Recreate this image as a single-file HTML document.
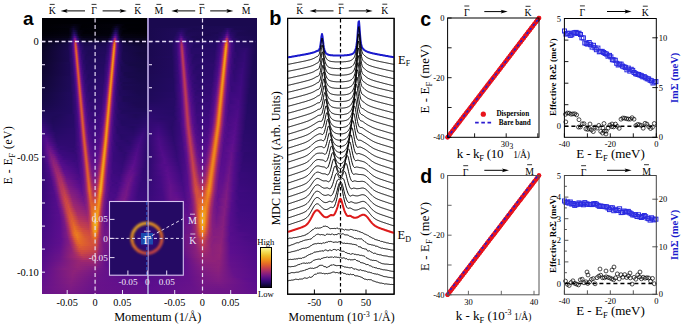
<!DOCTYPE html><html><head><meta charset="utf-8"><style>
html,body{margin:0;padding:0;background:#fff;}
body{width:685px;height:329px;overflow:hidden;position:relative;font-family:"Liberation Serif",serif;}
.hm{position:absolute;overflow:hidden}
.hm i{position:absolute;left:0;width:100%;display:block}
svg{position:absolute;left:0;top:0}
</style></head><body>
<div class="hm" style="left:42px;top:18px;width:105px;height:276px"><i style="top:0px;height:2px;background:linear-gradient(90deg,#000004 0.5px,#000004 104.5px)"></i><i style="top:2px;height:2px;background:linear-gradient(90deg,#000004 0.5px,#000004 104.5px)"></i><i style="top:4px;height:2px;background:linear-gradient(90deg,#000004 0.5px,#000006 79.5px,#000004 104.5px)"></i><i style="top:6px;height:2px;background:linear-gradient(90deg,#000004 0.5px,#020108 27.5px,#040212 32.5px,#000004 40.5px,#020109 70.5px,#060216 75.5px,#000004 83.5px,#000004 104.5px)"></i><i style="top:8px;height:2px;background:linear-gradient(90deg,#000004 0.5px,#02010b 27.5px,#080420 31.5px,#000004 39.5px,#020109 69.5px,#0c0628 74.5px,#010006 80.5px,#000004 104.5px)"></i><i style="top:10px;height:2px;background:linear-gradient(90deg,#000004 0.5px,#010108 26.5px,#0e0630 31.5px,#06041a 34.5px,#000006 38.5px,#010108 68.5px,#080420 71.5px,#12083c 73.5px,#100634 75.5px,#03020e 78.5px,#000004 86.5px,#000004 104.5px)"></i><i style="top:12px;height:2px;background:linear-gradient(90deg,#000004 0.5px,#02010a 26.5px,#0a0424 29.5px,#150844 31.5px,#110838 33.5px,#040210 36.5px,#000005 43.5px,#02010b 68.5px,#08041c 70.5px,#160846 72.5px,#1c0a52 73.5px,#160844 75.5px,#07041a 77.5px,#000006 81.5px,#000005 104.5px)"></i><i style="top:14px;height:2px;background:linear-gradient(90deg,#000006 0.5px,#02010c 26.5px,#06041a 28.5px,#1d0a54 31.5px,#1f0a5a 32.5px,#12083b 34.5px,#060216 36.5px,#010006 41.5px,#02010b 67.5px,#06041a 69.5px,#210a5e 72.5px,#290a6a 73.5px,#250a64 74.5px,#08041e 77.5px,#020109 80.5px,#010006 104.5px)"></i><i style="top:16px;height:2px;background:linear-gradient(90deg,#010008 0.5px,#040210 26.5px,#080420 28.5px,#280a68 31.5px,#320a73 32.5px,#1c0a53 34.5px,#0a0422 36.5px,#02020c 39.5px,#02020d 66.5px,#060418 68.5px,#160846 70.5px,#380a78 72.5px,#420b80 73.5px,#360a77 74.5px,#0b0527 77.5px,#040210 79.5px,#020109 104.5px)"></i><i style="top:18px;height:2px;background:linear-gradient(90deg,#02010b 0.5px,#060316 26.5px,#0e062d 28.5px,#230a61 30.5px,#3a0a7c 31.5px,#500c88 32.5px,#480c84 33.5px,#1c0a54 35.5px,#0a0524 37.5px,#040212 41.5px,#060216 66.5px,#0c062b 68.5px,#240a60 70.5px,#3e0a7e 71.5px,#5e1089 72.5px,#68128a 73.5px,#4c0c86 74.5px,#1b0951 76.5px,#0a0421 78.5px,#040212 82.5px,#04020f 104.5px)"></i><i style="top:20px;height:2px;background:linear-gradient(90deg,#040211 0.5px,#080420 25.5px,#0e062f 27.5px,#1d0a56 29.5px,#300a70 30.5px,#4f0c88 31.5px,#781984 32.5px,#781a83 33.5px,#4f0c88 34.5px,#300a70 35.5px,#140840 37.5px,#0a0525 39.5px,#060419 49.5px,#0a0422 65.5px,#170848 68.5px,#240a61 69.5px,#3c0a7d 70.5px,#64128a 71.5px,#9a2771 72.5px,#992672 73.5px,#64128c 74.5px,#3c0a7e 75.5px,#230a61 76.5px,#100735 78.5px,#08041e 81.5px,#060318 104.5px)"></i><i style="top:22px;height:2px;background:linear-gradient(90deg,#060318 0.5px,#0e062e 24.5px,#150843 27.5px,#240a64 29.5px,#3a0a7b 30.5px,#5e0e8d 31.5px,#9a2672 32.5px,#ae3162 33.5px,#781984 34.5px,#480c84 35.5px,#2c0a6e 36.5px,#13083e 39.5px,#0c0629 44.5px,#0e062e 63.5px,#1a094f 67.5px,#370a78 69.5px,#590e8b 70.5px,#972573 71.5px,#ce4c40 72.5px,#bb3a55 73.5px,#761885 74.5px,#470b84 75.5px,#2c0a6d 76.5px,#13083e 79.5px,#0c0628 85.5px,#0a0424 104.5px)"></i><i style="top:24px;height:2px;background:linear-gradient(90deg,#08041d 0.5px,#12083c 24.5px,#200a5b 28.5px,#400a80 30.5px,#65128b 31.5px,#a82d68 32.5px,#ce4942 33.5px,#a0286e 34.5px,#60108c 35.5px,#3f0a80 36.5px,#220a60 38.5px,#170948 42.5px,#1a094d 64.5px,#260a66 67.5px,#4b0c86 69.5px,#771885 70.5px,#c03e50 71.5px,#e67024 72.5px,#ca4546 73.5px,#7e1c82 74.5px,#4d0c87 75.5px,#240a63 77.5px,#13083f 81.5px,#0e0630 93.5px,#0e0630 104.5px)"></i><i style="top:26px;height:2px;background:linear-gradient(90deg,#090421 0.5px,#170948 25.5px,#220a61 28.5px,#420a82 30.5px,#65128b 31.5px,#aa2d66 32.5px,#d85834 33.5px,#ba3956 34.5px,#741886 35.5px,#4a0c86 36.5px,#280a69 38.5px,#1b0950 42.5px,#1c0952 63.5px,#2f0a70 67.5px,#590e8c 69.5px,#8f2278 70.5px,#d85735 71.5px,#ec841e 72.5px,#ca4546 73.5px,#7d1b83 74.5px,#4f0c88 75.5px,#280a68 77.5px,#160947 81.5px,#110738 94.5px,#100736 104.5px)"></i><i style="top:28px;height:2px;background:linear-gradient(90deg,#0a0524 0.5px,#18094b 25.5px,#2e0a6f 29.5px,#400a82 30.5px,#60108c 31.5px,#a22a6c 32.5px,#da5a32 33.5px,#cc4844 34.5px,#861e7e 35.5px,#540d8a 36.5px,#2e0a6f 38.5px,#1d0a55 42.5px,#1e0a58 63.5px,#2a0a6b 66.5px,#460b84 68.5px,#65128b 69.5px,#a42a6b 70.5px,#e66d24 71.5px,#ed881d 72.5px,#c23f4e 73.5px,#781884 74.5px,#4e0c87 75.5px,#290a69 77.5px,#18094a 81.5px,#12083a 99.5px,#12083a 104.5px)"></i><i style="top:30px;height:2px;background:linear-gradient(90deg,#0b0526 0.5px,#19094c 25.5px,#2e0a6e 29.5px,#5b0e8e 31.5px,#972573 32.5px,#d85636 33.5px,#d65438 34.5px,#952474 35.5px,#5c0e8d 36.5px,#320a73 38.5px,#1e0a58 42.5px,#200a5a 63.5px,#2e0a6e 66.5px,#4c0c87 68.5px,#711687 69.5px,#b4355c 70.5px,#eb7f1f 71.5px,#ec821e 72.5px,#b6365a 73.5px,#701688 74.5px,#4a0c86 75.5px,#280a69 77.5px,#18094b 81.5px,#13083c 100.5px,#12083c 104.5px)"></i><i style="top:32px;height:2px;background:linear-gradient(90deg,#0b0527 0.5px,#1b0951 26.5px,#2c0a6e 29.5px,#560d8b 31.5px,#8b207b 32.5px,#d24d3e 33.5px,#dc5d30 34.5px,#a52a6a 35.5px,#66128b 36.5px,#460b84 37.5px,#240a64 40.5px,#1d0a56 46.5px,#200a5c 63.5px,#310a72 66.5px,#520d8a 68.5px,#7d1b83 69.5px,#c5414b 70.5px,#ee8c1c 71.5px,#e87622 72.5px,#aa2e66 73.5px,#68138a 74.5px,#470b84 75.5px,#280a68 77.5px,#18094b 81.5px,#13083e 104.5px)"></i><i style="top:34px;height:2px;background:linear-gradient(90deg,#0c0528 0.5px,#1b0951 26.5px,#2b0a6c 29.5px,#510c88 31.5px,#801c82 32.5px,#c84448 33.5px,#e0622c 34.5px,#b2345e 35.5px,#701687 36.5px,#4c0c86 37.5px,#260a66 40.5px,#1e0a56 46.5px,#220a5e 63.5px,#340a75 66.5px,#5a0e8c 68.5px,#8a207c 69.5px,#d24f3c 70.5px,#f0941a 71.5px,#e46827 72.5px,#9e286f 73.5px,#62108c 74.5px,#320a74 76.5px,#1a094f 80.5px,#14083f 97.5px,#13083e 104.5px)"></i><i style="top:36px;height:2px;background:linear-gradient(90deg,#0c0529 0.5px,#1b0951 26.5px,#2a0a6a 29.5px,#4c0c86 31.5px,#761886 32.5px,#bb3a55 33.5px,#e0642b 34.5px,#c03e50 35.5px,#7b1a84 36.5px,#510c88 37.5px,#300a70 39.5px,#1e0a58 44.5px,#200a5c 62.5px,#360a78 66.5px,#61108c 68.5px,#972673 69.5px,#dc5e30 70.5px,#f0961b 71.5px,#da5a33 72.5px,#912377 73.5px,#5b0e8e 74.5px,#300a72 76.5px,#1a094f 80.5px,#140840 98.5px,#14083f 104.5px)"></i><i style="top:38px;height:2px;background:linear-gradient(90deg,#0c052a 0.5px,#1b0951 26.5px,#280a68 29.5px,#480b84 31.5px,#6c1488 32.5px,#af3161 33.5px,#de612d 34.5px,#cc4644 35.5px,#871f7d 36.5px,#560e8c 37.5px,#320a74 39.5px,#200a5b 43.5px,#210a5e 62.5px,#3a0a7c 66.5px,#4b0c86 67.5px,#6a138a 68.5px,#a62c6a 69.5px,#e66e24 70.5px,#f0921a 71.5px,#d04c3f 72.5px,#861e7e 73.5px,#560d8c 74.5px,#2f0a70 76.5px,#1a094f 80.5px,#140840 101.5px,#140840 104.5px)"></i><i style="top:40px;height:2px;background:linear-gradient(90deg,#0c062a 0.5px,#1b0950 26.5px,#320a74 30.5px,#440b83 31.5px,#64118c 32.5px,#a22a6c 33.5px,#da5b32 34.5px,#d4503b 35.5px,#942475 36.5px,#5e0e8e 37.5px,#350a76 39.5px,#200a5c 43.5px,#220a60 62.5px,#3d0a7f 66.5px,#500c88 67.5px,#741786 68.5px,#b4345c 69.5px,#ea7c20 70.5px,#ee8a1c 71.5px,#c4404c 72.5px,#7c1a83 73.5px,#520c8a 74.5px,#2e0a6e 76.5px,#1a094f 80.5px,#140841 102.5px,#140840 104.5px)"></i><i style="top:42px;height:2px;background:linear-gradient(90deg,#0d062c 0.5px,#1b0950 26.5px,#300a72 30.5px,#5c0e8e 32.5px,#962474 33.5px,#d55239 34.5px,#da5934 35.5px,#a22a6c 36.5px,#66128a 37.5px,#480c84 38.5px,#260a67 41.5px,#200a5a 47.5px,#220a61 62.5px,#340a75 65.5px,#560d8a 67.5px,#7e1b82 68.5px,#c2404e 69.5px,#ee881c 70.5px,#eb801f 71.5px,#b6365a 72.5px,#731786 73.5px,#4e0c88 74.5px,#2c0a6c 76.5px,#19094c 81.5px,#140842 104.5px)"></i><i style="top:44px;height:2px;background:linear-gradient(90deg,#0d062c 0.5px,#1d0a55 27.5px,#300a70 30.5px,#570e8c 32.5px,#8a207c 33.5px,#ce4842 34.5px,#de5f2f 35.5px,#ae3162 36.5px,#701688 37.5px,#4d0c87 38.5px,#280a68 41.5px,#200a5b 47.5px,#240a62 62.5px,#360a78 65.5px,#5c0e8e 67.5px,#8a207c 68.5px,#d04c3f 69.5px,#f0921a 70.5px,#e87222 71.5px,#aa2e66 72.5px,#6b1489 73.5px,#4a0c86 74.5px,#230a62 77.5px,#180949 83.5px,#150942 104.5px)"></i><i style="top:46px;height:2px;background:linear-gradient(90deg,#0e062e 0.5px,#1d0955 27.5px,#2e0a6e 30.5px,#520d8a 32.5px,#801c82 33.5px,#c3404d 34.5px,#df622c 35.5px,#bb3a55 36.5px,#7a1a84 37.5px,#520d8a 38.5px,#320a74 40.5px,#210a5e 44.5px,#220a60 61.5px,#3a0a7b 65.5px,#63108c 67.5px,#962574 68.5px,#da5a33 69.5px,#f0961a 70.5px,#e0642b 71.5px,#9e286f 72.5px,#64118c 73.5px,#360a76 75.5px,#1f0a59 78.5px,#160947 87.5px,#150943 104.5px)"></i><i style="top:48px;height:2px;background:linear-gradient(90deg,#0e062f 0.5px,#1d0955 27.5px,#2c0a6d 30.5px,#4e0c88 32.5px,#761886 33.5px,#b73759 34.5px,#de612e 35.5px,#c74349 36.5px,#851e7e 37.5px,#580e8c 38.5px,#340a76 40.5px,#220a60 44.5px,#230a62 61.5px,#3c0a7e 65.5px,#4d0c88 66.5px,#6c1489 67.5px,#a42a6a 68.5px,#e46827 69.5px,#f0941a 70.5px,#d85636 71.5px,#922376 72.5px,#5e0e8e 73.5px,#340a74 75.5px,#1c0953 79.5px,#160945 96.5px,#150944 104.5px)"></i><i style="top:50px;height:2px;background:linear-gradient(90deg,#0e0630 0.5px,#1d0955 27.5px,#2b0a6c 30.5px,#4a0c86 32.5px,#6d1488 33.5px,#ac2e64 34.5px,#dc5d30 35.5px,#d04c3f 36.5px,#912377 37.5px,#5f0f8d 38.5px,#380a79 40.5px,#220a60 44.5px,#240a64 61.5px,#400a80 65.5px,#520d8a 66.5px,#741886 67.5px,#b2345e 68.5px,#e97821 69.5px,#ee901c 70.5px,#ce4942 71.5px,#881f7e 72.5px,#580e8c 73.5px,#320a74 75.5px,#1c0953 79.5px,#160946 99.5px,#160945 104.5px)"></i><i style="top:52px;height:2px;background:linear-gradient(90deg,#0f0631 0.5px,#1d0955 27.5px,#2a0a6a 30.5px,#470b84 32.5px,#65128b 33.5px,#9f286e 34.5px,#d85636 35.5px,#d65538 36.5px,#9e286e 37.5px,#67128a 38.5px,#4a0c86 39.5px,#2a0a6a 42.5px,#220a60 49.5px,#250a65 61.5px,#430b82 65.5px,#580e8c 66.5px,#7f1c82 67.5px,#c03e50 68.5px,#ec841e 69.5px,#ec861e 70.5px,#c23e4e 71.5px,#7e1b82 72.5px,#540d8a 73.5px,#300a72 75.5px,#1c0954 79.5px,#160946 97.5px,#160946 104.5px)"></i><i style="top:54px;height:2px;background:linear-gradient(90deg,#0f0632 0.5px,#1d0955 27.5px,#340a74 31.5px,#5e0e8e 33.5px,#932476 34.5px,#d24e3e 35.5px,#db5c32 36.5px,#ab2e65 37.5px,#701688 38.5px,#4f0c88 39.5px,#2c0a6c 42.5px,#220a60 49.5px,#260a66 61.5px,#3a0a7b 64.5px,#5e0e8e 66.5px,#8a207b 67.5px,#ce4942 68.5px,#ee8e1c 69.5px,#ea7b20 70.5px,#b5365b 71.5px,#751886 72.5px,#500c88 73.5px,#260a66 76.5px,#19094d 82.5px,#160946 104.5px)"></i><i style="top:56px;height:2px;background:linear-gradient(90deg,#100733 0.5px,#1d0955 27.5px,#320a73 31.5px,#580e8c 33.5px,#881f7c 34.5px,#c94447 35.5px,#de602e 36.5px,#b73759 37.5px,#7a1a84 38.5px,#540d8a 39.5px,#340a76 41.5px,#230a61 46.5px,#280a68 61.5px,#3c0a7e 64.5px,#65128b 66.5px,#962573 67.5px,#d85636 68.5px,#f0941a 69.5px,#e66e24 70.5px,#aa2e66 71.5px,#6e1588 72.5px,#4d0c87 73.5px,#260a66 76.5px,#1a094e 82.5px,#160947 104.5px)"></i><i style="top:58px;height:2px;background:linear-gradient(90deg,#100734 0.5px,#1f0a59 28.5px,#300a72 31.5px,#540d8a 33.5px,#7e1c82 34.5px,#be3c52 35.5px,#de602e 36.5px,#c23f4e 37.5px,#841e7f 38.5px,#5a0e8c 39.5px,#380a79 41.5px,#230a62 46.5px,#290a6a 61.5px,#400a80 64.5px,#500c88 65.5px,#6e1588 66.5px,#a42a6a 67.5px,#e1642a 68.5px,#f0961b 69.5px,#de602e 70.5px,#9e286f 71.5px,#67128a 72.5px,#380a7a 74.5px,#210a5e 77.5px,#18094b 86.5px,#170948 104.5px)"></i><i style="top:60px;height:2px;background:linear-gradient(90deg,#100736 0.5px,#1f0a59 28.5px,#300a70 31.5px,#500c88 33.5px,#761886 34.5px,#b3345d 35.5px,#dc5e30 36.5px,#cd4843 37.5px,#902278 38.5px,#60108c 39.5px,#3a0a7c 41.5px,#250a65 45.5px,#2a0a6b 61.5px,#430b82 64.5px,#540d8a 65.5px,#761885 66.5px,#b1325f 67.5px,#e87222 68.5px,#f0931a 69.5px,#d65338 70.5px,#922476 71.5px,#60108c 72.5px,#370a78 74.5px,#1e0a58 78.5px,#18094a 95.5px,#170949 104.5px)"></i><i style="top:62px;height:2px;background:linear-gradient(90deg,#110736 0.5px,#1f0a59 28.5px,#2e0a6f 31.5px,#4c0c86 33.5px,#6e1588 34.5px,#a82c68 35.5px,#d95834 36.5px,#d4503b 37.5px,#9c2770 38.5px,#68128a 39.5px,#4c0c86 40.5px,#2c0a6e 43.5px,#250a65 50.5px,#2c0a6c 61.5px,#460b84 64.5px,#5a0e8d 65.5px,#801c82 66.5px,#be3c52 67.5px,#eb801f 68.5px,#ee8c1c 69.5px,#cc4844 70.5px,#89207c 71.5px,#5c0e8e 72.5px,#360a76 74.5px,#1e0a58 78.5px,#18094a 97.5px,#18094a 104.5px)"></i><i style="top:64px;height:2px;background:linear-gradient(90deg,#110738 0.5px,#1f0a59 28.5px,#2d0a6e 31.5px,#490c86 33.5px,#66128a 34.5px,#9d2870 35.5px,#d4523a 36.5px,#d85835 37.5px,#a82c68 38.5px,#701687 39.5px,#510c88 40.5px,#2e0a70 43.5px,#260a66 50.5px,#2e0a6e 61.5px,#4a0c86 64.5px,#60108c 65.5px,#8c207a 66.5px,#cc4644 67.5px,#ee8b1c 68.5px,#ec831e 69.5px,#c03e50 70.5px,#801c82 71.5px,#570e8c 72.5px,#2a0a6b 75.5px,#1b0951 81.5px,#18094a 104.5px)"></i><i style="top:66px;height:2px;background:linear-gradient(90deg,#120739 0.5px,#1f0a59 28.5px,#360a78 32.5px,#60108c 34.5px,#922376 35.5px,#ce4942 36.5px,#dc5d31 37.5px,#b4345c 38.5px,#7a1a84 39.5px,#560d8b 40.5px,#380a7a 42.5px,#260a66 47.5px,#2c0a6c 60.5px,#400a80 63.5px,#68128a 65.5px,#972573 66.5px,#d65438 67.5px,#f0921a 68.5px,#e87622 69.5px,#b4355c 70.5px,#781984 71.5px,#540d8a 72.5px,#320a74 74.5px,#1d0a56 79.5px,#18094b 104.5px)"></i><i style="top:68px;height:2px;background:linear-gradient(90deg,#12083a 0.5px,#1f0a59 28.5px,#350a76 32.5px,#5a0e8e 34.5px,#881f7d 35.5px,#c4414c 36.5px,#dd5f2f 37.5px,#be3c52 38.5px,#841e80 39.5px,#5b0e8e 40.5px,#3a0a7c 42.5px,#280a68 46.5px,#2c0a6e 60.5px,#420b82 63.5px,#530d8a 64.5px,#701688 65.5px,#a42a6b 66.5px,#df622d 67.5px,#f0961b 68.5px,#e46a26 69.5px,#aa2e66 70.5px,#701688 71.5px,#500c88 72.5px,#290a6a 75.5px,#1c0952 81.5px,#19094c 104.5px)"></i><i style="top:70px;height:2px;background:linear-gradient(90deg,#12083c 0.5px,#1f0a5a 28.5px,#340a75 32.5px,#560d8c 34.5px,#7e1c82 35.5px,#ba3a56 36.5px,#dc5e30 37.5px,#c94447 38.5px,#8e2278 39.5px,#62108c 40.5px,#3d0a7f 42.5px,#280a69 46.5px,#2e0a6f 60.5px,#460b84 63.5px,#580e8c 64.5px,#781984 65.5px,#b03260 66.5px,#e76e24 67.5px,#f0961a 68.5px,#dc5d30 69.5px,#9e286e 70.5px,#6a148a 71.5px,#4d0c87 72.5px,#280a69 75.5px,#1c0953 81.5px,#19094c 104.5px)"></i><i style="top:72px;height:2px;background:linear-gradient(90deg,#13083c 0.5px,#1f0a5a 28.5px,#320a74 32.5px,#520d8a 34.5px,#761886 35.5px,#b03260 36.5px,#da5b32 37.5px,#d04c3e 38.5px,#9a2672 39.5px,#69138a 40.5px,#400a81 42.5px,#2a0a6a 46.5px,#300a70 60.5px,#4a0c86 63.5px,#5c0e8e 64.5px,#821d80 65.5px,#bc3b54 66.5px,#ea7c20 67.5px,#f0921a 68.5px,#d4513a 69.5px,#942474 70.5px,#64128c 71.5px,#3a0a7c 73.5px,#210a5d 77.5px,#1a094e 94.5px,#19094d 104.5px)"></i><i style="top:74px;height:2px;background:linear-gradient(90deg,#13083e 0.5px,#210a5e 29.5px,#320a72 32.5px,#4f0c88 34.5px,#6f1688 35.5px,#a62c69 36.5px,#d75637 37.5px,#d65438 38.5px,#a52b6a 39.5px,#711687 40.5px,#530d8a 41.5px,#320a74 44.5px,#2a0a6a 51.5px,#320a72 60.5px,#4d0c88 63.5px,#64108c 64.5px,#8c217a 65.5px,#ca4446 66.5px,#ec881e 67.5px,#ee8a1c 68.5px,#cb4645 69.5px,#8b207a 70.5px,#5f108d 71.5px,#390a7a 73.5px,#210a5d 77.5px,#1a094f 95.5px,#1a094e 104.5px)"></i><i style="top:76px;height:2px;background:linear-gradient(90deg,#140840 0.5px,#210a5e 29.5px,#3c0a7e 33.5px,#68128a 35.5px,#9c2770 36.5px,#d24e3d 37.5px,#da5a33 38.5px,#b03260 39.5px,#7a1a84 40.5px,#580e8c 41.5px,#340a76 44.5px,#2a0a6b 50.5px,#340a74 60.5px,#510c88 63.5px,#6a148a 64.5px,#982673 65.5px,#d4503b 66.5px,#ef901b 67.5px,#eb801f 68.5px,#c03e50 69.5px,#831d80 70.5px,#5b0e8e 71.5px,#380a7a 73.5px,#210a5e 77.5px,#1a0950 97.5px,#1a094f 104.5px)"></i><i style="top:78px;height:2px;background:linear-gradient(90deg,#140840 0.5px,#210a5e 29.5px,#3a0a7c 33.5px,#62108c 35.5px,#922376 36.5px,#cc4644 37.5px,#dc5c30 38.5px,#ba3a56 39.5px,#831d80 40.5px,#5c0e8e 41.5px,#360a78 44.5px,#2b0a6c 50.5px,#300a72 59.5px,#460b84 62.5px,#560d8a 63.5px,#721686 64.5px,#a32a6b 65.5px,#dc5e30 66.5px,#f0951a 67.5px,#e87422 68.5px,#b6365a 69.5px,#7c1a84 70.5px,#570d8c 71.5px,#2e0a6e 74.5px,#1d0a56 81.5px,#1a0950 104.5px)"></i><i style="top:80px;height:2px;background:linear-gradient(90deg,#140842 0.5px,#210a5e 29.5px,#380a7a 33.5px,#5d0e8e 35.5px,#88207c 36.5px,#c23f4e 37.5px,#dc5e30 38.5px,#c4414c 39.5px,#8c217a 40.5px,#63108c 41.5px,#400a81 43.5px,#2c0a6c 48.5px,#320a74 59.5px,#490c86 62.5px,#5a0e8e 63.5px,#7a1a84 64.5px,#af3161 65.5px,#e46a26 66.5px,#f0971b 67.5px,#e36828 68.5px,#ac2e64 69.5px,#741886 70.5px,#540d8a 71.5px,#2d0a6e 74.5px,#1e0a56 81.5px,#1b0950 104.5px)"></i><i style="top:82px;height:2px;background:linear-gradient(90deg,#150944 0.5px,#220a5f 29.5px,#380a79 33.5px,#590e8c 35.5px,#801c82 36.5px,#b83858 37.5px,#dc5c32 38.5px,#cd4842 39.5px,#982573 40.5px,#6a148a 41.5px,#430b82 43.5px,#2e0a6e 47.5px,#340a75 59.5px,#4d0c86 62.5px,#60108c 63.5px,#841e80 64.5px,#ba3a56 65.5px,#e97721 66.5px,#f0951a 67.5px,#dc5c31 68.5px,#a2296c 69.5px,#6e1688 70.5px,#510c89 71.5px,#2c0a6d 74.5px,#1e0a57 81.5px,#1b0952 104.5px)"></i><i style="top:84px;height:2px;background:linear-gradient(90deg,#160946 0.5px,#220a5f 29.5px,#360a78 33.5px,#560d8b 35.5px,#781984 36.5px,#af3161 37.5px,#d95834 38.5px,#d3503c 39.5px,#a22a6c 40.5px,#721686 41.5px,#550d8a 42.5px,#360a78 45.5px,#300a70 52.5px,#360a76 59.5px,#500c88 62.5px,#66128a 63.5px,#8e217a 64.5px,#c74249 65.5px,#ec831e 66.5px,#ef901b 67.5px,#d4513a 68.5px,#982672 69.5px,#69148a 70.5px,#3e0a80 72.5px,#230a63 76.5px,#1c0954 91.5px,#1c0952 104.5px)"></i><i style="top:86px;height:2px;background:linear-gradient(90deg,#170948 0.5px,#220a5f 29.5px,#350a76 33.5px,#520d8a 35.5px,#721686 36.5px,#a62b6a 37.5px,#d5523a 38.5px,#d75636 39.5px,#ac3064 40.5px,#7a1a84 41.5px,#5a0e8c 42.5px,#380a7a 45.5px,#300a71 52.5px,#380a78 59.5px,#540d8a 62.5px,#6d1488 63.5px,#982672 64.5px,#d24d3e 65.5px,#ee8d1c 66.5px,#ed881d 67.5px,#cc4644 68.5px,#8f2278 69.5px,#64128c 70.5px,#3e0a80 72.5px,#230a63 76.5px,#1d0954 93.5px,#1c0953 104.5px)"></i><i style="top:88px;height:2px;background:linear-gradient(90deg,#18094a 0.5px,#220a60 29.5px,#340a76 33.5px,#500c88 35.5px,#6c1488 36.5px,#9c2770 37.5px,#d04b40 38.5px,#da5a32 39.5px,#b6365a 40.5px,#821d80 41.5px,#5e0f8e 42.5px,#400a82 44.5px,#300a70 49.5px,#390a7a 59.5px,#580e8c 62.5px,#741886 63.5px,#a32a6b 64.5px,#da5a34 65.5px,#f0941a 66.5px,#ea7e20 67.5px,#c13e4f 68.5px,#871f7e 69.5px,#5f108d 70.5px,#3c0a7e 72.5px,#240a63 76.5px,#1d0954 96.5px,#1c0954 104.5px)"></i><i style="top:90px;height:2px;background:linear-gradient(90deg,#1a094d 0.5px,#220a60 29.5px,#340a74 33.5px,#4c0c87 35.5px,#66128a 36.5px,#922376 37.5px,#c94447 38.5px,#dc5c31 39.5px,#c03e50 40.5px,#8c217a 41.5px,#65128b 42.5px,#440b82 44.5px,#300a72 49.5px,#3a0a7c 59.5px,#5e0e8e 62.5px,#7c1a83 63.5px,#ae3062 64.5px,#e26628 65.5px,#f0981b 66.5px,#e87222 67.5px,#b6375a 68.5px,#801c82 69.5px,#5c0e8e 70.5px,#3b0a7c 72.5px,#220a60 77.5px,#1d0a55 104.5px)"></i><i style="top:92px;height:2px;background:linear-gradient(90deg,#1b0951 0.5px,#220a61 29.5px,#3c0a7e 34.5px,#60108c 36.5px,#8a207c 37.5px,#c03e50 38.5px,#dc5c31 39.5px,#ca4446 40.5px,#962574 41.5px,#6c1488 42.5px,#460b84 44.5px,#320a72 49.5px,#380a7a 58.5px,#500c88 61.5px,#64108c 62.5px,#851e7e 63.5px,#b93857 64.5px,#e87222 65.5px,#f0981b 66.5px,#e26728 67.5px,#ae3062 68.5px,#7a1a84 69.5px,#580e8c 70.5px,#310a72 73.5px,#200a5c 80.5px,#1e0a57 104.5px)"></i><i style="top:94px;height:2px;background:linear-gradient(90deg,#1c0a55 0.5px,#230a61 29.5px,#3b0a7d 34.5px,#5c0e8e 36.5px,#821d80 37.5px,#b73759 38.5px,#da5a33 39.5px,#d04c3f 40.5px,#a0296e 41.5px,#731786 42.5px,#580e8c 43.5px,#3a0a7c 46.5px,#340a76 56.5px,#480b84 60.5px,#6a148a 62.5px,#8e2278 63.5px,#c5414b 64.5px,#ea7f20 65.5px,#f0951a 66.5px,#db5c32 67.5px,#a42a6a 68.5px,#741786 69.5px,#560d8b 70.5px,#310a72 73.5px,#210a5e 79.5px,#200a5b 104.5px)"></i><i style="top:96px;height:2px;background:linear-gradient(90deg,#1f0a5a 0.5px,#1f0a5a 17.5px,#270a68 31.5px,#460b84 35.5px,#580e8c 36.5px,#7b1a84 37.5px,#ae3062 38.5px,#d75636 39.5px,#d5523a 40.5px,#aa2e66 41.5px,#7a1a84 42.5px,#5c0e8e 43.5px,#3c0a7e 46.5px,#350a76 54.5px,#420a82 59.5px,#580e8c 61.5px,#701688 62.5px,#982672 63.5px,#d04b40 64.5px,#ee8a1c 65.5px,#ee8f1c 66.5px,#d4513a 67.5px,#9b2770 68.5px,#6e1488 69.5px,#430b82 71.5px,#270a67 75.5px,#1f0a59 93.5px,#220a5e 104.5px)"></i><i style="top:98px;height:2px;background:linear-gradient(90deg,#220a5e 0.5px,#1e0a58 13.5px,#280a68 31.5px,#440b83 35.5px,#560d8b 36.5px,#741886 37.5px,#a62b6a 38.5px,#d3503c 39.5px,#d85835 40.5px,#831d80 42.5px,#62108c 43.5px,#440b83 45.5px,#340a76 50.5px,#3e0a80 58.5px,#5c0e8e 61.5px,#771885 62.5px,#a32a6b 63.5px,#d85736 64.5px,#f0921a 65.5px,#ec861e 66.5px,#cc4744 67.5px,#932476 68.5px,#69138a 69.5px,#420a82 71.5px,#270a68 75.5px,#200a5a 93.5px,#240a62 104.5px)"></i><i style="top:100px;height:2px;background:linear-gradient(90deg,#250a64 0.5px,#1e0a58 10.5px,#280a68 31.5px,#430b82 35.5px,#520d8a 36.5px,#6e1688 37.5px,#9c2770 38.5px,#ce4942 39.5px,#da5b32 40.5px,#bc3b54 41.5px,#8b207a 42.5px,#68128a 43.5px,#470b84 45.5px,#360a77 50.5px,#400a80 58.5px,#61108c 61.5px,#7f1c82 62.5px,#ae3062 63.5px,#e0632c 64.5px,#f0971b 65.5px,#ea7c20 66.5px,#c23f4e 67.5px,#8b207b 68.5px,#64128c 69.5px,#400a81 71.5px,#250a65 76.5px,#210a5e 95.5px,#260a66 104.5px)"></i><i style="top:102px;height:2px;background:linear-gradient(90deg,#2a0a6a 0.5px,#1f0a5a 10.5px,#280a68 31.5px,#420a82 35.5px,#69148a 37.5px,#942476 38.5px,#c74249 39.5px,#db5c31 40.5px,#c6424a 41.5px,#942474 42.5px,#6e1488 43.5px,#4a0c86 45.5px,#370a78 50.5px,#420a82 58.5px,#540d8a 60.5px,#66128a 61.5px,#871f7e 62.5px,#b83858 63.5px,#e66e24 64.5px,#f0991c 65.5px,#e87122 66.5px,#b83858 67.5px,#841e7f 68.5px,#60108c 69.5px,#360a78 72.5px,#230a61 79.5px,#240a63 97.5px,#280a68 104.5px)"></i><i style="top:104px;height:2px;background:linear-gradient(90deg,#2e0a6f 0.5px,#200a5c 10.5px,#280a68 31.5px,#400a81 35.5px,#64128c 37.5px,#8c207a 38.5px,#be3c52 39.5px,#db5c32 40.5px,#ce4842 41.5px,#9e286e 42.5px,#741886 43.5px,#5a0e8e 44.5px,#3e0a80 47.5px,#3c0a7e 56.5px,#570e8c 60.5px,#6c1488 61.5px,#902278 62.5px,#c3404d 63.5px,#ea7b20 64.5px,#f0981c 65.5px,#e26628 66.5px,#b03260 67.5px,#7e1c82 68.5px,#5c0e8e 69.5px,#360a77 72.5px,#230a62 79.5px,#240a62 95.5px,#2a0a6a 104.5px)"></i><i style="top:106px;height:2px;background:linear-gradient(90deg,#330a74 0.5px,#210a5e 11.5px,#280a69 31.5px,#3f0a80 35.5px,#60108c 37.5px,#841e7f 38.5px,#b6365a 39.5px,#d95834 40.5px,#d34f3c 41.5px,#a82c68 42.5px,#7c1a84 43.5px,#5f108d 44.5px,#400a81 47.5px,#3c0a7e 56.5px,#4e0c88 59.5px,#5b0e8e 60.5px,#741786 61.5px,#9a2672 62.5px,#ce4942 63.5px,#ec861e 64.5px,#f0941a 65.5px,#dc5c32 66.5px,#a72c68 67.5px,#781884 68.5px,#5a0e8d 69.5px,#350a76 72.5px,#230a62 80.5px,#260a66 95.5px,#2c0a6c 104.5px)"></i><i style="top:108px;height:2px;background:linear-gradient(90deg,#380a79 0.5px,#220a60 11.5px,#290a69 31.5px,#3e0a80 35.5px,#5c0e8e 37.5px,#7e1b82 38.5px,#ae3062 39.5px,#d65438 40.5px,#d65537 41.5px,#b1325f 42.5px,#831e80 43.5px,#64128c 44.5px,#420a82 47.5px,#3e0a80 56.5px,#510c89 59.5px,#7a1a84 61.5px,#a42a6a 62.5px,#d65438 63.5px,#ee8f1c 64.5px,#ee8e1c 65.5px,#d4523a 66.5px,#9e286e 67.5px,#721686 68.5px,#480b84 70.5px,#2c0a6c 74.5px,#220a60 90.5px,#2e0a70 103.5px,#2e0a6e 104.5px)"></i><i style="top:110px;height:2px;background:linear-gradient(90deg,#3c0a7e 0.5px,#230a62 11.5px,#2c0a6c 32.5px,#480b85 36.5px,#590e8c 37.5px,#781884 38.5px,#a62b6a 39.5px,#d24e3d 40.5px,#da5934 41.5px,#ba3956 42.5px,#8b207a 43.5px,#6a148a 44.5px,#4b0c86 46.5px,#3c0a7e 51.5px,#440b83 57.5px,#65128b 60.5px,#821c81 61.5px,#ae3062 62.5px,#de602e 63.5px,#f0961a 64.5px,#ec861e 65.5px,#cd4842 66.5px,#962574 67.5px,#6e1588 68.5px,#460b84 70.5px,#290a6a 75.5px,#240a64 91.5px,#320a74 102.5px,#2e0a70 104.5px)"></i><i style="top:112px;height:2px;background:linear-gradient(90deg,#400a80 0.5px,#240a64 12.5px,#2c0a6d 32.5px,#470b84 36.5px,#560d8c 37.5px,#721686 38.5px,#9d2870 39.5px,#cd4843 40.5px,#db5c32 41.5px,#c2404e 42.5px,#942475 43.5px,#701688 44.5px,#4e0c88 46.5px,#3d0a7f 51.5px,#460b84 57.5px,#580e8c 59.5px,#6a148a 60.5px,#8a207c 61.5px,#b83858 62.5px,#e66b25 63.5px,#f09a1c 64.5px,#ea7c20 65.5px,#c4404c 66.5px,#8f2278 67.5px,#6a148a 68.5px,#450b83 70.5px,#2a0a6a 75.5px,#260a66 91.5px,#340a76 102.5px,#300a70 104.5px)"></i><i style="top:114px;height:2px;background:linear-gradient(90deg,#430b82 0.5px,#360a76 6.5px,#260a66 14.5px,#2c0a6d 32.5px,#460b84 36.5px,#6d1488 38.5px,#952474 39.5px,#c5424b 40.5px,#db5c32 41.5px,#cb4645 42.5px,#9d2870 43.5px,#761886 44.5px,#5e0e8e 45.5px,#430b82 48.5px,#440b82 56.5px,#5b0e8e 59.5px,#922376 61.5px,#c23f4e 62.5px,#e97721 63.5px,#f09a1c 64.5px,#e77023 65.5px,#ba3a56 66.5px,#88207c 67.5px,#66128b 68.5px,#440b83 70.5px,#2a0a6a 75.5px,#280a68 91.5px,#380a78 101.5px,#300a71 104.5px)"></i><i style="top:116px;height:2px;background:linear-gradient(90deg,#450b83 0.5px,#410a82 5.5px,#280a68 13.5px,#2d0a6e 32.5px,#440b83 36.5px,#68128a 38.5px,#8e2279 39.5px,#bd3c53 40.5px,#da5a32 41.5px,#d14c3e 42.5px,#a62c69 43.5px,#7d1b83 44.5px,#540d8a 46.5px,#400a81 50.5px,#4a0c86 57.5px,#60108c 59.5px,#771885 60.5px,#9c2770 61.5px,#cc4843 62.5px,#ec821e 63.5px,#f0981c 64.5px,#e26629 65.5px,#b2345e 66.5px,#821d80 67.5px,#62108c 68.5px,#3a0a7c 71.5px,#270a67 78.5px,#2a0a6a 91.5px,#3a0a7c 100.5px,#310a72 104.5px)"></i><i style="top:118px;height:2px;background:linear-gradient(90deg,#460b84 0.5px,#4c0c86 4.5px,#2a0a6a 13.5px,#2d0a6e 32.5px,#440b82 36.5px,#64128c 38.5px,#861e7e 39.5px,#b6365a 40.5px,#d85736 41.5px,#d5523a 42.5px,#af3261 43.5px,#841e7f 44.5px,#560d8c 46.5px,#420a82 50.5px,#4c0c87 57.5px,#64128c 59.5px,#7e1b82 60.5px,#a62b6a 61.5px,#d5523a 62.5px,#ee8c1c 63.5px,#f0941a 64.5px,#dc5c31 65.5px,#aa2e66 66.5px,#7d1a83 67.5px,#5e0f8d 68.5px,#3a0a7c 71.5px,#270a67 79.5px,#2c0a6e 91.5px,#3e0a80 99.5px,#310a72 104.5px)"></i><i style="top:120px;height:2px;background:linear-gradient(90deg,#460b84 0.5px,#520d8a 4.5px,#2b0a6c 14.5px,#2e0a6e 32.5px,#420b82 36.5px,#60108c 38.5px,#801c82 39.5px,#ae3062 40.5px,#d5523a 41.5px,#d85736 42.5px,#8c217a 44.5px,#5a0e8d 46.5px,#430b82 50.5px,#4a0c85 56.5px,#6a148a 59.5px,#851e7f 60.5px,#ae3062 61.5px,#dc5e30 62.5px,#f0941a 63.5px,#ee8d1c 64.5px,#d55239 65.5px,#a22a6c 66.5px,#781884 67.5px,#5c0e8e 68.5px,#3a0a7b 71.5px,#280a68 79.5px,#2d0a6e 90.5px,#400a82 98.5px,#310a72 104.5px)"></i><i style="top:122px;height:2px;background:linear-gradient(90deg,#450b83 0.5px,#570e8c 4.5px,#2e0a6e 14.5px,#2e0a6f 32.5px,#420a82 36.5px,#5d0e8e 38.5px,#7a1a84 39.5px,#a62b6a 40.5px,#d04c3e 41.5px,#da5a32 42.5px,#c03e50 43.5px,#952474 44.5px,#731786 45.5px,#520d8a 47.5px,#440b83 51.5px,#520d8a 57.5px,#701688 59.5px,#8d217a 60.5px,#b83858 61.5px,#e46a26 62.5px,#f0991c 63.5px,#ec841e 64.5px,#ce4842 65.5px,#9a2672 66.5px,#721686 67.5px,#590e8c 68.5px,#340a75 72.5px,#280a68 85.5px,#420b82 98.5px,#300a71 104.5px)"></i><i style="top:124px;height:2px;background:linear-gradient(90deg,#440b82 0.5px,#5c0e8e 5.5px,#2f0a70 15.5px,#2e0a6f 32.5px,#4a0c86 37.5px,#5a0e8d 38.5px,#741886 39.5px,#9c2770 40.5px,#ca4446 41.5px,#db5c32 42.5px,#ca4546 43.5px,#9f286e 44.5px,#7a1a84 45.5px,#560d8b 47.5px,#460b84 51.5px,#4e0c88 56.5px,#61108c 58.5px,#962574 60.5px,#c4414c 61.5px,#e97721 62.5px,#f09c1c 63.5px,#e97821 64.5px,#c3404d 65.5px,#912376 66.5px,#6e1488 67.5px,#490c85 69.5px,#2e0a6f 74.5px,#2a0a6c 87.5px,#450b83 97.5px,#300a70 104.5px)"></i><i style="top:126px;height:2px;background:linear-gradient(90deg,#410a82 0.5px,#61108c 5.5px,#4a0c86 10.5px,#300a71 16.5px,#2f0a70 32.5px,#4a0c85 37.5px,#6e1688 39.5px,#932476 40.5px,#c13e4f 41.5px,#da5a32 42.5px,#d14c3e 43.5px,#aa2e66 44.5px,#821d80 45.5px,#590e8c 47.5px,#480b84 51.5px,#500c88 56.5px,#66128a 58.5px,#7e1b82 59.5px,#a1296c 60.5px,#d04b40 61.5px,#ec841e 62.5px,#f09a1c 63.5px,#e66c25 64.5px,#b83858 65.5px,#8a207c 66.5px,#69138a 67.5px,#480b84 69.5px,#2e0a6f 74.5px,#2d0a6e 87.5px,#480b84 96.5px,#2f0a70 104.5px)"></i><i style="top:128px;height:2px;background:linear-gradient(90deg,#3e0a80 0.5px,#64128b 5.5px,#61108c 8.5px,#350a77 15.5px,#2e0a6f 31.5px,#3f0a80 36.5px,#540d8a 38.5px,#6a148a 39.5px,#8b207a 40.5px,#b83858 41.5px,#d85735 42.5px,#d55438 43.5px,#8a207c 45.5px,#5c0e8e 47.5px,#4a0c85 51.5px,#540d8a 56.5px,#6c1488 58.5px,#851e7e 59.5px,#ac2f64 60.5px,#d85736 61.5px,#ee8e1c 62.5px,#f0961a 63.5px,#de602e 64.5px,#b03260 65.5px,#841e80 66.5px,#65128b 67.5px,#3e0a80 70.5px,#2b0a6c 77.5px,#320a74 88.5px,#490c85 96.5px,#2e0a6f 104.5px)"></i><i style="top:130px;height:2px;background:linear-gradient(90deg,#3c0a7e 0.5px,#66128a 5.5px,#6a148a 8.5px,#4c0c86 12.5px,#320a74 18.5px,#320a73 33.5px,#470b84 37.5px,#65128b 39.5px,#841e7f 40.5px,#d5523a 42.5px,#d95834 43.5px,#932476 45.5px,#61108c 47.5px,#4c0c86 50.5px,#560d8c 56.5px,#721686 58.5px,#8e227a 59.5px,#b6365a 60.5px,#e0642b 61.5px,#f0971b 62.5px,#ee8e1c 63.5px,#d65538 64.5px,#a72c68 65.5px,#7c1a84 66.5px,#61108c 67.5px,#3e0a80 70.5px,#2c0a6c 77.5px,#320a73 87.5px,#4c0c86 95.5px,#310a72 103.5px,#2e0a6f 104.5px)"></i><i style="top:132px;height:2px;background:linear-gradient(90deg,#3a0a7c 0.5px,#5c0e8e 4.5px,#721686 7.5px,#67128a 10.5px,#3b0a7c 16.5px,#300a71 31.5px,#460b84 37.5px,#61108c 39.5px,#7e1b82 40.5px,#a72c68 41.5px,#d04b40 42.5px,#db5c32 43.5px,#c6424a 44.5px,#9c2770 45.5px,#7c1a84 46.5px,#590e8c 48.5px,#4e0c87 52.5px,#590e8c 56.5px,#781984 58.5px,#962574 59.5px,#c13e4f 60.5px,#e77023 61.5px,#f09c1c 62.5px,#ec841e 63.5px,#cf4a40 64.5px,#9e286e 65.5px,#781884 66.5px,#5e0e8e 67.5px,#3d0a7f 70.5px,#2c0a6c 79.5px,#390a7a 88.5px,#4d0c87 95.5px,#2e0a6e 104.5px)"></i><i style="top:134px;height:2px;background:linear-gradient(90deg,#380a7a 0.5px,#64118c 5.5px,#781884 8.5px,#5f0f8d 12.5px,#3c0a7e 17.5px,#340a74 33.5px,#4f0c88 38.5px,#5e0e8e 39.5px,#781884 40.5px,#9e286e 41.5px,#c94447 42.5px,#db5c31 43.5px,#ce4842 44.5px,#a62c69 45.5px,#821d80 46.5px,#5c0e8e 48.5px,#500c88 52.5px,#5d0e8e 56.5px,#801c82 58.5px,#a0296d 59.5px,#cc4844 60.5px,#ea7e20 61.5px,#f09d1d 62.5px,#e97821 63.5px,#c6424a 64.5px,#962474 65.5px,#721686 66.5px,#5a0e8e 67.5px,#380a7a 71.5px,#2e0a6e 83.5px,#500c88 94.5px,#2d0a6e 104.5px)"></i><i style="top:136px;height:2px;background:linear-gradient(90deg,#360a78 0.5px,#60108c 5.5px,#7c1a84 8.5px,#741886 11.5px,#560e8b 14.5px,#3a0a7c 20.5px,#360a78 34.5px,#4e0c87 38.5px,#5b0e8e 39.5px,#962574 41.5px,#c13e4f 42.5px,#da5a32 43.5px,#d3503c 44.5px,#b03260 45.5px,#8a207c 46.5px,#61108c 48.5px,#520c89 51.5px,#580e8c 55.5px,#701688 57.5px,#871e7e 58.5px,#aa2e66 59.5px,#d5533a 60.5px,#ee8a1c 61.5px,#f09b1c 62.5px,#e66c24 63.5px,#bc3a54 64.5px,#8e2279 65.5px,#580e8c 67.5px,#380a7a 71.5px,#2e0a70 82.5px,#510c89 94.5px,#2d0a6e 104.5px)"></i><i style="top:138px;height:2px;background:linear-gradient(90deg,#340a76 0.5px,#5c0e8e 5.5px,#821d80 9.5px,#771885 12.5px,#4f0c88 16.5px,#3c0a7e 22.5px,#370a78 34.5px,#4c0c87 38.5px,#6e1588 40.5px,#8e2278 41.5px,#d85736 43.5px,#d75636 44.5px,#922476 46.5px,#65128b 48.5px,#540d8a 51.5px,#5c0e8e 55.5px,#761886 57.5px,#8f2278 58.5px,#b4355c 59.5px,#dd5f2f 60.5px,#f0941b 61.5px,#f0961a 62.5px,#df612d 63.5px,#b2345e 64.5px,#881f7d 65.5px,#560d8c 67.5px,#380a7a 71.5px,#300a70 82.5px,#540d8a 93.5px,#2d0a6e 104.5px)"></i><i style="top:140px;height:2px;background:linear-gradient(90deg,#340a75 0.5px,#580e8c 5.5px,#841e7f 9.5px,#821d80 12.5px,#570e8c 16.5px,#410a82 21.5px,#380a7a 34.5px,#4c0c86 38.5px,#6a148a 40.5px,#881f7d 41.5px,#d4523a 43.5px,#da5a33 44.5px,#c23f4e 45.5px,#9c2770 46.5px,#6a148a 48.5px,#560d8b 51.5px,#5f108d 55.5px,#7c1a84 57.5px,#982572 58.5px,#be3d52 59.5px,#e56b25 60.5px,#f09a1c 61.5px,#ee8e1c 62.5px,#d85636 63.5px,#aa2e66 64.5px,#821c81 65.5px,#540d8a 67.5px,#380a7a 71.5px,#320a72 82.5px,#550d8b 93.5px,#2d0a6e 104.5px)"></i><i style="top:142px;height:2px;background:linear-gradient(90deg,#330a74 0.5px,#520d8a 5.5px,#781a84 8.5px,#8d227a 11.5px,#7a1a84 14.5px,#500c88 18.5px,#380a7a 32.5px,#430b82 37.5px,#66128a 40.5px,#821c81 41.5px,#a92d67 42.5px,#d04b40 43.5px,#dc5c31 44.5px,#ca4646 45.5px,#a42b6a 46.5px,#841e7f 47.5px,#62108c 49.5px,#5a0e8d 53.5px,#6f1688 56.5px,#821d80 57.5px,#a0296c 58.5px,#ca4546 59.5px,#e97821 60.5px,#f09e1e 61.5px,#ec841e 62.5px,#d04c3f 63.5px,#a22a6c 64.5px,#7c1a84 65.5px,#530d8a 67.5px,#380a7a 71.5px,#320a74 81.5px,#580d8c 92.5px,#2d0a6e 104.5px)"></i><i style="top:144px;height:2px;background:linear-gradient(90deg,#330a74 0.5px,#4e0c88 5.5px,#731786 8.5px,#902278 11.5px,#841e7f 14.5px,#570e8c 18.5px,#460b84 24.5px,#3c0a7e 35.5px,#540d8a 39.5px,#7c1a84 41.5px,#a1296c 42.5px,#ca4446 43.5px,#dc5d30 44.5px,#d14c3e 45.5px,#8c207a 47.5px,#67128a 49.5px,#5c0e8e 52.5px,#67128a 55.5px,#8a207c 57.5px,#aa2e66 58.5px,#d34f3c 59.5px,#ec851e 60.5px,#ef9f1e 61.5px,#ea7920 62.5px,#c84448 63.5px,#9a2671 64.5px,#60108d 66.5px,#3c0a7e 70.5px,#320a74 80.5px,#590e8c 92.5px,#2f0a70 103.5px,#2e0a6e 104.5px)"></i><i style="top:146px;height:2px;background:linear-gradient(90deg,#330a74 0.5px,#490c86 5.5px,#6c1488 8.5px,#902278 11.5px,#8e2278 14.5px,#580e8c 19.5px,#490c86 25.5px,#3d0a7e 35.5px,#520d8a 39.5px,#781884 41.5px,#9a2672 42.5px,#c2404e 43.5px,#da5b32 44.5px,#d65438 45.5px,#942476 47.5px,#6c1488 49.5px,#5f0f8d 52.5px,#6c1488 55.5px,#912376 57.5px,#b4345c 58.5px,#db5b32 59.5px,#ef901b 60.5px,#f09d1d 61.5px,#e66e24 62.5px,#be3c52 63.5px,#932476 64.5px,#5d0e8e 66.5px,#3c0a7e 70.5px,#340a76 80.5px,#5c0e8e 91.5px,#2f0a70 103.5px,#2e0a6f 104.5px)"></i><i style="top:148px;height:2px;background:linear-gradient(90deg,#330a74 0.5px,#4e0c88 6.5px,#741786 9.5px,#952574 12.5px,#902278 15.5px,#580e8c 20.5px,#3e0a80 35.5px,#520d89 39.5px,#731786 41.5px,#922476 42.5px,#d85835 44.5px,#da5934 45.5px,#9c2770 47.5px,#701688 49.5px,#62108c 52.5px,#711687 55.5px,#9a2672 57.5px,#be3c52 58.5px,#e36728 59.5px,#f0981c 60.5px,#f0981c 61.5px,#e0622c 62.5px,#b6365a 63.5px,#8c217a 64.5px,#5a0e8e 66.5px,#3c0a7e 70.5px,#360a78 80.5px,#5e0f8e 90.5px,#2f0a70 103.5px,#2e0a6f 104.5px)"></i><i style="top:150px;height:2px;background:linear-gradient(90deg,#330a74 0.5px,#4a0c86 6.5px,#6c1488 9.5px,#9a2771 13.5px,#902378 16.5px,#580e8c 21.5px,#410a82 36.5px,#5c0e8e 40.5px,#8c207a 42.5px,#d5523a 44.5px,#dc5d30 45.5px,#c84448 46.5px,#a52b6a 47.5px,#761886 49.5px,#66128a 52.5px,#761886 55.5px,#a22a6c 57.5px,#c84448 58.5px,#e87422 59.5px,#f09e1e 60.5px,#ee901c 61.5px,#d95834 62.5px,#ae3062 63.5px,#861e7e 64.5px,#590e8c 66.5px,#3d0a7e 70.5px,#360a78 79.5px,#60108c 90.5px,#320a73 101.5px,#2f0a70 104.5px)"></i><i style="top:152px;height:2px;background:linear-gradient(90deg,#330a74 0.5px,#4e0c88 7.5px,#741786 10.5px,#9a2671 13.5px,#9a2670 16.5px,#61108c 21.5px,#530d8a 27.5px,#420b82 36.5px,#5a0e8e 40.5px,#871e7e 42.5px,#ac2f64 43.5px,#d14c3e 44.5px,#dd5f2f 45.5px,#d04b40 46.5px,#ae3062 47.5px,#7c1a84 49.5px,#6a148a 52.5px,#7c1a84 55.5px,#ac2e64 57.5px,#d24d3e 58.5px,#eb801f 59.5px,#efa21e 60.5px,#ec861e 61.5px,#d24e3c 62.5px,#a72c68 63.5px,#821c81 64.5px,#580d8c 66.5px,#3a0a7c 71.5px,#380a7a 79.5px,#62108c 88.5px,#540d8a 93.5px,#320a73 101.5px,#300a70 104.5px)"></i><i style="top:154px;height:2px;background:linear-gradient(90deg,#330a74 0.5px,#4a0c86 7.5px,#6c1488 10.5px,#a0296d 14.5px,#9c2770 17.5px,#62108c 22.5px,#440b83 36.5px,#5a0e8d 40.5px,#821c80 42.5px,#a52b6a 43.5px,#cc4644 44.5px,#dd5f2f 45.5px,#d5523a 46.5px,#972573 48.5px,#751886 50.5px,#711687 53.5px,#821c81 55.5px,#b4365c 57.5px,#d95834 58.5px,#ee8c1c 59.5px,#efa21e 60.5px,#ea7b20 61.5px,#cc4644 62.5px,#9f286e 63.5px,#7d1a83 64.5px,#560d8b 66.5px,#3a0a7c 71.5px,#3c0a7d 79.5px,#63108c 87.5px,#5f0f8d 91.5px,#340a75 100.5px,#300a71 104.5px)"></i><i style="top:156px;height:2px;background:linear-gradient(90deg,#340a75 0.5px,#480b84 7.5px,#731786 11.5px,#a52b6a 15.5px,#9c2770 18.5px,#64118c 23.5px,#480b84 37.5px,#590e8c 40.5px,#7e1c82 42.5px,#9e286e 43.5px,#c4414c 44.5px,#dc5d30 45.5px,#d95834 46.5px,#a0286e 48.5px,#7a1a84 50.5px,#761886 53.5px,#88207c 55.5px,#9e286e 56.5px,#be3c52 57.5px,#e1642a 58.5px,#f0961b 59.5px,#f09f1e 60.5px,#e77023 61.5px,#c2404e 62.5px,#982672 63.5px,#62108c 65.5px,#410a81 69.5px,#3a0a7a 77.5px,#64108c 86.5px,#63118c 90.5px,#360a77 99.5px,#310a72 104.5px)"></i><i style="top:158px;height:2px;background:linear-gradient(90deg,#340a75 0.5px,#4b0c86 8.5px,#6b1489 11.5px,#a42a6a 15.5px,#a62b6a 18.5px,#66128a 24.5px,#4a0c85 37.5px,#580e8c 40.5px,#7a1a84 42.5px,#982672 43.5px,#da5a34 45.5px,#dc5e30 46.5px,#a82c68 48.5px,#801c82 50.5px,#7c1a84 53.5px,#902278 55.5px,#a82c68 56.5px,#c84448 57.5px,#e77023 58.5px,#f09e1e 59.5px,#f09a1c 60.5px,#e2662a 61.5px,#ba3a56 62.5px,#922476 63.5px,#60108c 65.5px,#410a81 69.5px,#3c0a7e 77.5px,#64108c 85.5px,#68138a 89.5px,#4a0c85 94.5px,#330a74 101.5px,#320a72 104.5px)"></i><i style="top:160px;height:2px;background:linear-gradient(90deg,#340a76 0.5px,#480b84 8.5px,#721786 12.5px,#aa2e66 16.5px,#a72c68 19.5px,#6e1588 24.5px,#4d0c88 35.5px,#520d89 39.5px,#64118b 41.5px,#932476 43.5px,#d65537 45.5px,#de622d 46.5px,#d04b40 47.5px,#972573 49.5px,#801c82 51.5px,#88207c 54.5px,#b03260 56.5px,#d24e3e 57.5px,#ea7e20 58.5px,#efa420 59.5px,#f0921a 60.5px,#db5c32 61.5px,#b2345e 62.5px,#8c227a 63.5px,#5e0f8d 65.5px,#410a82 69.5px,#3e0a80 77.5px,#64108c 84.5px,#6c1489 88.5px,#4e0c87 93.5px,#340a75 100.5px,#320a73 104.5px)"></i><i style="top:162px;height:2px;background:linear-gradient(90deg,#350a76 0.5px,#4c0c86 9.5px,#6c1488 12.5px,#a82c68 16.5px,#ae3062 19.5px,#761885 24.5px,#68128a 29.5px,#500c88 38.5px,#64118c 41.5px,#8e2279 43.5px,#d3503c 45.5px,#e0632c 46.5px,#d55339 47.5px,#9f286e 49.5px,#861e7e 51.5px,#902278 54.5px,#a0296e 55.5px,#ba3856 56.5px,#d95934 57.5px,#ee8a1c 58.5px,#efa620 59.5px,#ed881d 60.5px,#d4523a 61.5px,#ac2f64 62.5px,#88207d 63.5px,#5c0e8e 65.5px,#3f0a80 70.5px,#440b82 78.5px,#68128a 84.5px,#6c1489 88.5px,#4b0c86 93.5px,#340a76 100.5px,#330a74 104.5px)"></i><i style="top:164px;height:2px;background:linear-gradient(90deg,#350a76 0.5px,#4a0c86 9.5px,#66128a 12.5px,#af3161 17.5px,#ae3162 20.5px,#771885 25.5px,#520c89 38.5px,#63118c 41.5px,#8a207c 43.5px,#ac2e64 44.5px,#cf4a40 45.5px,#e0632b 46.5px,#da5a32 47.5px,#a82c68 49.5px,#8d217a 51.5px,#972672 54.5px,#a92c67 55.5px,#c4404c 56.5px,#e1652a 57.5px,#f0961b 58.5px,#efa620 59.5px,#ea7e20 60.5px,#cf4a40 61.5px,#a62b6a 62.5px,#6c1489 64.5px,#4b0c86 67.5px,#3d0a7e 74.5px,#590e8c 81.5px,#701687 86.5px,#560d8b 91.5px,#370a78 98.5px,#340a75 104.5px)"></i><i style="top:166px;height:2px;background:linear-gradient(90deg,#360a77 0.5px,#480b85 9.5px,#6e1588 13.5px,#ad3063 17.5px,#b6365a 20.5px,#781884 26.5px,#61108c 34.5px,#560d8b 39.5px,#721687 42.5px,#a62c69 44.5px,#ca4546 45.5px,#e0622c 46.5px,#de602e 47.5px,#b03260 49.5px,#942474 51.5px,#a0296e 54.5px,#b2335e 55.5px,#ce4842 56.5px,#e77223 57.5px,#f0a01e 58.5px,#efa31f 59.5px,#e87422 60.5px,#c74449 61.5px,#a0286e 62.5px,#801c82 63.5px,#5a0e8d 65.5px,#400a81 70.5px,#460b84 77.5px,#64128c 82.5px,#711687 86.5px,#520d8a 91.5px,#370a78 98.5px,#340a76 104.5px)"></i><i style="top:168px;height:2px;background:linear-gradient(90deg,#360a78 0.5px,#4c0c86 10.5px,#68128a 13.5px,#b4345c 18.5px,#b6365a 21.5px,#7f1c82 26.5px,#62108c 35.5px,#580e8c 39.5px,#711687 42.5px,#a12a6c 44.5px,#de5f2f 46.5px,#e26629 47.5px,#b93857 49.5px,#9d2870 51.5px,#a92e67 54.5px,#ba3a56 55.5px,#d55339 56.5px,#eb801f 57.5px,#efa720 58.5px,#f09e1e 59.5px,#e46a26 60.5px,#c03e50 61.5px,#9a2672 62.5px,#68128a 64.5px,#460b84 68.5px,#420b82 75.5px,#62108c 81.5px,#721787 85.5px,#500c88 91.5px,#370a79 98.5px,#350a76 104.5px)"></i><i style="top:170px;height:2px;background:linear-gradient(90deg,#370a78 0.5px,#4a0c86 10.5px,#701688 14.5px,#b1325f 18.5px,#bc3b54 21.5px,#801c82 27.5px,#69138a 35.5px,#5b0e8e 39.5px,#701687 42.5px,#9d2870 44.5px,#da5b32 46.5px,#e46a26 47.5px,#b03260 50.5px,#a62b6a 52.5px,#b2345e 54.5px,#c6424a 55.5px,#dd5f2f 56.5px,#ee8c1c 57.5px,#efac22 58.5px,#f0971b 59.5px,#de612d 60.5px,#b93857 61.5px,#942475 62.5px,#66128b 64.5px,#470b84 68.5px,#450b84 75.5px,#68128a 81.5px,#721787 85.5px,#540d8a 90.5px,#380a7a 97.5px,#360a78 104.5px)"></i><i style="top:172px;height:2px;background:linear-gradient(90deg,#370a79 0.5px,#4e0c88 11.5px,#6a148a 14.5px,#b83858 19.5px,#bd3c53 22.5px,#821c81 28.5px,#701688 35.5px,#5e0f8d 39.5px,#701687 42.5px,#982672 44.5px,#d65438 46.5px,#e46926 47.5px,#dc5e30 48.5px,#b6375a 50.5px,#ac3064 52.5px,#ba3a56 54.5px,#ce4842 55.5px,#e46826 56.5px,#f0961a 57.5px,#efaa22 58.5px,#ee8a1c 59.5px,#d75636 60.5px,#b03260 61.5px,#8e2279 62.5px,#64118c 64.5px,#470b84 68.5px,#480b84 75.5px,#65128b 80.5px,#741786 84.5px,#510c89 90.5px,#390a7a 97.5px,#370a78 104.5px)"></i><i style="top:174px;height:2px;background:linear-gradient(90deg,#380a79 0.5px,#520d8a 12.5px,#731786 15.5px,#b5365b 19.5px,#c3404d 22.5px,#881f7d 28.5px,#701688 36.5px,#62108c 40.5px,#7d1b83 43.5px,#b03260 45.5px,#d04a40 46.5px,#e1642b 47.5px,#de602e 48.5px,#bc3c54 50.5px,#b4345c 52.5px,#c13e4f 54.5px,#d34f3c 55.5px,#e67024 56.5px,#f0981c 57.5px,#efa21e 58.5px,#e97a21 59.5px,#ce4942 60.5px,#a82c68 61.5px,#701688 63.5px,#4f0c88 66.5px,#440b83 73.5px,#6a148a 80.5px,#741786 84.5px,#550d8a 89.5px,#3a0a7c 96.5px,#380a79 104.5px)"></i><i style="top:176px;height:2px;background:linear-gradient(90deg,#380a7a 0.5px,#500c88 12.5px,#6c1488 15.5px,#bc3b54 20.5px,#c4414c 23.5px,#88207c 29.5px,#761886 36.5px,#66128a 40.5px,#7a1a84 43.5px,#a82c68 45.5px,#dc5e30 47.5px,#df622d 48.5px,#c4404c 50.5px,#ba3a56 52.5px,#c94447 54.5px,#d85636 55.5px,#e87722 56.5px,#f09a1c 57.5px,#f0961b 58.5px,#e46a26 59.5px,#c2404e 60.5px,#9e286e 61.5px,#6c1488 63.5px,#4a0c86 67.5px,#4a0c86 74.5px,#6e1588 80.5px,#741786 84.5px,#520d8a 89.5px,#3a0a7c 96.5px,#380a7a 104.5px)"></i><i style="top:178px;height:2px;background:linear-gradient(90deg,#390a7a 0.5px,#4f0c88 12.5px,#66128a 15.5px,#aa2e66 19.5px,#ca4446 22.5px,#bc3a54 25.5px,#8f2278 29.5px,#701688 38.5px,#701687 42.5px,#8a207c 44.5px,#bf3e51 46.5px,#d85736 47.5px,#df622d 48.5px,#c23f4e 51.5px,#d04b40 54.5px,#dc5e30 55.5px,#f0981c 57.5px,#ee8a1c 58.5px,#dc5c31 59.5px,#b83858 60.5px,#952474 61.5px,#69138a 63.5px,#4a0c86 67.5px,#4a0c86 73.5px,#6c1488 79.5px,#761885 83.5px,#560d8b 88.5px,#3c0a7d 95.5px,#390a7a 104.5px)"></i><i style="top:180px;height:2px;background:linear-gradient(90deg,#390a7b 0.5px,#520d8a 13.5px,#6e1688 16.5px,#b4345c 20.5px,#ce4842 23.5px,#ba3a56 26.5px,#902278 30.5px,#6e1588 41.5px,#881f7e 44.5px,#b83858 46.5px,#d3503c 47.5px,#de602e 48.5px,#ca4446 51.5px,#d65339 54.5px,#ec841e 56.5px,#f0951a 57.5px,#ea7c20 58.5px,#d3503c 59.5px,#ae3062 60.5px,#761886 62.5px,#530d8a 65.5px,#480b84 71.5px,#6a148a 78.5px,#781985 82.5px,#530d8a 88.5px,#3b0a7d 96.5px,#3a0a7c 104.5px)"></i><i style="top:182px;height:2px;background:linear-gradient(90deg,#3a0a7c 0.5px,#510c89 13.5px,#68128a 16.5px,#9a2671 19.5px,#c74349 22.5px,#cc4644 25.5px,#972573 30.5px,#721686 41.5px,#861e7e 44.5px,#b2335e 46.5px,#ce4842 47.5px,#dd5e30 48.5px,#d24d3e 52.5px,#dc5c32 54.5px,#ee891c 56.5px,#ef901b 57.5px,#e76f23 58.5px,#ca4646 59.5px,#a62b6a 60.5px,#721686 62.5px,#530d8a 65.5px,#4a0c86 71.5px,#6f1688 78.5px,#781985 82.5px,#570d8c 87.5px,#3d0a7f 94.5px,#3a0a7c 104.5px)"></i><i style="top:184px;height:2px;background:linear-gradient(90deg,#3a0a7c 0.5px,#540d8a 14.5px,#701688 17.5px,#b4355c 21.5px,#d04b40 24.5px,#c03e50 27.5px,#972673 31.5px,#771885 42.5px,#851e7f 44.5px,#ad3063 46.5px,#db5c32 48.5px,#de612e 49.5px,#d85636 52.5px,#e2642a 54.5px,#ee8d1c 56.5px,#ee891c 57.5px,#e0642b 58.5px,#c03e50 59.5px,#9e286f 60.5px,#6f1688 62.5px,#4e0c88 66.5px,#4f0c88 72.5px,#6d1488 77.5px,#7a1a84 81.5px,#540d8a 87.5px,#3d0a7f 94.5px,#3c0a7d 104.5px)"></i><i style="top:186px;height:2px;background:linear-gradient(90deg,#3b0a7d 0.5px,#520d8a 14.5px,#771885 18.5px,#c84448 23.5px,#d04a40 26.5px,#9e286e 31.5px,#7c1a84 42.5px,#942475 45.5px,#c3404d 47.5px,#d85834 48.5px,#e0642a 49.5px,#de602e 52.5px,#e66e24 54.5px,#ef8f1b 56.5px,#ec811e 57.5px,#da5834 58.5px,#b73859 59.5px,#7e1c82 61.5px,#580d8c 64.5px,#4c0c86 70.5px,#6b1489 76.5px,#7b1a84 80.5px,#5f108d 85.5px,#400a81 92.5px,#3c0a7e 104.5px)"></i><i style="top:188px;height:2px;background:linear-gradient(90deg,#3c0a7e 0.5px,#560d8b 15.5px,#7f1c82 19.5px,#c4404c 23.5px,#d24e3d 26.5px,#9f286e 32.5px,#821c80 43.5px,#932476 45.5px,#bf3c51 47.5px,#e2662a 49.5px,#e77023 53.5px,#ef901b 56.5px,#e97821 57.5px,#b03260 59.5px,#7a1a84 61.5px,#580d8c 64.5px,#4e0c88 70.5px,#701688 76.5px,#7b1a84 80.5px,#560d8b 86.5px,#3f0a80 93.5px,#3d0a7f 104.5px)"></i><i style="top:190px;height:2px;background:linear-gradient(90deg,#3c0a7e 0.5px,#540d8a 15.5px,#6a148a 18.5px,#9a2770 21.5px,#ca4546 24.5px,#d24f3c 27.5px,#a0296d 33.5px,#861e7e 43.5px,#942475 45.5px,#bb3a55 47.5px,#e26728 49.5px,#ec841e 54.5px,#ee901c 55.5px,#ee8e1c 56.5px,#e66e24 57.5px,#cd4843 58.5px,#aa2d66 59.5px,#771885 61.5px,#580d8c 64.5px,#500c88 69.5px,#6e1488 75.5px,#7d1b83 79.5px,#520d8a 86.5px,#3f0a80 94.5px,#3e0a80 104.5px)"></i><i style="top:192px;height:2px;background:linear-gradient(90deg,#3d0a7f 0.5px,#580d8c 16.5px,#801c82 20.5px,#c4414c 24.5px,#d65239 27.5px,#c2404e 30.5px,#a22a6b 34.5px,#8e227a 44.5px,#a42a6b 46.5px,#e36728 49.5px,#f0951a 55.5px,#ee8c1c 56.5px,#e26628 57.5px,#c5424b 58.5px,#a42a6b 59.5px,#741886 61.5px,#580d8c 64.5px,#540d8a 70.5px,#7e1b82 78.5px,#65128b 83.5px,#450b83 89.5px,#3e0a80 104.5px)"></i><i style="top:194px;height:2px;background:linear-gradient(90deg,#3e0a80 0.5px,#560d8b 16.5px,#791a84 20.5px,#cc4744 25.5px,#d65438 28.5px,#a62c69 35.5px,#922476 44.5px,#a42a6a 46.5px,#d04c40 48.5px,#e26728 49.5px,#ec821e 51.5px,#f09a1c 55.5px,#ed881d 56.5px,#de5f2e 57.5px,#be3c52 58.5px,#841e80 60.5px,#5e0f8d 63.5px,#530d8a 68.5px,#771885 75.5px,#7d1b83 79.5px,#540d8a 85.5px,#400a81 93.5px,#400a81 104.5px)"></i><i style="top:196px;height:2px;background:linear-gradient(90deg,#3e0a80 0.5px,#5a0e8d 17.5px,#821c81 21.5px,#d24d3e 26.5px,#d75637 29.5px,#ac2f64 35.5px,#982673 44.5px,#a62b6a 46.5px,#cf4a41 48.5px,#e26629 49.5px,#ee8a1c 51.5px,#f09e1e 54.5px,#f09c1c 55.5px,#ec821e 56.5px,#d95834 57.5px,#b93857 58.5px,#821d80 60.5px,#5e0f8d 63.5px,#560d8b 68.5px,#801c82 77.5px,#67128a 82.5px,#460b84 88.5px,#400a81 104.5px)"></i><i style="top:198px;height:2px;background:linear-gradient(90deg,#3f0a80 0.5px,#580e8c 17.5px,#7a1a84 21.5px,#c03e50 25.5px,#d65438 27.5px,#d75636 30.5px,#b03160 36.5px,#a0286e 45.5px,#b73759 47.5px,#e1652a 49.5px,#f0921a 51.5px,#efa420 54.5px,#f09c1d 55.5px,#ea7c20 56.5px,#b4355c 58.5px,#801c82 60.5px,#5f0f8d 63.5px,#580e8c 68.5px,#821c81 76.5px,#741786 80.5px,#500c88 85.5px,#410a82 95.5px,#410a81 104.5px)"></i><i style="top:200px;height:2px;background:linear-gradient(90deg,#400a81 0.5px,#580d8c 17.5px,#761886 21.5px,#a82c68 24.5px,#d4513b 27.5px,#db5c32 30.5px,#b6365a 36.5px,#a52a6a 45.5px,#b83858 47.5px,#e0642c 49.5px,#f0961a 51.5px,#efaa22 53.5px,#efa921 54.5px,#f09a1c 55.5px,#e87622 56.5px,#d24d3e 57.5px,#b03260 58.5px,#7e1c82 60.5px,#60108d 63.5px,#5c0e8e 68.5px,#821d80 76.5px,#68128a 81.5px,#480b84 87.5px,#420a82 104.5px)"></i><i style="top:202px;height:2px;background:linear-gradient(90deg,#400a81 0.5px,#5b0e8e 18.5px,#7e1a82 22.5px,#c2404e 26.5px,#dd5f2f 29.5px,#d85636 32.5px,#ba3956 37.5px,#aa2e66 45.5px,#ba3a56 47.5px,#e0622c 49.5px,#f09a1c 51.5px,#efaf23 53.5px,#efab22 54.5px,#f0981c 55.5px,#e66e24 56.5px,#ce4842 57.5px,#ac3064 58.5px,#7e1b83 60.5px,#61108c 63.5px,#60108c 68.5px,#821d80 75.5px,#6c1488 80.5px,#4c0c87 85.5px,#420b82 102.5px,#420b82 104.5px)"></i><i style="top:204px;height:2px;background:linear-gradient(90deg,#410a82 0.5px,#5b0e8d 18.5px,#781984 22.5px,#aa2e66 25.5px,#d65538 28.5px,#e0642b 31.5px,#c03e50 37.5px,#b3345d 46.5px,#ce4842 48.5px,#eb821f 50.5px,#efac22 52.5px,#efb224 53.5px,#efaa22 54.5px,#f0921a 55.5px,#e46827 56.5px,#c94447 57.5px,#aa2e66 58.5px,#7d1b83 60.5px,#62108c 63.5px,#63108c 68.5px,#801c82 75.5px,#5e0f8e 81.5px,#460b84 88.5px,#440b82 104.5px)"></i><i style="top:206px;height:2px;background:linear-gradient(90deg,#420b82 0.5px,#5b0e8d 18.5px,#741886 22.5px,#a22a6c 25.5px,#d3503b 28.5px,#e46828 31.5px,#c4404c 38.5px,#b83858 46.5px,#cf4a41 48.5px,#ea7f20 50.5px,#efac22 52.5px,#efb224 53.5px,#efa820 54.5px,#ee8b1c 55.5px,#e0622c 56.5px,#a72c68 58.5px,#7c1b83 60.5px,#62108c 64.5px,#701687 70.5px,#7e1b82 75.5px,#560d8b 82.5px,#440b83 91.5px,#440b83 104.5px)"></i><i style="top:208px;height:2px;background:linear-gradient(90deg,#430b82 0.5px,#5b0e8e 18.5px,#7c1a84 23.5px,#ad3063 26.5px,#da5934 29.5px,#e66c24 32.5px,#c84448 39.5px,#bc3b54 46.5px,#d04a40 48.5px,#ea7b20 50.5px,#efab22 52.5px,#efaf23 53.5px,#efa21e 54.5px,#ec821e 55.5px,#c03e50 57.5px,#8c217a 59.5px,#6a1489 62.5px,#66128a 67.5px,#7c1a83 74.5px,#520d8a 82.5px,#450b83 94.5px,#450b83 104.5px)"></i><i style="top:210px;height:2px;background:linear-gradient(90deg,#440b83 0.5px,#5b0e8e 18.5px,#781984 23.5px,#a62b6a 26.5px,#d65438 29.5px,#e77023 32.5px,#da5a33 36.5px,#ca4546 42.5px,#c23f4e 46.5px,#d04c3f 48.5px,#f0941a 51.5px,#efa720 52.5px,#efaa22 53.5px,#f09a1c 54.5px,#e97821 55.5px,#bc3a54 57.5px,#8b207b 59.5px,#6c1489 62.5px,#69138a 67.5px,#7a1a84 74.5px,#500c89 82.5px,#460b84 97.5px,#460b84 104.5px)"></i><i style="top:212px;height:2px;background:linear-gradient(90deg,#440b83 0.5px,#5c0e8e 18.5px,#761886 23.5px,#9e286e 26.5px,#dd5e2f 30.5px,#e87622 33.5px,#d24e3e 40.5px,#ca4546 47.5px,#dc5c32 49.5px,#ee8d1c 51.5px,#efa01e 52.5px,#efa21f 53.5px,#ef901b 54.5px,#e66e24 55.5px,#b73759 57.5px,#8a207c 59.5px,#6e1588 62.5px,#701688 68.5px,#771885 74.5px,#520d8a 81.5px,#460b84 94.5px,#460b84 104.5px)"></i><i style="top:214px;height:2px;background:linear-gradient(90deg,#460b84 0.5px,#5c0e8e 18.5px,#7e1b83 24.5px,#aa2e66 27.5px,#da5a34 30.5px,#e87422 32.5px,#e87622 35.5px,#d4523a 41.5px,#ce4842 47.5px,#e66c25 50.5px,#f0981b 52.5px,#f0981b 53.5px,#e0642b 55.5px,#b3345d 57.5px,#89207c 59.5px,#6f1688 62.5px,#721687 68.5px,#731786 74.5px,#510c89 81.5px,#480b84 100.5px,#480b84 104.5px)"></i><i style="top:216px;height:2px;background:linear-gradient(90deg,#460b84 0.5px,#5d0e8e 18.5px,#7b1a84 24.5px,#a32a6c 27.5px,#e0632c 31.5px,#eb7e1f 34.5px,#d65538 42.5px,#d04c40 47.5px,#e26629 50.5px,#ee8c1c 52.5px,#ee8b1c 53.5px,#da5a34 55.5px,#ae3062 57.5px,#7d1b83 60.5px,#6d1488 64.5px,#741786 73.5px,#520d8a 80.5px,#480b85 98.5px,#480b85 104.5px)"></i><i style="top:218px;height:2px;background:linear-gradient(90deg,#470b84 0.5px,#5d0e8e 18.5px,#801c82 25.5px,#ba3a56 29.5px,#e2652a 32.5px,#ea7a20 35.5px,#d75636 43.5px,#d3503b 48.5px,#e66c24 51.5px,#ea7d20 52.5px,#ea7a20 53.5px,#d24e3c 55.5px,#962474 58.5px,#761885 61.5px,#741786 68.5px,#6c1488 74.5px,#4f0c88 81.5px,#490b85 104.5px)"></i><i style="top:220px;height:2px;background:linear-gradient(90deg,#480b85 0.5px,#5f0f8d 19.5px,#7c1a84 25.5px,#b03160 29.5px,#d95934 32.5px,#e87422 35.5px,#d3503c 47.5px,#de602e 51.5px,#e66d25 52.5px,#e46927 53.5px,#a42a6b 57.5px,#7d1b83 60.5px,#721687 66.5px,#6c1488 73.5px,#4c0c86 83.5px,#4a0c86 104.5px)"></i><i style="top:222px;height:2px;background:linear-gradient(90deg,#490b85 0.5px,#60108d 19.5px,#821c81 26.5px,#b4365c 30.5px,#da5a32 33.5px,#e66e24 36.5px,#d3503c 48.5px,#d85736 51.5px,#df622c 52.5px,#dc5e30 53.5px,#b03260 56.5px,#851e7f 59.5px,#721687 64.5px,#6d1488 72.5px,#4d0c87 82.5px,#4a0c86 104.5px)"></i><i style="top:224px;height:2px;background:linear-gradient(90deg,#4a0c86 0.5px,#5e0f8d 18.5px,#801c82 26.5px,#ac2f64 30.5px,#da5c32 34.5px,#e46a26 37.5px,#d4503c 49.5px,#db5c32 52.5px,#d85836 53.5px,#ad3063 56.5px,#7d1b83 60.5px,#65128b 73.5px,#4d0c87 83.5px,#4c0c86 104.5px)"></i><i style="top:226px;height:2px;background:linear-gradient(90deg,#4b0c86 0.5px,#60108d 18.5px,#861e7e 27.5px,#b1335f 31.5px,#da5a33 35.5px,#e0622c 39.5px,#d24f3c 50.5px,#d4503b 53.5px,#9a2670 57.5px,#781985 61.5px,#62108c 73.5px,#4d0c87 84.5px,#4c0c87 104.5px)"></i><i style="top:228px;height:2px;background:linear-gradient(90deg,#4c0c86 0.5px,#62108c 18.5px,#8c217a 28.5px,#c23f4e 33.5px,#dc5c31 37.5px,#d04a40 51.5px,#cf4a40 53.5px,#972673 57.5px,#781985 61.5px,#510c89 79.5px,#4d0c87 104.5px)"></i><i style="top:230px;height:2px;background:linear-gradient(90deg,#4d0c87 0.5px,#64118c 18.5px,#922376 29.5px,#d24e3d 36.5px,#d75636 40.5px,#ca4546 53.5px,#942476 57.5px,#741886 62.5px,#520d89 78.5px,#4e0c88 104.5px)"></i><i style="top:232px;height:2px;background:linear-gradient(90deg,#4e0c88 0.5px,#64118c 17.5px,#902277 29.5px,#d04a40 37.5px,#cf4a41 43.5px,#c4404c 53.5px,#9c2770 56.5px,#761885 61.5px,#530d8a 77.5px,#4f0c88 104.5px)"></i><i style="top:234px;height:2px;background:linear-gradient(90deg,#500c88 0.5px,#66128b 17.5px,#952474 30.5px,#cc4744 39.5px,#bc3c54 53.5px,#962674 56.5px,#741886 61.5px,#530d8a 77.5px,#500c88 104.5px)"></i><i style="top:236px;height:2px;background:linear-gradient(90deg,#500c89 0.5px,#6a1489 18.5px,#9e286e 32.5px,#c23f4e 39.5px,#b6365a 53.5px,#922476 56.5px,#6f1688 62.5px,#520d89 79.5px,#510c89 104.5px)"></i><i style="top:238px;height:2px;background:linear-gradient(90deg,#520d89 0.5px,#6a1489 17.5px,#a42a6b 34.5px,#b93857 41.5px,#b03260 53.5px,#841e80 57.5px,#64128b 65.5px,#520d89 82.5px,#520d89 104.5px)"></i><i style="top:240px;height:2px;background:linear-gradient(90deg,#530d8a 0.5px,#6c1488 17.5px,#ad3063 41.5px,#a82d68 53.5px,#881e7d 56.5px,#66128b 63.5px,#530d8a 81.5px,#520d8a 104.5px)"></i><i style="top:242px;height:2px;background:linear-gradient(90deg,#540d8a 0.5px,#6e1688 17.5px,#9e286e 39.5px,#9e286e 51.5px,#a0296c 53.5px,#821c80 56.5px,#5e0f8d 65.5px,#540d8a 93.5px,#540d8a 104.5px)"></i><i style="top:244px;height:2px;background:linear-gradient(90deg,#560d8b 0.5px,#741786 18.5px,#962574 36.5px,#962474 51.5px,#992672 53.5px,#841e80 55.5px,#60108d 64.5px,#540d8a 92.5px,#540d8a 104.5px)"></i><i style="top:246px;height:2px;background:linear-gradient(90deg,#570d8c 0.5px,#761886 18.5px,#942474 35.5px,#8e2279 51.5px,#922476 53.5px,#7f1c82 55.5px,#5e0f8d 65.5px,#550d8b 104.5px)"></i><i style="top:248px;height:2px;background:linear-gradient(90deg,#580e8c 0.5px,#7c1b83 20.5px,#922476 35.5px,#861e7e 51.5px,#8c207a 53.5px,#7a1a84 55.5px,#5c0e8e 67.5px,#560d8b 104.5px)"></i><i style="top:250px;height:2px;background:linear-gradient(90deg,#5a0e8d 0.5px,#831d80 22.5px,#902278 37.5px,#7f1c82 51.5px,#841e7f 53.5px,#741886 55.5px,#5a0e8d 70.5px,#570d8c 104.5px)"></i><i style="top:252px;height:2px;background:linear-gradient(90deg,#5b0e8e 0.5px,#8e2278 32.5px,#7a1a84 51.5px,#801c82 53.5px,#701687 55.5px,#590e8d 73.5px,#580d8c 104.5px)"></i><i style="top:254px;height:2px;background:linear-gradient(90deg,#5c0e8e 0.5px,#8c217a 31.5px,#761886 51.5px,#7d1b83 53.5px,#6e1588 55.5px,#5a0e8d 74.5px,#590e8c 104.5px)"></i><i style="top:256px;height:2px;background:linear-gradient(90deg,#5e0e8e 0.5px,#8a207b 30.5px,#741786 51.5px,#7a1a84 53.5px,#6c1488 55.5px,#5a0e8d 76.5px,#5a0e8d 104.5px)"></i><i style="top:258px;height:2px;background:linear-gradient(90deg,#5f0f8d 0.5px,#88207c 30.5px,#701687 51.5px,#781984 53.5px,#6a1489 55.5px,#5a0e8d 82.5px,#5a0e8d 104.5px)"></i><i style="top:260px;height:2px;background:linear-gradient(90deg,#60108c 0.5px,#861e7e 30.5px,#6e1588 51.5px,#761885 53.5px,#6a138a 55.5px,#5c0e8e 85.5px,#5c0e8e 104.5px)"></i><i style="top:262px;height:2px;background:linear-gradient(90deg,#62108c 0.5px,#841e80 29.5px,#6d1488 51.5px,#751886 53.5px,#68138a 55.5px,#5c0e8e 92.5px,#5c0e8e 104.5px)"></i><i style="top:264px;height:2px;background:linear-gradient(90deg,#63118c 0.5px,#821d80 28.5px,#6c1489 51.5px,#741786 53.5px,#68128a 55.5px,#5e0f8e 104.5px)"></i><i style="top:266px;height:2px;background:linear-gradient(90deg,#64118b 0.5px,#801c82 29.5px,#6a1489 51.5px,#731786 53.5px,#67128a 55.5px,#5e0f8d 104.5px)"></i><i style="top:268px;height:2px;background:linear-gradient(90deg,#66128b 0.5px,#7e1b83 28.5px,#6a138a 51.5px,#721787 53.5px,#67128a 55.5px,#60108d 104.5px)"></i><i style="top:270px;height:2px;background:linear-gradient(90deg,#66128a 0.5px,#7c1a84 28.5px,#69138a 51.5px,#721787 53.5px,#67128a 55.5px,#61108c 104.5px)"></i><i style="top:272px;height:2px;background:linear-gradient(90deg,#68128a 0.5px,#7a1a84 28.5px,#69138a 51.5px,#721687 53.5px,#67128a 55.5px,#62108c 104.5px)"></i><i style="top:274px;height:2px;background:linear-gradient(90deg,#68138a 0.5px,#761885 29.5px,#68138a 51.5px,#721787 53.5px,#67128a 55.5px,#63118c 104.5px)"></i></div><div class="hm" style="left:149px;top:18px;width:107.5px;height:276px"><i style="top:0px;height:2px;background:linear-gradient(90deg,#1a094f 0.5px,#1a094f 107.5px)"></i><i style="top:2px;height:2px;background:linear-gradient(90deg,#1a094f 0.5px,#1a094f 107.5px)"></i><i style="top:4px;height:2px;background:linear-gradient(90deg,#1a094f 0.5px,#1a094f 107.5px)"></i><i style="top:6px;height:2px;background:linear-gradient(90deg,#1a094f 0.5px,#1a094f 107.5px)"></i><i style="top:8px;height:2px;background:linear-gradient(90deg,#1a094f 0.5px,#1c0a54 76.5px,#1a094f 107.5px)"></i><i style="top:10px;height:2px;background:linear-gradient(90deg,#1a094f 0.5px,#1e0a56 28.5px,#210a5d 32.5px,#1a0950 44.5px,#1e0a56 74.5px,#2a0a6a 78.5px,#1c0952 85.5px,#1a094f 107.5px)"></i><i style="top:12px;height:2px;background:linear-gradient(90deg,#1a094f 0.5px,#1e0a57 27.5px,#270a67 32.5px,#1c0952 39.5px,#1e0a56 72.5px,#280a69 76.5px,#390a7a 78.5px,#200a5c 82.5px,#1a094f 99.5px,#1a094f 107.5px)"></i><i style="top:14px;height:2px;background:linear-gradient(90deg,#1a094f 0.5px,#1e0a58 26.5px,#2b0a6c 30.5px,#300a71 32.5px,#1e0a56 37.5px,#1c0953 68.5px,#2a0a6a 75.5px,#490c85 78.5px,#270a67 81.5px,#1c0952 89.5px,#1a094f 107.5px)"></i><i style="top:16px;height:2px;background:linear-gradient(90deg,#1a094f 0.5px,#1e0a58 25.5px,#290a6a 29.5px,#3d0a7e 31.5px,#310a72 33.5px,#200a5a 37.5px,#1b0950 57.5px,#200a5c 71.5px,#340a75 75.5px,#580e8b 77.5px,#5d0f8c 78.5px,#2c0a6e 81.5px,#1c0954 88.5px,#1a094f 107.5px)"></i><i style="top:18px;height:2px;background:linear-gradient(90deg,#1a094f 0.5px,#1e0a58 24.5px,#300a71 29.5px,#4c0c86 31.5px,#4e0c88 32.5px,#290a6a 35.5px,#1c0952 43.5px,#1e0a58 68.5px,#2c0a6e 73.5px,#430a82 75.5px,#5a0f8b 76.5px,#7c1a82 77.5px,#7a1a84 78.5px,#590e8c 79.5px,#340a76 81.5px,#200a5a 86.5px,#1a0950 107.5px)"></i><i style="top:20px;height:2px;background:linear-gradient(90deg,#1a094f 0.5px,#1e0a58 23.5px,#2f0a70 28.5px,#4a0c86 30.5px,#60108c 31.5px,#68138a 32.5px,#3f0a80 34.5px,#230a62 38.5px,#1b0951 48.5px,#200a5b 68.5px,#380a7a 73.5px,#5a0e8b 75.5px,#841e7e 76.5px,#ae3261 77.5px,#a22a6c 78.5px,#721686 79.5px,#500c89 80.5px,#2c0a6d 83.5px,#1e0a58 90.5px,#1b0950 107.5px)"></i><i style="top:22px;height:2px;background:linear-gradient(90deg,#1a0950 0.5px,#1e0a58 22.5px,#2e0a6f 27.5px,#420a82 29.5px,#560e8c 30.5px,#781984 31.5px,#8a207c 32.5px,#500c88 34.5px,#2c0a6e 37.5px,#1c0954 45.5px,#1f0a59 66.5px,#300a71 71.5px,#580e8c 74.5px,#7c1a82 75.5px,#b4345c 76.5px,#d85835 77.5px,#c4404c 78.5px,#8a207c 79.5px,#60108d 80.5px,#3c0a7e 82.5px,#220a5f 87.5px,#1c0954 103.5px,#1b0950 107.5px)"></i><i style="top:24px;height:2px;background:linear-gradient(90deg,#1b0950 0.5px,#1f0a5a 22.5px,#320a74 27.5px,#490c86 29.5px,#60108c 30.5px,#a42a6a 32.5px,#8a207b 33.5px,#62108c 34.5px,#3f0a80 36.5px,#260a66 41.5px,#260a66 67.5px,#440b83 72.5px,#6e1588 74.5px,#9e286e 75.5px,#d85636 76.5px,#ea7c20 77.5px,#d4513a 78.5px,#992672 79.5px,#6b1489 80.5px,#420a82 82.5px,#260a66 86.5px,#200a5b 100.5px,#1b0951 107.5px)"></i><i style="top:26px;height:2px;background:linear-gradient(90deg,#1b0950 0.5px,#1f0a5a 22.5px,#340a76 27.5px,#4c0c86 29.5px,#64118b 30.5px,#b03260 32.5px,#9e286e 33.5px,#721686 34.5px,#550d8b 35.5px,#340a75 38.5px,#220a61 45.5px,#250a66 66.5px,#400a82 71.5px,#60108d 73.5px,#821d80 74.5px,#b93857 75.5px,#e87622 76.5px,#f0901a 77.5px,#d65538 78.5px,#9c2770 79.5px,#6e1588 80.5px,#440b83 82.5px,#280a68 86.5px,#220a61 99.5px,#1b0951 107.5px)"></i><i style="top:28px;height:2px;background:linear-gradient(90deg,#1b0950 0.5px,#200a5a 22.5px,#350a76 27.5px,#4c0c87 29.5px,#64118c 30.5px,#b4355c 32.5px,#ab2e65 33.5px,#7e1c82 34.5px,#5c0e8d 35.5px,#360a78 38.5px,#230a62 44.5px,#260a66 66.5px,#450b84 71.5px,#6a1489 73.5px,#932476 74.5px,#cd4842 75.5px,#ee8d1c 76.5px,#f0931a 77.5px,#d24f3c 78.5px,#982672 79.5px,#6d1488 80.5px,#440b83 82.5px,#280a68 86.5px,#260a66 98.5px,#1b0951 107.5px)"></i><i style="top:30px;height:2px;background:linear-gradient(90deg,#1b0950 0.5px,#200a5a 22.5px,#340a76 27.5px,#4c0c86 29.5px,#61108c 30.5px,#88207d 31.5px,#b2345e 32.5px,#b2345e 33.5px,#881f7c 34.5px,#62108c 35.5px,#420a82 37.5px,#260a66 42.5px,#280a68 66.5px,#3e0a80 70.5px,#580e8c 72.5px,#741886 73.5px,#a22a6c 74.5px,#da5934 75.5px,#f09a1c 76.5px,#ee8c1c 77.5px,#cc4644 78.5px,#912377 79.5px,#6a148a 80.5px,#440b82 82.5px,#290a69 86.5px,#2c0a6c 97.5px,#1b0952 107.5px)"></i><i style="top:32px;height:2px;background:linear-gradient(90deg,#1b0951 0.5px,#200a5a 22.5px,#340a75 27.5px,#4a0c86 29.5px,#5e0e8e 30.5px,#821d80 31.5px,#af3161 32.5px,#b73759 33.5px,#69138a 35.5px,#440b82 37.5px,#270a68 42.5px,#260a66 65.5px,#400a82 70.5px,#5e0f8e 72.5px,#7e1b83 73.5px,#af3161 74.5px,#e46927 75.5px,#efa11e 76.5px,#eb801f 77.5px,#c03e50 78.5px,#8a207c 79.5px,#65128b 80.5px,#420b82 82.5px,#290a6a 86.5px,#300a71 96.5px,#1c0952 106.5px,#1c0952 107.5px)"></i><i style="top:34px;height:2px;background:linear-gradient(90deg,#1b0951 0.5px,#200a5a 22.5px,#330a74 27.5px,#5a0e8e 30.5px,#7c1a84 31.5px,#aa2d66 32.5px,#ba3956 33.5px,#701688 35.5px,#460b84 37.5px,#280a68 42.5px,#270a67 65.5px,#440b82 70.5px,#65128b 72.5px,#881f7d 73.5px,#bc3a54 74.5px,#e97821 75.5px,#efa21e 76.5px,#e77223 77.5px,#b6365a 78.5px,#821d80 79.5px,#61108c 80.5px,#380a78 83.5px,#2a0a6a 88.5px,#320a73 95.5px,#1c0953 106.5px,#1c0952 107.5px)"></i><i style="top:36px;height:2px;background:linear-gradient(90deg,#1b0951 0.5px,#200a5a 22.5px,#320a74 27.5px,#580e8c 30.5px,#781884 31.5px,#a42a6b 32.5px,#bb3a55 33.5px,#a22a6c 34.5px,#761886 35.5px,#590e8c 36.5px,#360a78 39.5px,#240a64 46.5px,#280a68 65.5px,#460b84 70.5px,#6c1488 72.5px,#922376 73.5px,#c94447 74.5px,#ec861e 75.5px,#f09e1e 76.5px,#e0642b 77.5px,#ac2f64 78.5px,#7c1a84 79.5px,#5d0e8e 80.5px,#360a78 83.5px,#2a0a6b 88.5px,#330a74 95.5px,#1c0954 105.5px,#1c0952 107.5px)"></i><i style="top:38px;height:2px;background:linear-gradient(90deg,#1b0952 0.5px,#210a5d 23.5px,#3a0a7c 28.5px,#560d8b 30.5px,#721686 31.5px,#9d286f 32.5px,#ba3a56 33.5px,#a82d68 34.5px,#7e1b82 35.5px,#5d0e8e 36.5px,#380a7a 39.5px,#240a64 45.5px,#290a69 65.5px,#3f0a80 69.5px,#590e8c 71.5px,#741786 72.5px,#9e286f 73.5px,#d4503b 74.5px,#f0921a 75.5px,#f0971b 76.5px,#d85736 77.5px,#a22a6c 78.5px,#761886 79.5px,#5a0e8c 80.5px,#360a77 83.5px,#2c0a6c 88.5px,#330a74 95.5px,#1c0954 105.5px,#1c0952 107.5px)"></i><i style="top:40px;height:2px;background:linear-gradient(90deg,#1c0952 0.5px,#200a5a 22.5px,#310a72 27.5px,#540d8a 30.5px,#6e1488 31.5px,#b83858 33.5px,#ae3062 34.5px,#851e7f 35.5px,#62108c 36.5px,#420b82 38.5px,#260a66 44.5px,#2a0a6a 65.5px,#420a82 69.5px,#5e0e8e 71.5px,#7c1a84 72.5px,#aa2e66 73.5px,#dd5e2f 74.5px,#f09a1c 75.5px,#ee8c1c 76.5px,#d04b40 77.5px,#992672 78.5px,#701688 79.5px,#480b84 81.5px,#2c0a6d 85.5px,#330a74 95.5px,#1c0954 105.5px,#1c0953 107.5px)"></i><i style="top:42px;height:2px;background:linear-gradient(90deg,#1c0952 0.5px,#210a5d 23.5px,#380a7a 28.5px,#500c89 30.5px,#69138a 31.5px,#b5365b 33.5px,#b3345d 34.5px,#8c217a 35.5px,#68128a 36.5px,#440b83 38.5px,#290a69 43.5px,#280a68 64.5px,#440b83 69.5px,#64128c 71.5px,#851e7e 72.5px,#b5365b 73.5px,#e66c25 74.5px,#f09e1e 75.5px,#eb801f 76.5px,#c6424a 77.5px,#912278 78.5px,#6b1489 79.5px,#460b84 81.5px,#2c0a6d 85.5px,#330a74 95.5px,#1d0a55 104.5px,#1c0953 107.5px)"></i><i style="top:44px;height:2px;background:linear-gradient(90deg,#1c0952 0.5px,#210a5d 23.5px,#380a79 28.5px,#4f0c88 30.5px,#65128b 31.5px,#8a207c 32.5px,#b2335e 33.5px,#b6365a 34.5px,#6e1488 36.5px,#480b84 38.5px,#2a0a6a 43.5px,#2a0a6a 64.5px,#480b84 69.5px,#6b1489 71.5px,#8e2278 72.5px,#c23e4e 73.5px,#ea7a20 74.5px,#f09e1e 75.5px,#e87222 76.5px,#ba3a56 77.5px,#89207c 78.5px,#66128a 79.5px,#440b83 81.5px,#2d0a6d 85.5px,#360a77 94.5px,#1d0a55 104.5px,#1c0953 107.5px)"></i><i style="top:46px;height:2px;background:linear-gradient(90deg,#1c0953 0.5px,#210a5d 23.5px,#360a78 28.5px,#62108c 31.5px,#841e7f 32.5px,#ad3063 33.5px,#b83858 34.5px,#741886 36.5px,#590e8c 37.5px,#320a73 41.5px,#260a66 49.5px,#2e0a6e 65.5px,#4a0c86 69.5px,#590e8c 70.5px,#721686 71.5px,#9a2672 72.5px,#ce4842 73.5px,#ec861e 74.5px,#f09b1c 75.5px,#e2662a 76.5px,#b1325f 77.5px,#821c81 78.5px,#62108c 79.5px,#3a0a7b 82.5px,#2e0a6e 87.5px,#360a77 94.5px,#1d0a55 104.5px,#1c0954 107.5px)"></i><i style="top:48px;height:2px;background:linear-gradient(90deg,#1c0953 0.5px,#210a5d 23.5px,#360a77 28.5px,#5e0e8e 31.5px,#7f1c82 32.5px,#a82c68 33.5px,#ba3956 34.5px,#a22a6c 35.5px,#7a1a84 36.5px,#5d0e8e 37.5px,#3a0a7b 40.5px,#260a66 47.5px,#2c0a6c 64.5px,#420a82 68.5px,#5e0e8e 70.5px,#7a1a84 71.5px,#a52a6a 72.5px,#d65538 73.5px,#f0911a 74.5px,#f0941a 75.5px,#da5a34 76.5px,#a82c68 77.5px,#7c1a84 78.5px,#5e0e8e 79.5px,#380a7a 82.5px,#2f0a70 87.5px,#360a78 94.5px,#1e0a57 103.5px,#1d0954 107.5px)"></i><i style="top:50px;height:2px;background:linear-gradient(90deg,#1c0954 0.5px,#210a5e 23.5px,#350a76 28.5px,#5b0e8e 31.5px,#7a1a84 32.5px,#a22a6c 33.5px,#ba3956 34.5px,#a92d67 35.5px,#821c81 36.5px,#62108c 37.5px,#3c0a7c 40.5px,#270a68 46.5px,#2c0a6d 64.5px,#450b84 68.5px,#64128c 70.5px,#831d80 71.5px,#b03260 72.5px,#df622c 73.5px,#f0981c 74.5px,#ee8a1c 75.5px,#d24e3c 76.5px,#9f286e 77.5px,#761886 78.5px,#5a0e8e 79.5px,#380a7a 82.5px,#2e0a70 86.5px,#390a7a 93.5px,#1e0a57 103.5px,#1d0954 107.5px)"></i><i style="top:52px;height:2px;background:linear-gradient(90deg,#1d0954 0.5px,#210a5e 23.5px,#3d0a7f 29.5px,#580e8c 31.5px,#751886 32.5px,#b83858 34.5px,#ae3062 35.5px,#88207d 36.5px,#67128a 37.5px,#460b84 39.5px,#2b0a6c 44.5px,#2b0a6c 63.5px,#480b84 68.5px,#6a148a 70.5px,#8c217a 71.5px,#bb3a55 72.5px,#e66e24 73.5px,#f09b1c 74.5px,#eb801f 75.5px,#ca4546 76.5px,#972574 77.5px,#701688 78.5px,#4a0c85 80.5px,#300a70 84.5px,#390a7b 93.5px,#1e0a57 103.5px,#1d0955 107.5px)"></i><i style="top:54px;height:2px;background:linear-gradient(90deg,#1d0954 0.5px,#210a5e 23.5px,#340a75 28.5px,#560d8c 31.5px,#711687 32.5px,#b6365a 34.5px,#b2345e 35.5px,#6c1488 37.5px,#480b85 39.5px,#2c0a6c 44.5px,#2c0a6c 63.5px,#4b0c86 68.5px,#721686 70.5px,#962574 71.5px,#c74249 72.5px,#ea7b20 73.5px,#f09b1c 74.5px,#e87322 75.5px,#c03d50 76.5px,#8f2278 77.5px,#6c1488 78.5px,#480b84 80.5px,#300a71 84.5px,#390a7b 93.5px,#1e0a57 103.5px,#1d0a55 107.5px)"></i><i style="top:56px;height:2px;background:linear-gradient(90deg,#1d0a55 0.5px,#210a5e 23.5px,#3b0a7d 29.5px,#540d8a 31.5px,#6c1488 32.5px,#b4345c 34.5px,#b6365a 35.5px,#721686 37.5px,#590e8c 38.5px,#340a75 42.5px,#280a69 50.5px,#2d0a6e 63.5px,#4e0c88 68.5px,#5e0e8e 69.5px,#791984 70.5px,#a0296d 71.5px,#d14d3e 72.5px,#ec861e 73.5px,#f0981c 74.5px,#e36828 75.5px,#b6365a 76.5px,#88207d 77.5px,#68128a 78.5px,#3d0a7e 81.5px,#300a72 85.5px,#3c0a7e 92.5px,#1f0a59 102.5px,#1d0a56 107.5px)"></i><i style="top:58px;height:2px;background:linear-gradient(90deg,#1d0a56 0.5px,#210a5e 23.5px,#3a0a7c 29.5px,#520d8a 31.5px,#69138a 32.5px,#8c207b 33.5px,#b03260 34.5px,#b83858 35.5px,#781984 37.5px,#5d0e8e 38.5px,#3b0a7c 41.5px,#290a69 48.5px,#2e0a6f 63.5px,#460b84 67.5px,#64128c 69.5px,#811c81 70.5px,#aa2e66 71.5px,#d95834 72.5px,#ee8f1c 73.5px,#f0921a 74.5px,#dc5c31 75.5px,#ad3063 76.5px,#821c81 77.5px,#63118c 78.5px,#3c0a7e 81.5px,#320a72 85.5px,#3c0a7e 92.5px,#1f0a59 102.5px,#1e0a56 107.5px)"></i><i style="top:60px;height:2px;background:linear-gradient(90deg,#1d0a56 0.5px,#230a61 24.5px,#3a0a7c 29.5px,#500c89 31.5px,#65128b 32.5px,#861e7e 33.5px,#ac2f64 34.5px,#ba3956 35.5px,#a42a6b 36.5px,#7e1c82 37.5px,#62108c 38.5px,#3c0a7e 41.5px,#290a6a 48.5px,#300a70 63.5px,#490c86 67.5px,#6a148a 69.5px,#8a207c 70.5px,#b6365a 71.5px,#e1642a 72.5px,#f0951a 73.5px,#ee891c 74.5px,#d4523a 75.5px,#a52b6a 76.5px,#7c1a84 77.5px,#60108c 78.5px,#3b0a7d 81.5px,#320a74 85.5px,#3c0a7e 92.5px,#200a5b 101.5px,#1e0a56 107.5px)"></i><i style="top:62px;height:2px;background:linear-gradient(90deg,#1e0a56 0.5px,#230a61 24.5px,#390a7a 29.5px,#62108c 32.5px,#811c81 33.5px,#a72c68 34.5px,#ba3956 35.5px,#aa2d66 36.5px,#851e7f 37.5px,#540d8a 39.5px,#340a74 43.5px,#2b0a6c 52.5px,#300a72 63.5px,#4c0c86 67.5px,#5a0e8e 68.5px,#922376 70.5px,#c03e50 71.5px,#e77023 72.5px,#f0981b 73.5px,#ea7f20 74.5px,#cd4842 75.5px,#9c2870 76.5px,#761886 77.5px,#5c0e8e 78.5px,#3b0a7c 81.5px,#340a75 85.5px,#3d0a7f 92.5px,#200a5b 101.5px,#1e0a57 107.5px)"></i><i style="top:64px;height:2px;background:linear-gradient(90deg,#1e0a57 0.5px,#230a61 24.5px,#380a7a 29.5px,#5f0f8d 32.5px,#7c1a84 33.5px,#a22a6c 34.5px,#ba3956 35.5px,#ae3162 36.5px,#6c1488 38.5px,#4a0c86 40.5px,#2e0a6f 45.5px,#2f0a70 62.5px,#500c88 67.5px,#5e108e 68.5px,#9c2770 70.5px,#cb4645 71.5px,#ea7c20 72.5px,#f0981b 73.5px,#e87422 74.5px,#c4404c 75.5px,#952474 76.5px,#5a0e8d 78.5px,#3a0a7c 81.5px,#380a7a 86.5px,#3d0a7f 92.5px,#200a5b 101.5px,#1e0a58 107.5px)"></i><i style="top:66px;height:2px;background:linear-gradient(90deg,#1e0a58 0.5px,#230a62 24.5px,#400a81 30.5px,#5c0e8e 32.5px,#9c2870 34.5px,#b83858 35.5px,#b3345d 36.5px,#711687 38.5px,#5a0e8d 39.5px,#360a78 43.5px,#2c0a6c 51.5px,#340a74 63.5px,#530d8a 67.5px,#7f1c82 69.5px,#a62c69 70.5px,#d4503b 71.5px,#ec861e 72.5px,#f0951a 73.5px,#e46827 74.5px,#ba3a56 75.5px,#8e2279 76.5px,#580d8c 78.5px,#3a0a7c 81.5px,#3a0a7a 86.5px,#3d0a7f 92.5px,#200a5b 101.5px,#1e0a58 107.5px)"></i><i style="top:68px;height:2px;background:linear-gradient(90deg,#1e0a58 0.5px,#230a62 24.5px,#400a81 30.5px,#5a0e8d 32.5px,#972673 34.5px,#b6365a 35.5px,#b6365a 36.5px,#761886 38.5px,#5e0e8e 39.5px,#380a78 43.5px,#2c0a6c 51.5px,#320a72 62.5px,#4a0c86 66.5px,#6a148a 68.5px,#871f7e 69.5px,#b03260 70.5px,#db5c32 71.5px,#ee8e1c 72.5px,#ee8f1c 73.5px,#dd5e30 74.5px,#b2345e 75.5px,#881f7d 76.5px,#550d8a 78.5px,#360a78 82.5px,#400a81 91.5px,#200a5c 101.5px,#1f0a58 107.5px)"></i><i style="top:70px;height:2px;background:linear-gradient(90deg,#1f0a58 0.5px,#230a62 24.5px,#3f0a80 30.5px,#580e8c 32.5px,#701688 33.5px,#b2345e 35.5px,#b83858 36.5px,#7c1a84 38.5px,#520d89 40.5px,#310a72 45.5px,#300a71 61.5px,#4d0c87 66.5px,#5a0e8e 67.5px,#902278 69.5px,#ba3a56 70.5px,#e26628 71.5px,#f0931a 72.5px,#ec881e 73.5px,#d65438 74.5px,#aa2e66 75.5px,#821c81 76.5px,#520d8a 78.5px,#370a78 82.5px,#400a81 91.5px,#210a5d 100.5px,#1f0a59 107.5px)"></i><i style="top:72px;height:2px;background:linear-gradient(90deg,#1f0a59 0.5px,#230a62 24.5px,#3e0a80 30.5px,#560d8c 32.5px,#8d227a 34.5px,#af3161 35.5px,#ba3956 36.5px,#a62b6a 37.5px,#66128a 39.5px,#400a81 42.5px,#2d0a6e 48.5px,#340a76 62.5px,#500c88 66.5px,#5f108d 67.5px,#992672 69.5px,#c5414b 70.5px,#e87222 71.5px,#f0951a 72.5px,#ea7e20 73.5px,#d04a40 74.5px,#a22a6c 75.5px,#7c1a84 76.5px,#520c89 78.5px,#370a79 82.5px,#410a81 91.5px,#210a5e 100.5px,#1f0a5a 107.5px)"></i><i style="top:74px;height:2px;background:linear-gradient(90deg,#1f0a5a 0.5px,#250a65 25.5px,#470b84 31.5px,#6a138a 33.5px,#ab2e65 35.5px,#ba3a56 36.5px,#ab2e65 37.5px,#6c1488 39.5px,#4c0c86 41.5px,#300a72 46.5px,#320a74 61.5px,#480c85 65.5px,#64128c 67.5px,#7e1c82 68.5px,#a22a6c 69.5px,#cf4a40 70.5px,#ea7c20 71.5px,#f0941a 72.5px,#e87422 73.5px,#c84348 74.5px,#9a2671 75.5px,#5e0f8d 77.5px,#3e0a80 80.5px,#3c0a7e 85.5px,#410a81 91.5px,#210a5e 100.5px,#1f0a5a 107.5px)"></i><i style="top:76px;height:2px;background:linear-gradient(90deg,#1f0a5a 0.5px,#250a65 25.5px,#460b84 31.5px,#66128a 33.5px,#a72c69 35.5px,#ba3a56 36.5px,#af3261 37.5px,#701688 39.5px,#4e0c88 41.5px,#320a72 46.5px,#340a75 61.5px,#4c0c86 65.5px,#6a148a 67.5px,#861e7e 68.5px,#ac3064 69.5px,#d65438 70.5px,#ec851e 71.5px,#f0921a 72.5px,#e46a26 73.5px,#be3c52 74.5px,#942475 75.5px,#5c0e8e 77.5px,#3e0a80 80.5px,#3e0a80 85.5px,#410a81 91.5px,#220a60 99.5px,#200a5b 107.5px)"></i><i style="top:78px;height:2px;background:linear-gradient(90deg,#200a5b 0.5px,#250a65 25.5px,#450b83 31.5px,#64118c 33.5px,#801c82 34.5px,#b93857 36.5px,#b3345d 37.5px,#761886 39.5px,#5e0f8e 40.5px,#3a0a7c 44.5px,#300a70 52.5px,#380a7a 62.5px,#5b0e8e 66.5px,#8e2279 68.5px,#b6365a 69.5px,#dd5e2f 70.5px,#ee8c1c 71.5px,#ee8c1c 72.5px,#de602e 73.5px,#b6365a 74.5px,#8d227a 75.5px,#5a0e8c 77.5px,#3e0a80 80.5px,#400a81 85.5px,#410a81 91.5px,#220a60 99.5px,#200a5b 107.5px)"></i><i style="top:80px;height:2px;background:linear-gradient(90deg,#200a5b 0.5px,#280a68 26.5px,#440b83 31.5px,#60108c 33.5px,#9d286f 35.5px,#b83858 36.5px,#b6365a 37.5px,#7c1a84 39.5px,#530d8a 41.5px,#340a75 46.5px,#360a78 61.5px,#520c89 65.5px,#761886 67.5px,#962574 68.5px,#c03d50 69.5px,#e46827 70.5px,#ef901b 71.5px,#ec861e 72.5px,#d85636 73.5px,#ae3062 74.5px,#881e7d 75.5px,#580d8c 77.5px,#3e0a80 80.5px,#440b83 86.5px,#410a81 91.5px,#220a60 99.5px,#200a5c 107.5px)"></i><i style="top:82px;height:2px;background:linear-gradient(90deg,#200a5d 0.5px,#260a66 25.5px,#440b82 31.5px,#5e0f8d 33.5px,#982672 35.5px,#b4365c 36.5px,#b83858 37.5px,#821c81 39.5px,#560d8c 41.5px,#380a7a 45.5px,#320a72 58.5px,#420a82 63.5px,#65128b 66.5px,#7e1b82 67.5px,#a0286e 68.5px,#ca4446 69.5px,#e87222 70.5px,#f0921a 71.5px,#ea7e20 72.5px,#d24e3e 73.5px,#a72c68 74.5px,#821c81 75.5px,#560d8b 77.5px,#3c0a7e 81.5px,#480b84 89.5px,#220a60 99.5px,#200a5c 107.5px)"></i><i style="top:84px;height:2px;background:linear-gradient(90deg,#220a60 0.5px,#260a66 25.5px,#420b82 31.5px,#5c0e8e 33.5px,#942476 35.5px,#b2345e 36.5px,#ba3a56 37.5px,#a82c68 38.5px,#6c1488 40.5px,#440b83 43.5px,#320a72 49.5px,#3a0a7b 61.5px,#580e8c 65.5px,#841e7f 67.5px,#a92c67 68.5px,#d24e3e 69.5px,#ea7c20 70.5px,#f0921a 71.5px,#e87422 72.5px,#ca4646 73.5px,#a0286d 74.5px,#7d1a83 75.5px,#540d8a 77.5px,#3c0a7e 81.5px,#480b85 89.5px,#220a61 99.5px,#210a5d 107.5px)"></i><i style="top:86px;height:2px;background:linear-gradient(90deg,#240a63 0.5px,#260a66 25.5px,#420a82 31.5px,#5a0e8d 33.5px,#8f2278 35.5px,#ae3062 36.5px,#bb3a55 37.5px,#ac2f64 38.5px,#701688 40.5px,#500c88 42.5px,#350a76 47.5px,#380a79 60.5px,#500c88 64.5px,#701688 66.5px,#8c217a 67.5px,#b2335e 68.5px,#d85835 69.5px,#ec841e 70.5px,#ef8f1b 71.5px,#e46a26 72.5px,#c2404e 73.5px,#992672 74.5px,#60108c 76.5px,#420b82 79.5px,#440b82 84.5px,#480b85 89.5px,#230a63 98.5px,#210a5e 107.5px)"></i><i style="top:88px;height:2px;background:linear-gradient(90deg,#260a66 0.5px,#250a65 24.5px,#410a82 31.5px,#580e8c 33.5px,#8b207b 35.5px,#ab2e65 36.5px,#bb3a55 37.5px,#b03260 38.5px,#761886 40.5px,#520d8a 42.5px,#360a78 47.5px,#380a7a 60.5px,#530d8a 64.5px,#761886 66.5px,#942475 67.5px,#ba3a56 68.5px,#de612d 69.5px,#ee8a1c 70.5px,#ee8a1c 71.5px,#de622d 72.5px,#ba3a56 73.5px,#922476 74.5px,#5e0e8e 76.5px,#420b82 79.5px,#480b85 85.5px,#440b83 90.5px,#240a63 98.5px,#210a5e 107.5px)"></i><i style="top:90px;height:2px;background:linear-gradient(90deg,#280a68 0.5px,#250a66 24.5px,#390a7b 30.5px,#570d8c 33.5px,#871e7e 35.5px,#a72c68 36.5px,#ba3a56 37.5px,#b4345c 38.5px,#7a1a84 40.5px,#550d8a 42.5px,#370a78 47.5px,#3a0a7c 60.5px,#560d8c 64.5px,#7c1a84 66.5px,#9c2870 67.5px,#c4404c 68.5px,#e46a26 69.5px,#ee8e1c 70.5px,#ec841e 71.5px,#da5834 72.5px,#b2345e 73.5px,#8c217a 74.5px,#5c0e8e 76.5px,#420b82 79.5px,#490b85 89.5px,#240a63 98.5px,#220a5f 107.5px)"></i><i style="top:92px;height:2px;background:linear-gradient(90deg,#2a0a6a 0.5px,#270a67 25.5px,#400a81 31.5px,#68128a 34.5px,#a32a6c 36.5px,#ba3856 37.5px,#b73659 38.5px,#801c82 40.5px,#580e8c 42.5px,#380a7a 47.5px,#380a7a 59.5px,#5a0e8c 64.5px,#841e80 66.5px,#a62b6a 67.5px,#cd4842 68.5px,#e87422 69.5px,#ef901b 70.5px,#ea7c20 71.5px,#d4503c 72.5px,#ac2f64 73.5px,#881e7d 74.5px,#5a0e8d 76.5px,#400a81 80.5px,#4c0c87 88.5px,#240a64 98.5px,#220a60 107.5px)"></i><i style="top:94px;height:2px;background:linear-gradient(90deg,#2c0a6c 0.5px,#260a66 24.5px,#3f0a81 31.5px,#66128b 34.5px,#9e286e 36.5px,#b83858 37.5px,#ba3856 38.5px,#861e7e 40.5px,#5a0e8e 42.5px,#3a0a7b 47.5px,#3a0a7c 59.5px,#520c89 63.5px,#701688 65.5px,#8b207b 66.5px,#ae3062 67.5px,#d4503b 68.5px,#ea7c20 69.5px,#ef901b 70.5px,#e87422 71.5px,#ce4842 72.5px,#a52b6a 73.5px,#821c80 74.5px,#580e8c 76.5px,#420b82 79.5px,#4c0c87 88.5px,#240a64 98.5px,#220a60 107.5px)"></i><i style="top:96px;height:2px;background:linear-gradient(90deg,#2d0a6e 0.5px,#260a67 24.5px,#3f0a80 31.5px,#63108c 34.5px,#9a2671 36.5px,#b4365c 37.5px,#bb3a55 38.5px,#8b207b 40.5px,#5e0e8e 42.5px,#3e0a80 46.5px,#380a79 57.5px,#4b0c86 62.5px,#62108c 64.5px,#922476 66.5px,#b6365a 67.5px,#da5a33 68.5px,#ec841e 69.5px,#ee8d1c 70.5px,#e56b26 71.5px,#c6424a 72.5px,#9e286e 73.5px,#7e1c82 74.5px,#560d8c 76.5px,#430b82 79.5px,#4d0c87 88.5px,#260a66 97.5px,#220a61 107.5px)"></i><i style="top:98px;height:2px;background:linear-gradient(90deg,#2e0a70 0.5px,#280a68 25.5px,#3e0a80 31.5px,#60108c 34.5px,#962474 36.5px,#b2345e 37.5px,#bc3b54 38.5px,#ae3062 39.5px,#761886 41.5px,#540d8a 43.5px,#3a0a7b 48.5px,#3c0a7e 59.5px,#580d8c 63.5px,#7c1a84 65.5px,#9a2671 66.5px,#bf3d51 67.5px,#e0632c 68.5px,#ed881d 69.5px,#ed881d 70.5px,#e0632c 71.5px,#be3c52 72.5px,#982672 73.5px,#64118c 75.5px,#460b84 78.5px,#4d0c87 88.5px,#260a66 97.5px,#230a62 107.5px)"></i><i style="top:100px;height:2px;background:linear-gradient(90deg,#300a70 0.5px,#2a0a6a 12.5px,#2a0a6a 26.5px,#460b84 32.5px,#5e0f8d 34.5px,#912376 36.5px,#ae3062 37.5px,#bc3b54 38.5px,#b2335e 39.5px,#7b1a84 41.5px,#570d8c 43.5px,#3a0a7c 48.5px,#3e0a80 59.5px,#5b0e8e 63.5px,#831e80 65.5px,#a22a6c 66.5px,#c84448 67.5px,#e56c25 68.5px,#ee8c1c 69.5px,#ec821e 70.5px,#da5a32 71.5px,#b6375a 72.5px,#922476 73.5px,#60108c 75.5px,#460b84 78.5px,#500c88 87.5px,#260a66 97.5px,#230a62 107.5px)"></i><i style="top:102px;height:2px;background:linear-gradient(90deg,#310a72 0.5px,#2f0a70 10.5px,#280a68 24.5px,#3e0a80 31.5px,#5c0e8e 34.5px,#8e227a 36.5px,#ac2e64 37.5px,#bc3b54 38.5px,#b5365b 39.5px,#801c82 41.5px,#5a0e8d 43.5px,#3c0a7e 48.5px,#400a81 59.5px,#5f0f8d 63.5px,#8a207c 65.5px,#ab2e65 66.5px,#d04b40 67.5px,#e87422 68.5px,#ee8d1c 69.5px,#ea7c20 70.5px,#d5523a 71.5px,#b03260 72.5px,#8c227a 73.5px,#5e0f8d 75.5px,#470b84 78.5px,#510c89 87.5px,#280a68 96.5px,#240a63 107.5px)"></i><i style="top:104px;height:2px;background:linear-gradient(90deg,#320a73 0.5px,#340a74 9.5px,#280a68 23.5px,#370a79 30.5px,#5b0e8e 34.5px,#8a207c 36.5px,#bb3a55 38.5px,#b83858 39.5px,#851e7f 41.5px,#5c0e8e 43.5px,#3d0a7f 48.5px,#420a82 59.5px,#63108c 63.5px,#912277 65.5px,#b3345d 66.5px,#d65438 67.5px,#ea7c20 68.5px,#ee8d1c 69.5px,#e87422 70.5px,#d04a40 71.5px,#aa2d66 72.5px,#6e1688 74.5px,#520d89 76.5px,#480b84 80.5px,#540d8a 86.5px,#280a68 96.5px,#240a64 107.5px)"></i><i style="top:106px;height:2px;background:linear-gradient(90deg,#320a74 0.5px,#360a78 9.5px,#280a68 23.5px,#370a78 30.5px,#5a0e8d 34.5px,#861e7e 36.5px,#ba3856 38.5px,#ba3a56 39.5px,#721686 42.5px,#4c0c86 45.5px,#3a0a7c 51.5px,#440b82 59.5px,#590e8c 62.5px,#7d1a83 64.5px,#bc3a54 66.5px,#dc5d30 67.5px,#ec821e 68.5px,#ee8a1c 69.5px,#e56c26 70.5px,#c84448 71.5px,#a32a6c 72.5px,#6b1489 74.5px,#4b0c86 77.5px,#4f0c88 82.5px,#510d89 87.5px,#280a68 96.5px,#240a64 107.5px)"></i><i style="top:108px;height:2px;background:linear-gradient(90deg,#330a74 0.5px,#390a7b 9.5px,#280a68 22.5px,#360a78 30.5px,#580d8c 34.5px,#801c82 36.5px,#b6365a 38.5px,#bc3c54 39.5px,#ae3062 40.5px,#781a84 42.5px,#4f0c88 45.5px,#3c0a7e 51.5px,#460b84 59.5px,#5e0e8e 62.5px,#851e7f 64.5px,#a32a6b 65.5px,#c6424a 66.5px,#e46828 67.5px,#ed881d 68.5px,#ec851e 69.5px,#de602e 70.5px,#be3c52 71.5px,#7c1a84 73.5px,#580e8c 75.5px,#480b85 79.5px,#540d8a 86.5px,#280a68 96.5px,#250a65 107.5px)"></i><i style="top:110px;height:2px;background:linear-gradient(90deg,#340a75 0.5px,#3c0a7e 9.5px,#290a69 22.5px,#360a78 30.5px,#540d8a 34.5px,#7a1a84 36.5px,#b2335e 38.5px,#bd3c53 39.5px,#b3345d 40.5px,#801c82 42.5px,#5b0e8e 44.5px,#400a80 49.5px,#440b82 58.5px,#62108c 62.5px,#8e217a 64.5px,#ae3062 65.5px,#d14c3e 66.5px,#e87322 67.5px,#ee8c1c 68.5px,#ea7c20 69.5px,#d75636 70.5px,#b4365c 71.5px,#781884 73.5px,#560d8c 75.5px,#490c85 79.5px,#550d8b 86.5px,#280a69 96.5px,#250a65 107.5px)"></i><i style="top:112px;height:2px;background:linear-gradient(90deg,#340a75 0.5px,#3f0a80 9.5px,#2a0a6a 23.5px,#3a0a7c 31.5px,#61108c 35.5px,#902277 37.5px,#bc3c54 39.5px,#b83858 40.5px,#701688 43.5px,#4e0c87 46.5px,#3e0a80 52.5px,#4a0c86 59.5px,#68138a 62.5px,#972573 64.5px,#b83858 65.5px,#d85835 66.5px,#ea7d20 67.5px,#ee8a1c 68.5px,#e87222 69.5px,#d04c40 70.5px,#ac2e64 71.5px,#721686 73.5px,#540d8a 75.5px,#4a0c86 79.5px,#580d8c 85.5px,#2a0a6b 95.5px,#260a66 107.5px)"></i><i style="top:114px;height:2px;background:linear-gradient(90deg,#340a75 0.5px,#420a82 9.5px,#2a0a6b 23.5px,#3a0a7c 31.5px,#5e0e8e 35.5px,#a62c69 38.5px,#ba3a56 39.5px,#bc3a54 40.5px,#761886 43.5px,#500c88 46.5px,#400a81 52.5px,#4d0c87 59.5px,#6f1688 62.5px,#a2296c 64.5px,#e0632c 66.5px,#ec841e 67.5px,#ec871e 68.5px,#e36828 69.5px,#c6424a 70.5px,#a32a6c 71.5px,#6d1488 73.5px,#4d0c87 76.5px,#520d8a 81.5px,#550d8b 86.5px,#2a0a6b 95.5px,#260a66 107.5px)"></i><i style="top:116px;height:2px;background:linear-gradient(90deg,#340a75 0.5px,#440b83 9.5px,#2b0a6c 23.5px,#3a0a7b 31.5px,#5a0e8e 35.5px,#841e7f 37.5px,#b73859 39.5px,#be3c52 40.5px,#962574 42.5px,#6a148a 44.5px,#480b84 48.5px,#460b84 57.5px,#64128c 61.5px,#8d217a 63.5px,#ac2e64 64.5px,#e66e24 66.5px,#ed891d 67.5px,#ec811e 68.5px,#dc5e30 69.5px,#bc3c54 70.5px,#7e1c82 72.5px,#5a0e8d 74.5px,#4b0c86 78.5px,#590e8c 85.5px,#2c0a6d 94.5px,#270a67 107.5px)"></i><i style="top:118px;height:2px;background:linear-gradient(90deg,#340a75 0.5px,#480b84 9.5px,#2c0a6d 24.5px,#3e0a80 32.5px,#69138a 36.5px,#9a2671 38.5px,#b3345d 39.5px,#bf3d51 40.5px,#b5365b 41.5px,#841e7f 43.5px,#560d8c 46.5px,#420b82 52.5px,#4c0c87 58.5px,#6a148a 61.5px,#962574 63.5px,#d65338 65.5px,#e97821 66.5px,#ee8a1c 67.5px,#e97821 68.5px,#d65239 69.5px,#b4345c 70.5px,#781a84 72.5px,#580e8c 74.5px,#4c0c86 78.5px,#5b0e8e 84.5px,#2c0a6d 94.5px,#270a68 107.5px)"></i><i style="top:120px;height:2px;background:linear-gradient(90deg,#330a74 0.5px,#4a0c86 9.5px,#2d0a6e 24.5px,#3e0a80 32.5px,#65128b 36.5px,#942475 38.5px,#be3c52 40.5px,#ba3956 41.5px,#761886 44.5px,#520d89 47.5px,#440b83 53.5px,#560d8c 59.5px,#841e7f 62.5px,#c03d50 64.5px,#dd5e30 65.5px,#eb801f 66.5px,#ed881d 67.5px,#e66e24 68.5px,#ab2e65 70.5px,#741886 72.5px,#500c88 75.5px,#540d8a 80.5px,#590e8d 85.5px,#2d0a6d 94.5px,#280a68 107.5px)"></i><i style="top:122px;height:2px;background:linear-gradient(90deg,#330a74 0.5px,#4b0c86 10.5px,#2e0a6e 24.5px,#3d0a7f 32.5px,#62108c 36.5px,#aa2d66 39.5px,#bc3a54 40.5px,#bd3c53 41.5px,#7c1a84 44.5px,#540d8a 47.5px,#460b84 53.5px,#520d8a 58.5px,#761886 61.5px,#aa2e66 63.5px,#e46827 65.5px,#ec861e 66.5px,#ec841e 67.5px,#e0642b 68.5px,#c4414c 69.5px,#a32a6c 70.5px,#6f1688 72.5px,#500c88 75.5px,#560d8b 80.5px,#5d0e8e 84.5px,#2d0a6d 94.5px,#280a69 107.5px)"></i><i style="top:124px;height:2px;background:linear-gradient(90deg,#320a73 0.5px,#4c0c87 10.5px,#2e0a70 25.5px,#420b82 33.5px,#5e0f8d 36.5px,#a42a6b 39.5px,#b93857 40.5px,#c03d50 41.5px,#9a2671 43.5px,#701688 45.5px,#510c89 48.5px,#480b84 54.5px,#5e0e8e 59.5px,#952474 62.5px,#d3503c 64.5px,#e87222 65.5px,#ed881d 66.5px,#ea7d20 67.5px,#da5a33 68.5px,#bc3a54 69.5px,#801c82 71.5px,#5c0e8e 73.5px,#4e0c87 77.5px,#5d0e8e 84.5px,#2f0a70 93.5px,#290a69 107.5px)"></i><i style="top:126px;height:2px;background:linear-gradient(90deg,#320a72 0.5px,#4d0c87 10.5px,#300a70 25.5px,#420a82 33.5px,#5c0e8e 36.5px,#841e80 38.5px,#b5365b 40.5px,#c03e50 41.5px,#a22a6c 43.5px,#66128a 46.5px,#4c0c86 50.5px,#520d8a 57.5px,#721686 60.5px,#9e286e 62.5px,#da5a33 64.5px,#ea7c20 65.5px,#ed881d 66.5px,#e87422 67.5px,#b3345d 69.5px,#7a1a84 71.5px,#530d8a 74.5px,#520d89 78.5px,#60108d 83.5px,#2d0a6e 94.5px,#2a0a6a 107.5px)"></i><i style="top:128px;height:2px;background:linear-gradient(90deg,#310a72 0.5px,#4e0c88 11.5px,#300a71 26.5px,#410a81 33.5px,#6a148a 37.5px,#982672 39.5px,#c03e50 41.5px,#bc3a54 42.5px,#7a1a84 45.5px,#560d8c 48.5px,#4c0c86 54.5px,#5c0e8e 58.5px,#8d217a 61.5px,#c84348 63.5px,#e0642b 64.5px,#ec821e 65.5px,#ec861e 66.5px,#e46a26 67.5px,#ab2e65 69.5px,#761886 71.5px,#520d8a 74.5px,#580d8c 79.5px,#60108c 83.5px,#2f0a70 93.5px,#2a0a6a 107.5px)"></i><i style="top:130px;height:2px;background:linear-gradient(90deg,#310a72 0.5px,#4f0c88 11.5px,#310a72 26.5px,#400a81 33.5px,#66128a 37.5px,#922476 39.5px,#be3c52 41.5px,#be3c52 42.5px,#821c81 45.5px,#5a0e8c 48.5px,#4e0c88 53.5px,#580e8c 57.5px,#7e1c82 60.5px,#b2335e 62.5px,#e66e24 64.5px,#ec861e 65.5px,#eb801f 66.5px,#de612d 67.5px,#a32a6c 69.5px,#711687 71.5px,#520d89 74.5px,#5a0e8c 79.5px,#61108c 83.5px,#2f0a70 93.5px,#2b0a6b 107.5px)"></i><i style="top:132px;height:2px;background:linear-gradient(90deg,#300a71 0.5px,#500c88 12.5px,#320a73 27.5px,#460b84 34.5px,#64118c 37.5px,#a82c68 40.5px,#bb3a55 41.5px,#c13e4f 42.5px,#9e286e 44.5px,#67128a 47.5px,#500c88 51.5px,#5c0e8e 57.5px,#861e7e 60.5px,#ba3a56 62.5px,#e87722 64.5px,#ed881d 65.5px,#ea7920 66.5px,#d85835 67.5px,#9b2770 69.5px,#6d1488 71.5px,#520d89 74.5px,#60108d 80.5px,#5d0e8e 84.5px,#320a73 92.5px,#2b0a6c 107.5px)"></i><i style="top:134px;height:2px;background:linear-gradient(90deg,#300a71 0.5px,#500c89 13.5px,#330a74 27.5px,#440b83 34.5px,#60108c 37.5px,#88207d 39.5px,#b83858 41.5px,#c23f4e 42.5px,#a62b6a 44.5px,#6c1488 47.5px,#520d8a 51.5px,#590e8c 56.5px,#7a1a84 59.5px,#a82c68 61.5px,#de602e 63.5px,#ea7e20 64.5px,#ec861e 65.5px,#e77023 66.5px,#b2345e 68.5px,#7c1a84 70.5px,#560d8b 73.5px,#540d8a 77.5px,#64118b 82.5px,#420b82 88.5px,#2e0a6e 95.5px,#2c0a6c 107.5px)"></i><i style="top:136px;height:2px;background:linear-gradient(90deg,#300a71 0.5px,#520d89 13.5px,#340a75 27.5px,#440b83 34.5px,#5e0e8e 37.5px,#831e80 39.5px,#b4345c 41.5px,#c23f4e 42.5px,#be3c52 43.5px,#801c82 46.5px,#5c0e8e 49.5px,#560d8b 54.5px,#64128c 57.5px,#952474 60.5px,#ce4942 62.5px,#e46a26 63.5px,#ec841e 64.5px,#ec831e 65.5px,#e26728 66.5px,#ab2e65 68.5px,#771885 70.5px,#540d8a 73.5px,#5a0e8d 78.5px,#65128b 82.5px,#420a82 88.5px,#2e0a6f 95.5px,#2c0a6d 107.5px)"></i><i style="top:138px;height:2px;background:linear-gradient(90deg,#300a71 0.5px,#520d8a 14.5px,#340a76 27.5px,#440b82 34.5px,#5c0e8e 37.5px,#7f1c82 39.5px,#c03e50 42.5px,#c13e4f 43.5px,#761886 47.5px,#5a0e8e 50.5px,#5a0e8e 55.5px,#761886 58.5px,#9e286e 60.5px,#d55239 62.5px,#e87222 63.5px,#ed861d 64.5px,#ea7d20 65.5px,#dc5e30 66.5px,#a32a6b 68.5px,#731786 70.5px,#540d8a 73.5px,#5c0e8e 78.5px,#66128b 82.5px,#480b84 87.5px,#2f0a70 94.5px,#2d0a6e 107.5px)"></i><i style="top:140px;height:2px;background:linear-gradient(90deg,#300a71 0.5px,#530d8a 15.5px,#360a77 28.5px,#490b85 35.5px,#68128a 38.5px,#ab2e65 41.5px,#be3c52 42.5px,#c3404d 43.5px,#a42a6b 45.5px,#6e1688 48.5px,#590e8c 52.5px,#64128c 56.5px,#8e2278 59.5px,#c2404e 61.5px,#ea7b20 63.5px,#ed871d 64.5px,#e87622 65.5px,#ba3a56 67.5px,#821e80 69.5px,#580e8c 72.5px,#560d8b 76.5px,#66128b 82.5px,#460b84 87.5px,#300a71 94.5px,#2e0a6e 107.5px)"></i><i style="top:142px;height:2px;background:linear-gradient(90deg,#300a71 0.5px,#540d8a 15.5px,#360a78 28.5px,#480b85 35.5px,#66128b 38.5px,#a62c69 41.5px,#c4404c 43.5px,#aa2e66 45.5px,#731686 48.5px,#5c0e8e 52.5px,#69148a 56.5px,#962574 59.5px,#cc4744 61.5px,#e26629 62.5px,#ec811e 63.5px,#ec841e 64.5px,#e66d24 65.5px,#b2345e 67.5px,#7e1c82 69.5px,#580d8c 72.5px,#580d8c 76.5px,#68138a 81.5px,#460b84 87.5px,#300a71 94.5px,#2e0a6f 107.5px)"></i><i style="top:144px;height:2px;background:linear-gradient(90deg,#300a71 0.5px,#560d8b 15.5px,#380a7a 29.5px,#480b84 35.5px,#62108c 38.5px,#a0296d 41.5px,#c4404c 43.5px,#c03e50 44.5px,#881f7d 47.5px,#66128a 50.5px,#62108c 54.5px,#7a1a84 57.5px,#9f286e 59.5px,#d4503b 61.5px,#e66f24 62.5px,#ec851e 63.5px,#eb801f 64.5px,#e1642a 65.5px,#ab2e65 67.5px,#791a84 69.5px,#570d8c 72.5px,#5a0e8c 76.5px,#6a138a 81.5px,#4c0c86 86.5px,#320a72 93.5px,#2f0a70 107.5px)"></i><i style="top:146px;height:2px;background:linear-gradient(90deg,#310a72 0.5px,#510c89 12.5px,#500c88 19.5px,#380a7a 29.5px,#4d0c87 36.5px,#701688 39.5px,#9c2670 41.5px,#c2404e 43.5px,#c4404c 44.5px,#7e1c82 48.5px,#66128a 51.5px,#6b1489 55.5px,#912277 58.5px,#c23e4e 60.5px,#e87722 62.5px,#ed871d 63.5px,#ea7a20 64.5px,#dc5c32 65.5px,#a42a6a 67.5px,#751886 69.5px,#570d8c 72.5px,#5c0e8e 76.5px,#6a1489 81.5px,#4b0c86 86.5px,#330a74 92.5px,#300a70 107.5px)"></i><i style="top:148px;height:2px;background:linear-gradient(90deg,#310a72 0.5px,#500c88 12.5px,#560d8b 18.5px,#3a0a7c 30.5px,#4c0c87 36.5px,#6d1488 39.5px,#ae3062 42.5px,#c03e50 43.5px,#c6424a 44.5px,#aa2d66 46.5px,#781884 49.5px,#68128a 52.5px,#7a1a84 56.5px,#b03260 59.5px,#e0632c 61.5px,#ea7e20 62.5px,#ec861e 63.5px,#e87322 64.5px,#ba3956 66.5px,#841e7f 68.5px,#5b0e8e 71.5px,#580e8c 75.5px,#6c1488 80.5px,#4a0c86 86.5px,#320a74 93.5px,#300a71 107.5px)"></i><i style="top:150px;height:2px;background:linear-gradient(90deg,#320a72 0.5px,#4c0c86 11.5px,#580d8c 18.5px,#3b0a7c 30.5px,#4c0c86 36.5px,#6a1489 39.5px,#922476 41.5px,#bd3c53 43.5px,#c74349 44.5px,#b03260 46.5px,#7c1a84 49.5px,#6d1488 52.5px,#761886 55.5px,#a1296c 58.5px,#d24e3d 60.5px,#e66c24 61.5px,#ec841e 62.5px,#ec831e 63.5px,#e56a26 64.5px,#b2345e 66.5px,#801c82 68.5px,#5a0e8d 71.5px,#5a0e8e 75.5px,#6e1588 80.5px,#500c88 85.5px,#340a75 92.5px,#300a72 107.5px)"></i><i style="top:152px;height:2px;background:linear-gradient(90deg,#320a73 0.5px,#460b84 10.5px,#5a0e8d 17.5px,#3c0a7e 31.5px,#520d89 37.5px,#791984 40.5px,#ba3a56 43.5px,#c74349 44.5px,#b6365a 46.5px,#821d80 49.5px,#721686 52.5px,#861e7e 56.5px,#aa2e66 58.5px,#d85835 60.5px,#e87522 61.5px,#ed861d 62.5px,#ea7e20 63.5px,#e0632c 64.5px,#ac2f64 66.5px,#7c1a84 68.5px,#5a0e8d 71.5px,#5c0e8e 75.5px,#6e1588 80.5px,#4f0c88 85.5px,#340a76 92.5px,#310a72 107.5px)"></i><i style="top:154px;height:2px;background:linear-gradient(90deg,#320a74 0.5px,#4a0c85 11.5px,#5a0e8c 19.5px,#3e0a80 31.5px,#520d89 37.5px,#761886 40.5px,#c6424a 44.5px,#c84448 45.5px,#88207c 49.5px,#781884 52.5px,#821c81 55.5px,#b2345e 58.5px,#de612d 60.5px,#ea7c20 61.5px,#ed871d 62.5px,#e97821 63.5px,#c13e4f 65.5px,#8c207a 67.5px,#600f8d 70.5px,#5a0e8d 74.5px,#6f1588 80.5px,#560d8b 84.5px,#370a79 90.5px,#320a73 107.5px)"></i><i style="top:156px;height:2px;background:linear-gradient(90deg,#330a74 0.5px,#480b85 11.5px,#5c0e8e 18.5px,#3f0a80 32.5px,#580e8c 38.5px,#861e7e 41.5px,#c4404c 44.5px,#ca4446 45.5px,#851e7f 50.5px,#7f1c82 53.5px,#942475 56.5px,#ba3a56 58.5px,#e46a26 60.5px,#ec821e 61.5px,#ec861e 62.5px,#e87122 63.5px,#ba3a56 65.5px,#871e7e 67.5px,#5e0f8d 70.5px,#5c0e8e 74.5px,#711687 79.5px,#540d8a 84.5px,#380a79 90.5px,#320a74 107.5px)"></i><i style="top:158px;height:2px;background:linear-gradient(90deg,#340a74 0.5px,#430b82 10.5px,#5c0e8e 19.5px,#400a81 32.5px,#580d8c 38.5px,#821d80 41.5px,#c23e4e 44.5px,#cb4645 45.5px,#b6375a 47.5px,#8c207a 50.5px,#861e7e 53.5px,#9c2870 56.5px,#c4404c 58.5px,#e87422 60.5px,#ec871e 61.5px,#ec821e 62.5px,#e46926 63.5px,#b4345c 65.5px,#831e80 67.5px,#5e0f8d 70.5px,#5e0f8d 74.5px,#721787 79.5px,#540d8a 84.5px,#380a7a 90.5px,#330a74 107.5px)"></i><i style="top:160px;height:2px;background:linear-gradient(90deg,#340a75 0.5px,#460b84 11.5px,#5e0f8d 19.5px,#410a82 32.5px,#570d8c 38.5px,#7f1c82 41.5px,#bf3c51 44.5px,#cb4645 45.5px,#ca4546 46.5px,#922476 50.5px,#8c217a 53.5px,#a52b6a 56.5px,#cc4744 58.5px,#ea7c20 60.5px,#ed891d 61.5px,#ea7e20 62.5px,#df622c 63.5px,#ae3062 65.5px,#7f1c82 67.5px,#5d0e8e 70.5px,#60108c 74.5px,#731786 79.5px,#530d8a 84.5px,#370a78 91.5px,#340a75 107.5px)"></i><i style="top:162px;height:2px;background:linear-gradient(90deg,#340a76 0.5px,#450b83 11.5px,#5f0f8d 20.5px,#420b82 32.5px,#560d8b 38.5px,#7c1a83 41.5px,#cb4645 45.5px,#ce4842 46.5px,#9a2671 50.5px,#942475 53.5px,#ae3062 56.5px,#d4503b 58.5px,#e46a26 59.5px,#ec831e 60.5px,#ed891d 61.5px,#e97821 62.5px,#c2404e 64.5px,#8f2278 66.5px,#64118c 69.5px,#5e0f8d 73.5px,#741786 79.5px,#520d89 84.5px,#390a7a 90.5px,#340a76 107.5px)"></i><i style="top:164px;height:2px;background:linear-gradient(90deg,#350a76 0.5px,#440b83 11.5px,#60108c 20.5px,#440b83 33.5px,#560d8b 38.5px,#7a1a84 41.5px,#ca4546 45.5px,#ca4446 47.5px,#a22a6c 50.5px,#9c2870 53.5px,#b6365a 56.5px,#da5a33 58.5px,#ed881d 60.5px,#ed881d 61.5px,#e87122 62.5px,#bc3b54 64.5px,#8b207b 66.5px,#62118c 69.5px,#60108c 73.5px,#761885 78.5px,#510d89 84.5px,#390a7b 90.5px,#350a76 107.5px)"></i><i style="top:166px;height:2px;background:linear-gradient(90deg,#360a77 0.5px,#460b84 12.5px,#62108c 21.5px,#450b83 33.5px,#550d8b 38.5px,#781985 41.5px,#b6365a 44.5px,#d14c3e 46.5px,#c2404e 48.5px,#a42b6a 51.5px,#b2345e 55.5px,#d24e3e 57.5px,#ea7e20 59.5px,#ee8c1c 60.5px,#ec841e 61.5px,#e56a26 62.5px,#b6365a 64.5px,#871f7e 66.5px,#62108c 69.5px,#63118c 73.5px,#781985 78.5px,#500c88 84.5px,#3a0a7b 90.5px,#360a77 107.5px)"></i><i style="top:168px;height:2px;background:linear-gradient(90deg,#360a78 0.5px,#460b84 12.5px,#63118c 21.5px,#470b84 34.5px,#5d0e8e 39.5px,#881f7d 42.5px,#c6424a 45.5px,#d24e3d 47.5px,#ad3063 51.5px,#bc3a54 55.5px,#d85835 57.5px,#ec861e 59.5px,#ef8e1b 60.5px,#eb801f 61.5px,#e0642b 62.5px,#b03260 64.5px,#841e80 66.5px,#62108c 69.5px,#66128b 73.5px,#781984 78.5px,#570d8c 83.5px,#3b0a7d 89.5px,#360a78 107.5px)"></i><i style="top:170px;height:2px;background:linear-gradient(90deg,#370a78 0.5px,#440b83 12.5px,#64118b 21.5px,#480b85 34.5px,#5c0e8e 39.5px,#861e7e 42.5px,#d24e3d 46.5px,#d04b40 48.5px,#b6365a 51.5px,#c6424a 55.5px,#e0622c 57.5px,#ee8e1c 59.5px,#ef8f1b 60.5px,#dc5d30 62.5px,#ac2f64 64.5px,#821c82 66.5px,#62108c 69.5px,#68138a 73.5px,#7a1a84 78.5px,#560d8b 83.5px,#3c0a7e 89.5px,#370a78 107.5px)"></i><i style="top:172px;height:2px;background:linear-gradient(90deg,#380a79 0.5px,#440b83 12.5px,#65128b 21.5px,#4a0c86 34.5px,#5c0e8e 39.5px,#821c80 42.5px,#d04c3f 46.5px,#d4503c 48.5px,#be3c52 52.5px,#ce4a42 55.5px,#eb821f 58.5px,#ef8f1b 59.5px,#ee8a1c 60.5px,#e77123 61.5px,#be3c52 63.5px,#8f2278 65.5px,#68128a 68.5px,#66128b 72.5px,#7c1a84 77.5px,#66128b 81.5px,#400a81 87.5px,#380a79 107.5px)"></i><i style="top:174px;height:2px;background:linear-gradient(90deg,#380a7a 0.5px,#460b84 13.5px,#65128b 21.5px,#5c0e8e 27.5px,#4c0c86 35.5px,#64118c 40.5px,#902278 43.5px,#cc4744 46.5px,#d4523a 48.5px,#c4414c 52.5px,#d4503c 55.5px,#ec841e 58.5px,#ee8b1c 59.5px,#ea7e20 60.5px,#e2652a 61.5px,#b5365b 63.5px,#88207c 65.5px,#66128b 68.5px,#68128a 72.5px,#7c1b83 77.5px,#540d8a 83.5px,#3c0a7e 89.5px,#380a7a 107.5px)"></i><i style="top:176px;height:2px;background:linear-gradient(90deg,#390a7a 0.5px,#450b83 13.5px,#65128b 21.5px,#5f0f8d 27.5px,#4c0c87 35.5px,#62108c 40.5px,#8a207b 43.5px,#d24e3c 47.5px,#d04a40 53.5px,#e1642a 56.5px,#ec841e 58.5px,#ec861e 59.5px,#e87422 60.5px,#ad3063 63.5px,#761886 66.5px,#62108c 69.5px,#7e1b83 77.5px,#530d8a 83.5px,#3d0a7f 89.5px,#390a7b 107.5px)"></i><i style="top:178px;height:2px;background:linear-gradient(90deg,#3a0a7b 0.5px,#480b84 14.5px,#65128b 21.5px,#62108c 27.5px,#4e0c88 35.5px,#60108d 40.5px,#992672 44.5px,#d04c3f 47.5px,#d3503c 50.5px,#d85736 54.5px,#ec841e 58.5px,#ea7e20 59.5px,#e46a26 60.5px,#a52b6a 63.5px,#721786 66.5px,#62108c 69.5px,#7e1b82 77.5px,#520d8a 83.5px,#3c0a7e 90.5px,#3a0a7c 107.5px)"></i><i style="top:180px;height:2px;background:linear-gradient(90deg,#3a0a7c 0.5px,#470b84 14.5px,#64118b 21.5px,#66128b 27.5px,#500c88 36.5px,#68138a 41.5px,#942474 44.5px,#ce4842 47.5px,#d85636 49.5px,#de5f2f 54.5px,#ec821e 58.5px,#de602e 60.5px,#b4355c 62.5px,#7c1a84 65.5px,#64118b 68.5px,#761886 73.5px,#7f1c82 77.5px,#520d89 83.5px,#3d0a7f 90.5px,#3a0a7c 107.5px)"></i><i style="top:182px;height:2px;background:linear-gradient(90deg,#3b0a7c 0.5px,#460b84 14.5px,#6a138a 23.5px,#60108c 29.5px,#510c89 36.5px,#67128a 41.5px,#902278 44.5px,#cb4645 47.5px,#da5a34 49.5px,#e46828 54.5px,#eb821f 57.5px,#eb7f1f 58.5px,#e66e24 59.5px,#ae3062 62.5px,#781984 65.5px,#65118b 68.5px,#811c81 76.5px,#60108d 81.5px,#410a81 87.5px,#3b0a7d 107.5px)"></i><i style="top:184px;height:2px;background:linear-gradient(90deg,#3c0a7e 0.5px,#480b84 15.5px,#68128a 23.5px,#62108c 29.5px,#540d8a 37.5px,#66128a 41.5px,#8d227a 44.5px,#d55339 48.5px,#ec831e 57.5px,#e36728 59.5px,#a72c68 62.5px,#761885 65.5px,#66128b 69.5px,#811c81 76.5px,#560d8b 82.5px,#400a81 88.5px,#3c0a7e 107.5px)"></i><i style="top:186px;height:2px;background:linear-gradient(90deg,#3c0a7e 0.5px,#460b84 15.5px,#68128a 24.5px,#580d8c 33.5px,#5a0e8d 39.5px,#7c1a84 43.5px,#b1325f 46.5px,#de5f2e 49.5px,#ec841e 57.5px,#de602e 59.5px,#a22a6c 62.5px,#741886 65.5px,#68128a 69.5px,#801c82 76.5px,#550d8b 82.5px,#3f0a80 89.5px,#3c0a7e 107.5px)"></i><i style="top:188px;height:2px;background:linear-gradient(90deg,#3d0a7f 0.5px,#480b85 16.5px,#69138a 26.5px,#560d8b 37.5px,#6f1588 42.5px,#9a2671 45.5px,#d4503a 48.5px,#e87322 51.5px,#ee8a1c 56.5px,#e87222 58.5px,#b03260 61.5px,#7e1b83 64.5px,#68138a 67.5px,#7c1b83 73.5px,#7c1a83 77.5px,#540d8a 82.5px,#400a81 89.5px,#3d0a7f 107.5px)"></i><i style="top:190px;height:2px;background:linear-gradient(90deg,#3e0a80 0.5px,#4a0c86 17.5px,#68138a 27.5px,#580e8c 38.5px,#791984 43.5px,#ac2f64 46.5px,#e0622c 49.5px,#ee8c1c 53.5px,#ee8e1c 56.5px,#e66c24 58.5px,#ac2f64 61.5px,#7c1a83 64.5px,#6a138a 68.5px,#821d81 75.5px,#530d8a 82.5px,#400a81 90.5px,#3e0a80 107.5px)"></i><i style="top:192px;height:2px;background:linear-gradient(90deg,#3e0a80 0.5px,#490c85 17.5px,#68138a 27.5px,#5a0e8d 38.5px,#6e1588 42.5px,#962574 45.5px,#d24e3c 48.5px,#e87522 50.5px,#f0951a 53.5px,#ef901b 56.5px,#e26728 58.5px,#a82c68 61.5px,#7b1a84 64.5px,#6a1489 68.5px,#821d81 75.5px,#520d8a 82.5px,#400a81 91.5px,#3e0a80 107.5px)"></i><i style="top:194px;height:2px;background:linear-gradient(90deg,#3f0a80 0.5px,#4b0c86 18.5px,#68128a 28.5px,#5c0e8e 38.5px,#791984 43.5px,#a82c68 46.5px,#e1642b 49.5px,#f0941a 52.5px,#f09e1e 54.5px,#ef911b 56.5px,#e0622c 58.5px,#a42a6a 61.5px,#7a1a84 64.5px,#6d1488 68.5px,#821d81 75.5px,#580d8c 81.5px,#420b82 88.5px,#3f0a80 107.5px)"></i><i style="top:196px;height:2px;background:linear-gradient(90deg,#400a81 0.5px,#4a0c86 18.5px,#67128a 29.5px,#60108d 39.5px,#791984 43.5px,#a72c68 46.5px,#e0642b 49.5px,#ee8d1c 51.5px,#efa420 53.5px,#f09e1e 55.5px,#e97821 57.5px,#b5365b 60.5px,#841e80 63.5px,#6e1588 67.5px,#821d81 75.5px,#560d8c 81.5px,#420b82 89.5px,#400a81 107.5px)"></i><i style="top:198px;height:2px;background:linear-gradient(90deg,#400a81 0.5px,#4c0c86 19.5px,#67128a 29.5px,#62108c 39.5px,#791984 43.5px,#a62b6a 46.5px,#e0622c 49.5px,#ef901b 51.5px,#efa921 53.5px,#efa01e 55.5px,#e87422 57.5px,#b2345e 60.5px,#831d80 63.5px,#701687 67.5px,#841e80 74.5px,#560d8b 81.5px,#430b82 89.5px,#400a81 107.5px)"></i><i style="top:200px;height:2px;background:linear-gradient(90deg,#410a81 0.5px,#4b0c86 19.5px,#67128a 30.5px,#64118c 39.5px,#841e7f 44.5px,#b83858 47.5px,#ea7c20 50.5px,#efa21f 52.5px,#efac22 53.5px,#efa01e 55.5px,#e76f23 57.5px,#af3261 60.5px,#831d80 63.5px,#721686 67.5px,#841e7f 74.5px,#550d8b 81.5px,#440b82 90.5px,#410a81 107.5px)"></i><i style="top:202px;height:2px;background:linear-gradient(90deg,#420a82 0.5px,#4c0c87 20.5px,#67128a 31.5px,#68128a 40.5px,#841e7f 44.5px,#b6365a 47.5px,#ea7920 50.5px,#efa31f 52.5px,#efad22 53.5px,#f09e1d 55.5px,#e56b25 57.5px,#ac3064 60.5px,#831d80 63.5px,#741886 67.5px,#841e7f 74.5px,#550d8b 81.5px,#440b83 90.5px,#420a82 107.5px)"></i><i style="top:204px;height:2px;background:linear-gradient(90deg,#420b82 0.5px,#4e0c88 21.5px,#67128a 32.5px,#6a138a 40.5px,#841e7f 44.5px,#b4365c 47.5px,#e87522 50.5px,#efa21e 52.5px,#efac22 53.5px,#f0991c 55.5px,#e26629 57.5px,#aa2e66 60.5px,#841d80 63.5px,#771885 67.5px,#841e7f 74.5px,#550d8b 81.5px,#450b83 90.5px,#420b82 107.5px)"></i><i style="top:206px;height:2px;background:linear-gradient(90deg,#430b82 0.5px,#4d0c87 21.5px,#67128a 33.5px,#6e1588 41.5px,#902278 45.5px,#c74349 48.5px,#e77023 50.5px,#f09e1e 52.5px,#efa921 53.5px,#f0931a 55.5px,#de602e 57.5px,#a82c68 60.5px,#841e80 63.5px,#7a1a84 67.5px,#841e7f 74.5px,#540d8a 81.5px,#450b83 93.5px,#430b82 107.5px)"></i><i style="top:208px;height:2px;background:linear-gradient(90deg,#440b83 0.5px,#4f0c88 22.5px,#68128a 34.5px,#751886 42.5px,#9e286e 46.5px,#d65438 49.5px,#ec831e 51.5px,#efa31f 53.5px,#ee8a1c 55.5px,#db5a32 57.5px,#a62c69 60.5px,#841e7f 63.5px,#7c1a84 67.5px,#871f7d 73.5px,#590e8d 80.5px,#470b84 89.5px,#440b83 107.5px)"></i><i style="top:210px;height:2px;background:linear-gradient(90deg,#440b83 0.5px,#4e0c88 22.5px,#68138a 35.5px,#761885 42.5px,#9c2870 46.5px,#d24e3d 49.5px,#ea7a20 51.5px,#f09a1c 53.5px,#eb801f 55.5px,#d65438 57.5px,#a42a6a 60.5px,#801c82 64.5px,#841e7f 74.5px,#590e8c 80.5px,#480b84 90.5px,#440b83 107.5px)"></i><i style="top:212px;height:2px;background:linear-gradient(90deg,#450b83 0.5px,#500c88 23.5px,#6f1688 40.5px,#8e217a 45.5px,#bb3a55 48.5px,#e76f23 51.5px,#ef901b 53.5px,#e87422 55.5px,#b03260 59.5px,#851e7f 63.5px,#821d80 68.5px,#881f7d 73.5px,#590e8c 80.5px,#480b85 91.5px,#450b83 107.5px)"></i><i style="top:214px;height:2px;background:linear-gradient(90deg,#460b84 0.5px,#4f0c88 23.5px,#6e1588 39.5px,#8c217a 45.5px,#b6365a 48.5px,#e0642c 51.5px,#ec821e 53.5px,#d85736 56.5px,#9e286e 60.5px,#821d81 64.5px,#881f7d 73.5px,#540d8a 81.5px,#460b84 102.5px,#460b84 107.5px)"></i><i style="top:216px;height:2px;background:linear-gradient(90deg,#460b84 0.5px,#530d8a 25.5px,#7c1a83 43.5px,#a22a6c 47.5px,#d85834 51.5px,#e87322 53.5px,#c4404c 57.5px,#9b2670 60.5px,#831d80 64.5px,#881f7d 73.5px,#550d8b 81.5px,#470b84 104.5px,#470b84 107.5px)"></i><i style="top:218px;height:2px;background:linear-gradient(90deg,#470b84 0.5px,#520d8a 25.5px,#811c82 44.5px,#aa2e66 48.5px,#e0642b 53.5px,#ae3062 58.5px,#8a207c 62.5px,#88207c 68.5px,#881f7d 73.5px,#590e8c 80.5px,#490b85 96.5px,#480b84 107.5px)"></i><i style="top:220px;height:2px;background:linear-gradient(90deg,#480b85 0.5px,#540d8a 26.5px,#801c82 44.5px,#ae3062 49.5px,#d65438 53.5px,#942476 60.5px,#841e80 65.5px,#8b207b 72.5px,#590e8c 80.5px,#4a0c85 97.5px,#480b85 107.5px)"></i><i style="top:222px;height:2px;background:linear-gradient(90deg,#480b85 0.5px,#540d8a 26.5px,#7f1c82 44.5px,#b2335e 50.5px,#ce4842 53.5px,#992672 59.5px,#861e7e 64.5px,#8c217a 72.5px,#590e8d 80.5px,#4a0c85 102.5px,#490b85 107.5px)"></i><i style="top:224px;height:2px;background:linear-gradient(90deg,#4a0c85 0.5px,#550d8b 27.5px,#841e7f 45.5px,#ba3956 52.5px,#c94447 53.5px,#a0296e 58.5px,#881f7d 63.5px,#8c217a 72.5px,#570d8c 81.5px,#4a0c86 107.5px)"></i><i style="top:226px;height:2px;background:linear-gradient(90deg,#4a0c86 0.5px,#560d8c 28.5px,#841d80 45.5px,#b4355c 52.5px,#c4404c 53.5px,#b2335e 55.5px,#8a207c 62.5px,#902278 71.5px,#580e8c 81.5px,#4a0c86 107.5px)"></i><i style="top:228px;height:2px;background:linear-gradient(90deg,#4b0c86 0.5px,#560d8b 28.5px,#881f7d 46.5px,#af3161 52.5px,#be3c52 53.5px,#ad3063 55.5px,#8b207b 62.5px,#902377 71.5px,#5a0e8d 81.5px,#4c0c86 107.5px)"></i><i style="top:230px;height:2px;background:linear-gradient(90deg,#4c0c86 0.5px,#580d8c 29.5px,#861e7e 46.5px,#aa2d66 52.5px,#b83858 53.5px,#a82c68 55.5px,#8b207b 63.5px,#912377 71.5px,#5a0e8d 81.5px,#4c0c87 107.5px)"></i><i style="top:232px;height:2px;background:linear-gradient(90deg,#4c0c87 0.5px,#590e8c 30.5px,#8a207c 47.5px,#a42a6b 52.5px,#b2345e 53.5px,#a32a6b 55.5px,#8c217a 63.5px,#912377 71.5px,#5c0e8e 81.5px,#4d0c87 107.5px)"></i><i style="top:234px;height:2px;background:linear-gradient(90deg,#4d0c87 0.5px,#5a0e8d 31.5px,#8c217a 48.5px,#9e286e 52.5px,#ae3062 53.5px,#a0286e 54.5px,#8c217a 63.5px,#902278 71.5px,#5c0e8e 81.5px,#4e0c88 107.5px)"></i><i style="top:236px;height:2px;background:linear-gradient(90deg,#4e0c88 0.5px,#5b0e8e 32.5px,#89207c 48.5px,#982672 52.5px,#a92d67 53.5px,#9a2671 54.5px,#8c217a 63.5px,#922376 70.5px,#5e0f8d 81.5px,#4f0c88 107.5px)"></i><i style="top:238px;height:2px;background:linear-gradient(90deg,#4f0c88 0.5px,#5c0e8e 33.5px,#942475 52.5px,#a42a6a 53.5px,#962474 54.5px,#8e2179 64.5px,#912377 70.5px,#600f8d 81.5px,#500c88 107.5px)"></i><i style="top:240px;height:2px;background:linear-gradient(90deg,#500c88 0.5px,#5c0e8e 34.5px,#8f2278 52.5px,#a0286e 53.5px,#912277 54.5px,#8e2179 64.5px,#902278 70.5px,#60108c 81.5px,#500c89 107.5px)"></i><i style="top:242px;height:2px;background:linear-gradient(90deg,#500c89 0.5px,#5e0f8d 35.5px,#8b207a 52.5px,#9c2770 53.5px,#8d227a 54.5px,#8f2278 65.5px,#8a207b 71.5px,#62108c 81.5px,#520d89 107.5px)"></i><i style="top:244px;height:2px;background:linear-gradient(90deg,#510d89 0.5px,#5e0f8d 35.5px,#881f7d 52.5px,#982672 53.5px,#8a207c 54.5px,#8d217a 70.5px,#64118c 81.5px,#520d8a 107.5px)"></i><i style="top:246px;height:2px;background:linear-gradient(90deg,#520d89 0.5px,#60108d 36.5px,#841e80 52.5px,#942474 53.5px,#861e7e 54.5px,#8c207a 70.5px,#64118b 81.5px,#530d8a 107.5px)"></i><i style="top:248px;height:2px;background:linear-gradient(90deg,#530d8a 0.5px,#60108d 36.5px,#821c81 52.5px,#922376 53.5px,#841e80 54.5px,#8c217a 69.5px,#64118b 82.5px,#540d8a 107.5px)"></i><i style="top:250px;height:2px;background:linear-gradient(90deg,#540d8a 0.5px,#60108d 36.5px,#7f1c82 52.5px,#902278 53.5px,#811c82 54.5px,#8a207b 69.5px,#66128b 82.5px,#550d8b 107.5px)"></i><i style="top:252px;height:2px;background:linear-gradient(90deg,#540d8a 0.5px,#60108d 36.5px,#7c1a83 52.5px,#8c217a 53.5px,#7e1c82 54.5px,#88207c 69.5px,#65128b 83.5px,#560d8b 107.5px)"></i><i style="top:254px;height:2px;background:linear-gradient(90deg,#560d8b 0.5px,#62108c 37.5px,#7a1a84 52.5px,#8a207b 53.5px,#7c1a83 54.5px,#861e7e 69.5px,#65128b 84.5px,#560d8c 107.5px)"></i><i style="top:256px;height:2px;background:linear-gradient(90deg,#560d8b 0.5px,#63118c 38.5px,#781984 52.5px,#88207c 53.5px,#7a1a84 54.5px,#841e80 69.5px,#65128b 85.5px,#580d8c 107.5px)"></i><i style="top:258px;height:2px;background:linear-gradient(90deg,#570d8c 0.5px,#64118b 39.5px,#761885 52.5px,#871f7e 53.5px,#781984 54.5px,#821d80 69.5px,#63118c 88.5px,#580e8c 107.5px)"></i><i style="top:260px;height:2px;background:linear-gradient(90deg,#580d8c 0.5px,#64118b 39.5px,#761886 52.5px,#861e7e 53.5px,#781885 54.5px,#801c82 69.5px,#5e0e8e 96.5px,#590e8d 107.5px)"></i><i style="top:262px;height:2px;background:linear-gradient(90deg,#580e8c 0.5px,#65118b 40.5px,#741786 52.5px,#841e80 53.5px,#761886 54.5px,#7e1b83 69.5px,#5b0e8e 103.5px,#5a0e8d 107.5px)"></i><i style="top:264px;height:2px;background:linear-gradient(90deg,#5a0e8d 0.5px,#66128b 41.5px,#721786 52.5px,#821d80 53.5px,#741886 54.5px,#7a1a84 70.5px,#5b0e8e 107.5px)"></i><i style="top:266px;height:2px;background:linear-gradient(90deg,#5a0e8d 0.5px,#67128a 42.5px,#721687 52.5px,#821d81 53.5px,#731786 54.5px,#761885 71.5px,#5c0e8e 107.5px)"></i><i style="top:268px;height:2px;background:linear-gradient(90deg,#5b0e8e 0.5px,#68138a 44.5px,#701687 52.5px,#801c82 53.5px,#721687 54.5px,#731786 74.5px,#5d0e8e 107.5px)"></i><i style="top:270px;height:2px;background:linear-gradient(90deg,#5c0e8e 0.5px,#69138a 45.5px,#701688 52.5px,#801c82 53.5px,#711687 54.5px,#6f1588 79.5px,#5e0f8d 107.5px)"></i><i style="top:272px;height:2px;background:linear-gradient(90deg,#5d0e8e 0.5px,#6a1389 46.5px,#6f1588 52.5px,#7f1c82 53.5px,#701687 54.5px,#6d1488 82.5px,#5f0f8d 107.5px)"></i><i style="top:274px;height:2px;background:linear-gradient(90deg,#5e0f8d 0.5px,#6b1489 48.5px,#6e1588 52.5px,#7e1b83 53.5px,#701688 54.5px,#6c1489 84.5px,#60108d 107.5px)"></i></div><div class="hm" style="left:147px;top:18px;width:2px;height:276px;background:linear-gradient(90deg,#8a78b8,#b8a6dc 50%,#8a78b8)"></div><div class="hm" style="left:260px;top:247px;width:10px;height:39px;border:0.8px solid #000;background:linear-gradient(180deg,#faf79a 0%,#f3dd54 10%,#eebb27 20%,#f0941a 30%,#e56b25 40%,#cc4644 50%,#a42a6b 60%,#751886 70%,#490b85 80%,#220a60 90%,#08041e 100%)"></div>
<svg width="685" height="329" viewBox="0 0 685 329">
<defs><clipPath id="cb"><rect x="288" y="0" width="106" height="294"/></clipPath></defs>
<text x="23" y="25" font-size="19" text-anchor="start" fill="#000" font-weight="bold" font-family='"Liberation Sans", sans-serif' >a</text>
<line x1="41.5" y1="41.5" x2="256" y2="41.5" stroke="#e6dcf5" stroke-width="1.3" stroke-dasharray="4,2.7"/>
<line x1="95.1" y1="18.4" x2="95.1" y2="294" stroke="#e6dcf5" stroke-width="1.2" stroke-dasharray="4,2.7"/>
<line x1="202.5" y1="18.4" x2="202.5" y2="294" stroke="#e6dcf5" stroke-width="1.2" stroke-dasharray="4,2.7"/>
<line x1="42" y1="41.6" x2="45" y2="41.6" stroke="#e6dcf5" stroke-width="1.1"/>
<line x1="149" y1="41.6" x2="152" y2="41.6" stroke="#e6dcf5" stroke-width="1.1"/>
<line x1="42" y1="64.7" x2="45" y2="64.7" stroke="#e6dcf5" stroke-width="1.1"/>
<line x1="149" y1="64.7" x2="152" y2="64.7" stroke="#e6dcf5" stroke-width="1.1"/>
<line x1="42" y1="87.7" x2="45" y2="87.7" stroke="#e6dcf5" stroke-width="1.1"/>
<line x1="149" y1="87.7" x2="152" y2="87.7" stroke="#e6dcf5" stroke-width="1.1"/>
<line x1="42" y1="110.8" x2="45" y2="110.8" stroke="#e6dcf5" stroke-width="1.1"/>
<line x1="149" y1="110.8" x2="152" y2="110.8" stroke="#e6dcf5" stroke-width="1.1"/>
<line x1="42" y1="133.8" x2="45" y2="133.8" stroke="#e6dcf5" stroke-width="1.1"/>
<line x1="149" y1="133.8" x2="152" y2="133.8" stroke="#e6dcf5" stroke-width="1.1"/>
<line x1="42" y1="156.9" x2="45" y2="156.9" stroke="#e6dcf5" stroke-width="1.1"/>
<line x1="149" y1="156.9" x2="152" y2="156.9" stroke="#e6dcf5" stroke-width="1.1"/>
<line x1="42" y1="180.0" x2="45" y2="180.0" stroke="#e6dcf5" stroke-width="1.1"/>
<line x1="149" y1="180.0" x2="152" y2="180.0" stroke="#e6dcf5" stroke-width="1.1"/>
<line x1="42" y1="203.0" x2="45" y2="203.0" stroke="#e6dcf5" stroke-width="1.1"/>
<line x1="149" y1="203.0" x2="152" y2="203.0" stroke="#e6dcf5" stroke-width="1.1"/>
<line x1="42" y1="226.1" x2="45" y2="226.1" stroke="#e6dcf5" stroke-width="1.1"/>
<line x1="149" y1="226.1" x2="152" y2="226.1" stroke="#e6dcf5" stroke-width="1.1"/>
<line x1="42" y1="249.1" x2="45" y2="249.1" stroke="#e6dcf5" stroke-width="1.1"/>
<line x1="149" y1="249.1" x2="152" y2="249.1" stroke="#e6dcf5" stroke-width="1.1"/>
<line x1="42" y1="272.2" x2="45" y2="272.2" stroke="#e6dcf5" stroke-width="1.1"/>
<line x1="149" y1="272.2" x2="152" y2="272.2" stroke="#e6dcf5" stroke-width="1.1"/>
<line x1="67.2" y1="294" x2="67.2" y2="290" stroke="#e6dcf5" stroke-width="1"/>
<line x1="122.5" y1="294" x2="122.5" y2="290" stroke="#e6dcf5" stroke-width="1"/>
<line x1="174.7" y1="294" x2="174.7" y2="290" stroke="#e6dcf5" stroke-width="1"/>
<line x1="230.7" y1="294" x2="230.7" y2="290" stroke="#e6dcf5" stroke-width="1"/>
<text x="38.8" y="45.2" font-size="10.5" text-anchor="end" fill="#000" font-weight="normal" font-family='"Liberation Serif", serif' >0</text>
<text x="38.8" y="160.6" font-size="10.5" text-anchor="end" fill="#000" font-weight="normal" font-family='"Liberation Serif", serif' >-0.05</text>
<text x="38.8" y="275.9" font-size="10.5" text-anchor="end" fill="#000" font-weight="normal" font-family='"Liberation Serif", serif' >-0.10</text>
<text x="67.2" y="305.8" font-size="10.3" text-anchor="middle" fill="#000" font-weight="normal" font-family='"Liberation Serif", serif' >-0.05</text>
<text x="95" y="305.8" font-size="10.3" text-anchor="middle" fill="#000" font-weight="normal" font-family='"Liberation Serif", serif' >0</text>
<text x="122.3" y="305.8" font-size="10.3" text-anchor="middle" fill="#000" font-weight="normal" font-family='"Liberation Serif", serif' >0.05</text>
<text x="174.7" y="305.8" font-size="10.3" text-anchor="middle" fill="#000" font-weight="normal" font-family='"Liberation Serif", serif' >-0.05</text>
<text x="202.3" y="305.8" font-size="10.3" text-anchor="middle" fill="#000" font-weight="normal" font-family='"Liberation Serif", serif' >0</text>
<text x="230.5" y="305.8" font-size="10.3" text-anchor="middle" fill="#000" font-weight="normal" font-family='"Liberation Serif", serif' >0.05</text>
<text x="157.7" y="321" font-size="12.3" text-anchor="middle" fill="#000" font-weight="normal" font-family='"Liberation Serif", serif' >Momentum (1/Å)</text>
<g transform="translate(11.6,155.2) rotate(-90)"><text x="0" y="0" font-size="11.5" text-anchor="middle" fill="#000" font-weight="normal" font-family='"Liberation Serif", serif' textLength="58" lengthAdjust="spacing">E - E<tspan font-size="8.5" dy="3">F</tspan><tspan dy="-3"> (eV)</tspan></text></g>
<text x="52.2" y="14.2" font-size="9.8" text-anchor="middle" fill="#000" font-weight="normal" font-family='"Liberation Serif", serif' >K</text><line x1="49.75" y1="4.399999999999999" x2="54.650000000000006" y2="4.399999999999999" stroke="#000" stroke-width="0.8"/>
<line x1="85" y1="10.9" x2="64.8" y2="10.9" stroke="#000" stroke-width="1.0"/><path d="M60.6,10.9 L67.6,9.0 L66.2,10.9 L67.6,12.8 Z" fill="#000"/>
<text x="94" y="14.2" font-size="9.8" text-anchor="middle" fill="#000" font-weight="normal" font-family='"Liberation Serif", serif' >Γ</text><line x1="91.55" y1="4.399999999999999" x2="96.45" y2="4.399999999999999" stroke="#000" stroke-width="0.8"/>
<line x1="102.6" y1="10.9" x2="122.5" y2="10.9" stroke="#000" stroke-width="1.0"/><path d="M126.7,10.9 L119.7,9.0 L121.10000000000001,10.9 L119.7,12.8 Z" fill="#000"/>
<text x="137.8" y="14.2" font-size="9.8" text-anchor="middle" fill="#000" font-weight="normal" font-family='"Liberation Serif", serif' >K</text><line x1="135.35000000000002" y1="4.399999999999999" x2="140.25" y2="4.399999999999999" stroke="#000" stroke-width="0.8"/>
<text x="158.9" y="14.2" font-size="9.8" text-anchor="middle" fill="#000" font-weight="normal" font-family='"Liberation Serif", serif' >M</text><line x1="156.45000000000002" y1="4.399999999999999" x2="161.35" y2="4.399999999999999" stroke="#000" stroke-width="0.8"/>
<line x1="195.2" y1="10.9" x2="175.5" y2="10.9" stroke="#000" stroke-width="1.0"/><path d="M171.3,10.9 L178.3,9.0 L176.9,10.9 L178.3,12.8 Z" fill="#000"/>
<text x="201.8" y="14.2" font-size="9.8" text-anchor="middle" fill="#000" font-weight="normal" font-family='"Liberation Serif", serif' >Γ</text><line x1="199.35000000000002" y1="4.399999999999999" x2="204.25" y2="4.399999999999999" stroke="#000" stroke-width="0.8"/>
<line x1="210.2" y1="10.9" x2="229.20000000000002" y2="10.9" stroke="#000" stroke-width="1.0"/><path d="M233.4,10.9 L226.4,9.0 L227.8,10.9 L226.4,12.8 Z" fill="#000"/>
<text x="246.2" y="14.2" font-size="9.8" text-anchor="middle" fill="#000" font-weight="normal" font-family='"Liberation Serif", serif' >M</text><line x1="243.75" y1="4.399999999999999" x2="248.64999999999998" y2="4.399999999999999" stroke="#000" stroke-width="0.8"/>
<text x="265.8" y="244.8" font-size="8.6" text-anchor="middle" fill="#000" font-weight="normal" font-family='"Liberation Serif", serif' >High</text>
<text x="265.8" y="297" font-size="8.6" text-anchor="middle" fill="#000" font-weight="normal" font-family='"Liberation Serif", serif' >Low</text>
<defs><radialGradient id="ringin" cx="0.5" cy="0.5" r="0.5"><stop offset="0" stop-color="#3a0c86"/><stop offset="0.8" stop-color="#2c0a70"/><stop offset="1" stop-color="#260a66" stop-opacity="0"/></radialGradient><filter id="rb" x="-20%" y="-20%" width="140%" height="140%"><feGaussianBlur stdDeviation="0.85"/></filter></defs>
<rect x="109.5" y="201.5" width="73.8" height="73.7" fill="#250a64" stroke="#d8c4f0" stroke-width="1.1"/>
<circle cx="147" cy="238.4" r="14" fill="url(#ringin)"/>
<g filter="url(#rb)"><path d="M161.90,238.30 A15.0,15.0 0 0 0 161.65,235.57" stroke="#e0642b" stroke-width="3.0" fill="none"/><path d="M161.67,235.70 A15.0,15.0 0 0 0 160.95,233.05" stroke="#e66c24" stroke-width="3.0" fill="none"/><path d="M161.00,233.17 A15.0,15.0 0 0 0 159.82,230.69" stroke="#e87522" stroke-width="3.0" fill="none"/><path d="M159.89,230.80 A15.0,15.0 0 0 0 158.31,228.56" stroke="#ea7e20" stroke-width="3.0" fill="none"/><path d="M158.39,228.66 A15.0,15.0 0 0 0 156.44,226.73" stroke="#ed871d" stroke-width="3.0" fill="none"/><path d="M156.54,226.81 A15.0,15.0 0 0 0 154.29,225.24" stroke="#ef901b" stroke-width="3.0" fill="none"/><path d="M154.40,225.31 A15.0,15.0 0 0 0 151.91,224.16" stroke="#f0981b" stroke-width="3.0" fill="none"/><path d="M152.03,224.20 A15.0,15.0 0 0 0 149.38,223.51" stroke="#f09e1d" stroke-width="3.0" fill="none"/><path d="M149.50,223.53 A15.0,15.0 0 0 0 146.77,223.30" stroke="#efa41f" stroke-width="3.0" fill="none"/><path d="M146.90,223.30 A15.0,15.0 0 0 0 144.17,223.55" stroke="#efa821" stroke-width="3.0" fill="none"/><path d="M144.30,223.53 A15.0,15.0 0 0 0 141.65,224.25" stroke="#efab22" stroke-width="3.0" fill="none"/><path d="M141.77,224.20 A15.0,15.0 0 0 0 139.29,225.38" stroke="#efad22" stroke-width="3.0" fill="none"/><path d="M139.40,225.31 A15.0,15.0 0 0 0 137.16,226.89" stroke="#efad22" stroke-width="3.0" fill="none"/><path d="M137.26,226.81 A15.0,15.0 0 0 0 135.33,228.76" stroke="#efab22" stroke-width="3.0" fill="none"/><path d="M135.41,228.66 A15.0,15.0 0 0 0 133.84,230.91" stroke="#efa821" stroke-width="3.0" fill="none"/><path d="M133.91,230.80 A15.0,15.0 0 0 0 132.76,233.29" stroke="#efa41f" stroke-width="3.0" fill="none"/><path d="M132.80,233.17 A15.0,15.0 0 0 0 132.11,235.82" stroke="#f09e1d" stroke-width="3.0" fill="none"/><path d="M132.13,235.70 A15.0,15.0 0 0 0 131.90,238.43" stroke="#f0981b" stroke-width="3.0" fill="none"/><path d="M131.90,238.30 A15.0,15.0 0 0 0 132.15,241.03" stroke="#ef901b" stroke-width="3.0" fill="none"/><path d="M132.13,240.90 A15.0,15.0 0 0 0 132.85,243.55" stroke="#ed871d" stroke-width="3.0" fill="none"/><path d="M132.80,243.43 A15.0,15.0 0 0 0 133.98,245.91" stroke="#ea7e20" stroke-width="3.0" fill="none"/><path d="M133.91,245.80 A15.0,15.0 0 0 0 135.49,248.04" stroke="#e87522" stroke-width="3.0" fill="none"/><path d="M135.41,247.94 A15.0,15.0 0 0 0 137.36,249.87" stroke="#e66c24" stroke-width="3.0" fill="none"/><path d="M137.26,249.79 A15.0,15.0 0 0 0 139.51,251.36" stroke="#e0642b" stroke-width="3.0" fill="none"/><path d="M139.40,251.29 A15.0,15.0 0 0 0 141.89,252.44" stroke="#dc5c31" stroke-width="3.0" fill="none"/><path d="M141.77,252.40 A15.0,15.0 0 0 0 144.42,253.09" stroke="#d75636" stroke-width="3.0" fill="none"/><path d="M144.30,253.07 A15.0,15.0 0 0 0 147.03,253.30" stroke="#d4513b" stroke-width="3.0" fill="none"/><path d="M146.90,253.30 A15.0,15.0 0 0 0 149.63,253.05" stroke="#d14c3e" stroke-width="3.0" fill="none"/><path d="M149.50,253.07 A15.0,15.0 0 0 0 152.15,252.35" stroke="#cf4a41" stroke-width="3.0" fill="none"/><path d="M152.03,252.40 A15.0,15.0 0 0 0 154.51,251.22" stroke="#ce4842" stroke-width="3.0" fill="none"/><path d="M154.40,251.29 A15.0,15.0 0 0 0 156.64,249.71" stroke="#ce4842" stroke-width="3.0" fill="none"/><path d="M156.54,249.79 A15.0,15.0 0 0 0 158.47,247.84" stroke="#cf4a41" stroke-width="3.0" fill="none"/><path d="M158.39,247.94 A15.0,15.0 0 0 0 159.96,245.69" stroke="#d14c3e" stroke-width="3.0" fill="none"/><path d="M159.89,245.80 A15.0,15.0 0 0 0 161.04,243.31" stroke="#d4513b" stroke-width="3.0" fill="none"/><path d="M161.00,243.43 A15.0,15.0 0 0 0 161.69,240.78" stroke="#d75636" stroke-width="3.0" fill="none"/><path d="M161.67,240.90 A15.0,15.0 0 0 0 161.90,238.17" stroke="#dc5c31" stroke-width="3.0" fill="none"/></g>
<rect x="141" y="233" width="12" height="11.5" fill="#1c4cae"/>
<line x1="146.8" y1="202" x2="146.8" y2="275" stroke="#2a5ad0" stroke-width="1" stroke-dasharray="3,2"/>
<line x1="148.2" y1="202" x2="148.2" y2="275" stroke="#c0aee0" stroke-width="1.1" opacity="0.85"/>
<line x1="110" y1="238.4" x2="183" y2="238.4" stroke="#e6dcf5" stroke-width="1" stroke-dasharray="3,2.5"/>
<line x1="152" y1="235.6" x2="183" y2="218.8" stroke="#e6dcf5" stroke-width="1" stroke-dasharray="3,2.5"/>
<line x1="110" y1="219.4" x2="114.5" y2="219.4" stroke="#e6dcf5" stroke-width="1"/>
<line x1="110" y1="238.4" x2="114.5" y2="238.4" stroke="#e6dcf5" stroke-width="1"/>
<line x1="110" y1="257.6" x2="114.5" y2="257.6" stroke="#e6dcf5" stroke-width="1"/>
<line x1="127.9" y1="275" x2="127.9" y2="270.5" stroke="#e6dcf5" stroke-width="1"/>
<line x1="147.3" y1="275" x2="147.3" y2="270.5" stroke="#e6dcf5" stroke-width="1"/>
<line x1="166.7" y1="275" x2="166.7" y2="270.5" stroke="#e6dcf5" stroke-width="1"/>
<text x="107.8" y="222.2" font-size="9.2" text-anchor="end" fill="#f0e8f8" font-weight="normal" font-family='"Liberation Serif", serif' >0.05</text>
<text x="107.8" y="241.5" font-size="9.2" text-anchor="end" fill="#f0e8f8" font-weight="normal" font-family='"Liberation Serif", serif' >0</text>
<text x="107.8" y="260.6" font-size="9.2" text-anchor="end" fill="#f0e8f8" font-weight="normal" font-family='"Liberation Serif", serif' >-0.05</text>
<text x="128" y="284.5" font-size="9.2" text-anchor="middle" fill="#f0e8f8" font-weight="normal" font-family='"Liberation Serif", serif' >-0.05</text>
<text x="147.3" y="284.5" font-size="9.2" text-anchor="middle" fill="#f0e8f8" font-weight="normal" font-family='"Liberation Serif", serif' >0</text>
<text x="166.7" y="284.5" font-size="9.2" text-anchor="middle" fill="#f0e8f8" font-weight="normal" font-family='"Liberation Serif", serif' >0.05</text>
<text x="147.3" y="244.2" font-size="13" text-anchor="middle" fill="#fff" font-weight="normal" font-family='"Liberation Serif", serif' >Γ</text><line x1="144.05" y1="231.2" x2="150.55" y2="231.2" stroke="#fff" stroke-width="0.8"/>
<text x="192.5" y="224.2" font-size="10" text-anchor="middle" fill="#f0e8f8" font-weight="normal" font-family='"Liberation Serif", serif' >M</text><line x1="190.0" y1="214.2" x2="195.0" y2="214.2" stroke="#f0e8f8" stroke-width="0.8"/>
<text x="192.8" y="244" font-size="10" text-anchor="middle" fill="#f0e8f8" font-weight="normal" font-family='"Liberation Serif", serif' >K</text><line x1="190.3" y1="234.0" x2="195.3" y2="234.0" stroke="#f0e8f8" stroke-width="0.8"/>
<text x="269.2" y="25.4" font-size="20" text-anchor="start" fill="#000" font-weight="bold" font-family='"Liberation Sans", sans-serif' >b</text>
<rect x="287.6" y="18.4" width="106.5" height="275.8" fill="none" stroke="#000" stroke-width="1.1"/>
<line x1="340.5" y1="19" x2="340.5" y2="294" stroke="#000" stroke-width="1.2" stroke-dasharray="3.5,2.5"/>
<text x="299.7" y="14" font-size="9.8" text-anchor="middle" fill="#000" font-weight="normal" font-family='"Liberation Serif", serif' >K</text><line x1="297.25" y1="4.199999999999999" x2="302.15" y2="4.199999999999999" stroke="#000" stroke-width="0.8"/>
<line x1="333.5" y1="10.9" x2="313.7" y2="10.9" stroke="#000" stroke-width="1.0"/><path d="M309.5,10.9 L316.5,9.0 L315.1,10.9 L316.5,12.8 Z" fill="#000"/>
<text x="341" y="14" font-size="9.8" text-anchor="middle" fill="#000" font-weight="normal" font-family='"Liberation Serif", serif' >Γ</text><line x1="338.55" y1="4.199999999999999" x2="343.45" y2="4.199999999999999" stroke="#000" stroke-width="0.8"/>
<line x1="348.8" y1="10.9" x2="368.5" y2="10.9" stroke="#000" stroke-width="1.0"/><path d="M372.7,10.9 L365.7,9.0 L367.09999999999997,10.9 L365.7,12.8 Z" fill="#000"/>
<text x="384.8" y="14" font-size="9.8" text-anchor="middle" fill="#000" font-weight="normal" font-family='"Liberation Serif", serif' >K</text><line x1="382.35" y1="4.199999999999999" x2="387.25" y2="4.199999999999999" stroke="#000" stroke-width="0.8"/>
<line x1="314.4" y1="294" x2="314.4" y2="289.5" stroke="#000" stroke-width="1"/>
<line x1="366" y1="294" x2="366" y2="289.5" stroke="#000" stroke-width="1"/>
<text x="314.4" y="306" font-size="10.3" text-anchor="middle" fill="#000" font-weight="normal" font-family='"Liberation Serif", serif' >-50</text>
<text x="340.2" y="306" font-size="10.3" text-anchor="middle" fill="#000" font-weight="normal" font-family='"Liberation Serif", serif' >0</text>
<text x="366" y="306" font-size="10.3" text-anchor="middle" fill="#000" font-weight="normal" font-family='"Liberation Serif", serif' >50</text>
<text x="341.6" y="321.2" font-size="11.8" text-anchor="middle" fill="#000" font-weight="normal" font-family='"Liberation Serif", serif' textLength="106" lengthAdjust="spacing">Momentum (10<tspan font-size="7.5" dy="-4.5">-3</tspan><tspan dy="4.5"> 1/Å)</tspan></text>
<g transform="translate(279.6,158.3) rotate(-90)"><text x="0" y="0" font-size="12" text-anchor="middle" fill="#000" font-weight="normal" font-family='"Liberation Serif", serif' >MDC Intensity (Arb. Units)</text></g>
<text x="398" y="63.5" font-size="12.5" text-anchor="start" fill="#000" font-weight="normal" font-family='"Liberation Serif", serif' >E<tspan font-size="8" dy="2.5">F</tspan></text>
<text x="397.5" y="239" font-size="12.5" text-anchor="start" fill="#000" font-weight="normal" font-family='"Liberation Serif", serif' >E<tspan font-size="8" dy="2.5">D</tspan></text>
<path clip-path="url(#cb)" d="M288.0,57.3 L288.5,57.2 L289.0,57.2 L289.5,57.1 L290.0,57.0 L290.5,56.9 L291.0,56.9 L291.5,56.8 L292.0,56.7 L292.5,56.6 L293.0,56.5 L293.5,56.4 L294.0,56.3 L294.5,56.3 L295.0,56.2 L295.5,56.1 L296.0,56.0 L296.5,55.9 L297.0,55.8 L297.5,55.7 L298.0,55.6 L298.5,55.6 L299.0,55.5 L299.5,55.4 L300.0,55.3 L300.5,55.2 L301.0,55.1 L301.5,55.0 L302.0,54.9 L302.5,54.8 L303.0,54.7 L303.5,54.7 L304.0,54.6 L304.5,54.5 L305.0,54.4 L305.5,54.3 L306.0,54.2 L306.5,54.1 L307.0,54.0 L307.5,53.9 L308.0,53.8 L308.5,53.7 L309.0,53.6 L309.5,53.5 L310.0,53.4 L310.5,53.2 L311.0,53.1 L311.5,53.0 L312.0,52.9 L312.5,52.7 L313.0,52.6 L313.5,52.4 L314.0,52.3 L314.5,52.1 L315.0,51.9 L315.5,51.7 L316.0,51.4 L316.5,51.2 L317.0,51.0 L317.5,50.8 L318.0,50.7 L318.5,50.5 L319.0,50.0 L319.5,49.1 L320.0,47.5 L320.5,44.6 L321.0,40.6 L321.5,36.1 L322.0,33.9 L322.5,36.1 L323.0,40.7 L323.5,44.9 L324.0,48.0 L324.5,50.1 L325.0,51.5 L325.5,52.5 L326.0,53.2 L326.5,53.7 L327.0,54.0 L327.5,54.3 L328.0,54.6 L328.5,54.7 L329.0,54.9 L329.5,55.0 L330.0,55.1 L330.5,55.2 L331.0,55.2 L331.5,55.3 L332.0,55.3 L332.5,55.3 L333.0,55.4 L333.5,55.4 L334.0,55.4 L334.5,55.4 L335.0,55.5 L335.5,55.5 L336.0,55.5 L336.5,55.5 L337.0,55.5 L337.5,55.5 L338.0,55.5 L338.5,55.5 L339.0,55.5 L339.5,55.5 L340.0,55.5 L340.5,55.5 L341.0,55.5 L341.5,55.4 L342.0,55.4 L342.5,55.4 L343.0,55.4 L343.5,55.4 L344.0,55.4 L344.5,55.3 L345.0,55.3 L345.5,55.3 L346.0,55.2 L346.5,55.2 L347.0,55.2 L347.5,55.1 L348.0,55.0 L348.5,55.0 L349.0,54.9 L349.5,54.8 L350.0,54.7 L350.5,54.6 L351.0,54.5 L351.5,54.3 L352.0,54.1 L352.5,53.8 L353.0,53.5 L353.5,53.1 L354.0,52.6 L354.5,51.9 L355.0,51.0 L355.5,49.7 L356.0,47.9 L356.5,45.2 L357.0,41.3 L357.5,35.7 L358.0,28.4 L358.5,22.0 L359.0,21.2 L359.5,26.8 L360.0,34.0 L360.5,39.8 L361.0,43.5 L361.5,45.9 L362.0,47.2 L362.5,48.1 L363.0,48.7 L363.5,49.2 L364.0,49.7 L364.5,50.1 L365.0,50.5 L365.5,50.8 L366.0,51.1 L366.5,51.4 L367.0,51.6 L367.5,51.8 L368.0,52.0 L368.5,52.2 L369.0,52.3 L369.5,52.5 L370.0,52.6 L370.5,52.8 L371.0,52.9 L371.5,53.0 L372.0,53.1 L372.5,53.3 L373.0,53.4 L373.5,53.5 L374.0,53.6 L374.5,53.7 L375.0,53.8 L375.5,53.9 L376.0,54.0 L376.5,54.1 L377.0,54.2 L377.5,54.3 L378.0,54.4 L378.5,54.5 L379.0,54.6 L379.5,54.7 L380.0,54.8 L380.5,54.9 L381.0,55.0 L381.5,55.0 L382.0,55.1 L382.5,55.2 L383.0,55.3 L383.5,55.4 L384.0,55.5 L384.5,55.6 L385.0,55.7 L385.5,55.8 L386.0,55.9 L386.5,55.9 L387.0,56.0 L387.5,56.1 L388.0,56.2 L388.5,56.3 L389.0,56.4 L389.5,56.5 L390.0,56.6 L390.5,56.7 L391.0,56.7 L391.5,56.8 L392.0,56.9 L392.5,57.0 L393.0,57.1 L393.5,57.1 L394.0,57.2 L394.5,57.3" fill="none" stroke="#1a1acc" stroke-width="2.0" stroke-linejoin="round"/>
<path clip-path="url(#cb)" d="M288.0,64.3 L288.5,64.2 L289.0,64.2 L289.5,64.1 L290.0,64.0 L290.5,63.9 L291.0,63.8 L291.5,63.7 L292.0,63.6 L292.5,63.5 L293.0,63.4 L293.5,63.3 L294.0,63.2 L294.5,63.1 L295.0,63.0 L295.5,62.9 L296.0,62.8 L296.5,62.7 L297.0,62.6 L297.5,62.5 L298.0,62.4 L298.5,62.3 L299.0,62.2 L299.5,62.1 L300.0,62.0 L300.5,61.9 L301.0,61.8 L301.5,61.7 L302.0,61.6 L302.5,61.5 L303.0,61.4 L303.5,61.3 L304.0,61.2 L304.5,61.1 L305.0,61.0 L305.5,60.9 L306.0,60.7 L306.5,60.6 L307.0,60.5 L307.5,60.4 L308.0,60.3 L308.5,60.1 L309.0,60.0 L309.5,59.9 L310.0,59.7 L310.5,59.6 L311.0,59.4 L311.5,59.3 L312.0,59.1 L312.5,58.9 L313.0,58.7 L313.5,58.5 L314.0,58.3 L314.5,58.0 L315.0,57.7 L315.5,57.4 L316.0,57.1 L316.5,56.8 L317.0,56.6 L317.5,56.4 L318.0,56.1 L318.5,55.6 L319.0,54.7 L319.5,53.3 L320.0,51.0 L320.5,47.7 L321.0,43.7 L321.5,39.9 L322.0,38.1 L322.5,39.4 L323.0,43.0 L323.5,47.1 L324.0,50.7 L324.5,53.4 L325.0,55.4 L325.5,56.9 L326.0,57.9 L326.5,58.8 L327.0,59.4 L327.5,59.9 L328.0,60.2 L328.5,60.5 L329.0,60.8 L329.5,61.0 L330.0,61.1 L330.5,61.3 L331.0,61.4 L331.5,61.5 L332.0,61.6 L332.5,61.6 L333.0,61.7 L333.5,61.7 L334.0,61.8 L334.5,61.8 L335.0,61.9 L335.5,61.9 L336.0,61.9 L336.5,61.9 L337.0,61.9 L337.5,61.9 L338.0,61.9 L338.5,61.9 L339.0,61.9 L339.5,61.9 L340.0,61.9 L340.5,61.9 L341.0,61.9 L341.5,61.9 L342.0,61.9 L342.5,61.9 L343.0,61.8 L343.5,61.8 L344.0,61.8 L344.5,61.7 L345.0,61.7 L345.5,61.7 L346.0,61.6 L346.5,61.5 L347.0,61.5 L347.5,61.4 L348.0,61.3 L348.5,61.2 L349.0,61.1 L349.5,61.0 L350.0,60.8 L350.5,60.6 L351.0,60.4 L351.5,60.1 L352.0,59.8 L352.5,59.4 L353.0,58.9 L353.5,58.3 L354.0,57.6 L354.5,56.6 L355.0,55.3 L355.5,53.5 L356.0,51.2 L356.5,48.0 L357.0,43.7 L357.5,38.2 L358.0,32.1 L358.5,27.3 L359.0,26.5 L359.5,30.2 L360.0,36.1 L360.5,41.8 L361.0,46.4 L361.5,49.6 L362.0,51.8 L362.5,53.2 L363.0,54.1 L363.5,54.6 L364.0,55.1 L364.5,55.5 L365.0,56.0 L365.5,56.4 L366.0,56.8 L366.5,57.2 L367.0,57.5 L367.5,57.8 L368.0,58.1 L368.5,58.3 L369.0,58.5 L369.5,58.7 L370.0,58.9 L370.5,59.1 L371.0,59.3 L371.5,59.4 L372.0,59.6 L372.5,59.7 L373.0,59.9 L373.5,60.0 L374.0,60.1 L374.5,60.3 L375.0,60.4 L375.5,60.5 L376.0,60.7 L376.5,60.8 L377.0,60.9 L377.5,61.0 L378.0,61.1 L378.5,61.2 L379.0,61.3 L379.5,61.5 L380.0,61.6 L380.5,61.7 L381.0,61.8 L381.5,61.9 L382.0,62.0 L382.5,62.1 L383.0,62.2 L383.5,62.3 L384.0,62.4 L384.5,62.5 L385.0,62.6 L385.5,62.7 L386.0,62.8 L386.5,62.9 L387.0,63.0 L387.5,63.1 L388.0,63.2 L388.5,63.3 L389.0,63.4 L389.5,63.5 L390.0,63.6 L390.5,63.7 L391.0,63.8 L391.5,63.9 L392.0,64.0 L392.5,64.1 L393.0,64.2 L393.5,64.3 L394.0,64.4 L394.5,64.4" fill="none" stroke="#000" stroke-width="0.95" stroke-linejoin="round"/>
<path clip-path="url(#cb)" d="M288.0,71.3 L288.5,71.2 L289.0,71.1 L289.5,71.0 L290.0,70.9 L290.5,70.8 L291.0,70.7 L291.5,70.6 L292.0,70.5 L292.5,70.4 L293.0,70.3 L293.5,70.2 L294.0,70.1 L294.5,70.0 L295.0,69.9 L295.5,69.8 L296.0,69.7 L296.5,69.6 L297.0,69.5 L297.5,69.4 L298.0,69.3 L298.5,69.2 L299.0,69.1 L299.5,69.0 L300.0,68.8 L300.5,68.7 L301.0,68.6 L301.5,68.5 L302.0,68.4 L302.5,68.3 L303.0,68.2 L303.5,68.1 L304.0,67.9 L304.5,67.8 L305.0,67.7 L305.5,67.6 L306.0,67.5 L306.5,67.4 L307.0,67.2 L307.5,67.1 L308.0,67.0 L308.5,66.8 L309.0,66.7 L309.5,66.6 L310.0,66.4 L310.5,66.3 L311.0,66.1 L311.5,65.9 L312.0,65.7 L312.5,65.6 L313.0,65.3 L313.5,65.1 L314.0,64.9 L314.5,64.6 L315.0,64.3 L315.5,64.0 L316.0,63.7 L316.5,63.4 L317.0,63.2 L317.5,62.9 L318.0,62.7 L318.5,62.3 L319.0,61.5 L319.5,60.1 L320.0,58.0 L320.5,54.9 L321.0,51.2 L321.5,47.4 L322.0,45.0 L322.5,45.6 L323.0,48.6 L323.5,52.6 L324.0,56.2 L324.5,59.1 L325.0,61.3 L325.5,62.9 L326.0,64.1 L326.5,65.0 L327.0,65.7 L327.5,66.3 L328.0,66.7 L328.5,67.0 L329.0,67.3 L329.5,67.5 L330.0,67.7 L330.5,67.8 L331.0,68.0 L331.5,68.1 L332.0,68.2 L332.5,68.2 L333.0,68.3 L333.5,68.4 L334.0,68.4 L334.5,68.4 L335.0,68.5 L335.5,68.5 L336.0,68.5 L336.5,68.5 L337.0,68.6 L337.5,68.6 L338.0,68.6 L338.5,68.6 L339.0,68.6 L339.5,68.6 L340.0,68.6 L340.5,68.6 L341.0,68.6 L341.5,68.5 L342.0,68.5 L342.5,68.5 L343.0,68.5 L343.5,68.5 L344.0,68.4 L344.5,68.4 L345.0,68.3 L345.5,68.3 L346.0,68.2 L346.5,68.2 L347.0,68.1 L347.5,68.0 L348.0,67.9 L348.5,67.8 L349.0,67.7 L349.5,67.6 L350.0,67.4 L350.5,67.2 L351.0,67.0 L351.5,66.7 L352.0,66.4 L352.5,65.9 L353.0,65.4 L353.5,64.8 L354.0,64.0 L354.5,62.9 L355.0,61.6 L355.5,59.8 L356.0,57.3 L356.5,54.0 L357.0,49.7 L357.5,44.3 L358.0,38.5 L358.5,34.3 L359.0,33.9 L359.5,37.6 L360.0,43.2 L360.5,48.7 L361.0,53.1 L361.5,56.3 L362.0,58.4 L362.5,59.8 L363.0,60.6 L363.5,61.2 L364.0,61.7 L364.5,62.1 L365.0,62.6 L365.5,63.0 L366.0,63.4 L366.5,63.8 L367.0,64.2 L367.5,64.5 L368.0,64.8 L368.5,65.0 L369.0,65.2 L369.5,65.5 L370.0,65.7 L370.5,65.8 L371.0,66.0 L371.5,66.2 L372.0,66.4 L372.5,66.5 L373.0,66.7 L373.5,66.8 L374.0,67.0 L374.5,67.1 L375.0,67.2 L375.5,67.4 L376.0,67.5 L376.5,67.6 L377.0,67.8 L377.5,67.9 L378.0,68.0 L378.5,68.1 L379.0,68.2 L379.5,68.4 L380.0,68.5 L380.5,68.6 L381.0,68.7 L381.5,68.8 L382.0,68.9 L382.5,69.1 L383.0,69.2 L383.5,69.3 L384.0,69.4 L384.5,69.5 L385.0,69.6 L385.5,69.7 L386.0,69.8 L386.5,70.0 L387.0,70.1 L387.5,70.2 L388.0,70.3 L388.5,70.4 L389.0,70.5 L389.5,70.6 L390.0,70.7 L390.5,70.8 L391.0,70.9 L391.5,71.0 L392.0,71.1 L392.5,71.2 L393.0,71.3 L393.5,71.4 L394.0,71.5 L394.5,71.6" fill="none" stroke="#000" stroke-width="0.95" stroke-linejoin="round"/>
<path clip-path="url(#cb)" d="M288.0,78.2 L288.5,78.2 L289.0,78.1 L289.5,78.0 L290.0,77.9 L290.5,77.8 L291.0,77.7 L291.5,77.6 L292.0,77.5 L292.5,77.4 L293.0,77.2 L293.5,77.1 L294.0,77.0 L294.5,76.9 L295.0,76.8 L295.5,76.7 L296.0,76.6 L296.5,76.5 L297.0,76.4 L297.5,76.2 L298.0,76.1 L298.5,76.0 L299.0,75.9 L299.5,75.8 L300.0,75.7 L300.5,75.6 L301.0,75.4 L301.5,75.3 L302.0,75.2 L302.5,75.1 L303.0,75.0 L303.5,74.8 L304.0,74.7 L304.5,74.6 L305.0,74.5 L305.5,74.3 L306.0,74.2 L306.5,74.1 L307.0,74.0 L307.5,73.8 L308.0,73.7 L308.5,73.5 L309.0,73.4 L309.5,73.2 L310.0,73.1 L310.5,72.9 L311.0,72.8 L311.5,72.6 L312.0,72.4 L312.5,72.2 L313.0,72.0 L313.5,71.8 L314.0,71.5 L314.5,71.2 L315.0,71.0 L315.5,70.6 L316.0,70.3 L316.5,70.0 L317.0,69.8 L317.5,69.6 L318.0,69.4 L318.5,69.1 L319.0,68.4 L319.5,67.1 L320.0,65.2 L320.5,62.5 L321.0,59.1 L321.5,55.3 L322.0,52.4 L322.5,51.8 L323.0,53.9 L323.5,57.5 L324.0,61.2 L324.5,64.4 L325.0,66.9 L325.5,68.7 L326.0,70.1 L326.5,71.1 L327.0,71.9 L327.5,72.5 L328.0,73.0 L328.5,73.4 L329.0,73.7 L329.5,74.0 L330.0,74.2 L330.5,74.4 L331.0,74.5 L331.5,74.6 L332.0,74.7 L332.5,74.8 L333.0,74.9 L333.5,74.9 L334.0,75.0 L334.5,75.0 L335.0,75.1 L335.5,75.1 L336.0,75.1 L336.5,75.2 L337.0,75.2 L337.5,75.2 L338.0,75.2 L338.5,75.2 L339.0,75.2 L339.5,75.2 L340.0,75.2 L340.5,75.2 L341.0,75.2 L341.5,75.2 L342.0,75.2 L342.5,75.1 L343.0,75.1 L343.5,75.1 L344.0,75.0 L344.5,75.0 L345.0,75.0 L345.5,74.9 L346.0,74.9 L346.5,74.8 L347.0,74.7 L347.5,74.6 L348.0,74.5 L348.5,74.4 L349.0,74.3 L349.5,74.1 L350.0,74.0 L350.5,73.7 L351.0,73.5 L351.5,73.2 L352.0,72.8 L352.5,72.4 L353.0,71.8 L353.5,71.1 L354.0,70.2 L354.5,69.1 L355.0,67.6 L355.5,65.6 L356.0,63.0 L356.5,59.5 L357.0,54.9 L357.5,49.6 L358.0,44.3 L358.5,41.0 L359.0,41.6 L359.5,45.7 L360.0,51.2 L360.5,56.3 L361.0,60.3 L361.5,63.3 L362.0,65.3 L362.5,66.5 L363.0,67.3 L363.5,67.9 L364.0,68.3 L364.5,68.8 L365.0,69.2 L365.5,69.7 L366.0,70.1 L366.5,70.5 L367.0,70.8 L367.5,71.2 L368.0,71.5 L368.5,71.7 L369.0,72.0 L369.5,72.2 L370.0,72.4 L370.5,72.6 L371.0,72.8 L371.5,73.0 L372.0,73.1 L372.5,73.3 L373.0,73.5 L373.5,73.6 L374.0,73.8 L374.5,73.9 L375.0,74.1 L375.5,74.2 L376.0,74.4 L376.5,74.5 L377.0,74.6 L377.5,74.8 L378.0,74.9 L378.5,75.0 L379.0,75.2 L379.5,75.3 L380.0,75.4 L380.5,75.5 L381.0,75.7 L381.5,75.8 L382.0,75.9 L382.5,76.0 L383.0,76.2 L383.5,76.3 L384.0,76.4 L384.5,76.5 L385.0,76.6 L385.5,76.8 L386.0,76.9 L386.5,77.0 L387.0,77.1 L387.5,77.2 L388.0,77.3 L388.5,77.5 L389.0,77.6 L389.5,77.7 L390.0,77.8 L390.5,77.9 L391.0,78.0 L391.5,78.2 L392.0,78.3 L392.5,78.4 L393.0,78.5 L393.5,78.6 L394.0,78.7 L394.5,78.7" fill="none" stroke="#000" stroke-width="0.95" stroke-linejoin="round"/>
<path clip-path="url(#cb)" d="M288.0,85.2 L288.5,85.2 L289.0,85.1 L289.5,85.0 L290.0,84.9 L290.5,84.8 L291.0,84.6 L291.5,84.5 L292.0,84.4 L292.5,84.3 L293.0,84.2 L293.5,84.1 L294.0,83.9 L294.5,83.8 L295.0,83.7 L295.5,83.6 L296.0,83.5 L296.5,83.3 L297.0,83.2 L297.5,83.1 L298.0,83.0 L298.5,82.9 L299.0,82.7 L299.5,82.6 L300.0,82.5 L300.5,82.4 L301.0,82.3 L301.5,82.1 L302.0,82.0 L302.5,81.9 L303.0,81.8 L303.5,81.6 L304.0,81.5 L304.5,81.4 L305.0,81.2 L305.5,81.1 L306.0,81.0 L306.5,80.8 L307.0,80.7 L307.5,80.6 L308.0,80.4 L308.5,80.3 L309.0,80.1 L309.5,80.0 L310.0,79.8 L310.5,79.6 L311.0,79.5 L311.5,79.3 L312.0,79.1 L312.5,78.9 L313.0,78.7 L313.5,78.4 L314.0,78.2 L314.5,77.9 L315.0,77.6 L315.5,77.3 L316.0,77.0 L316.5,76.7 L317.0,76.5 L317.5,76.4 L318.0,76.2 L318.5,75.9 L319.0,75.4 L319.5,74.4 L320.0,72.7 L320.5,70.4 L321.0,67.3 L321.5,63.7 L322.0,60.3 L322.5,58.5 L323.0,59.2 L323.5,62.1 L324.0,65.7 L324.5,69.1 L325.0,72.0 L325.5,74.1 L326.0,75.8 L326.5,77.0 L327.0,78.0 L327.5,78.7 L328.0,79.3 L328.5,79.7 L329.0,80.1 L329.5,80.4 L330.0,80.6 L330.5,80.8 L331.0,81.0 L331.5,81.1 L332.0,81.2 L332.5,81.3 L333.0,81.4 L333.5,81.5 L334.0,81.6 L334.5,81.6 L335.0,81.7 L335.5,81.7 L336.0,81.7 L336.5,81.8 L337.0,81.8 L337.5,81.8 L338.0,81.8 L338.5,81.8 L339.0,81.8 L339.5,81.8 L340.0,81.8 L340.5,81.8 L341.0,81.8 L341.5,81.8 L342.0,81.8 L342.5,81.8 L343.0,81.7 L343.5,81.7 L344.0,81.7 L344.5,81.6 L345.0,81.6 L345.5,81.5 L346.0,81.5 L346.5,81.4 L347.0,81.3 L347.5,81.2 L348.0,81.1 L348.5,81.0 L349.0,80.8 L349.5,80.7 L350.0,80.5 L350.5,80.2 L351.0,79.9 L351.5,79.6 L352.0,79.2 L352.5,78.7 L353.0,78.1 L353.5,77.3 L354.0,76.3 L354.5,75.0 L355.0,73.3 L355.5,71.1 L356.0,68.1 L356.5,64.3 L357.0,59.5 L357.5,54.3 L358.0,49.8 L358.5,48.0 L359.0,50.0 L359.5,54.5 L360.0,59.7 L360.5,64.4 L361.0,68.0 L361.5,70.6 L362.0,72.4 L362.5,73.5 L363.0,74.2 L363.5,74.7 L364.0,75.1 L364.5,75.5 L365.0,76.0 L365.5,76.4 L366.0,76.8 L366.5,77.2 L367.0,77.6 L367.5,77.9 L368.0,78.2 L368.5,78.5 L369.0,78.7 L369.5,78.9 L370.0,79.2 L370.5,79.4 L371.0,79.6 L371.5,79.8 L372.0,79.9 L372.5,80.1 L373.0,80.3 L373.5,80.5 L374.0,80.6 L374.5,80.8 L375.0,80.9 L375.5,81.1 L376.0,81.2 L376.5,81.4 L377.0,81.5 L377.5,81.7 L378.0,81.8 L378.5,81.9 L379.0,82.1 L379.5,82.2 L380.0,82.3 L380.5,82.5 L381.0,82.6 L381.5,82.7 L382.0,82.9 L382.5,83.0 L383.0,83.1 L383.5,83.3 L384.0,83.4 L384.5,83.5 L385.0,83.6 L385.5,83.8 L386.0,83.9 L386.5,84.0 L387.0,84.2 L387.5,84.3 L388.0,84.4 L388.5,84.5 L389.0,84.7 L389.5,84.8 L390.0,84.9 L390.5,85.0 L391.0,85.1 L391.5,85.3 L392.0,85.4 L392.5,85.5 L393.0,85.6 L393.5,85.7 L394.0,85.8 L394.5,85.9" fill="none" stroke="#000" stroke-width="0.95" stroke-linejoin="round"/>
<path clip-path="url(#cb)" d="M288.0,92.2 L288.5,92.1 L289.0,92.0 L289.5,91.9 L290.0,91.8 L290.5,91.7 L291.0,91.6 L291.5,91.5 L292.0,91.3 L292.5,91.2 L293.0,91.1 L293.5,91.0 L294.0,90.9 L294.5,90.7 L295.0,90.6 L295.5,90.5 L296.0,90.4 L296.5,90.2 L297.0,90.1 L297.5,90.0 L298.0,89.9 L298.5,89.7 L299.0,89.6 L299.5,89.5 L300.0,89.3 L300.5,89.2 L301.0,89.1 L301.5,89.0 L302.0,88.8 L302.5,88.7 L303.0,88.6 L303.5,88.4 L304.0,88.3 L304.5,88.2 L305.0,88.0 L305.5,87.9 L306.0,87.7 L306.5,87.6 L307.0,87.5 L307.5,87.3 L308.0,87.2 L308.5,87.0 L309.0,86.8 L309.5,86.7 L310.0,86.5 L310.5,86.3 L311.0,86.2 L311.5,86.0 L312.0,85.8 L312.5,85.6 L313.0,85.4 L313.5,85.1 L314.0,84.9 L314.5,84.6 L315.0,84.3 L315.5,84.0 L316.0,83.6 L316.5,83.3 L317.0,83.0 L317.5,82.7 L318.0,82.5 L318.5,82.3 L319.0,81.9 L319.5,81.2 L320.0,80.0 L320.5,78.2 L321.0,75.6 L321.5,72.4 L322.0,68.9 L322.5,66.1 L323.0,65.2 L323.5,66.7 L324.0,69.8 L324.5,73.3 L325.0,76.5 L325.5,79.1 L326.0,81.1 L326.5,82.6 L327.0,83.7 L327.5,84.6 L328.0,85.3 L328.5,85.9 L329.0,86.3 L329.5,86.7 L330.0,87.0 L330.5,87.2 L331.0,87.4 L331.5,87.6 L332.0,87.7 L332.5,87.9 L333.0,88.0 L333.5,88.0 L334.0,88.1 L334.5,88.2 L335.0,88.2 L335.5,88.3 L336.0,88.3 L336.5,88.3 L337.0,88.4 L337.5,88.4 L338.0,88.4 L338.5,88.4 L339.0,88.4 L339.5,88.4 L340.0,88.4 L340.5,88.4 L341.0,88.4 L341.5,88.4 L342.0,88.4 L342.5,88.4 L343.0,88.3 L343.5,88.3 L344.0,88.3 L344.5,88.2 L345.0,88.2 L345.5,88.1 L346.0,88.0 L346.5,88.0 L347.0,87.9 L347.5,87.8 L348.0,87.6 L348.5,87.5 L349.0,87.3 L349.5,87.1 L350.0,86.9 L350.5,86.6 L351.0,86.3 L351.5,85.9 L352.0,85.5 L352.5,84.9 L353.0,84.1 L353.5,83.2 L354.0,82.0 L354.5,80.5 L355.0,78.6 L355.5,76.0 L356.0,72.6 L356.5,68.4 L357.0,63.5 L357.5,58.7 L358.0,55.7 L358.5,55.8 L359.0,59.0 L359.5,63.9 L360.0,68.7 L360.5,72.8 L361.0,75.9 L361.5,78.2 L362.0,79.7 L362.5,80.6 L363.0,81.2 L363.5,81.6 L364.0,81.9 L364.5,82.3 L365.0,82.7 L365.5,83.1 L366.0,83.5 L366.5,83.8 L367.0,84.2 L367.5,84.5 L368.0,84.7 L368.5,85.0 L369.0,85.2 L369.5,85.4 L370.0,85.6 L370.5,85.8 L371.0,86.0 L371.5,86.2 L372.0,86.4 L372.5,86.5 L373.0,86.7 L373.5,86.8 L374.0,87.0 L374.5,87.1 L375.0,87.3 L375.5,87.4 L376.0,87.6 L376.5,87.7 L377.0,87.8 L377.5,88.0 L378.0,88.1 L378.5,88.2 L379.0,88.3 L379.5,88.5 L380.0,88.6 L380.5,88.7 L381.0,88.8 L381.5,88.9 L382.0,89.1 L382.5,89.2 L383.0,89.3 L383.5,89.4 L384.0,89.5 L384.5,89.6 L385.0,89.8 L385.5,89.9 L386.0,90.0 L386.5,90.1 L387.0,90.2 L387.5,90.3 L388.0,90.4 L388.5,90.5 L389.0,90.7 L389.5,90.8 L390.0,90.9 L390.5,91.0 L391.0,91.1 L391.5,91.2 L392.0,91.3 L392.5,91.4 L393.0,91.5 L393.5,91.6 L394.0,91.7 L394.5,91.8" fill="none" stroke="#000" stroke-width="0.95" stroke-linejoin="round"/>
<path clip-path="url(#cb)" d="M288.0,99.2 L288.5,99.1 L289.0,99.0 L289.5,98.9 L290.0,98.8 L290.5,98.7 L291.0,98.5 L291.5,98.4 L292.0,98.3 L292.5,98.2 L293.0,98.0 L293.5,97.9 L294.0,97.8 L294.5,97.6 L295.0,97.5 L295.5,97.4 L296.0,97.2 L296.5,97.1 L297.0,97.0 L297.5,96.9 L298.0,96.7 L298.5,96.6 L299.0,96.5 L299.5,96.3 L300.0,96.2 L300.5,96.1 L301.0,95.9 L301.5,95.8 L302.0,95.7 L302.5,95.5 L303.0,95.4 L303.5,95.2 L304.0,95.1 L304.5,95.0 L305.0,94.8 L305.5,94.7 L306.0,94.5 L306.5,94.4 L307.0,94.2 L307.5,94.1 L308.0,93.9 L308.5,93.7 L309.0,93.6 L309.5,93.4 L310.0,93.2 L310.5,93.1 L311.0,92.9 L311.5,92.7 L312.0,92.5 L312.5,92.3 L313.0,92.1 L313.5,91.8 L314.0,91.6 L314.5,91.3 L315.0,91.0 L315.5,90.7 L316.0,90.4 L316.5,90.1 L317.0,89.8 L317.5,89.6 L318.0,89.4 L318.5,89.3 L319.0,89.0 L319.5,88.5 L320.0,87.6 L320.5,86.1 L321.0,84.0 L321.5,81.3 L322.0,78.0 L322.5,74.7 L323.0,72.5 L323.5,72.1 L324.0,73.9 L324.5,77.0 L325.0,80.4 L325.5,83.4 L326.0,85.8 L326.5,87.7 L327.0,89.2 L327.5,90.3 L328.0,91.2 L328.5,91.9 L329.0,92.5 L329.5,92.9 L330.0,93.3 L330.5,93.6 L331.0,93.8 L331.5,94.0 L332.0,94.2 L332.5,94.3 L333.0,94.4 L333.5,94.5 L334.0,94.6 L334.5,94.7 L335.0,94.8 L335.5,94.8 L336.0,94.9 L336.5,94.9 L337.0,94.9 L337.5,95.0 L338.0,95.0 L338.5,95.0 L339.0,95.0 L339.5,95.0 L340.0,95.0 L340.5,95.0 L341.0,95.0 L341.5,95.0 L342.0,95.0 L342.5,94.9 L343.0,94.9 L343.5,94.9 L344.0,94.8 L344.5,94.8 L345.0,94.7 L345.5,94.7 L346.0,94.6 L346.5,94.5 L347.0,94.4 L347.5,94.3 L348.0,94.1 L348.5,94.0 L349.0,93.8 L349.5,93.6 L350.0,93.3 L350.5,93.0 L351.0,92.6 L351.5,92.1 L352.0,91.6 L352.5,90.9 L353.0,90.0 L353.5,88.9 L354.0,87.5 L354.5,85.6 L355.0,83.3 L355.5,80.2 L356.0,76.3 L356.5,71.8 L357.0,67.1 L357.5,63.6 L358.0,62.6 L358.5,64.7 L359.0,68.9 L359.5,73.6 L360.0,77.8 L360.5,81.2 L361.0,83.7 L361.5,85.4 L362.0,86.5 L362.5,87.2 L363.0,87.7 L363.5,88.1 L364.0,88.5 L364.5,88.9 L365.0,89.4 L365.5,89.8 L366.0,90.2 L366.5,90.6 L367.0,90.9 L367.5,91.2 L368.0,91.5 L368.5,91.8 L369.0,92.0 L369.5,92.2 L370.0,92.4 L370.5,92.6 L371.0,92.8 L371.5,93.0 L372.0,93.2 L372.5,93.3 L373.0,93.5 L373.5,93.7 L374.0,93.8 L374.5,94.0 L375.0,94.1 L375.5,94.3 L376.0,94.4 L376.5,94.5 L377.0,94.7 L377.5,94.8 L378.0,94.9 L378.5,95.1 L379.0,95.2 L379.5,95.3 L380.0,95.5 L380.5,95.6 L381.0,95.7 L381.5,95.8 L382.0,96.0 L382.5,96.1 L383.0,96.2 L383.5,96.3 L384.0,96.5 L384.5,96.6 L385.0,96.7 L385.5,96.8 L386.0,96.9 L386.5,97.1 L387.0,97.2 L387.5,97.3 L388.0,97.4 L388.5,97.5 L389.0,97.7 L389.5,97.8 L390.0,97.9 L390.5,98.0 L391.0,98.1 L391.5,98.2 L392.0,98.4 L392.5,98.5 L393.0,98.6 L393.5,98.7 L394.0,98.8 L394.5,98.8" fill="none" stroke="#000" stroke-width="0.95" stroke-linejoin="round"/>
<path clip-path="url(#cb)" d="M288.0,106.2 L288.5,106.1 L289.0,106.0 L289.5,105.9 L290.0,105.8 L290.5,105.6 L291.0,105.5 L291.5,105.4 L292.0,105.2 L292.5,105.1 L293.0,105.0 L293.5,104.8 L294.0,104.7 L294.5,104.6 L295.0,104.4 L295.5,104.3 L296.0,104.1 L296.5,104.0 L297.0,103.9 L297.5,103.7 L298.0,103.6 L298.5,103.5 L299.0,103.3 L299.5,103.2 L300.0,103.0 L300.5,102.9 L301.0,102.8 L301.5,102.6 L302.0,102.5 L302.5,102.3 L303.0,102.2 L303.5,102.1 L304.0,101.9 L304.5,101.8 L305.0,101.6 L305.5,101.5 L306.0,101.3 L306.5,101.2 L307.0,101.0 L307.5,100.8 L308.0,100.7 L308.5,100.5 L309.0,100.3 L309.5,100.2 L310.0,100.0 L310.5,99.8 L311.0,99.6 L311.5,99.4 L312.0,99.2 L312.5,99.0 L313.0,98.8 L313.5,98.6 L314.0,98.3 L314.5,98.1 L315.0,97.8 L315.5,97.5 L316.0,97.1 L316.5,96.8 L317.0,96.4 L317.5,96.1 L318.0,95.9 L318.5,95.7 L319.0,95.5 L319.5,95.3 L320.0,94.7 L320.5,93.7 L321.0,92.2 L321.5,90.0 L322.0,87.3 L322.5,84.1 L323.0,81.1 L323.5,79.1 L324.0,79.0 L324.5,80.8 L325.0,83.8 L325.5,87.1 L326.0,90.0 L326.5,92.3 L327.0,94.2 L327.5,95.7 L328.0,96.8 L328.5,97.7 L329.0,98.4 L329.5,99.0 L330.0,99.4 L330.5,99.8 L331.0,100.1 L331.5,100.3 L332.0,100.6 L332.5,100.7 L333.0,100.9 L333.5,101.0 L334.0,101.1 L334.5,101.2 L335.0,101.3 L335.5,101.4 L336.0,101.4 L336.5,101.5 L337.0,101.5 L337.5,101.5 L338.0,101.5 L338.5,101.6 L339.0,101.6 L339.5,101.6 L340.0,101.6 L340.5,101.6 L341.0,101.6 L341.5,101.6 L342.0,101.5 L342.5,101.5 L343.0,101.5 L343.5,101.4 L344.0,101.4 L344.5,101.3 L345.0,101.3 L345.5,101.2 L346.0,101.1 L346.5,101.0 L347.0,100.9 L347.5,100.7 L348.0,100.6 L348.5,100.4 L349.0,100.2 L349.5,99.9 L350.0,99.6 L350.5,99.2 L351.0,98.7 L351.5,98.2 L352.0,97.5 L352.5,96.6 L353.0,95.5 L353.5,94.2 L354.0,92.4 L354.5,90.1 L355.0,87.2 L355.5,83.6 L356.0,79.4 L356.5,74.9 L357.0,71.3 L357.5,69.8 L358.0,71.2 L358.5,74.8 L359.0,79.3 L359.5,83.5 L360.0,87.1 L360.5,89.8 L361.0,91.8 L361.5,93.1 L362.0,94.0 L362.5,94.5 L363.0,94.8 L363.5,95.1 L364.0,95.5 L364.5,95.9 L365.0,96.3 L365.5,96.7 L366.0,97.1 L366.5,97.4 L367.0,97.8 L367.5,98.1 L368.0,98.3 L368.5,98.6 L369.0,98.8 L369.5,99.0 L370.0,99.2 L370.5,99.4 L371.0,99.6 L371.5,99.8 L372.0,100.0 L372.5,100.2 L373.0,100.3 L373.5,100.5 L374.0,100.7 L374.5,100.8 L375.0,101.0 L375.5,101.1 L376.0,101.3 L376.5,101.4 L377.0,101.6 L377.5,101.7 L378.0,101.8 L378.5,102.0 L379.0,102.1 L379.5,102.2 L380.0,102.4 L380.5,102.5 L381.0,102.6 L381.5,102.8 L382.0,102.9 L382.5,103.0 L383.0,103.2 L383.5,103.3 L384.0,103.4 L384.5,103.5 L385.0,103.7 L385.5,103.8 L386.0,103.9 L386.5,104.0 L387.0,104.2 L387.5,104.3 L388.0,104.4 L388.5,104.5 L389.0,104.7 L389.5,104.8 L390.0,104.9 L390.5,105.0 L391.0,105.2 L391.5,105.3 L392.0,105.4 L392.5,105.5 L393.0,105.6 L393.5,105.7 L394.0,105.8 L394.5,105.9" fill="none" stroke="#000" stroke-width="0.95" stroke-linejoin="round"/>
<path clip-path="url(#cb)" d="M288.0,113.1 L288.5,113.1 L289.0,113.0 L289.5,112.8 L290.0,112.7 L290.5,112.6 L291.0,112.4 L291.5,112.3 L292.0,112.2 L292.5,112.0 L293.0,111.9 L293.5,111.8 L294.0,111.6 L294.5,111.5 L295.0,111.3 L295.5,111.2 L296.0,111.1 L296.5,110.9 L297.0,110.8 L297.5,110.6 L298.0,110.5 L298.5,110.3 L299.0,110.2 L299.5,110.1 L300.0,109.9 L300.5,109.8 L301.0,109.6 L301.5,109.5 L302.0,109.3 L302.5,109.2 L303.0,109.0 L303.5,108.9 L304.0,108.7 L304.5,108.6 L305.0,108.4 L305.5,108.3 L306.0,108.1 L306.5,108.0 L307.0,107.8 L307.5,107.6 L308.0,107.5 L308.5,107.3 L309.0,107.1 L309.5,107.0 L310.0,106.8 L310.5,106.6 L311.0,106.4 L311.5,106.2 L312.0,106.0 L312.5,105.8 L313.0,105.6 L313.5,105.3 L314.0,105.1 L314.5,104.8 L315.0,104.6 L315.5,104.3 L316.0,103.9 L316.5,103.6 L317.0,103.3 L317.5,103.0 L318.0,102.9 L318.5,102.8 L319.0,102.7 L319.5,102.6 L320.0,102.2 L320.5,101.5 L321.0,100.4 L321.5,98.7 L322.0,96.5 L322.5,93.7 L323.0,90.6 L323.5,87.7 L324.0,85.9 L324.5,85.7 L325.0,87.4 L325.5,90.2 L326.0,93.3 L326.5,96.2 L327.0,98.6 L327.5,100.5 L328.0,102.0 L328.5,103.1 L329.0,104.1 L329.5,104.8 L330.0,105.4 L330.5,105.9 L331.0,106.3 L331.5,106.6 L332.0,106.8 L332.5,107.1 L333.0,107.3 L333.5,107.4 L334.0,107.5 L334.5,107.7 L335.0,107.8 L335.5,107.8 L336.0,107.9 L336.5,108.0 L337.0,108.0 L337.5,108.1 L338.0,108.1 L338.5,108.1 L339.0,108.1 L339.5,108.1 L340.0,108.1 L340.5,108.1 L341.0,108.1 L341.5,108.1 L342.0,108.1 L342.5,108.1 L343.0,108.0 L343.5,108.0 L344.0,107.9 L344.5,107.9 L345.0,107.8 L345.5,107.7 L346.0,107.6 L346.5,107.5 L347.0,107.3 L347.5,107.1 L348.0,107.0 L348.5,106.7 L349.0,106.4 L349.5,106.1 L350.0,105.7 L350.5,105.3 L351.0,104.7 L351.5,104.0 L352.0,103.1 L352.5,102.0 L353.0,100.6 L353.5,98.9 L354.0,96.6 L354.5,93.8 L355.0,90.3 L355.5,86.2 L356.0,82.0 L356.5,78.6 L357.0,77.1 L357.5,78.2 L358.0,81.5 L358.5,85.6 L359.0,89.7 L359.5,93.3 L360.0,96.0 L360.5,98.0 L361.0,99.4 L361.5,100.3 L362.0,100.8 L362.5,101.2 L363.0,101.5 L363.5,101.9 L364.0,102.3 L364.5,102.8 L365.0,103.2 L365.5,103.6 L366.0,104.0 L366.5,104.3 L367.0,104.6 L367.5,104.9 L368.0,105.2 L368.5,105.4 L369.0,105.6 L369.5,105.9 L370.0,106.1 L370.5,106.3 L371.0,106.5 L371.5,106.7 L372.0,106.8 L372.5,107.0 L373.0,107.2 L373.5,107.4 L374.0,107.5 L374.5,107.7 L375.0,107.8 L375.5,108.0 L376.0,108.1 L376.5,108.3 L377.0,108.4 L377.5,108.6 L378.0,108.7 L378.5,108.9 L379.0,109.0 L379.5,109.1 L380.0,109.3 L380.5,109.4 L381.0,109.6 L381.5,109.7 L382.0,109.8 L382.5,110.0 L383.0,110.1 L383.5,110.2 L384.0,110.4 L384.5,110.5 L385.0,110.6 L385.5,110.8 L386.0,110.9 L386.5,111.0 L387.0,111.2 L387.5,111.3 L388.0,111.4 L388.5,111.5 L389.0,111.7 L389.5,111.8 L390.0,111.9 L390.5,112.1 L391.0,112.2 L391.5,112.3 L392.0,112.4 L392.5,112.6 L393.0,112.7 L393.5,112.8 L394.0,112.9 L394.5,113.0" fill="none" stroke="#000" stroke-width="0.95" stroke-linejoin="round"/>
<path clip-path="url(#cb)" d="M288.0,120.1 L288.5,120.0 L289.0,119.9 L289.5,119.8 L290.0,119.7 L290.5,119.5 L291.0,119.4 L291.5,119.3 L292.0,119.1 L292.5,119.0 L293.0,118.8 L293.5,118.7 L294.0,118.5 L294.5,118.4 L295.0,118.3 L295.5,118.1 L296.0,118.0 L296.5,117.8 L297.0,117.7 L297.5,117.5 L298.0,117.4 L298.5,117.2 L299.0,117.1 L299.5,116.9 L300.0,116.8 L300.5,116.6 L301.0,116.5 L301.5,116.3 L302.0,116.2 L302.5,116.0 L303.0,115.9 L303.5,115.7 L304.0,115.6 L304.5,115.4 L305.0,115.3 L305.5,115.1 L306.0,114.9 L306.5,114.8 L307.0,114.6 L307.5,114.4 L308.0,114.3 L308.5,114.1 L309.0,113.9 L309.5,113.8 L310.0,113.6 L310.5,113.4 L311.0,113.2 L311.5,113.0 L312.0,112.8 L312.5,112.6 L313.0,112.4 L313.5,112.1 L314.0,111.9 L314.5,111.6 L315.0,111.4 L315.5,111.1 L316.0,110.8 L316.5,110.5 L317.0,110.1 L317.5,109.8 L318.0,109.5 L318.5,109.3 L319.0,109.2 L319.5,109.2 L320.0,109.1 L320.5,108.7 L321.0,108.0 L321.5,106.9 L322.0,105.3 L322.5,103.1 L323.0,100.5 L323.5,97.5 L324.0,94.7 L324.5,92.8 L325.0,92.4 L325.5,93.7 L326.0,96.3 L326.5,99.3 L327.0,102.1 L327.5,104.5 L328.0,106.5 L328.5,108.1 L329.0,109.3 L329.5,110.3 L330.0,111.1 L330.5,111.7 L331.0,112.3 L331.5,112.7 L332.0,113.0 L332.5,113.3 L333.0,113.5 L333.5,113.7 L334.0,113.9 L334.5,114.1 L335.0,114.2 L335.5,114.3 L336.0,114.4 L336.5,114.4 L337.0,114.5 L337.5,114.5 L338.0,114.6 L338.5,114.6 L339.0,114.6 L339.5,114.7 L340.0,114.7 L340.5,114.7 L341.0,114.6 L341.5,114.6 L342.0,114.6 L342.5,114.6 L343.0,114.5 L343.5,114.5 L344.0,114.4 L344.5,114.3 L345.0,114.2 L345.5,114.1 L346.0,114.0 L346.5,113.9 L347.0,113.7 L347.5,113.5 L348.0,113.2 L348.5,112.9 L349.0,112.6 L349.5,112.2 L350.0,111.7 L350.5,111.1 L351.0,110.4 L351.5,109.5 L352.0,108.3 L352.5,106.9 L353.0,105.1 L353.5,102.8 L354.0,100.0 L354.5,96.5 L355.0,92.6 L355.5,88.6 L356.0,85.5 L356.5,84.4 L357.0,85.6 L357.5,88.7 L358.0,92.6 L358.5,96.6 L359.0,100.0 L359.5,102.8 L360.0,104.9 L360.5,106.4 L361.0,107.4 L361.5,108.0 L362.0,108.3 L362.5,108.5 L363.0,108.7 L363.5,109.0 L364.0,109.4 L364.5,109.8 L365.0,110.2 L365.5,110.5 L366.0,110.9 L366.5,111.2 L367.0,111.5 L367.5,111.8 L368.0,112.0 L368.5,112.3 L369.0,112.5 L369.5,112.7 L370.0,112.9 L370.5,113.1 L371.0,113.3 L371.5,113.5 L372.0,113.7 L372.5,113.9 L373.0,114.1 L373.5,114.2 L374.0,114.4 L374.5,114.6 L375.0,114.7 L375.5,114.9 L376.0,115.0 L376.5,115.2 L377.0,115.3 L377.5,115.5 L378.0,115.6 L378.5,115.8 L379.0,115.9 L379.5,116.1 L380.0,116.2 L380.5,116.4 L381.0,116.5 L381.5,116.6 L382.0,116.8 L382.5,116.9 L383.0,117.1 L383.5,117.2 L384.0,117.3 L384.5,117.5 L385.0,117.6 L385.5,117.7 L386.0,117.9 L386.5,118.0 L387.0,118.1 L387.5,118.3 L388.0,118.4 L388.5,118.6 L389.0,118.7 L389.5,118.8 L390.0,119.0 L390.5,119.1 L391.0,119.2 L391.5,119.3 L392.0,119.5 L392.5,119.6 L393.0,119.7 L393.5,119.8 L394.0,119.9 L394.5,120.0" fill="none" stroke="#000" stroke-width="0.95" stroke-linejoin="round"/>
<path clip-path="url(#cb)" d="M288.0,127.1 L288.5,127.0 L289.0,126.9 L289.5,126.8 L290.0,126.7 L290.5,126.5 L291.0,126.4 L291.5,126.2 L292.0,126.1 L292.5,125.9 L293.0,125.8 L293.5,125.6 L294.0,125.5 L294.5,125.3 L295.0,125.2 L295.5,125.0 L296.0,124.9 L296.5,124.7 L297.0,124.6 L297.5,124.4 L298.0,124.3 L298.5,124.1 L299.0,124.0 L299.5,123.8 L300.0,123.7 L300.5,123.5 L301.0,123.4 L301.5,123.2 L302.0,123.0 L302.5,122.9 L303.0,122.7 L303.5,122.6 L304.0,122.4 L304.5,122.2 L305.0,122.1 L305.5,121.9 L306.0,121.7 L306.5,121.5 L307.0,121.4 L307.5,121.2 L308.0,121.0 L308.5,120.8 L309.0,120.6 L309.5,120.3 L310.0,120.1 L310.5,119.9 L311.0,119.6 L311.5,119.4 L312.0,119.1 L312.5,118.9 L313.0,118.6 L313.5,118.3 L314.0,118.1 L314.5,117.8 L315.0,117.5 L315.5,117.2 L316.0,116.9 L316.5,116.6 L317.0,116.2 L317.5,115.9 L318.0,115.6 L318.5,115.4 L319.0,115.2 L319.5,115.2 L320.0,115.2 L320.5,115.1 L321.0,114.9 L321.5,114.3 L322.0,113.3 L322.5,111.8 L323.0,109.8 L323.5,107.4 L324.0,104.6 L324.5,101.8 L325.0,99.7 L325.5,99.0 L326.0,99.9 L326.5,102.0 L327.0,104.8 L327.5,107.7 L328.0,110.2 L328.5,112.3 L329.0,114.0 L329.5,115.3 L330.0,116.4 L330.5,117.3 L331.0,118.0 L331.5,118.6 L332.0,119.0 L332.5,119.4 L333.0,119.7 L333.5,120.0 L334.0,120.2 L334.5,120.4 L335.0,120.5 L335.5,120.7 L336.0,120.8 L336.5,120.9 L337.0,120.9 L337.5,121.0 L338.0,121.0 L338.5,121.1 L339.0,121.1 L339.5,121.1 L340.0,121.1 L340.5,121.1 L341.0,121.1 L341.5,121.1 L342.0,121.1 L342.5,121.0 L343.0,121.0 L343.5,120.9 L344.0,120.8 L344.5,120.7 L345.0,120.6 L345.5,120.5 L346.0,120.3 L346.5,120.2 L347.0,119.9 L347.5,119.7 L348.0,119.4 L348.5,119.0 L349.0,118.6 L349.5,118.0 L350.0,117.4 L350.5,116.6 L351.0,115.6 L351.5,114.4 L352.0,112.9 L352.5,111.0 L353.0,108.6 L353.5,105.6 L354.0,102.2 L354.5,98.4 L355.0,94.7 L355.5,92.2 L356.0,91.5 L356.5,93.1 L357.0,96.2 L357.5,99.9 L358.0,103.6 L358.5,106.8 L359.0,109.4 L359.5,111.4 L360.0,112.8 L360.5,113.7 L361.0,114.2 L361.5,114.5 L362.0,114.7 L362.5,114.9 L363.0,115.1 L363.5,115.5 L364.0,115.9 L364.5,116.3 L365.0,116.6 L365.5,117.0 L366.0,117.3 L366.5,117.7 L367.0,118.0 L367.5,118.3 L368.0,118.5 L368.5,118.8 L369.0,119.1 L369.5,119.3 L370.0,119.5 L370.5,119.8 L371.0,120.0 L371.5,120.2 L372.0,120.4 L372.5,120.6 L373.0,120.8 L373.5,121.0 L374.0,121.2 L374.5,121.4 L375.0,121.6 L375.5,121.7 L376.0,121.9 L376.5,122.1 L377.0,122.2 L377.5,122.4 L378.0,122.5 L378.5,122.7 L379.0,122.8 L379.5,123.0 L380.0,123.1 L380.5,123.3 L381.0,123.4 L381.5,123.6 L382.0,123.7 L382.5,123.9 L383.0,124.0 L383.5,124.2 L384.0,124.3 L384.5,124.4 L385.0,124.6 L385.5,124.7 L386.0,124.9 L386.5,125.0 L387.0,125.1 L387.5,125.3 L388.0,125.4 L388.5,125.6 L389.0,125.7 L389.5,125.8 L390.0,126.0 L390.5,126.1 L391.0,126.3 L391.5,126.4 L392.0,126.5 L392.5,126.7 L393.0,126.8 L393.5,126.9 L394.0,127.0 L394.5,127.1" fill="none" stroke="#000" stroke-width="0.95" stroke-linejoin="round"/>
<path clip-path="url(#cb)" d="M288.0,134.1 L288.5,134.0 L289.0,133.9 L289.5,133.8 L290.0,133.6 L290.5,133.5 L291.0,133.3 L291.5,133.2 L292.0,133.0 L292.5,132.9 L293.0,132.7 L293.5,132.6 L294.0,132.4 L294.5,132.3 L295.0,132.1 L295.5,132.0 L296.0,131.8 L296.5,131.7 L297.0,131.5 L297.5,131.3 L298.0,131.2 L298.5,131.0 L299.0,130.9 L299.5,130.7 L300.0,130.6 L300.5,130.4 L301.0,130.2 L301.5,130.1 L302.0,129.9 L302.5,129.8 L303.0,129.6 L303.5,129.4 L304.0,129.3 L304.5,129.1 L305.0,128.9 L305.5,128.7 L306.0,128.5 L306.5,128.3 L307.0,128.1 L307.5,127.9 L308.0,127.7 L308.5,127.4 L309.0,127.2 L309.5,126.9 L310.0,126.7 L310.5,126.4 L311.0,126.1 L311.5,125.8 L312.0,125.5 L312.5,125.2 L313.0,124.9 L313.5,124.6 L314.0,124.3 L314.5,124.0 L315.0,123.6 L315.5,123.3 L316.0,123.0 L316.5,122.7 L317.0,122.4 L317.5,122.1 L318.0,121.8 L318.5,121.6 L319.0,121.4 L319.5,121.3 L320.0,121.3 L320.5,121.4 L321.0,121.4 L321.5,121.2 L322.0,120.8 L322.5,119.9 L323.0,118.6 L323.5,116.8 L324.0,114.5 L324.5,112.0 L325.0,109.3 L325.5,107.0 L326.0,105.8 L326.5,106.1 L327.0,107.7 L327.5,110.2 L328.0,113.0 L328.5,115.6 L329.0,117.8 L329.5,119.7 L330.0,121.2 L330.5,122.4 L331.0,123.3 L331.5,124.1 L332.0,124.7 L332.5,125.3 L333.0,125.7 L333.5,126.0 L334.0,126.3 L334.5,126.6 L335.0,126.8 L335.5,127.0 L336.0,127.1 L336.5,127.2 L337.0,127.3 L337.5,127.4 L338.0,127.5 L338.5,127.5 L339.0,127.5 L339.5,127.6 L340.0,127.6 L340.5,127.6 L341.0,127.6 L341.5,127.5 L342.0,127.5 L342.5,127.5 L343.0,127.4 L343.5,127.3 L344.0,127.2 L344.5,127.1 L345.0,127.0 L345.5,126.8 L346.0,126.6 L346.5,126.3 L347.0,126.1 L347.5,125.7 L348.0,125.3 L348.5,124.8 L349.0,124.3 L349.5,123.6 L350.0,122.7 L350.5,121.6 L351.0,120.3 L351.5,118.6 L352.0,116.5 L352.5,114.0 L353.0,110.9 L353.5,107.4 L354.0,103.8 L354.5,100.7 L355.0,98.9 L355.5,99.0 L356.0,101.0 L356.5,104.2 L357.0,107.8 L357.5,111.1 L358.0,114.1 L358.5,116.4 L359.0,118.2 L359.5,119.4 L360.0,120.2 L360.5,120.6 L361.0,120.8 L361.5,121.0 L362.0,121.1 L362.5,121.3 L363.0,121.7 L363.5,122.0 L364.0,122.4 L364.5,122.8 L365.0,123.2 L365.5,123.5 L366.0,123.8 L366.5,124.2 L367.0,124.5 L367.5,124.8 L368.0,125.1 L368.5,125.4 L369.0,125.6 L369.5,125.9 L370.0,126.2 L370.5,126.4 L371.0,126.7 L371.5,126.9 L372.0,127.2 L372.5,127.4 L373.0,127.6 L373.5,127.8 L374.0,128.0 L374.5,128.2 L375.0,128.4 L375.5,128.6 L376.0,128.8 L376.5,129.0 L377.0,129.1 L377.5,129.3 L378.0,129.5 L378.5,129.6 L379.0,129.8 L379.5,129.9 L380.0,130.1 L380.5,130.2 L381.0,130.4 L381.5,130.5 L382.0,130.7 L382.5,130.8 L383.0,131.0 L383.5,131.1 L384.0,131.3 L384.5,131.4 L385.0,131.6 L385.5,131.7 L386.0,131.9 L386.5,132.0 L387.0,132.1 L387.5,132.3 L388.0,132.4 L388.5,132.6 L389.0,132.7 L389.5,132.9 L390.0,133.0 L390.5,133.1 L391.0,133.3 L391.5,133.4 L392.0,133.6 L392.5,133.7 L393.0,133.8 L393.5,134.0 L394.0,134.1 L394.5,134.1" fill="none" stroke="#000" stroke-width="0.95" stroke-linejoin="round"/>
<path clip-path="url(#cb)" d="M288.0,141.1 L288.5,141.0 L289.0,140.9 L289.5,140.7 L290.0,140.6 L290.5,140.4 L291.0,140.3 L291.5,140.1 L292.0,140.0 L292.5,139.8 L293.0,139.7 L293.5,139.5 L294.0,139.4 L294.5,139.2 L295.0,139.0 L295.5,138.9 L296.0,138.7 L296.5,138.6 L297.0,138.4 L297.5,138.3 L298.0,138.1 L298.5,137.9 L299.0,137.8 L299.5,137.6 L300.0,137.5 L300.5,137.3 L301.0,137.1 L301.5,137.0 L302.0,136.8 L302.5,136.6 L303.0,136.5 L303.5,136.3 L304.0,136.1 L304.5,135.9 L305.0,135.7 L305.5,135.5 L306.0,135.3 L306.5,135.1 L307.0,134.9 L307.5,134.7 L308.0,134.4 L308.5,134.1 L309.0,133.9 L309.5,133.6 L310.0,133.2 L310.5,132.9 L311.0,132.6 L311.5,132.2 L312.0,131.9 L312.5,131.5 L313.0,131.2 L313.5,130.8 L314.0,130.5 L314.5,130.1 L315.0,129.8 L315.5,129.5 L316.0,129.2 L316.5,128.9 L317.0,128.6 L317.5,128.3 L318.0,128.1 L318.5,127.8 L319.0,127.6 L319.5,127.5 L320.0,127.5 L320.5,127.6 L321.0,127.7 L321.5,127.9 L322.0,127.8 L322.5,127.5 L323.0,126.7 L323.5,125.6 L324.0,124.0 L324.5,122.0 L325.0,119.6 L325.5,117.1 L326.0,114.7 L326.5,113.0 L327.0,112.5 L327.5,113.4 L328.0,115.4 L328.5,118.0 L329.0,120.6 L329.5,123.0 L330.0,125.1 L330.5,126.7 L331.0,128.1 L331.5,129.2 L332.0,130.1 L332.5,130.8 L333.0,131.4 L333.5,131.9 L334.0,132.3 L334.5,132.6 L335.0,132.9 L335.5,133.1 L336.0,133.3 L336.5,133.5 L337.0,133.6 L337.5,133.7 L338.0,133.8 L338.5,133.9 L339.0,133.9 L339.5,133.9 L340.0,134.0 L340.5,134.0 L341.0,133.9 L341.5,133.9 L342.0,133.9 L342.5,133.8 L343.0,133.7 L343.5,133.6 L344.0,133.5 L344.5,133.3 L345.0,133.2 L345.5,132.9 L346.0,132.7 L346.5,132.4 L347.0,132.0 L347.5,131.5 L348.0,131.0 L348.5,130.3 L349.0,129.5 L349.5,128.6 L350.0,127.4 L350.5,125.9 L351.0,124.0 L351.5,121.7 L352.0,119.0 L352.5,115.8 L353.0,112.4 L353.5,109.1 L354.0,106.7 L354.5,105.9 L355.0,106.9 L355.5,109.4 L356.0,112.6 L356.5,116.0 L357.0,119.0 L357.5,121.6 L358.0,123.7 L358.5,125.3 L359.0,126.3 L359.5,127.0 L360.0,127.3 L360.5,127.4 L361.0,127.4 L361.5,127.5 L362.0,127.7 L362.5,127.9 L363.0,128.3 L363.5,128.6 L364.0,129.0 L364.5,129.3 L365.0,129.7 L365.5,130.0 L366.0,130.3 L366.5,130.7 L367.0,131.0 L367.5,131.3 L368.0,131.6 L368.5,131.9 L369.0,132.2 L369.5,132.5 L370.0,132.8 L370.5,133.1 L371.0,133.4 L371.5,133.7 L372.0,133.9 L372.5,134.2 L373.0,134.4 L373.5,134.7 L374.0,134.9 L374.5,135.1 L375.0,135.3 L375.5,135.5 L376.0,135.7 L376.5,135.9 L377.0,136.0 L377.5,136.2 L378.0,136.4 L378.5,136.6 L379.0,136.7 L379.5,136.9 L380.0,137.0 L380.5,137.2 L381.0,137.4 L381.5,137.5 L382.0,137.7 L382.5,137.8 L383.0,138.0 L383.5,138.1 L384.0,138.3 L384.5,138.4 L385.0,138.6 L385.5,138.7 L386.0,138.9 L386.5,139.0 L387.0,139.2 L387.5,139.3 L388.0,139.5 L388.5,139.6 L389.0,139.7 L389.5,139.9 L390.0,140.0 L390.5,140.2 L391.0,140.3 L391.5,140.5 L392.0,140.6 L392.5,140.8 L393.0,140.9 L393.5,141.0 L394.0,141.1 L394.5,141.2" fill="none" stroke="#000" stroke-width="0.95" stroke-linejoin="round"/>
<path clip-path="url(#cb)" d="M288.0,148.0 L288.5,148.0 L289.0,147.8 L289.5,147.7 L290.0,147.6 L290.5,147.4 L291.0,147.3 L291.5,147.1 L292.0,146.9 L292.5,146.8 L293.0,146.6 L293.5,146.5 L294.0,146.3 L294.5,146.1 L295.0,146.0 L295.5,145.8 L296.0,145.7 L296.5,145.5 L297.0,145.3 L297.5,145.2 L298.0,145.0 L298.5,144.9 L299.0,144.7 L299.5,144.5 L300.0,144.4 L300.5,144.2 L301.0,144.0 L301.5,143.9 L302.0,143.7 L302.5,143.5 L303.0,143.4 L303.5,143.2 L304.0,143.0 L304.5,142.8 L305.0,142.6 L305.5,142.4 L306.0,142.2 L306.5,141.9 L307.0,141.7 L307.5,141.4 L308.0,141.1 L308.5,140.8 L309.0,140.5 L309.5,140.2 L310.0,139.8 L310.5,139.5 L311.0,139.1 L311.5,138.7 L312.0,138.3 L312.5,137.9 L313.0,137.5 L313.5,137.1 L314.0,136.7 L314.5,136.3 L315.0,136.0 L315.5,135.7 L316.0,135.4 L316.5,135.1 L317.0,134.8 L317.5,134.6 L318.0,134.4 L318.5,134.1 L319.0,134.0 L319.5,133.8 L320.0,133.8 L320.5,133.8 L321.0,134.0 L321.5,134.2 L322.0,134.5 L322.5,134.5 L323.0,134.3 L323.5,133.7 L324.0,132.8 L324.5,131.4 L325.0,129.6 L325.5,127.5 L326.0,125.1 L326.5,122.7 L327.0,120.6 L327.5,119.4 L328.0,119.4 L328.5,120.7 L329.0,122.9 L329.5,125.4 L330.0,127.9 L330.5,130.1 L331.0,132.0 L331.5,133.6 L332.0,134.8 L332.5,135.9 L333.0,136.7 L333.5,137.4 L334.0,138.0 L334.5,138.4 L335.0,138.8 L335.5,139.1 L336.0,139.4 L336.5,139.6 L337.0,139.8 L337.5,139.9 L338.0,140.0 L338.5,140.1 L339.0,140.2 L339.5,140.2 L340.0,140.2 L340.5,140.3 L341.0,140.2 L341.5,140.2 L342.0,140.1 L342.5,140.1 L343.0,139.9 L343.5,139.8 L344.0,139.6 L344.5,139.4 L345.0,139.2 L345.5,138.9 L346.0,138.6 L346.5,138.1 L347.0,137.6 L347.5,137.0 L348.0,136.3 L348.5,135.3 L349.0,134.2 L349.5,132.8 L350.0,131.1 L350.5,129.0 L351.0,126.5 L351.5,123.6 L352.0,120.3 L352.5,117.1 L353.0,114.5 L353.5,113.2 L354.0,113.5 L354.5,115.3 L355.0,118.2 L355.5,121.4 L356.0,124.4 L356.5,127.1 L357.0,129.3 L357.5,131.0 L358.0,132.2 L358.5,132.9 L359.0,133.2 L359.5,133.3 L360.0,133.4 L360.5,133.5 L361.0,133.6 L361.5,133.9 L362.0,134.2 L362.5,134.6 L363.0,134.9 L363.5,135.3 L364.0,135.6 L364.5,135.9 L365.0,136.2 L365.5,136.5 L366.0,136.9 L366.5,137.2 L367.0,137.5 L367.5,137.9 L368.0,138.2 L368.5,138.5 L369.0,138.9 L369.5,139.2 L370.0,139.5 L370.5,139.8 L371.0,140.1 L371.5,140.4 L372.0,140.7 L372.5,141.0 L373.0,141.2 L373.5,141.5 L374.0,141.7 L374.5,142.0 L375.0,142.2 L375.5,142.4 L376.0,142.6 L376.5,142.8 L377.0,143.0 L377.5,143.2 L378.0,143.3 L378.5,143.5 L379.0,143.7 L379.5,143.8 L380.0,144.0 L380.5,144.2 L381.0,144.3 L381.5,144.5 L382.0,144.6 L382.5,144.8 L383.0,145.0 L383.5,145.1 L384.0,145.3 L384.5,145.4 L385.0,145.6 L385.5,145.7 L386.0,145.9 L386.5,146.0 L387.0,146.2 L387.5,146.3 L388.0,146.5 L388.5,146.6 L389.0,146.8 L389.5,146.9 L390.0,147.1 L390.5,147.2 L391.0,147.4 L391.5,147.5 L392.0,147.7 L392.5,147.8 L393.0,147.9 L393.5,148.1 L394.0,148.2 L394.5,148.3" fill="none" stroke="#000" stroke-width="0.95" stroke-linejoin="round"/>
<path clip-path="url(#cb)" d="M288.0,155.0 L288.5,154.9 L289.0,154.8 L289.5,154.7 L290.0,154.5 L290.5,154.4 L291.0,154.2 L291.5,154.1 L292.0,153.9 L292.5,153.7 L293.0,153.6 L293.5,153.4 L294.0,153.3 L294.5,153.1 L295.0,152.9 L295.5,152.8 L296.0,152.6 L296.5,152.4 L297.0,152.3 L297.5,152.1 L298.0,152.0 L298.5,151.8 L299.0,151.6 L299.5,151.5 L300.0,151.3 L300.5,151.1 L301.0,151.0 L301.5,150.8 L302.0,150.6 L302.5,150.4 L303.0,150.3 L303.5,150.1 L304.0,149.9 L304.5,149.7 L305.0,149.5 L305.5,149.2 L306.0,149.0 L306.5,148.8 L307.0,148.5 L307.5,148.2 L308.0,147.9 L308.5,147.6 L309.0,147.2 L309.5,146.9 L310.0,146.5 L310.5,146.0 L311.0,145.6 L311.5,145.2 L312.0,144.7 L312.5,144.3 L313.0,143.8 L313.5,143.4 L314.0,143.0 L314.5,142.6 L315.0,142.2 L315.5,141.8 L316.0,141.5 L316.5,141.3 L317.0,141.0 L317.5,140.8 L318.0,140.6 L318.5,140.5 L319.0,140.3 L319.5,140.2 L320.0,140.1 L320.5,140.0 L321.0,140.0 L321.5,140.0 L322.0,140.2 L322.5,140.5 L323.0,140.7 L323.5,140.8 L324.0,140.5 L324.5,139.9 L325.0,138.8 L325.5,137.3 L326.0,135.5 L326.5,133.3 L327.0,131.0 L327.5,128.7 L328.0,126.9 L328.5,126.0 L329.0,126.4 L329.5,127.9 L330.0,130.1 L330.5,132.5 L331.0,134.8 L331.5,136.9 L332.0,138.7 L332.5,140.2 L333.0,141.4 L333.5,142.4 L334.0,143.2 L334.5,143.9 L335.0,144.4 L335.5,144.9 L336.0,145.2 L336.5,145.5 L337.0,145.8 L337.5,146.0 L338.0,146.1 L338.5,146.3 L339.0,146.3 L339.5,146.4 L340.0,146.4 L340.5,146.4 L341.0,146.4 L341.5,146.4 L342.0,146.3 L342.5,146.2 L343.0,146.0 L343.5,145.8 L344.0,145.6 L344.5,145.3 L345.0,145.0 L345.5,144.6 L346.0,144.1 L346.5,143.5 L347.0,142.8 L347.5,141.9 L348.0,140.8 L348.5,139.5 L349.0,137.9 L349.5,135.9 L350.0,133.6 L350.5,130.8 L351.0,127.8 L351.5,124.7 L352.0,122.1 L352.5,120.6 L353.0,120.5 L353.5,121.9 L354.0,124.4 L354.5,127.4 L355.0,130.4 L355.5,133.1 L356.0,135.4 L356.5,137.2 L357.0,138.6 L357.5,139.5 L358.0,140.1 L358.5,140.2 L359.0,140.2 L359.5,140.2 L360.0,140.2 L360.5,140.3 L361.0,140.5 L361.5,140.7 L362.0,141.0 L362.5,141.3 L363.0,141.6 L363.5,141.9 L364.0,142.2 L364.5,142.5 L365.0,142.8 L365.5,143.1 L366.0,143.4 L366.5,143.7 L367.0,144.1 L367.5,144.4 L368.0,144.8 L368.5,145.1 L369.0,145.5 L369.5,145.8 L370.0,146.2 L370.5,146.5 L371.0,146.9 L371.5,147.2 L372.0,147.5 L372.5,147.8 L373.0,148.1 L373.5,148.4 L374.0,148.6 L374.5,148.9 L375.0,149.1 L375.5,149.3 L376.0,149.5 L376.5,149.7 L377.0,149.9 L377.5,150.1 L378.0,150.3 L378.5,150.5 L379.0,150.6 L379.5,150.8 L380.0,151.0 L380.5,151.1 L381.0,151.3 L381.5,151.5 L382.0,151.6 L382.5,151.8 L383.0,151.9 L383.5,152.1 L384.0,152.3 L384.5,152.4 L385.0,152.6 L385.5,152.7 L386.0,152.9 L386.5,153.0 L387.0,153.2 L387.5,153.3 L388.0,153.5 L388.5,153.7 L389.0,153.8 L389.5,154.0 L390.0,154.1 L390.5,154.3 L391.0,154.4 L391.5,154.6 L392.0,154.7 L392.5,154.9 L393.0,155.0 L393.5,155.1 L394.0,155.2 L394.5,155.3" fill="none" stroke="#000" stroke-width="0.95" stroke-linejoin="round"/>
<path clip-path="url(#cb)" d="M288.0,162.0 L288.5,161.9 L289.0,161.8 L289.5,161.7 L290.0,161.5 L290.5,161.4 L291.0,161.2 L291.5,161.0 L292.0,160.9 L292.5,160.7 L293.0,160.5 L293.5,160.4 L294.0,160.2 L294.5,160.1 L295.0,159.9 L295.5,159.7 L296.0,159.6 L296.5,159.4 L297.0,159.2 L297.5,159.1 L298.0,158.9 L298.5,158.7 L299.0,158.6 L299.5,158.4 L300.0,158.2 L300.5,158.1 L301.0,157.9 L301.5,157.7 L302.0,157.5 L302.5,157.4 L303.0,157.2 L303.5,157.0 L304.0,156.8 L304.5,156.6 L305.0,156.3 L305.5,156.1 L306.0,155.9 L306.5,155.6 L307.0,155.3 L307.5,155.0 L308.0,154.7 L308.5,154.3 L309.0,153.9 L309.5,153.5 L310.0,153.1 L310.5,152.6 L311.0,152.2 L311.5,151.7 L312.0,151.2 L312.5,150.7 L313.0,150.2 L313.5,149.7 L314.0,149.2 L314.5,148.8 L315.0,148.4 L315.5,148.0 L316.0,147.7 L316.5,147.5 L317.0,147.2 L317.5,147.1 L318.0,146.9 L318.5,146.8 L319.0,146.7 L319.5,146.7 L320.0,146.6 L320.5,146.6 L321.0,146.6 L321.5,146.6 L322.0,146.8 L322.5,147.0 L323.0,147.4 L323.5,147.7 L324.0,147.8 L324.5,147.7 L325.0,147.2 L325.5,146.3 L326.0,145.1 L326.5,143.5 L327.0,141.6 L327.5,139.4 L328.0,137.1 L328.5,135.0 L329.0,133.4 L329.5,132.8 L330.0,133.3 L330.5,134.8 L331.0,136.9 L331.5,139.2 L332.0,141.5 L332.5,143.5 L333.0,145.2 L333.5,146.6 L334.0,147.8 L334.5,148.8 L335.0,149.6 L335.5,150.2 L336.0,150.8 L336.5,151.2 L337.0,151.5 L337.5,151.8 L338.0,152.0 L338.5,152.2 L339.0,152.3 L339.5,152.4 L340.0,152.4 L340.5,152.5 L341.0,152.4 L341.5,152.4 L342.0,152.2 L342.5,152.1 L343.0,151.9 L343.5,151.6 L344.0,151.3 L344.5,150.9 L345.0,150.5 L345.5,149.9 L346.0,149.2 L346.5,148.3 L347.0,147.3 L347.5,146.0 L348.0,144.4 L348.5,142.5 L349.0,140.2 L349.5,137.6 L350.0,134.7 L350.5,131.8 L351.0,129.4 L351.5,127.8 L352.0,127.6 L352.5,128.8 L353.0,131.1 L353.5,133.9 L354.0,136.7 L354.5,139.4 L355.0,141.7 L355.5,143.7 L356.0,145.2 L356.5,146.3 L357.0,147.0 L357.5,147.3 L358.0,147.4 L358.5,147.2 L359.0,147.1 L359.5,147.0 L360.0,147.0 L360.5,147.1 L361.0,147.3 L361.5,147.5 L362.0,147.8 L362.5,148.0 L363.0,148.3 L363.5,148.5 L364.0,148.8 L364.5,149.0 L365.0,149.3 L365.5,149.6 L366.0,149.9 L366.5,150.3 L367.0,150.6 L367.5,151.0 L368.0,151.4 L368.5,151.8 L369.0,152.1 L369.5,152.5 L370.0,152.9 L370.5,153.3 L371.0,153.6 L371.5,154.0 L372.0,154.3 L372.5,154.6 L373.0,154.9 L373.5,155.2 L374.0,155.5 L374.5,155.8 L375.0,156.0 L375.5,156.2 L376.0,156.5 L376.5,156.7 L377.0,156.9 L377.5,157.1 L378.0,157.3 L378.5,157.4 L379.0,157.6 L379.5,157.8 L380.0,158.0 L380.5,158.1 L381.0,158.3 L381.5,158.5 L382.0,158.6 L382.5,158.8 L383.0,159.0 L383.5,159.1 L384.0,159.3 L384.5,159.4 L385.0,159.6 L385.5,159.7 L386.0,159.9 L386.5,160.1 L387.0,160.2 L387.5,160.4 L388.0,160.5 L388.5,160.7 L389.0,160.8 L389.5,161.0 L390.0,161.1 L390.5,161.3 L391.0,161.5 L391.5,161.6 L392.0,161.8 L392.5,161.9 L393.0,162.1 L393.5,162.2 L394.0,162.3 L394.5,162.4" fill="none" stroke="#000" stroke-width="0.95" stroke-linejoin="round"/>
<path clip-path="url(#cb)" d="M288.0,169.0 L288.5,168.9 L289.0,168.8 L289.5,168.6 L290.0,168.5 L290.5,168.3 L291.0,168.2 L291.5,168.0 L292.0,167.8 L292.5,167.7 L293.0,167.5 L293.5,167.3 L294.0,167.2 L294.5,167.0 L295.0,166.8 L295.5,166.7 L296.0,166.5 L296.5,166.3 L297.0,166.2 L297.5,166.0 L298.0,165.8 L298.5,165.7 L299.0,165.5 L299.5,165.3 L300.0,165.2 L300.5,165.0 L301.0,164.8 L301.5,164.6 L302.0,164.5 L302.5,164.3 L303.0,164.1 L303.5,163.9 L304.0,163.7 L304.5,163.5 L305.0,163.2 L305.5,163.0 L306.0,162.7 L306.5,162.5 L307.0,162.2 L307.5,161.8 L308.0,161.5 L308.5,161.1 L309.0,160.7 L309.5,160.2 L310.0,159.7 L310.5,159.2 L311.0,158.7 L311.5,158.2 L312.0,157.6 L312.5,157.1 L313.0,156.5 L313.5,156.0 L314.0,155.5 L314.5,155.0 L315.0,154.6 L315.5,154.2 L316.0,153.9 L316.5,153.7 L317.0,153.5 L317.5,153.3 L318.0,153.2 L318.5,153.2 L319.0,153.2 L319.5,153.1 L320.0,153.2 L320.5,153.2 L321.0,153.2 L321.5,153.1 L322.0,153.2 L322.5,153.2 L323.0,153.4 L323.5,153.6 L324.0,154.0 L324.5,154.2 L325.0,154.4 L325.5,154.2 L326.0,153.7 L326.5,152.7 L327.0,151.5 L327.5,149.9 L328.0,148.0 L328.5,145.8 L329.0,143.6 L329.5,141.5 L330.0,140.0 L330.5,139.5 L331.0,140.0 L331.5,141.4 L332.0,143.4 L332.5,145.6 L333.0,147.8 L333.5,149.7 L334.0,151.4 L334.5,152.8 L335.0,154.0 L335.5,155.0 L336.0,155.8 L336.5,156.4 L337.0,156.9 L337.5,157.3 L338.0,157.6 L338.5,157.9 L339.0,158.1 L339.5,158.2 L340.0,158.2 L340.5,158.2 L341.0,158.2 L341.5,158.1 L342.0,158.0 L342.5,157.7 L343.0,157.5 L343.5,157.1 L344.0,156.6 L344.5,156.1 L345.0,155.4 L345.5,154.5 L346.0,153.5 L346.5,152.2 L347.0,150.6 L347.5,148.7 L348.0,146.5 L348.5,144.0 L349.0,141.3 L349.5,138.6 L350.0,136.3 L350.5,134.9 L351.0,134.8 L351.5,136.0 L352.0,138.1 L352.5,140.7 L353.0,143.5 L353.5,146.1 L354.0,148.4 L354.5,150.3 L355.0,151.8 L355.5,152.9 L356.0,153.6 L356.5,153.9 L357.0,154.0 L357.5,153.8 L358.0,153.6 L358.5,153.5 L359.0,153.5 L359.5,153.6 L360.0,153.8 L360.5,154.0 L361.0,154.2 L361.5,154.3 L362.0,154.5 L362.5,154.7 L363.0,154.9 L363.5,155.1 L364.0,155.3 L364.5,155.6 L365.0,155.9 L365.5,156.2 L366.0,156.5 L366.5,156.8 L367.0,157.2 L367.5,157.6 L368.0,158.0 L368.5,158.4 L369.0,158.8 L369.5,159.2 L370.0,159.6 L370.5,160.0 L371.0,160.4 L371.5,160.8 L372.0,161.1 L372.5,161.5 L373.0,161.8 L373.5,162.1 L374.0,162.4 L374.5,162.7 L375.0,162.9 L375.5,163.2 L376.0,163.4 L376.5,163.6 L377.0,163.8 L377.5,164.0 L378.0,164.2 L378.5,164.4 L379.0,164.6 L379.5,164.8 L380.0,165.0 L380.5,165.1 L381.0,165.3 L381.5,165.5 L382.0,165.6 L382.5,165.8 L383.0,166.0 L383.5,166.1 L384.0,166.3 L384.5,166.4 L385.0,166.6 L385.5,166.8 L386.0,166.9 L386.5,167.1 L387.0,167.2 L387.5,167.4 L388.0,167.6 L388.5,167.7 L389.0,167.9 L389.5,168.0 L390.0,168.2 L390.5,168.4 L391.0,168.5 L391.5,168.7 L392.0,168.8 L392.5,169.0 L393.0,169.1 L393.5,169.2 L394.0,169.4 L394.5,169.5" fill="none" stroke="#000" stroke-width="0.95" stroke-linejoin="round"/>
<path clip-path="url(#cb)" d="M288.0,176.0 L288.5,175.9 L289.0,175.7 L289.5,175.6 L290.0,175.5 L290.5,175.3 L291.0,175.1 L291.5,175.0 L292.0,174.8 L292.5,174.6 L293.0,174.5 L293.5,174.3 L294.0,174.1 L294.5,174.0 L295.0,173.8 L295.5,173.6 L296.0,173.5 L296.5,173.3 L297.0,173.1 L297.5,173.0 L298.0,172.8 L298.5,172.6 L299.0,172.5 L299.5,172.3 L300.0,172.1 L300.5,171.9 L301.0,171.8 L301.5,171.6 L302.0,171.4 L302.5,171.2 L303.0,171.0 L303.5,170.8 L304.0,170.6 L304.5,170.4 L305.0,170.1 L305.5,169.9 L306.0,169.6 L306.5,169.3 L307.0,169.0 L307.5,168.6 L308.0,168.3 L308.5,167.8 L309.0,167.4 L309.5,166.9 L310.0,166.4 L310.5,165.8 L311.0,165.3 L311.5,164.7 L312.0,164.1 L312.5,163.5 L313.0,162.9 L313.5,162.3 L314.0,161.8 L314.5,161.3 L315.0,160.9 L315.5,160.5 L316.0,160.1 L316.5,159.9 L317.0,159.7 L317.5,159.6 L318.0,159.5 L318.5,159.5 L319.0,159.6 L319.5,159.6 L320.0,159.7 L320.5,159.8 L321.0,159.8 L321.5,159.9 L322.0,160.0 L322.5,160.0 L323.0,160.1 L323.5,160.3 L324.0,160.6 L324.5,161.0 L325.0,161.4 L325.5,161.6 L326.0,161.5 L326.5,161.1 L327.0,160.4 L327.5,159.4 L328.0,158.0 L328.5,156.4 L329.0,154.5 L329.5,152.4 L330.0,150.2 L330.5,148.2 L331.0,146.8 L331.5,146.1 L332.0,146.5 L332.5,147.7 L333.0,149.6 L333.5,151.7 L334.0,153.8 L334.5,155.7 L335.0,157.4 L335.5,158.8 L336.0,159.9 L336.5,160.9 L337.0,161.7 L337.5,162.3 L338.0,162.8 L338.5,163.1 L339.0,163.4 L339.5,163.6 L340.0,163.7 L340.5,163.7 L341.0,163.6 L341.5,163.5 L342.0,163.3 L342.5,162.9 L343.0,162.5 L343.5,162.0 L344.0,161.3 L344.5,160.4 L345.0,159.4 L345.5,158.1 L346.0,156.5 L346.5,154.6 L347.0,152.5 L347.5,150.0 L348.0,147.4 L348.5,145.0 L349.0,143.0 L349.5,141.9 L350.0,142.0 L350.5,143.3 L351.0,145.4 L351.5,148.0 L352.0,150.6 L352.5,153.1 L353.0,155.2 L353.5,157.1 L354.0,158.5 L354.5,159.6 L355.0,160.3 L355.5,160.7 L356.0,160.7 L356.5,160.5 L357.0,160.3 L357.5,160.2 L358.0,160.2 L358.5,160.3 L359.0,160.4 L359.5,160.6 L360.0,160.7 L360.5,160.9 L361.0,161.0 L361.5,161.1 L362.0,161.2 L362.5,161.4 L363.0,161.5 L363.5,161.7 L364.0,161.9 L364.5,162.1 L365.0,162.4 L365.5,162.7 L366.0,163.0 L366.5,163.4 L367.0,163.8 L367.5,164.2 L368.0,164.6 L368.5,165.0 L369.0,165.5 L369.5,165.9 L370.0,166.3 L370.5,166.8 L371.0,167.2 L371.5,167.6 L372.0,168.0 L372.5,168.3 L373.0,168.7 L373.5,169.0 L374.0,169.3 L374.5,169.6 L375.0,169.9 L375.5,170.1 L376.0,170.4 L376.5,170.6 L377.0,170.8 L377.5,171.0 L378.0,171.2 L378.5,171.4 L379.0,171.6 L379.5,171.8 L380.0,172.0 L380.5,172.1 L381.0,172.3 L381.5,172.5 L382.0,172.6 L382.5,172.8 L383.0,173.0 L383.5,173.1 L384.0,173.3 L384.5,173.5 L385.0,173.6 L385.5,173.8 L386.0,174.0 L386.5,174.1 L387.0,174.3 L387.5,174.4 L388.0,174.6 L388.5,174.8 L389.0,174.9 L389.5,175.1 L390.0,175.2 L390.5,175.4 L391.0,175.6 L391.5,175.7 L392.0,175.9 L392.5,176.0 L393.0,176.2 L393.5,176.3 L394.0,176.4 L394.5,176.5" fill="none" stroke="#000" stroke-width="0.95" stroke-linejoin="round"/>
<path clip-path="url(#cb)" d="M288.0,182.9 L288.5,182.8 L289.0,182.7 L289.5,182.6 L290.0,182.4 L290.5,182.3 L291.0,182.1 L291.5,181.9 L292.0,181.8 L292.5,181.6 L293.0,181.4 L293.5,181.3 L294.0,181.1 L294.5,180.9 L295.0,180.8 L295.5,180.6 L296.0,180.4 L296.5,180.3 L297.0,180.1 L297.5,179.9 L298.0,179.8 L298.5,179.6 L299.0,179.4 L299.5,179.2 L300.0,179.1 L300.5,178.9 L301.0,178.7 L301.5,178.5 L302.0,178.3 L302.5,178.2 L303.0,178.0 L303.5,177.8 L304.0,177.5 L304.5,177.3 L305.0,177.1 L305.5,176.8 L306.0,176.5 L306.5,176.2 L307.0,175.9 L307.5,175.5 L308.0,175.1 L308.5,174.6 L309.0,174.1 L309.5,173.6 L310.0,173.1 L310.5,172.5 L311.0,171.9 L311.5,171.2 L312.0,170.6 L312.5,169.9 L313.0,169.3 L313.5,168.7 L314.0,168.1 L314.5,167.6 L315.0,167.1 L315.5,166.7 L316.0,166.4 L316.5,166.1 L317.0,166.0 L317.5,165.9 L318.0,165.8 L318.5,165.9 L319.0,165.9 L319.5,166.1 L320.0,166.2 L320.5,166.4 L321.0,166.5 L321.5,166.6 L322.0,166.7 L322.5,166.8 L323.0,166.9 L323.5,166.9 L324.0,167.0 L324.5,167.1 L325.0,167.4 L325.5,167.8 L326.0,168.1 L326.5,168.3 L327.0,168.2 L327.5,167.7 L328.0,167.0 L328.5,166.0 L329.0,164.6 L329.5,163.0 L330.0,161.2 L330.5,159.1 L331.0,157.0 L331.5,155.0 L332.0,153.5 L332.5,152.7 L333.0,152.8 L333.5,153.8 L334.0,155.5 L334.5,157.4 L335.0,159.4 L335.5,161.3 L336.0,163.0 L336.5,164.4 L337.0,165.5 L337.5,166.5 L338.0,167.2 L338.5,167.8 L339.0,168.2 L339.5,168.4 L340.0,168.6 L340.5,168.6 L341.0,168.5 L341.5,168.3 L342.0,168.0 L342.5,167.5 L343.0,166.8 L343.5,166.0 L344.0,164.9 L344.5,163.6 L345.0,162.0 L345.5,160.2 L346.0,158.0 L346.5,155.6 L347.0,153.2 L347.5,151.0 L348.0,149.5 L348.5,148.8 L349.0,149.3 L349.5,150.7 L350.0,152.9 L350.5,155.4 L351.0,157.9 L351.5,160.3 L352.0,162.3 L352.5,164.1 L353.0,165.5 L353.5,166.5 L354.0,167.2 L354.5,167.5 L355.0,167.5 L355.5,167.3 L356.0,167.1 L356.5,167.0 L357.0,167.0 L357.5,167.1 L358.0,167.2 L358.5,167.3 L359.0,167.5 L359.5,167.6 L360.0,167.6 L360.5,167.7 L361.0,167.8 L361.5,167.8 L362.0,167.9 L362.5,168.0 L363.0,168.1 L363.5,168.3 L364.0,168.5 L364.5,168.7 L365.0,169.0 L365.5,169.3 L366.0,169.6 L366.5,170.0 L367.0,170.4 L367.5,170.8 L368.0,171.2 L368.5,171.7 L369.0,172.2 L369.5,172.6 L370.0,173.1 L370.5,173.5 L371.0,174.0 L371.5,174.4 L372.0,174.8 L372.5,175.2 L373.0,175.6 L373.5,175.9 L374.0,176.2 L374.5,176.5 L375.0,176.8 L375.5,177.1 L376.0,177.3 L376.5,177.6 L377.0,177.8 L377.5,178.0 L378.0,178.2 L378.5,178.4 L379.0,178.6 L379.5,178.8 L380.0,179.0 L380.5,179.2 L381.0,179.3 L381.5,179.5 L382.0,179.7 L382.5,179.8 L383.0,180.0 L383.5,180.2 L384.0,180.3 L384.5,180.5 L385.0,180.7 L385.5,180.8 L386.0,181.0 L386.5,181.2 L387.0,181.3 L387.5,181.5 L388.0,181.6 L388.5,181.8 L389.0,182.0 L389.5,182.1 L390.0,182.3 L390.5,182.4 L391.0,182.6 L391.5,182.8 L392.0,182.9 L392.5,183.1 L393.0,183.2 L393.5,183.4 L394.0,183.5 L394.5,183.6" fill="none" stroke="#000" stroke-width="0.95" stroke-linejoin="round"/>
<path clip-path="url(#cb)" d="M288.0,189.9 L288.5,189.8 L289.0,189.7 L289.5,189.6 L290.0,189.4 L290.5,189.3 L291.0,189.1 L291.5,188.9 L292.0,188.8 L292.5,188.6 L293.0,188.4 L293.5,188.2 L294.0,188.1 L294.5,187.9 L295.0,187.7 L295.5,187.6 L296.0,187.4 L296.5,187.2 L297.0,187.1 L297.5,186.9 L298.0,186.7 L298.5,186.5 L299.0,186.4 L299.5,186.2 L300.0,186.0 L300.5,185.9 L301.0,185.7 L301.5,185.5 L302.0,185.3 L302.5,185.1 L303.0,184.9 L303.5,184.7 L304.0,184.5 L304.5,184.2 L305.0,184.0 L305.5,183.7 L306.0,183.4 L306.5,183.1 L307.0,182.7 L307.5,182.3 L308.0,181.9 L308.5,181.4 L309.0,180.9 L309.5,180.3 L310.0,179.7 L310.5,179.1 L311.0,178.4 L311.5,177.8 L312.0,177.1 L312.5,176.4 L313.0,175.7 L313.5,175.0 L314.0,174.4 L314.5,173.8 L315.0,173.4 L315.5,172.9 L316.0,172.6 L316.5,172.4 L317.0,172.2 L317.5,172.1 L318.0,172.1 L318.5,172.2 L319.0,172.3 L319.5,172.5 L320.0,172.7 L320.5,172.9 L321.0,173.2 L321.5,173.4 L322.0,173.5 L322.5,173.7 L323.0,173.8 L323.5,173.8 L324.0,173.8 L324.5,173.8 L325.0,173.8 L325.5,174.0 L326.0,174.2 L326.5,174.5 L327.0,174.8 L327.5,174.9 L328.0,174.8 L328.5,174.4 L329.0,173.6 L329.5,172.6 L330.0,171.3 L330.5,169.8 L331.0,168.0 L331.5,166.0 L332.0,163.9 L332.5,161.9 L333.0,160.3 L333.5,159.2 L334.0,159.1 L334.5,159.7 L335.0,161.0 L335.5,162.8 L336.0,164.6 L336.5,166.4 L337.0,168.0 L337.5,169.4 L338.0,170.5 L338.5,171.4 L339.0,172.0 L339.5,172.4 L340.0,172.6 L340.5,172.7 L341.0,172.5 L341.5,172.2 L342.0,171.6 L342.5,170.9 L343.0,169.9 L343.5,168.6 L344.0,167.0 L344.5,165.2 L345.0,163.1 L345.5,160.9 L346.0,158.7 L346.5,156.9 L347.0,155.8 L347.5,155.7 L348.0,156.6 L348.5,158.3 L349.0,160.6 L349.5,163.0 L350.0,165.4 L350.5,167.6 L351.0,169.5 L351.5,171.1 L352.0,172.5 L352.5,173.4 L353.0,174.1 L353.5,174.3 L354.0,174.3 L354.5,174.2 L355.0,174.0 L355.5,173.9 L356.0,173.9 L356.5,174.0 L357.0,174.1 L357.5,174.2 L358.0,174.3 L358.5,174.4 L359.0,174.5 L359.5,174.5 L360.0,174.5 L360.5,174.5 L361.0,174.5 L361.5,174.6 L362.0,174.6 L362.5,174.7 L363.0,174.7 L363.5,174.9 L364.0,175.0 L364.5,175.3 L365.0,175.5 L365.5,175.8 L366.0,176.2 L366.5,176.5 L367.0,177.0 L367.5,177.4 L368.0,177.9 L368.5,178.3 L369.0,178.8 L369.5,179.3 L370.0,179.8 L370.5,180.3 L371.0,180.8 L371.5,181.2 L372.0,181.7 L372.5,182.1 L373.0,182.5 L373.5,182.8 L374.0,183.2 L374.5,183.5 L375.0,183.8 L375.5,184.1 L376.0,184.3 L376.5,184.6 L377.0,184.8 L377.5,185.0 L378.0,185.2 L378.5,185.4 L379.0,185.6 L379.5,185.8 L380.0,186.0 L380.5,186.2 L381.0,186.3 L381.5,186.5 L382.0,186.7 L382.5,186.9 L383.0,187.0 L383.5,187.2 L384.0,187.4 L384.5,187.5 L385.0,187.7 L385.5,187.9 L386.0,188.0 L386.5,188.2 L387.0,188.4 L387.5,188.5 L388.0,188.7 L388.5,188.8 L389.0,189.0 L389.5,189.2 L390.0,189.3 L390.5,189.5 L391.0,189.7 L391.5,189.8 L392.0,190.0 L392.5,190.1 L393.0,190.3 L393.5,190.4 L394.0,190.6 L394.5,190.7" fill="none" stroke="#000" stroke-width="0.95" stroke-linejoin="round"/>
<path clip-path="url(#cb)" d="M288.0,196.9 L288.5,196.8 L289.0,196.7 L289.5,196.5 L290.0,196.4 L290.5,196.2 L291.0,196.1 L291.5,195.9 L292.0,195.7 L292.5,195.6 L293.0,195.4 L293.5,195.2 L294.0,195.1 L294.5,194.9 L295.0,194.7 L295.5,194.6 L296.0,194.4 L296.5,194.2 L297.0,194.0 L297.5,193.9 L298.0,193.7 L298.5,193.5 L299.0,193.4 L299.5,193.2 L300.0,193.0 L300.5,192.8 L301.0,192.6 L301.5,192.5 L302.0,192.3 L302.5,192.1 L303.0,191.9 L303.5,191.7 L304.0,191.4 L304.5,191.2 L305.0,190.9 L305.5,190.7 L306.0,190.3 L306.5,190.0 L307.0,189.6 L307.5,189.2 L308.0,188.7 L308.5,188.2 L309.0,187.7 L309.5,187.1 L310.0,186.5 L310.5,185.8 L311.0,185.1 L311.5,184.3 L312.0,183.6 L312.5,182.8 L313.0,182.1 L313.5,181.4 L314.0,180.8 L314.5,180.2 L315.0,179.7 L315.5,179.2 L316.0,178.9 L316.5,178.6 L317.0,178.5 L317.5,178.4 L318.0,178.5 L318.5,178.6 L319.0,178.8 L319.5,179.0 L320.0,179.3 L320.5,179.6 L321.0,179.9 L321.5,180.1 L322.0,180.4 L322.5,180.6 L323.0,180.8 L323.5,180.9 L324.0,180.9 L324.5,180.9 L325.0,180.9 L325.5,180.8 L326.0,180.8 L326.5,180.9 L327.0,181.1 L327.5,181.4 L328.0,181.6 L328.5,181.8 L329.0,181.7 L329.5,181.3 L330.0,180.6 L330.5,179.7 L331.0,178.4 L331.5,177.0 L332.0,175.4 L332.5,173.5 L333.0,171.5 L333.5,169.6 L334.0,167.9 L334.5,166.6 L335.0,166.0 L335.5,166.2 L336.0,167.1 L336.5,168.4 L337.0,170.0 L337.5,171.5 L338.0,172.9 L338.5,174.1 L339.0,174.9 L339.5,175.6 L340.0,175.9 L340.5,175.9 L341.0,175.7 L341.5,175.2 L342.0,174.4 L342.5,173.3 L343.0,171.9 L343.5,170.2 L344.0,168.4 L344.5,166.5 L345.0,164.8 L345.5,163.7 L346.0,163.2 L346.5,163.7 L347.0,165.0 L347.5,166.9 L348.0,169.1 L348.5,171.4 L349.0,173.6 L349.5,175.5 L350.0,177.3 L350.5,178.7 L351.0,179.9 L351.5,180.7 L352.0,181.3 L352.5,181.5 L353.0,181.4 L353.5,181.2 L354.0,181.0 L354.5,180.9 L355.0,180.9 L355.5,181.0 L356.0,181.1 L356.5,181.3 L357.0,181.4 L357.5,181.5 L358.0,181.5 L358.5,181.5 L359.0,181.5 L359.5,181.5 L360.0,181.4 L360.5,181.4 L361.0,181.3 L361.5,181.3 L362.0,181.3 L362.5,181.3 L363.0,181.4 L363.5,181.5 L364.0,181.6 L364.5,181.8 L365.0,182.1 L365.5,182.4 L366.0,182.8 L366.5,183.1 L367.0,183.6 L367.5,184.0 L368.0,184.5 L368.5,185.0 L369.0,185.6 L369.5,186.1 L370.0,186.6 L370.5,187.1 L371.0,187.6 L371.5,188.1 L372.0,188.5 L372.5,189.0 L373.0,189.4 L373.5,189.8 L374.0,190.1 L374.5,190.5 L375.0,190.8 L375.5,191.1 L376.0,191.3 L376.5,191.6 L377.0,191.8 L377.5,192.0 L378.0,192.2 L378.5,192.5 L379.0,192.7 L379.5,192.8 L380.0,193.0 L380.5,193.2 L381.0,193.4 L381.5,193.6 L382.0,193.7 L382.5,193.9 L383.0,194.1 L383.5,194.2 L384.0,194.4 L384.5,194.6 L385.0,194.7 L385.5,194.9 L386.0,195.1 L386.5,195.2 L387.0,195.4 L387.5,195.6 L388.0,195.7 L388.5,195.9 L389.0,196.1 L389.5,196.2 L390.0,196.4 L390.5,196.6 L391.0,196.7 L391.5,196.9 L392.0,197.0 L392.5,197.2 L393.0,197.4 L393.5,197.5 L394.0,197.6 L394.5,197.7" fill="none" stroke="#000" stroke-width="0.95" stroke-linejoin="round"/>
<path clip-path="url(#cb)" d="M288.0,203.9 L288.5,203.8 L289.0,203.7 L289.5,203.5 L290.0,203.4 L290.5,203.2 L291.0,203.0 L291.5,202.9 L292.0,202.7 L292.5,202.5 L293.0,202.4 L293.5,202.2 L294.0,202.0 L294.5,201.9 L295.0,201.7 L295.5,201.5 L296.0,201.4 L296.5,201.2 L297.0,201.0 L297.5,200.9 L298.0,200.7 L298.5,200.5 L299.0,200.3 L299.5,200.2 L300.0,200.0 L300.5,199.8 L301.0,199.6 L301.5,199.4 L302.0,199.3 L302.5,199.1 L303.0,198.9 L303.5,198.6 L304.0,198.4 L304.5,198.2 L305.0,197.9 L305.5,197.6 L306.0,197.3 L306.5,196.9 L307.0,196.5 L307.5,196.1 L308.0,195.6 L308.5,195.1 L309.0,194.5 L309.5,193.9 L310.0,193.2 L310.5,192.5 L311.0,191.7 L311.5,190.9 L312.0,190.1 L312.5,189.4 L313.0,188.6 L313.5,187.8 L314.0,187.2 L314.5,186.5 L315.0,186.0 L315.5,185.5 L316.0,185.2 L316.5,185.0 L317.0,184.8 L317.5,184.8 L318.0,184.9 L318.5,185.0 L319.0,185.3 L319.5,185.5 L320.0,185.9 L320.5,186.2 L321.0,186.6 L321.5,186.9 L322.0,187.3 L322.5,187.5 L323.0,187.8 L323.5,188.0 L324.0,188.1 L324.5,188.2 L325.0,188.1 L325.5,188.1 L326.0,188.0 L326.5,187.9 L327.0,187.8 L327.5,187.9 L328.0,188.1 L328.5,188.4 L329.0,188.7 L329.5,188.8 L330.0,188.8 L330.5,188.5 L331.0,187.9 L331.5,187.0 L332.0,186.0 L332.5,184.7 L333.0,183.2 L333.5,181.6 L334.0,179.8 L334.5,178.0 L335.0,176.2 L335.5,174.8 L336.0,173.8 L336.5,173.4 L337.0,173.7 L337.5,174.4 L338.0,175.4 L338.5,176.4 L339.0,177.3 L339.5,178.0 L340.0,178.4 L340.5,178.4 L341.0,178.1 L341.5,177.5 L342.0,176.5 L342.5,175.3 L343.0,174.0 L343.5,172.7 L344.0,171.8 L344.5,171.4 L345.0,171.7 L345.5,172.7 L346.0,174.3 L346.5,176.3 L347.0,178.4 L347.5,180.4 L348.0,182.2 L348.5,183.9 L349.0,185.4 L349.5,186.6 L350.0,187.6 L350.5,188.3 L351.0,188.7 L351.5,188.8 L352.0,188.7 L352.5,188.5 L353.0,188.2 L353.5,188.1 L354.0,188.1 L354.5,188.2 L355.0,188.3 L355.5,188.4 L356.0,188.6 L356.5,188.7 L357.0,188.7 L357.5,188.7 L358.0,188.7 L358.5,188.6 L359.0,188.6 L359.5,188.5 L360.0,188.4 L360.5,188.3 L361.0,188.2 L361.5,188.1 L362.0,188.0 L362.5,188.0 L363.0,188.1 L363.5,188.1 L364.0,188.3 L364.5,188.5 L365.0,188.7 L365.5,189.0 L366.0,189.4 L366.5,189.8 L367.0,190.2 L367.5,190.7 L368.0,191.2 L368.5,191.8 L369.0,192.3 L369.5,192.9 L370.0,193.4 L370.5,193.9 L371.0,194.5 L371.5,195.0 L372.0,195.4 L372.5,195.9 L373.0,196.3 L373.5,196.7 L374.0,197.1 L374.5,197.4 L375.0,197.8 L375.5,198.1 L376.0,198.3 L376.5,198.6 L377.0,198.8 L377.5,199.1 L378.0,199.3 L378.5,199.5 L379.0,199.7 L379.5,199.9 L380.0,200.1 L380.5,200.3 L381.0,200.4 L381.5,200.6 L382.0,200.8 L382.5,201.0 L383.0,201.1 L383.5,201.3 L384.0,201.5 L384.5,201.6 L385.0,201.8 L385.5,202.0 L386.0,202.1 L386.5,202.3 L387.0,202.5 L387.5,202.6 L388.0,202.8 L388.5,203.0 L389.0,203.1 L389.5,203.3 L390.0,203.4 L390.5,203.6 L391.0,203.8 L391.5,203.9 L392.0,204.1 L392.5,204.3 L393.0,204.4 L393.5,204.6 L394.0,204.7 L394.5,204.8" fill="none" stroke="#000" stroke-width="0.95" stroke-linejoin="round"/>
<path clip-path="url(#cb)" d="M288.0,210.9 L288.5,210.8 L289.0,210.7 L289.5,210.5 L290.0,210.4 L290.5,210.2 L291.0,210.0 L291.5,209.9 L292.0,209.7 L292.5,209.5 L293.0,209.4 L293.5,209.2 L294.0,209.0 L294.5,208.9 L295.0,208.7 L295.5,208.5 L296.0,208.4 L296.5,208.2 L297.0,208.0 L297.5,207.8 L298.0,207.7 L298.5,207.5 L299.0,207.3 L299.5,207.2 L300.0,207.0 L300.5,206.8 L301.0,206.6 L301.5,206.4 L302.0,206.3 L302.5,206.1 L303.0,205.9 L303.5,205.6 L304.0,205.4 L304.5,205.2 L305.0,204.9 L305.5,204.6 L306.0,204.2 L306.5,203.9 L307.0,203.5 L307.5,203.0 L308.0,202.5 L308.5,201.9 L309.0,201.3 L309.5,200.7 L310.0,199.9 L310.5,199.2 L311.0,198.4 L311.5,197.6 L312.0,196.7 L312.5,195.9 L313.0,195.1 L313.5,194.3 L314.0,193.5 L314.5,192.9 L315.0,192.3 L315.5,191.9 L316.0,191.5 L316.5,191.3 L317.0,191.2 L317.5,191.2 L318.0,191.3 L318.5,191.5 L319.0,191.7 L319.5,192.1 L320.0,192.5 L320.5,192.9 L321.0,193.3 L321.5,193.7 L322.0,194.1 L322.5,194.5 L323.0,194.8 L323.5,195.0 L324.0,195.2 L324.5,195.3 L325.0,195.4 L325.5,195.4 L326.0,195.3 L326.5,195.2 L327.0,195.0 L327.5,194.9 L328.0,194.8 L328.5,194.8 L329.0,195.0 L329.5,195.3 L330.0,195.6 L330.5,195.8 L331.0,195.8 L331.5,195.5 L332.0,195.0 L332.5,194.2 L333.0,193.3 L333.5,192.2 L334.0,190.8 L334.5,189.3 L335.0,187.7 L335.5,185.9 L336.0,184.1 L336.5,182.5 L337.0,181.0 L337.5,180.0 L338.0,179.5 L338.5,179.3 L339.0,179.5 L339.5,179.7 L340.0,179.8 L340.5,179.8 L341.0,179.5 L341.5,179.1 L342.0,178.6 L342.5,178.3 L343.0,178.3 L343.5,178.8 L344.0,179.9 L344.5,181.4 L345.0,183.2 L345.5,185.2 L346.0,187.1 L346.5,188.9 L347.0,190.5 L347.5,192.0 L348.0,193.2 L348.5,194.3 L349.0,195.1 L349.5,195.7 L350.0,196.0 L350.5,196.1 L351.0,195.9 L351.5,195.6 L352.0,195.3 L352.5,195.2 L353.0,195.2 L353.5,195.3 L354.0,195.4 L354.5,195.6 L355.0,195.7 L355.5,195.8 L356.0,195.9 L356.5,195.9 L357.0,195.9 L357.5,195.9 L358.0,195.8 L358.5,195.7 L359.0,195.5 L359.5,195.4 L360.0,195.2 L360.5,195.1 L361.0,194.9 L361.5,194.8 L362.0,194.8 L362.5,194.7 L363.0,194.7 L363.5,194.8 L364.0,194.9 L364.5,195.1 L365.0,195.3 L365.5,195.6 L366.0,196.0 L366.5,196.4 L367.0,196.9 L367.5,197.4 L368.0,197.9 L368.5,198.5 L369.0,199.1 L369.5,199.6 L370.0,200.2 L370.5,200.8 L371.0,201.3 L371.5,201.9 L372.0,202.4 L372.5,202.8 L373.0,203.3 L373.5,203.7 L374.0,204.1 L374.5,204.4 L375.0,204.8 L375.5,205.1 L376.0,205.4 L376.5,205.6 L377.0,205.9 L377.5,206.1 L378.0,206.3 L378.5,206.5 L379.0,206.7 L379.5,206.9 L380.0,207.1 L380.5,207.3 L381.0,207.5 L381.5,207.7 L382.0,207.8 L382.5,208.0 L383.0,208.2 L383.5,208.3 L384.0,208.5 L384.5,208.7 L385.0,208.8 L385.5,209.0 L386.0,209.2 L386.5,209.3 L387.0,209.5 L387.5,209.7 L388.0,209.8 L388.5,210.0 L389.0,210.2 L389.5,210.3 L390.0,210.5 L390.5,210.7 L391.0,210.8 L391.5,211.0 L392.0,211.2 L392.5,211.3 L393.0,211.5 L393.5,211.6 L394.0,211.7 L394.5,211.8" fill="none" stroke="#000" stroke-width="0.95" stroke-linejoin="round"/>
<path clip-path="url(#cb)" d="M288.0,217.8 L288.5,217.7 L289.0,217.6 L289.5,217.5 L290.0,217.3 L290.5,217.2 L291.0,217.0 L291.5,216.9 L292.0,216.7 L292.5,216.5 L293.0,216.4 L293.5,216.2 L294.0,216.0 L294.5,215.9 L295.0,215.7 L295.5,215.5 L296.0,215.3 L296.5,215.2 L297.0,215.0 L297.5,214.8 L298.0,214.7 L298.5,214.5 L299.0,214.3 L299.5,214.2 L300.0,214.0 L300.5,213.8 L301.0,213.6 L301.5,213.4 L302.0,213.3 L302.5,213.1 L303.0,212.9 L303.5,212.6 L304.0,212.4 L304.5,212.1 L305.0,211.9 L305.5,211.6 L306.0,211.2 L306.5,210.8 L307.0,210.4 L307.5,209.9 L308.0,209.4 L308.5,208.8 L309.0,208.2 L309.5,207.5 L310.0,206.7 L310.5,205.9 L311.0,205.1 L311.5,204.2 L312.0,203.3 L312.5,202.4 L313.0,201.5 L313.5,200.7 L314.0,200.0 L314.5,199.3 L315.0,198.7 L315.5,198.2 L316.0,197.8 L316.5,197.6 L317.0,197.5 L317.5,197.5 L318.0,197.6 L318.5,197.9 L319.0,198.2 L319.5,198.6 L320.0,199.0 L320.5,199.5 L321.0,200.0 L321.5,200.5 L322.0,200.9 L322.5,201.3 L323.0,201.7 L323.5,202.0 L324.0,202.3 L324.5,202.4 L325.0,202.5 L325.5,202.6 L326.0,202.6 L326.5,202.5 L327.0,202.3 L327.5,202.2 L328.0,201.9 L328.5,201.7 L329.0,201.4 L329.5,201.3 L330.0,201.2 L330.5,201.4 L331.0,201.6 L331.5,201.9 L332.0,202.0 L332.5,201.9 L333.0,201.6 L333.5,201.0 L334.0,200.2 L334.5,199.1 L335.0,197.8 L335.5,196.4 L336.0,194.7 L336.5,192.9 L337.0,191.0 L337.5,189.0 L338.0,187.0 L338.5,185.3 L339.0,183.9 L339.5,182.8 L340.0,182.2 L340.5,181.9 L341.0,182.1 L341.5,182.6 L342.0,183.7 L342.5,185.2 L343.0,187.0 L343.5,189.0 L344.0,191.1 L344.5,193.1 L345.0,194.9 L345.5,196.6 L346.0,198.1 L346.5,199.4 L347.0,200.5 L347.5,201.4 L348.0,202.0 L348.5,202.4 L349.0,202.5 L349.5,202.4 L350.0,202.1 L350.5,201.9 L351.0,201.7 L351.5,201.8 L352.0,201.9 L352.5,202.2 L353.0,202.4 L353.5,202.6 L354.0,202.8 L354.5,203.0 L355.0,203.1 L355.5,203.1 L356.0,203.1 L356.5,203.1 L357.0,203.0 L357.5,202.9 L358.0,202.8 L358.5,202.6 L359.0,202.5 L359.5,202.3 L360.0,202.1 L360.5,201.9 L361.0,201.7 L361.5,201.6 L362.0,201.5 L362.5,201.4 L363.0,201.4 L363.5,201.4 L364.0,201.5 L364.5,201.7 L365.0,201.9 L365.5,202.3 L366.0,202.6 L366.5,203.1 L367.0,203.5 L367.5,204.1 L368.0,204.6 L368.5,205.2 L369.0,205.8 L369.5,206.4 L370.0,207.0 L370.5,207.6 L371.0,208.2 L371.5,208.7 L372.0,209.3 L372.5,209.8 L373.0,210.2 L373.5,210.7 L374.0,211.1 L374.5,211.4 L375.0,211.8 L375.5,212.1 L376.0,212.4 L376.5,212.7 L377.0,212.9 L377.5,213.2 L378.0,213.4 L378.5,213.6 L379.0,213.8 L379.5,214.0 L380.0,214.2 L380.5,214.4 L381.0,214.5 L381.5,214.7 L382.0,214.9 L382.5,215.1 L383.0,215.2 L383.5,215.4 L384.0,215.6 L384.5,215.7 L385.0,215.9 L385.5,216.1 L386.0,216.2 L386.5,216.4 L387.0,216.6 L387.5,216.7 L388.0,216.9 L388.5,217.1 L389.0,217.2 L389.5,217.4 L390.0,217.6 L390.5,217.7 L391.0,217.9 L391.5,218.1 L392.0,218.2 L392.5,218.4 L393.0,218.5 L393.5,218.7 L394.0,218.8 L394.5,218.9" fill="none" stroke="#000" stroke-width="0.95" stroke-linejoin="round"/>
<path clip-path="url(#cb)" d="M288.0,224.8 L288.5,224.7 L289.0,224.6 L289.5,224.5 L290.0,224.3 L290.5,224.2 L291.0,224.0 L291.5,223.8 L292.0,223.7 L292.5,223.5 L293.0,223.3 L293.5,223.2 L294.0,223.0 L294.5,222.8 L295.0,222.7 L295.5,222.5 L296.0,222.3 L296.5,222.2 L297.0,222.0 L297.5,221.8 L298.0,221.7 L298.5,221.5 L299.0,221.3 L299.5,221.2 L300.0,221.0 L300.5,220.8 L301.0,220.6 L301.5,220.4 L302.0,220.2 L302.5,220.0 L303.0,219.8 L303.5,219.6 L304.0,219.4 L304.5,219.1 L305.0,218.8 L305.5,218.5 L306.0,218.2 L306.5,217.8 L307.0,217.3 L307.5,216.8 L308.0,216.3 L308.5,215.7 L309.0,215.0 L309.5,214.2 L310.0,213.4 L310.5,212.6 L311.0,211.7 L311.5,210.8 L312.0,209.8 L312.5,208.9 L313.0,208.0 L313.5,207.1 L314.0,206.3 L314.5,205.6 L315.0,205.0 L315.5,204.5 L316.0,204.1 L316.5,203.9 L317.0,203.8 L317.5,203.8 L318.0,204.0 L318.5,204.2 L319.0,204.6 L319.5,205.0 L320.0,205.5 L320.5,206.0 L321.0,206.6 L321.5,207.1 L322.0,207.6 L322.5,208.1 L323.0,208.5 L323.5,208.8 L324.0,209.1 L324.5,209.3 L325.0,209.5 L325.5,209.5 L326.0,209.5 L326.5,209.5 L327.0,209.3 L327.5,209.2 L328.0,208.9 L328.5,208.7 L329.0,208.3 L329.5,208.0 L330.0,207.7 L330.5,207.4 L331.0,207.3 L331.5,207.3 L332.0,207.4 L332.5,207.6 L333.0,207.6 L333.5,207.4 L334.0,206.8 L334.5,206.0 L335.0,204.9 L335.5,203.5 L336.0,201.8 L336.5,199.9 L337.0,197.8 L337.5,195.3 L338.0,192.7 L338.5,189.9 L339.0,187.4 L339.5,185.2 L340.0,183.8 L340.5,183.5 L341.0,184.3 L341.5,186.1 L342.0,188.5 L342.5,191.2 L343.0,193.9 L343.5,196.5 L344.0,198.9 L344.5,201.0 L345.0,202.8 L345.5,204.4 L346.0,205.7 L346.5,206.8 L347.0,207.6 L347.5,208.1 L348.0,208.4 L348.5,208.3 L349.0,208.2 L349.5,208.0 L350.0,208.0 L350.5,208.1 L351.0,208.3 L351.5,208.6 L352.0,208.9 L352.5,209.2 L353.0,209.5 L353.5,209.7 L354.0,209.9 L354.5,210.0 L355.0,210.1 L355.5,210.1 L356.0,210.1 L356.5,210.0 L357.0,209.9 L357.5,209.8 L358.0,209.6 L358.5,209.5 L359.0,209.2 L359.5,209.0 L360.0,208.8 L360.5,208.6 L361.0,208.4 L361.5,208.2 L362.0,208.1 L362.5,208.0 L363.0,207.9 L363.5,208.0 L364.0,208.1 L364.5,208.2 L365.0,208.5 L365.5,208.8 L366.0,209.2 L366.5,209.6 L367.0,210.1 L367.5,210.7 L368.0,211.3 L368.5,211.9 L369.0,212.5 L369.5,213.2 L370.0,213.8 L370.5,214.4 L371.0,215.0 L371.5,215.6 L372.0,216.1 L372.5,216.7 L373.0,217.2 L373.5,217.6 L374.0,218.0 L374.5,218.4 L375.0,218.8 L375.5,219.1 L376.0,219.4 L376.5,219.7 L377.0,219.9 L377.5,220.2 L378.0,220.4 L378.5,220.6 L379.0,220.8 L379.5,221.0 L380.0,221.2 L380.5,221.4 L381.0,221.6 L381.5,221.8 L382.0,221.9 L382.5,222.1 L383.0,222.3 L383.5,222.5 L384.0,222.6 L384.5,222.8 L385.0,223.0 L385.5,223.1 L386.0,223.3 L386.5,223.5 L387.0,223.6 L387.5,223.8 L388.0,224.0 L388.5,224.1 L389.0,224.3 L389.5,224.5 L390.0,224.6 L390.5,224.8 L391.0,225.0 L391.5,225.1 L392.0,225.3 L392.5,225.4 L393.0,225.6 L393.5,225.7 L394.0,225.9 L394.5,226.0" fill="none" stroke="#000" stroke-width="0.95" stroke-linejoin="round"/>
<path clip-path="url(#cb)" d="M288.0,231.8 L288.5,231.7 L289.0,231.6 L289.5,231.5 L290.0,231.3 L290.5,231.1 L291.0,231.0 L291.5,230.8 L292.0,230.6 L292.5,230.5 L293.0,230.3 L293.5,230.1 L294.0,230.0 L294.5,229.8 L295.0,229.6 L295.5,229.5 L296.0,229.3 L296.5,229.1 L297.0,229.0 L297.5,228.8 L298.0,228.6 L298.5,228.5 L299.0,228.3 L299.5,228.1 L300.0,227.9 L300.5,227.8 L301.0,227.6 L301.5,227.4 L302.0,227.2 L302.5,227.0 L303.0,226.8 L303.5,226.6 L304.0,226.3 L304.5,226.1 L305.0,225.8 L305.5,225.5 L306.0,225.1 L306.5,224.7 L307.0,224.2 L307.5,223.7 L308.0,223.2 L308.5,222.5 L309.0,221.8 L309.5,221.0 L310.0,220.2 L310.5,219.3 L311.0,218.4 L311.5,217.4 L312.0,216.5 L312.5,215.5 L313.0,214.5 L313.5,213.6 L314.0,212.8 L314.5,212.1 L315.0,211.4 L315.5,210.9 L316.0,210.6 L316.5,210.3 L317.0,210.3 L317.5,210.3 L318.0,210.5 L318.5,210.9 L319.0,211.3 L319.5,211.8 L320.0,212.4 L320.5,213.0 L321.0,213.6 L321.5,214.2 L322.0,214.8 L322.5,215.3 L323.0,215.8 L323.5,216.3 L324.0,216.6 L324.5,216.9 L325.0,217.1 L325.5,217.2 L326.0,217.3 L326.5,217.2 L327.0,217.2 L327.5,217.0 L328.0,216.8 L328.5,216.5 L329.0,216.2 L329.5,215.8 L330.0,215.5 L330.5,215.2 L331.0,215.0 L331.5,215.0 L332.0,215.2 L332.5,215.3 L333.0,215.3 L333.5,215.2 L334.0,214.8 L334.5,214.1 L335.0,213.3 L335.5,212.3 L336.0,211.2 L336.5,209.9 L337.0,208.5 L337.5,207.0 L338.0,205.2 L338.5,203.4 L339.0,201.6 L339.5,200.0 L340.0,198.9 L340.5,198.7 L341.0,199.3 L341.5,200.7 L342.0,202.4 L342.5,204.3 L343.0,206.1 L343.5,207.8 L344.0,209.4 L344.5,210.8 L345.0,212.0 L345.5,213.1 L346.0,214.1 L346.5,214.9 L347.0,215.5 L347.5,215.9 L348.0,216.1 L348.5,216.1 L349.0,215.9 L349.5,215.8 L350.0,215.8 L350.5,215.9 L351.0,216.2 L351.5,216.5 L352.0,216.8 L352.5,217.1 L353.0,217.3 L353.5,217.5 L354.0,217.7 L354.5,217.8 L355.0,217.8 L355.5,217.8 L356.0,217.7 L356.5,217.6 L357.0,217.5 L357.5,217.3 L358.0,217.1 L358.5,216.8 L359.0,216.5 L359.5,216.2 L360.0,215.9 L360.5,215.6 L361.0,215.4 L361.5,215.2 L362.0,215.0 L362.5,214.8 L363.0,214.8 L363.5,214.8 L364.0,214.8 L364.5,215.0 L365.0,215.2 L365.5,215.5 L366.0,215.9 L366.5,216.4 L367.0,216.9 L367.5,217.4 L368.0,218.0 L368.5,218.7 L369.0,219.3 L369.5,220.0 L370.0,220.6 L370.5,221.3 L371.0,221.9 L371.5,222.5 L372.0,223.1 L372.5,223.6 L373.0,224.1 L373.5,224.6 L374.0,225.0 L374.5,225.4 L375.0,225.8 L375.5,226.1 L376.0,226.4 L376.5,226.7 L377.0,227.0 L377.5,227.2 L378.0,227.4 L378.5,227.6 L379.0,227.9 L379.5,228.0 L380.0,228.2 L380.5,228.4 L381.0,228.6 L381.5,228.8 L382.0,229.0 L382.5,229.1 L383.0,229.3 L383.5,229.5 L384.0,229.6 L384.5,229.8 L385.0,230.0 L385.5,230.2 L386.0,230.3 L386.5,230.5 L387.0,230.7 L387.5,230.8 L388.0,231.0 L388.5,231.2 L389.0,231.3 L389.5,231.5 L390.0,231.7 L390.5,231.8 L391.0,232.0 L391.5,232.2 L392.0,232.3 L392.5,232.5 L393.0,232.6 L393.5,232.8 L394.0,232.9 L394.5,233.0" fill="none" stroke="#dd1a1a" stroke-width="2.0" stroke-linejoin="round"/>
<path clip-path="url(#cb)" d="M288.0,238.8 L288.5,238.6 L289.0,238.4 L289.5,238.1 L290.0,237.8 L290.5,238.1 L291.0,238.1 L291.5,238.2 L292.0,238.3 L292.5,238.0 L293.0,237.7 L293.5,237.6 L294.0,237.7 L294.5,237.7 L295.0,237.6 L295.5,237.5 L296.0,237.4 L296.5,237.4 L297.0,237.3 L297.5,237.1 L298.0,236.9 L298.5,236.9 L299.0,236.5 L299.5,236.6 L300.0,236.6 L300.5,236.5 L301.0,236.3 L301.5,236.2 L302.0,236.0 L302.5,235.8 L303.0,235.6 L303.5,235.7 L304.0,235.5 L304.5,235.3 L305.0,235.2 L305.5,235.0 L306.0,234.8 L306.5,234.1 L307.0,234.0 L307.5,233.8 L308.0,233.6 L308.5,233.0 L309.0,232.8 L309.5,232.3 L310.0,232.0 L310.5,231.4 L311.0,231.1 L311.5,230.8 L312.0,230.0 L312.5,229.7 L313.0,229.4 L313.5,229.4 L314.0,228.8 L314.5,228.4 L315.0,227.9 L315.5,228.0 L316.0,227.9 L316.5,228.3 L317.0,228.0 L317.5,228.0 L318.0,227.9 L318.5,228.2 L319.0,228.3 L319.5,228.0 L320.0,228.0 L320.5,227.9 L321.0,227.6 L321.5,227.5 L322.0,227.4 L322.5,227.1 L323.0,226.6 L323.5,226.3 L324.0,226.4 L324.5,226.3 L325.0,226.3 L325.5,226.1 L326.0,226.4 L326.5,226.5 L327.0,226.9 L327.5,226.7 L328.0,227.0 L328.5,227.4 L329.0,228.1 L329.5,228.3 L330.0,228.7 L330.5,228.7 L331.0,228.9 L331.5,228.5 L332.0,228.5 L332.5,228.5 L333.0,228.4 L333.5,228.5 L334.0,228.0 L334.5,228.4 L335.0,228.8 L335.5,228.6 L336.0,228.6 L336.5,228.1 L337.0,228.0 L337.5,228.1 L338.0,228.4 L338.5,229.0 L339.0,228.9 L339.5,228.7 L340.0,228.9 L340.5,229.0 L341.0,228.9 L341.5,229.0 L342.0,228.9 L342.5,229.1 L343.0,229.0 L343.5,229.6 L344.0,229.7 L344.5,230.1 L345.0,229.8 L345.5,229.4 L346.0,229.5 L346.5,229.8 L347.0,229.7 L347.5,229.9 L348.0,229.9 L348.5,230.0 L349.0,229.8 L349.5,229.9 L350.0,229.5 L350.5,229.4 L351.0,229.5 L351.5,229.5 L352.0,229.4 L352.5,229.8 L353.0,230.1 L353.5,230.2 L354.0,230.0 L354.5,230.0 L355.0,230.5 L355.5,230.4 L356.0,230.7 L356.5,230.4 L357.0,230.9 L357.5,231.0 L358.0,231.0 L358.5,231.1 L359.0,231.6 L359.5,231.7 L360.0,231.9 L360.5,232.0 L361.0,232.3 L361.5,232.5 L362.0,232.5 L362.5,232.7 L363.0,233.1 L363.5,233.4 L364.0,233.6 L364.5,234.0 L365.0,234.4 L365.5,234.3 L366.0,234.5 L366.5,234.8 L367.0,234.7 L367.5,235.1 L368.0,235.6 L368.5,235.7 L369.0,236.3 L369.5,236.6 L370.0,236.7 L370.5,237.0 L371.0,237.3 L371.5,237.6 L372.0,237.9 L372.5,238.2 L373.0,238.2 L373.5,238.3 L374.0,238.8 L374.5,239.2 L375.0,239.2 L375.5,239.6 L376.0,239.7 L376.5,239.8 L377.0,240.0 L377.5,240.1 L378.0,240.4 L378.5,240.5 L379.0,240.5 L379.5,240.6 L380.0,240.8 L380.5,241.3 L381.0,241.3 L381.5,241.4 L382.0,241.5 L382.5,241.5 L383.0,241.7 L383.5,242.0 L384.0,242.0 L384.5,242.2 L385.0,242.3 L385.5,242.4 L386.0,242.6 L386.5,242.8 L387.0,242.9 L387.5,242.9 L388.0,242.9 L388.5,243.1 L389.0,243.4 L389.5,243.5 L390.0,243.5 L390.5,243.5 L391.0,243.6 L391.5,243.6 L392.0,243.8 L392.5,243.8 L393.0,243.9 L393.5,244.0 L394.0,244.1 L394.5,244.1" fill="none" stroke="#000" stroke-width="0.95" stroke-linejoin="round"/>
<path clip-path="url(#cb)" d="M288.0,245.8 L288.5,245.8 L289.0,245.8 L289.5,245.7 L290.0,245.6 L290.5,245.3 L291.0,245.0 L291.5,244.8 L292.0,244.7 L292.5,244.6 L293.0,244.5 L293.5,244.2 L294.0,244.1 L294.5,243.8 L295.0,243.6 L295.5,243.3 L296.0,243.2 L296.5,242.9 L297.0,242.7 L297.5,242.7 L298.0,243.1 L298.5,242.8 L299.0,242.5 L299.5,242.2 L300.0,241.8 L300.5,241.7 L301.0,241.7 L301.5,241.5 L302.0,241.3 L302.5,241.0 L303.0,241.1 L303.5,240.6 L304.0,240.4 L304.5,240.3 L305.0,240.0 L305.5,240.0 L306.0,240.0 L306.5,239.9 L307.0,239.8 L307.5,239.7 L308.0,239.6 L308.5,239.5 L309.0,239.3 L309.5,239.3 L310.0,238.8 L310.5,239.2 L311.0,239.0 L311.5,238.6 L312.0,238.2 L312.5,237.6 L313.0,237.2 L313.5,236.7 L314.0,236.6 L314.5,236.1 L315.0,235.7 L315.5,235.3 L316.0,235.1 L316.5,234.6 L317.0,234.6 L317.5,234.2 L318.0,233.8 L318.5,234.2 L319.0,234.4 L319.5,234.6 L320.0,234.7 L320.5,234.8 L321.0,234.6 L321.5,234.5 L322.0,234.6 L322.5,234.7 L323.0,234.6 L323.5,234.8 L324.0,234.9 L324.5,235.1 L325.0,235.7 L325.5,235.1 L326.0,234.6 L326.5,234.3 L327.0,234.1 L327.5,234.1 L328.0,234.1 L328.5,234.3 L329.0,234.3 L329.5,234.3 L330.0,234.2 L330.5,234.6 L331.0,234.6 L331.5,234.2 L332.0,233.8 L332.5,233.9 L333.0,234.4 L333.5,234.6 L334.0,234.8 L334.5,234.8 L335.0,234.7 L335.5,234.5 L336.0,234.9 L336.5,234.6 L337.0,234.7 L337.5,233.9 L338.0,233.7 L338.5,233.6 L339.0,233.8 L339.5,233.9 L340.0,233.7 L340.5,233.8 L341.0,234.0 L341.5,234.2 L342.0,234.0 L342.5,233.8 L343.0,233.5 L343.5,233.8 L344.0,234.3 L344.5,234.9 L345.0,234.8 L345.5,234.9 L346.0,235.0 L346.5,234.9 L347.0,234.8 L347.5,235.0 L348.0,235.1 L348.5,235.3 L349.0,235.8 L349.5,236.3 L350.0,236.5 L350.5,236.4 L351.0,236.5 L351.5,236.8 L352.0,237.2 L352.5,237.2 L353.0,237.3 L353.5,237.7 L354.0,238.0 L354.5,238.5 L355.0,238.2 L355.5,238.3 L356.0,238.4 L356.5,238.7 L357.0,238.8 L357.5,239.0 L358.0,238.8 L358.5,238.7 L359.0,238.7 L359.5,238.9 L360.0,239.0 L360.5,238.9 L361.0,239.0 L361.5,238.8 L362.0,239.2 L362.5,239.7 L363.0,240.5 L363.5,240.7 L364.0,240.8 L364.5,241.3 L365.0,241.8 L365.5,242.2 L366.0,242.4 L366.5,242.8 L367.0,243.4 L367.5,243.7 L368.0,243.9 L368.5,244.1 L369.0,244.3 L369.5,244.4 L370.0,244.3 L370.5,244.5 L371.0,244.7 L371.5,244.9 L372.0,245.1 L372.5,245.0 L373.0,245.3 L373.5,245.3 L374.0,245.0 L374.5,245.2 L375.0,245.8 L375.5,246.2 L376.0,246.2 L376.5,246.2 L377.0,246.4 L377.5,246.4 L378.0,246.7 L378.5,247.0 L379.0,247.1 L379.5,247.4 L380.0,247.6 L380.5,247.8 L381.0,248.2 L381.5,248.2 L382.0,248.1 L382.5,248.1 L383.0,248.3 L383.5,248.5 L384.0,248.6 L384.5,248.6 L385.0,248.8 L385.5,248.8 L386.0,248.7 L386.5,249.0 L387.0,249.0 L387.5,249.1 L388.0,249.3 L388.5,249.4 L389.0,249.5 L389.5,249.5 L390.0,249.7 L390.5,249.8 L391.0,249.8 L391.5,250.0 L392.0,250.0 L392.5,250.1 L393.0,250.2 L393.5,250.2 L394.0,250.3 L394.5,250.3" fill="none" stroke="#000" stroke-width="0.95" stroke-linejoin="round"/>
<path clip-path="url(#cb)" d="M288.0,252.7 L288.5,252.5 L289.0,252.4 L289.5,252.4 L290.0,252.4 L290.5,252.2 L291.0,252.0 L291.5,251.8 L292.0,251.8 L292.5,251.6 L293.0,251.5 L293.5,251.4 L294.0,251.3 L294.5,251.2 L295.0,251.0 L295.5,250.9 L296.0,250.8 L296.5,250.7 L297.0,250.3 L297.5,250.2 L298.0,250.3 L298.5,250.2 L299.0,249.9 L299.5,249.6 L300.0,249.4 L300.5,249.3 L301.0,249.0 L301.5,248.8 L302.0,248.4 L302.5,248.5 L303.0,248.3 L303.5,248.3 L304.0,248.2 L304.5,248.4 L305.0,248.0 L305.5,248.0 L306.0,248.0 L306.5,248.0 L307.0,247.7 L307.5,247.5 L308.0,247.3 L308.5,247.2 L309.0,247.1 L309.5,246.7 L310.0,246.3 L310.5,245.9 L311.0,245.9 L311.5,245.4 L312.0,245.2 L312.5,244.8 L313.0,244.1 L313.5,244.2 L314.0,244.1 L314.5,243.9 L315.0,243.7 L315.5,243.7 L316.0,243.7 L316.5,243.8 L317.0,243.8 L317.5,243.4 L318.0,243.5 L318.5,243.3 L319.0,243.4 L319.5,243.5 L320.0,243.8 L320.5,243.2 L321.0,243.3 L321.5,243.7 L322.0,243.6 L322.5,243.0 L323.0,243.0 L323.5,242.8 L324.0,243.0 L324.5,243.2 L325.0,242.6 L325.5,242.6 L326.0,242.2 L326.5,242.2 L327.0,242.1 L327.5,242.2 L328.0,241.9 L328.5,241.4 L329.0,241.7 L329.5,241.6 L330.0,241.4 L330.5,241.4 L331.0,241.7 L331.5,241.6 L332.0,241.8 L332.5,241.9 L333.0,242.4 L333.5,242.3 L334.0,242.3 L334.5,242.2 L335.0,242.2 L335.5,242.0 L336.0,241.9 L336.5,242.1 L337.0,242.3 L337.5,242.3 L338.0,241.9 L338.5,241.9 L339.0,241.7 L339.5,241.7 L340.0,241.6 L340.5,241.4 L341.0,242.0 L341.5,242.3 L342.0,242.6 L342.5,243.0 L343.0,242.9 L343.5,243.3 L344.0,243.0 L344.5,243.1 L345.0,243.3 L345.5,243.5 L346.0,243.5 L346.5,243.4 L347.0,243.2 L347.5,243.4 L348.0,243.2 L348.5,243.7 L349.0,243.8 L349.5,243.7 L350.0,244.1 L350.5,243.8 L351.0,244.1 L351.5,243.9 L352.0,244.2 L352.5,244.3 L353.0,244.0 L353.5,244.2 L354.0,244.8 L354.5,244.5 L355.0,244.8 L355.5,244.7 L356.0,244.8 L356.5,245.0 L357.0,245.3 L357.5,245.8 L358.0,246.3 L358.5,246.7 L359.0,246.8 L359.5,246.8 L360.0,246.7 L360.5,246.9 L361.0,247.1 L361.5,248.0 L362.0,248.1 L362.5,248.4 L363.0,248.5 L363.5,248.5 L364.0,248.8 L364.5,248.9 L365.0,249.0 L365.5,249.0 L366.0,249.1 L366.5,249.2 L367.0,250.4 L367.5,250.8 L368.0,251.2 L368.5,251.0 L369.0,250.9 L369.5,250.7 L370.0,251.1 L370.5,251.6 L371.0,251.7 L371.5,252.1 L372.0,252.2 L372.5,252.7 L373.0,253.1 L373.5,253.4 L374.0,253.3 L374.5,253.2 L375.0,253.0 L375.5,253.2 L376.0,253.7 L376.5,254.2 L377.0,254.2 L377.5,254.3 L378.0,254.5 L378.5,254.5 L379.0,254.9 L379.5,254.8 L380.0,254.7 L380.5,254.8 L381.0,255.0 L381.5,255.1 L382.0,255.4 L382.5,255.5 L383.0,255.7 L383.5,255.7 L384.0,255.7 L384.5,255.8 L385.0,255.8 L385.5,255.9 L386.0,255.9 L386.5,256.0 L387.0,256.1 L387.5,256.2 L388.0,256.4 L388.5,256.6 L389.0,256.7 L389.5,256.7 L390.0,256.8 L390.5,256.8 L391.0,256.8 L391.5,256.8 L392.0,256.9 L392.5,256.9 L393.0,257.0 L393.5,257.1 L394.0,257.3 L394.5,257.3" fill="none" stroke="#000" stroke-width="0.95" stroke-linejoin="round"/>
<path clip-path="url(#cb)" d="M288.0,259.7 L288.5,259.7 L289.0,259.7 L289.5,259.5 L290.0,259.3 L290.5,259.3 L291.0,259.6 L291.5,259.5 L292.0,259.3 L292.5,259.4 L293.0,259.2 L293.5,259.3 L294.0,259.3 L294.5,259.0 L295.0,259.1 L295.5,259.1 L296.0,258.9 L296.5,258.8 L297.0,258.9 L297.5,258.9 L298.0,258.8 L298.5,258.2 L299.0,258.5 L299.5,258.4 L300.0,258.4 L300.5,258.3 L301.0,258.5 L301.5,258.4 L302.0,258.2 L302.5,257.7 L303.0,258.0 L303.5,257.8 L304.0,257.2 L304.5,257.2 L305.0,256.9 L305.5,257.0 L306.0,256.4 L306.5,256.1 L307.0,255.8 L307.5,255.5 L308.0,255.1 L308.5,254.9 L309.0,254.7 L309.5,254.5 L310.0,254.2 L310.5,254.0 L311.0,254.3 L311.5,253.7 L312.0,253.3 L312.5,253.4 L313.0,253.1 L313.5,252.8 L314.0,252.3 L314.5,252.1 L315.0,252.3 L315.5,252.1 L316.0,252.0 L316.5,251.8 L317.0,251.6 L317.5,251.7 L318.0,251.3 L318.5,251.6 L319.0,251.5 L319.5,251.2 L320.0,251.0 L320.5,251.1 L321.0,251.0 L321.5,251.1 L322.0,250.5 L322.5,250.9 L323.0,251.0 L323.5,251.1 L324.0,250.7 L324.5,250.3 L325.0,250.0 L325.5,249.9 L326.0,250.3 L326.5,250.2 L327.0,250.6 L327.5,250.8 L328.0,250.7 L328.5,250.7 L329.0,250.6 L329.5,249.8 L330.0,249.8 L330.5,250.1 L331.0,250.4 L331.5,250.6 L332.0,250.6 L332.5,250.2 L333.0,249.6 L333.5,249.5 L334.0,249.4 L334.5,249.4 L335.0,249.9 L335.5,249.7 L336.0,250.0 L336.5,250.2 L337.0,250.2 L337.5,249.7 L338.0,249.9 L338.5,249.6 L339.0,250.1 L339.5,250.4 L340.0,250.6 L340.5,250.9 L341.0,251.2 L341.5,251.1 L342.0,251.1 L342.5,251.3 L343.0,251.2 L343.5,251.2 L344.0,251.3 L344.5,251.8 L345.0,252.1 L345.5,252.5 L346.0,252.7 L346.5,252.7 L347.0,253.0 L347.5,253.3 L348.0,253.2 L348.5,253.5 L349.0,253.7 L349.5,253.7 L350.0,253.8 L350.5,254.3 L351.0,254.1 L351.5,254.0 L352.0,253.8 L352.5,253.6 L353.0,253.6 L353.5,253.8 L354.0,254.3 L354.5,254.3 L355.0,254.3 L355.5,254.3 L356.0,254.6 L356.5,254.7 L357.0,255.0 L357.5,254.7 L358.0,254.8 L358.5,254.7 L359.0,254.8 L359.5,255.2 L360.0,255.3 L360.5,255.4 L361.0,255.1 L361.5,255.3 L362.0,255.6 L362.5,255.7 L363.0,255.8 L363.5,255.8 L364.0,256.0 L364.5,256.2 L365.0,256.5 L365.5,257.0 L366.0,257.5 L366.5,257.8 L367.0,257.9 L367.5,258.3 L368.0,258.7 L368.5,258.8 L369.0,259.2 L369.5,259.3 L370.0,259.5 L370.5,259.9 L371.0,259.8 L371.5,260.0 L372.0,260.3 L372.5,260.4 L373.0,260.3 L373.5,260.3 L374.0,260.6 L374.5,260.5 L375.0,260.4 L375.5,260.5 L376.0,260.6 L376.5,260.8 L377.0,261.0 L377.5,261.2 L378.0,261.7 L378.5,262.0 L379.0,262.2 L379.5,262.4 L380.0,262.9 L380.5,262.9 L381.0,263.1 L381.5,263.4 L382.0,263.6 L382.5,263.7 L383.0,263.8 L383.5,263.8 L384.0,263.8 L384.5,264.0 L385.0,264.1 L385.5,264.1 L386.0,264.1 L386.5,264.1 L387.0,264.1 L387.5,264.2 L388.0,264.2 L388.5,264.3 L389.0,264.3 L389.5,264.5 L390.0,264.5 L390.5,264.5 L391.0,264.5 L391.5,264.5 L392.0,264.4 L392.5,264.4 L393.0,264.5 L393.5,264.6 L394.0,264.5 L394.5,264.7" fill="none" stroke="#000" stroke-width="0.95" stroke-linejoin="round"/>
<path clip-path="url(#cb)" d="M288.0,266.7 L288.5,266.6 L289.0,266.6 L289.5,266.7 L290.0,266.7 L290.5,266.8 L291.0,266.5 L291.5,266.6 L292.0,266.6 L292.5,266.5 L293.0,266.3 L293.5,266.5 L294.0,266.2 L294.5,266.2 L295.0,266.1 L295.5,266.0 L296.0,266.0 L296.5,265.6 L297.0,265.4 L297.5,265.0 L298.0,264.8 L298.5,264.6 L299.0,264.4 L299.5,264.4 L300.0,264.4 L300.5,263.9 L301.0,263.5 L301.5,263.7 L302.0,263.6 L302.5,263.1 L303.0,262.9 L303.5,263.1 L304.0,263.1 L304.5,263.1 L305.0,263.5 L305.5,263.4 L306.0,263.3 L306.5,263.0 L307.0,263.1 L307.5,263.3 L308.0,263.1 L308.5,262.8 L309.0,262.9 L309.5,263.0 L310.0,262.9 L310.5,262.6 L311.0,262.2 L311.5,262.1 L312.0,261.7 L312.5,261.1 L313.0,260.7 L313.5,260.4 L314.0,260.0 L314.5,260.1 L315.0,260.1 L315.5,259.7 L316.0,259.6 L316.5,259.5 L317.0,259.4 L317.5,259.3 L318.0,259.4 L318.5,259.1 L319.0,258.8 L319.5,259.1 L320.0,259.3 L320.5,259.4 L321.0,259.1 L321.5,258.4 L322.0,258.1 L322.5,258.3 L323.0,258.0 L323.5,257.8 L324.0,257.9 L324.5,257.6 L325.0,257.3 L325.5,257.5 L326.0,257.5 L326.5,257.2 L327.0,256.9 L327.5,256.9 L328.0,257.4 L328.5,257.4 L329.0,257.7 L329.5,257.3 L330.0,257.3 L330.5,257.1 L331.0,257.2 L331.5,257.1 L332.0,257.1 L332.5,256.9 L333.0,257.4 L333.5,257.5 L334.0,257.0 L334.5,256.8 L335.0,256.8 L335.5,257.1 L336.0,256.8 L336.5,257.1 L337.0,257.3 L337.5,257.4 L338.0,257.1 L338.5,257.2 L339.0,257.8 L339.5,257.8 L340.0,257.5 L340.5,257.3 L341.0,257.8 L341.5,258.0 L342.0,257.9 L342.5,258.1 L343.0,257.9 L343.5,257.8 L344.0,258.0 L344.5,258.1 L345.0,258.5 L345.5,258.8 L346.0,258.5 L346.5,258.6 L347.0,258.9 L347.5,259.4 L348.0,259.7 L348.5,259.7 L349.0,259.6 L349.5,259.2 L350.0,259.7 L350.5,259.9 L351.0,260.0 L351.5,259.8 L352.0,259.9 L352.5,259.8 L353.0,259.9 L353.5,259.7 L354.0,259.6 L354.5,259.4 L355.0,259.6 L355.5,259.6 L356.0,260.1 L356.5,260.5 L357.0,260.7 L357.5,260.8 L358.0,260.6 L358.5,261.3 L359.0,261.4 L359.5,261.4 L360.0,261.8 L360.5,262.6 L361.0,262.7 L361.5,262.7 L362.0,262.7 L362.5,262.8 L363.0,263.1 L363.5,263.2 L364.0,263.6 L364.5,263.5 L365.0,264.1 L365.5,264.1 L366.0,264.3 L366.5,264.6 L367.0,264.4 L367.5,264.5 L368.0,264.4 L368.5,265.0 L369.0,265.4 L369.5,265.7 L370.0,265.9 L370.5,265.8 L371.0,265.9 L371.5,266.3 L372.0,266.6 L372.5,267.0 L373.0,266.9 L373.5,267.0 L374.0,267.5 L374.5,267.5 L375.0,267.8 L375.5,267.8 L376.0,267.9 L376.5,267.9 L377.0,267.9 L377.5,268.5 L378.0,268.5 L378.5,268.6 L379.0,268.6 L379.5,268.6 L380.0,268.9 L380.5,269.1 L381.0,269.1 L381.5,269.3 L382.0,269.4 L382.5,269.6 L383.0,269.7 L383.5,269.8 L384.0,269.9 L384.5,269.8 L385.0,270.0 L385.5,270.0 L386.0,270.1 L386.5,270.1 L387.0,270.2 L387.5,270.3 L388.0,270.4 L388.5,270.5 L389.0,270.7 L389.5,270.8 L390.0,270.9 L390.5,271.0 L391.0,271.1 L391.5,271.2 L392.0,271.3 L392.5,271.3 L393.0,271.4 L393.5,271.5 L394.0,271.5 L394.5,271.6" fill="none" stroke="#000" stroke-width="0.95" stroke-linejoin="round"/>
<path clip-path="url(#cb)" d="M288.0,273.7 L288.5,273.5 L289.0,273.5 L289.5,273.4 L290.0,273.2 L290.5,273.0 L291.0,272.8 L291.5,272.6 L292.0,272.5 L292.5,272.6 L293.0,272.7 L293.5,272.7 L294.0,272.7 L294.5,272.7 L295.0,272.5 L295.5,272.4 L296.0,272.5 L296.5,272.2 L297.0,272.2 L297.5,272.2 L298.0,272.4 L298.5,272.1 L299.0,271.8 L299.5,271.7 L300.0,271.6 L300.5,271.2 L301.0,271.1 L301.5,271.1 L302.0,271.2 L302.5,270.8 L303.0,270.5 L303.5,270.6 L304.0,270.4 L304.5,270.3 L305.0,269.8 L305.5,270.0 L306.0,270.0 L306.5,269.4 L307.0,269.4 L307.5,269.3 L308.0,269.0 L308.5,268.7 L309.0,268.3 L309.5,268.4 L310.0,268.3 L310.5,268.1 L311.0,268.1 L311.5,268.3 L312.0,268.3 L312.5,268.2 L313.0,268.2 L313.5,268.5 L314.0,268.0 L314.5,268.1 L315.0,267.8 L315.5,267.8 L316.0,267.5 L316.5,267.4 L317.0,267.2 L317.5,267.1 L318.0,266.7 L318.5,266.0 L319.0,266.3 L319.5,265.4 L320.0,265.4 L320.5,265.3 L321.0,265.6 L321.5,265.3 L322.0,265.5 L322.5,265.2 L323.0,265.7 L323.5,266.3 L324.0,266.6 L324.5,266.6 L325.0,266.3 L325.5,266.9 L326.0,266.7 L326.5,267.6 L327.0,267.3 L327.5,267.3 L328.0,266.6 L328.5,266.8 L329.0,266.3 L329.5,266.2 L330.0,265.9 L330.5,265.2 L331.0,265.1 L331.5,265.0 L332.0,265.4 L332.5,264.9 L333.0,264.6 L333.5,264.7 L334.0,265.0 L334.5,264.9 L335.0,265.7 L335.5,265.4 L336.0,265.6 L336.5,265.7 L337.0,265.5 L337.5,265.6 L338.0,265.5 L338.5,265.5 L339.0,265.5 L339.5,265.5 L340.0,265.8 L340.5,265.6 L341.0,265.6 L341.5,265.6 L342.0,266.0 L342.5,266.1 L343.0,266.3 L343.5,266.4 L344.0,266.9 L344.5,267.0 L345.0,266.9 L345.5,267.0 L346.0,267.1 L346.5,267.3 L347.0,267.2 L347.5,267.3 L348.0,267.2 L348.5,267.7 L349.0,267.7 L349.5,267.8 L350.0,267.8 L350.5,267.8 L351.0,267.7 L351.5,267.5 L352.0,267.9 L352.5,268.1 L353.0,268.5 L353.5,268.8 L354.0,269.0 L354.5,269.0 L355.0,269.3 L355.5,268.8 L356.0,268.9 L356.5,269.3 L357.0,269.5 L357.5,269.7 L358.0,269.7 L358.5,270.1 L359.0,269.9 L359.5,270.1 L360.0,269.7 L360.5,269.7 L361.0,270.0 L361.5,270.3 L362.0,270.3 L362.5,270.6 L363.0,270.5 L363.5,270.6 L364.0,270.8 L364.5,271.0 L365.0,271.3 L365.5,271.1 L366.0,271.5 L366.5,271.5 L367.0,271.9 L367.5,272.0 L368.0,272.1 L368.5,272.2 L369.0,272.1 L369.5,272.2 L370.0,272.5 L370.5,272.6 L371.0,272.9 L371.5,272.8 L372.0,272.8 L372.5,273.3 L373.0,273.4 L373.5,273.5 L374.0,273.5 L374.5,273.8 L375.0,273.7 L375.5,273.9 L376.0,274.2 L376.5,274.2 L377.0,274.1 L377.5,274.1 L378.0,274.2 L378.5,274.6 L379.0,274.8 L379.5,274.9 L380.0,275.1 L380.5,275.3 L381.0,275.5 L381.5,275.6 L382.0,275.9 L382.5,275.9 L383.0,276.2 L383.5,276.4 L384.0,276.5 L384.5,276.6 L385.0,276.8 L385.5,276.7 L386.0,276.7 L386.5,276.8 L387.0,277.0 L387.5,277.1 L388.0,277.1 L388.5,277.3 L389.0,277.4 L389.5,277.4 L390.0,277.4 L390.5,277.5 L391.0,277.6 L391.5,277.7 L392.0,277.8 L392.5,277.9 L393.0,278.0 L393.5,277.9 L394.0,278.0 L394.5,277.9" fill="none" stroke="#000" stroke-width="0.95" stroke-linejoin="round"/>
<path clip-path="url(#cb)" d="M288.0,280.7 L288.5,280.7 L289.0,280.5 L289.5,280.4 L290.0,280.5 L290.5,280.4 L291.0,280.0 L291.5,280.1 L292.0,280.1 L292.5,280.1 L293.0,280.1 L293.5,279.9 L294.0,279.7 L294.5,279.6 L295.0,279.3 L295.5,279.2 L296.0,279.3 L296.5,279.3 L297.0,279.2 L297.5,279.4 L298.0,279.9 L298.5,279.6 L299.0,279.5 L299.5,279.1 L300.0,279.0 L300.5,279.1 L301.0,279.1 L301.5,279.0 L302.0,279.2 L302.5,279.0 L303.0,278.7 L303.5,278.4 L304.0,278.1 L304.5,277.9 L305.0,277.9 L305.5,278.0 L306.0,278.2 L306.5,278.3 L307.0,278.1 L307.5,278.1 L308.0,277.8 L308.5,277.7 L309.0,277.2 L309.5,276.9 L310.0,277.2 L310.5,277.4 L311.0,277.3 L311.5,277.1 L312.0,276.7 L312.5,276.6 L313.0,275.9 L313.5,275.3 L314.0,274.9 L314.5,274.4 L315.0,274.6 L315.5,274.2 L316.0,274.3 L316.5,274.2 L317.0,273.6 L317.5,273.2 L318.0,273.1 L318.5,273.2 L319.0,273.1 L319.5,273.0 L320.0,273.1 L320.5,273.0 L321.0,273.2 L321.5,273.1 L322.0,273.2 L322.5,273.5 L323.0,273.2 L323.5,273.2 L324.0,273.7 L324.5,273.8 L325.0,273.9 L325.5,273.7 L326.0,273.8 L326.5,273.5 L327.0,273.7 L327.5,273.8 L328.0,273.5 L328.5,273.4 L329.0,273.2 L329.5,273.3 L330.0,273.1 L330.5,273.1 L331.0,272.7 L331.5,272.7 L332.0,272.5 L332.5,272.2 L333.0,272.3 L333.5,272.0 L334.0,272.0 L334.5,272.2 L335.0,272.6 L335.5,272.7 L336.0,272.3 L336.5,272.5 L337.0,272.9 L337.5,272.6 L338.0,272.8 L338.5,273.0 L339.0,272.7 L339.5,272.8 L340.0,272.9 L340.5,273.0 L341.0,272.6 L341.5,272.9 L342.0,272.7 L342.5,272.6 L343.0,273.1 L343.5,273.3 L344.0,273.3 L344.5,273.4 L345.0,273.6 L345.5,273.7 L346.0,274.1 L346.5,274.3 L347.0,273.9 L347.5,274.0 L348.0,274.6 L348.5,274.4 L349.0,274.5 L349.5,274.7 L350.0,274.5 L350.5,274.1 L351.0,274.2 L351.5,274.7 L352.0,274.8 L352.5,274.6 L353.0,274.4 L353.5,274.5 L354.0,274.7 L354.5,275.5 L355.0,275.5 L355.5,275.8 L356.0,275.7 L356.5,275.8 L357.0,276.0 L357.5,275.9 L358.0,276.2 L358.5,276.3 L359.0,276.2 L359.5,276.5 L360.0,276.7 L360.5,276.9 L361.0,277.3 L361.5,277.3 L362.0,277.5 L362.5,277.6 L363.0,278.5 L363.5,278.5 L364.0,278.7 L364.5,279.1 L365.0,279.2 L365.5,279.2 L366.0,279.3 L366.5,279.5 L367.0,279.7 L367.5,279.8 L368.0,279.5 L368.5,279.5 L369.0,279.6 L369.5,279.7 L370.0,279.6 L370.5,279.7 L371.0,279.8 L371.5,279.9 L372.0,280.3 L372.5,280.7 L373.0,280.9 L373.5,281.0 L374.0,281.0 L374.5,281.3 L375.0,281.7 L375.5,281.7 L376.0,281.9 L376.5,282.1 L377.0,281.9 L377.5,282.2 L378.0,282.5 L378.5,282.6 L379.0,282.8 L379.5,282.9 L380.0,283.0 L380.5,283.1 L381.0,283.2 L381.5,283.1 L382.0,283.3 L382.5,283.4 L383.0,283.5 L383.5,283.5 L384.0,283.8 L384.5,284.0 L385.0,283.8 L385.5,283.9 L386.0,283.9 L386.5,283.9 L387.0,284.0 L387.5,284.1 L388.0,284.2 L388.5,284.2 L389.0,284.3 L389.5,284.3 L390.0,284.3 L390.5,284.5 L391.0,284.4 L391.5,284.4 L392.0,284.5 L392.5,284.5 L393.0,284.5 L393.5,284.5 L394.0,284.5 L394.5,284.6" fill="none" stroke="#000" stroke-width="0.95" stroke-linejoin="round"/>
<rect x="287.6" y="18.4" width="106.5" height="275.8" fill="none" stroke="#000" stroke-width="1.1"/>
<text x="420.3" y="26.2" font-size="19.5" text-anchor="start" fill="#000" font-weight="bold" font-family='"Liberation Sans", sans-serif' >c</text>
<line x1="447.6" y1="137.3" x2="539.0" y2="18.0" stroke="#e8141c" stroke-width="4.2" stroke-linecap="round"/>
<circle cx="447.6" cy="137.3" r="2.3" fill="#e8141c"/>
<circle cx="449.1" cy="135.3" r="2.3" fill="#e8141c"/>
<circle cx="450.6" cy="133.3" r="2.3" fill="#e8141c"/>
<circle cx="452.2" cy="131.3" r="2.3" fill="#e8141c"/>
<circle cx="453.7" cy="129.3" r="2.3" fill="#e8141c"/>
<circle cx="455.2" cy="127.4" r="2.3" fill="#e8141c"/>
<circle cx="456.7" cy="125.4" r="2.3" fill="#e8141c"/>
<circle cx="458.3" cy="123.4" r="2.3" fill="#e8141c"/>
<circle cx="459.8" cy="121.4" r="2.3" fill="#e8141c"/>
<circle cx="461.3" cy="119.4" r="2.3" fill="#e8141c"/>
<circle cx="462.8" cy="117.4" r="2.3" fill="#e8141c"/>
<circle cx="464.4" cy="115.4" r="2.3" fill="#e8141c"/>
<circle cx="465.9" cy="113.4" r="2.3" fill="#e8141c"/>
<circle cx="467.4" cy="111.5" r="2.3" fill="#e8141c"/>
<circle cx="468.9" cy="109.5" r="2.3" fill="#e8141c"/>
<circle cx="470.5" cy="107.5" r="2.3" fill="#e8141c"/>
<circle cx="472.0" cy="105.5" r="2.3" fill="#e8141c"/>
<circle cx="473.5" cy="103.5" r="2.3" fill="#e8141c"/>
<circle cx="475.0" cy="101.5" r="2.3" fill="#e8141c"/>
<circle cx="476.5" cy="99.5" r="2.3" fill="#e8141c"/>
<circle cx="478.1" cy="97.5" r="2.3" fill="#e8141c"/>
<circle cx="479.6" cy="95.5" r="2.3" fill="#e8141c"/>
<circle cx="481.1" cy="93.6" r="2.3" fill="#e8141c"/>
<circle cx="482.6" cy="91.6" r="2.3" fill="#e8141c"/>
<circle cx="484.2" cy="89.6" r="2.3" fill="#e8141c"/>
<circle cx="485.7" cy="87.6" r="2.3" fill="#e8141c"/>
<circle cx="487.2" cy="85.6" r="2.3" fill="#e8141c"/>
<circle cx="488.7" cy="83.6" r="2.3" fill="#e8141c"/>
<circle cx="490.3" cy="81.6" r="2.3" fill="#e8141c"/>
<circle cx="491.8" cy="79.6" r="2.3" fill="#e8141c"/>
<circle cx="493.3" cy="77.7" r="2.3" fill="#e8141c"/>
<circle cx="494.8" cy="75.7" r="2.3" fill="#e8141c"/>
<circle cx="496.3" cy="73.7" r="2.3" fill="#e8141c"/>
<circle cx="497.9" cy="71.7" r="2.3" fill="#e8141c"/>
<circle cx="499.4" cy="69.7" r="2.3" fill="#e8141c"/>
<circle cx="500.9" cy="67.7" r="2.3" fill="#e8141c"/>
<circle cx="502.4" cy="65.7" r="2.3" fill="#e8141c"/>
<circle cx="504.0" cy="63.7" r="2.3" fill="#e8141c"/>
<circle cx="505.5" cy="61.7" r="2.3" fill="#e8141c"/>
<circle cx="507.0" cy="59.8" r="2.3" fill="#e8141c"/>
<circle cx="508.5" cy="57.8" r="2.3" fill="#e8141c"/>
<circle cx="510.1" cy="55.8" r="2.3" fill="#e8141c"/>
<circle cx="511.6" cy="53.8" r="2.3" fill="#e8141c"/>
<circle cx="513.1" cy="51.8" r="2.3" fill="#e8141c"/>
<circle cx="514.6" cy="49.8" r="2.3" fill="#e8141c"/>
<circle cx="516.1" cy="47.8" r="2.3" fill="#e8141c"/>
<circle cx="517.7" cy="45.8" r="2.3" fill="#e8141c"/>
<circle cx="519.2" cy="43.8" r="2.3" fill="#e8141c"/>
<circle cx="520.7" cy="41.9" r="2.3" fill="#e8141c"/>
<circle cx="522.2" cy="39.9" r="2.3" fill="#e8141c"/>
<circle cx="523.8" cy="37.9" r="2.3" fill="#e8141c"/>
<circle cx="525.3" cy="35.9" r="2.3" fill="#e8141c"/>
<circle cx="526.8" cy="33.9" r="2.3" fill="#e8141c"/>
<circle cx="528.3" cy="31.9" r="2.3" fill="#e8141c"/>
<circle cx="529.9" cy="29.9" r="2.3" fill="#e8141c"/>
<circle cx="531.4" cy="27.9" r="2.3" fill="#e8141c"/>
<circle cx="532.9" cy="26.0" r="2.3" fill="#e8141c"/>
<circle cx="534.4" cy="24.0" r="2.3" fill="#e8141c"/>
<circle cx="536.0" cy="22.0" r="2.3" fill="#e8141c"/>
<circle cx="537.5" cy="20.0" r="2.3" fill="#e8141c"/>
<circle cx="539.0" cy="18.0" r="2.3" fill="#e8141c"/>
<line x1="447.6" y1="137.3" x2="539.0" y2="18.0" stroke="#2a1ad0" stroke-width="1.6" stroke-dasharray="2.6,2.6"/>
<rect x="447.6" y="18.0" width="91.39999999999998" height="119.30000000000001" fill="none" stroke="#000" stroke-width="1"/>
<line x1="447.6" y1="18.0" x2="451.6" y2="18.0" stroke="#000" stroke-width="0.9"/>
<line x1="447.6" y1="47.8" x2="451.6" y2="47.8" stroke="#000" stroke-width="0.9"/>
<line x1="447.6" y1="77.7" x2="451.6" y2="77.7" stroke="#000" stroke-width="0.9"/>
<line x1="447.6" y1="107.5" x2="451.6" y2="107.5" stroke="#000" stroke-width="0.9"/>
<line x1="447.6" y1="137.3" x2="451.6" y2="137.3" stroke="#000" stroke-width="0.9"/>
<text x="444.6" y="21.0" font-size="8.5" text-anchor="end" fill="#000" font-weight="normal" font-family='"Liberation Serif", serif' >0</text>
<text x="444.6" y="80.66" font-size="8.5" text-anchor="end" fill="#000" font-weight="normal" font-family='"Liberation Serif", serif' >-20</text>
<text x="444.6" y="140.32" font-size="8.5" text-anchor="end" fill="#000" font-weight="normal" font-family='"Liberation Serif", serif' >-40</text>
<g transform="translate(428.5,79.0) rotate(-90)"><text x="0" y="0" font-size="12.6" text-anchor="middle" fill="#000" font-weight="normal" font-family='"Liberation Serif", serif' textLength="69" lengthAdjust="spacing">E - E<tspan font-size="8.5" dy="3">F</tspan><tspan dy="-3"> (meV)</tspan></text></g>
<line x1="474.6" y1="137.3" x2="474.6" y2="133.3" stroke="#000" stroke-width="0.9"/>
<line x1="506.2" y1="137.3" x2="506.2" y2="133.3" stroke="#000" stroke-width="0.9"/>
<line x1="537.8" y1="137.3" x2="537.8" y2="133.3" stroke="#000" stroke-width="0.9"/>
<text x="505.0" y="146.8" font-size="8.5" text-anchor="middle" fill="#000" font-weight="normal" font-family='"Liberation Serif", serif' >30</text>
<text x="509.6" y="149.3" font-size="7.5" text-anchor="start" fill="#000" font-weight="normal" font-family='"Liberation Serif", serif' >3</text>
<text x="493.3" y="158.10000000000002" font-size="13" text-anchor="middle" fill="#000" font-weight="normal" font-family='"Liberation Serif", serif' textLength="73" lengthAdjust="spacing">k - k<tspan font-size="8.5" dy="3">F</tspan><tspan dy="-3"> (10</tspan><tspan dx="7"> </tspan><tspan font-size="9.5">1/Å)</tspan></text>
<circle cx="483.3" cy="114.2" r="2.6" fill="#e8141c"/>
<line x1="475.1" y1="122.6" x2="492.5" y2="122.6" stroke="#2a1ad0" stroke-width="1.6" stroke-dasharray="3.6,2.6"/>
<text x="496.4" y="116.2" font-size="7.2" text-anchor="start" fill="#000" font-weight="bold" font-family='"Liberation Serif", serif' >Dispersion</text>
<text x="498.8" y="124.6" font-size="7.2" text-anchor="start" fill="#000" font-weight="bold" font-family='"Liberation Serif", serif' >Bare band</text>
<text x="466.8" y="15.8" font-size="9.8" text-anchor="middle" fill="#000" font-weight="normal" font-family='"Liberation Serif", serif' >Γ</text><line x1="464.35" y1="6.0" x2="469.25" y2="6.0" stroke="#000" stroke-width="0.8"/>
<line x1="484.3" y1="11.6" x2="503.5" y2="11.6" stroke="#000" stroke-width="1.0"/><path d="M507.7,11.6 L500.7,9.7 L502.09999999999997,11.6 L500.7,13.5 Z" fill="#000"/>
<text x="528" y="16.1" font-size="9.8" text-anchor="middle" fill="#000" font-weight="normal" font-family='"Liberation Serif", serif' >K</text><line x1="525.55" y1="6.300000000000001" x2="530.45" y2="6.300000000000001" stroke="#000" stroke-width="0.8"/>
<text x="420.3" y="183.3" font-size="19.5" text-anchor="start" fill="#000" font-weight="bold" font-family='"Liberation Sans", sans-serif' >d</text>
<line x1="447.6" y1="294.8" x2="539.0" y2="175.5" stroke="#e8141c" stroke-width="4.2" stroke-linecap="round"/>
<circle cx="447.6" cy="294.8" r="2.3" fill="#e8141c"/>
<circle cx="449.1" cy="292.8" r="2.3" fill="#e8141c"/>
<circle cx="450.6" cy="290.8" r="2.3" fill="#e8141c"/>
<circle cx="452.2" cy="288.8" r="2.3" fill="#e8141c"/>
<circle cx="453.7" cy="286.8" r="2.3" fill="#e8141c"/>
<circle cx="455.2" cy="284.9" r="2.3" fill="#e8141c"/>
<circle cx="456.7" cy="282.9" r="2.3" fill="#e8141c"/>
<circle cx="458.3" cy="280.9" r="2.3" fill="#e8141c"/>
<circle cx="459.8" cy="278.9" r="2.3" fill="#e8141c"/>
<circle cx="461.3" cy="276.9" r="2.3" fill="#e8141c"/>
<circle cx="462.8" cy="274.9" r="2.3" fill="#e8141c"/>
<circle cx="464.4" cy="272.9" r="2.3" fill="#e8141c"/>
<circle cx="465.9" cy="270.9" r="2.3" fill="#e8141c"/>
<circle cx="467.4" cy="269.0" r="2.3" fill="#e8141c"/>
<circle cx="468.9" cy="267.0" r="2.3" fill="#e8141c"/>
<circle cx="470.5" cy="265.0" r="2.3" fill="#e8141c"/>
<circle cx="472.0" cy="263.0" r="2.3" fill="#e8141c"/>
<circle cx="473.5" cy="261.0" r="2.3" fill="#e8141c"/>
<circle cx="475.0" cy="259.0" r="2.3" fill="#e8141c"/>
<circle cx="476.5" cy="257.0" r="2.3" fill="#e8141c"/>
<circle cx="478.1" cy="255.0" r="2.3" fill="#e8141c"/>
<circle cx="479.6" cy="253.0" r="2.3" fill="#e8141c"/>
<circle cx="481.1" cy="251.1" r="2.3" fill="#e8141c"/>
<circle cx="482.6" cy="249.1" r="2.3" fill="#e8141c"/>
<circle cx="484.2" cy="247.1" r="2.3" fill="#e8141c"/>
<circle cx="485.7" cy="245.1" r="2.3" fill="#e8141c"/>
<circle cx="487.2" cy="243.1" r="2.3" fill="#e8141c"/>
<circle cx="488.7" cy="241.1" r="2.3" fill="#e8141c"/>
<circle cx="490.3" cy="239.1" r="2.3" fill="#e8141c"/>
<circle cx="491.8" cy="237.1" r="2.3" fill="#e8141c"/>
<circle cx="493.3" cy="235.2" r="2.3" fill="#e8141c"/>
<circle cx="494.8" cy="233.2" r="2.3" fill="#e8141c"/>
<circle cx="496.3" cy="231.2" r="2.3" fill="#e8141c"/>
<circle cx="497.9" cy="229.2" r="2.3" fill="#e8141c"/>
<circle cx="499.4" cy="227.2" r="2.3" fill="#e8141c"/>
<circle cx="500.9" cy="225.2" r="2.3" fill="#e8141c"/>
<circle cx="502.4" cy="223.2" r="2.3" fill="#e8141c"/>
<circle cx="504.0" cy="221.2" r="2.3" fill="#e8141c"/>
<circle cx="505.5" cy="219.2" r="2.3" fill="#e8141c"/>
<circle cx="507.0" cy="217.3" r="2.3" fill="#e8141c"/>
<circle cx="508.5" cy="215.3" r="2.3" fill="#e8141c"/>
<circle cx="510.1" cy="213.3" r="2.3" fill="#e8141c"/>
<circle cx="511.6" cy="211.3" r="2.3" fill="#e8141c"/>
<circle cx="513.1" cy="209.3" r="2.3" fill="#e8141c"/>
<circle cx="514.6" cy="207.3" r="2.3" fill="#e8141c"/>
<circle cx="516.1" cy="205.3" r="2.3" fill="#e8141c"/>
<circle cx="517.7" cy="203.3" r="2.3" fill="#e8141c"/>
<circle cx="519.2" cy="201.3" r="2.3" fill="#e8141c"/>
<circle cx="520.7" cy="199.4" r="2.3" fill="#e8141c"/>
<circle cx="522.2" cy="197.4" r="2.3" fill="#e8141c"/>
<circle cx="523.8" cy="195.4" r="2.3" fill="#e8141c"/>
<circle cx="525.3" cy="193.4" r="2.3" fill="#e8141c"/>
<circle cx="526.8" cy="191.4" r="2.3" fill="#e8141c"/>
<circle cx="528.3" cy="189.4" r="2.3" fill="#e8141c"/>
<circle cx="529.9" cy="187.4" r="2.3" fill="#e8141c"/>
<circle cx="531.4" cy="185.4" r="2.3" fill="#e8141c"/>
<circle cx="532.9" cy="183.5" r="2.3" fill="#e8141c"/>
<circle cx="534.4" cy="181.5" r="2.3" fill="#e8141c"/>
<circle cx="536.0" cy="179.5" r="2.3" fill="#e8141c"/>
<circle cx="537.5" cy="177.5" r="2.3" fill="#e8141c"/>
<circle cx="539.0" cy="175.5" r="2.3" fill="#e8141c"/>
<line x1="447.0" y1="294.2" x2="538.4" y2="174.9" stroke="#2a1ad0" stroke-width="1.6" stroke-dasharray="2.6,2.6"/>
<rect x="447.6" y="175.5" width="91.39999999999998" height="119.30000000000001" fill="none" stroke="#555" stroke-width="1"/>
<line x1="447.6" y1="175.5" x2="451.6" y2="175.5" stroke="#555" stroke-width="0.9"/>
<line x1="447.6" y1="205.3" x2="451.6" y2="205.3" stroke="#555" stroke-width="0.9"/>
<line x1="447.6" y1="235.2" x2="451.6" y2="235.2" stroke="#555" stroke-width="0.9"/>
<line x1="447.6" y1="265.0" x2="451.6" y2="265.0" stroke="#555" stroke-width="0.9"/>
<line x1="447.6" y1="294.8" x2="451.6" y2="294.8" stroke="#555" stroke-width="0.9"/>
<text x="444.6" y="178.5" font-size="8.5" text-anchor="end" fill="#000" font-weight="normal" font-family='"Liberation Serif", serif' >0</text>
<text x="444.6" y="238.16" font-size="8.5" text-anchor="end" fill="#000" font-weight="normal" font-family='"Liberation Serif", serif' >-20</text>
<text x="444.6" y="297.82" font-size="8.5" text-anchor="end" fill="#000" font-weight="normal" font-family='"Liberation Serif", serif' >-40</text>
<g transform="translate(428.5,236.5) rotate(-90)"><text x="0" y="0" font-size="12.6" text-anchor="middle" fill="#000" font-weight="normal" font-family='"Liberation Serif", serif' textLength="69" lengthAdjust="spacing">E - E<tspan font-size="8.5" dy="3">F</tspan><tspan dy="-3"> (meV)</tspan></text></g>
<line x1="468.4" y1="294.8" x2="468.4" y2="290.8" stroke="#555" stroke-width="0.9"/>
<line x1="501.3" y1="294.8" x2="501.3" y2="290.8" stroke="#555" stroke-width="0.9"/>
<line x1="534" y1="294.8" x2="534" y2="290.8" stroke="#555" stroke-width="0.9"/>
<text x="468.4" y="304.6" font-size="8.5" text-anchor="middle" fill="#000" font-weight="normal" font-family='"Liberation Serif", serif' >30</text>
<text x="534" y="304.6" font-size="8.5" text-anchor="middle" fill="#000" font-weight="normal" font-family='"Liberation Serif", serif' >40</text>
<text x="493.5" y="319.8" font-size="13" text-anchor="middle" fill="#000" font-weight="normal" font-family='"Liberation Serif", serif' >k - k<tspan font-size="8.5" dy="3">F</tspan><tspan dy="-3"> (10</tspan><tspan font-size="8" dy="-5">-3</tspan><tspan dy="5" font-size="9.5"> 1/Å)</tspan></text>
<text x="465.7" y="175.5" font-size="9.8" text-anchor="middle" fill="#000" font-weight="normal" font-family='"Liberation Serif", serif' >Γ</text><line x1="463.25" y1="165.7" x2="468.15" y2="165.7" stroke="#000" stroke-width="0.8"/>
<line x1="484.3" y1="170.3" x2="504.8" y2="170.3" stroke="#000" stroke-width="1.0"/><path d="M509,170.3 L502,168.4 L503.4,170.3 L502,172.20000000000002 Z" fill="#000"/>
<text x="529.6" y="174.5" font-size="9.8" text-anchor="middle" fill="#000" font-weight="normal" font-family='"Liberation Serif", serif' >M</text><line x1="527.15" y1="164.7" x2="532.0500000000001" y2="164.7" stroke="#000" stroke-width="0.8"/>
<line x1="564.4" y1="126.3" x2="568.4" y2="126.3" stroke="#000" stroke-width="0.9"/>
<line x1="564.4" y1="104.7" x2="568.4" y2="104.7" stroke="#000" stroke-width="0.9"/>
<line x1="564.4" y1="83.2" x2="568.4" y2="83.2" stroke="#000" stroke-width="0.9"/>
<line x1="564.4" y1="61.6" x2="568.4" y2="61.6" stroke="#000" stroke-width="0.9"/>
<line x1="564.4" y1="40.1" x2="568.4" y2="40.1" stroke="#000" stroke-width="0.9"/>
<line x1="564.4" y1="18.5" x2="568.4" y2="18.5" stroke="#000" stroke-width="0.9"/>
<text x="560.9" y="129.3" font-size="8.5" text-anchor="end" fill="#000" font-weight="normal" font-family='"Liberation Serif", serif' >0</text>
<text x="560.9" y="21.5" font-size="8.5" text-anchor="end" fill="#000" font-weight="normal" font-family='"Liberation Serif", serif' >5</text>
<line x1="652.3" y1="137.3" x2="657.8" y2="137.3" stroke="#000" stroke-width="0.9"/>
<text x="658.8" y="140.3" font-size="8.5" text-anchor="start" fill="#000" font-weight="normal" font-family='"Liberation Serif", serif' >0</text>
<line x1="652.3" y1="87.6" x2="657.8" y2="87.6" stroke="#000" stroke-width="0.9"/>
<text x="658.8" y="90.55000000000001" font-size="8.5" text-anchor="start" fill="#000" font-weight="normal" font-family='"Liberation Serif", serif' >5</text>
<line x1="652.3" y1="37.8" x2="657.8" y2="37.8" stroke="#000" stroke-width="0.9"/>
<text x="658.8" y="40.8" font-size="8.5" text-anchor="start" fill="#000" font-weight="normal" font-family='"Liberation Serif", serif' >10</text>
<line x1="564.4" y1="137.3" x2="564.4" y2="133.3" stroke="#000" stroke-width="0.9"/>
<line x1="587.4" y1="137.3" x2="587.4" y2="133.3" stroke="#000" stroke-width="0.9"/>
<line x1="610.3" y1="137.3" x2="610.3" y2="133.3" stroke="#000" stroke-width="0.9"/>
<line x1="633.3" y1="137.3" x2="633.3" y2="133.3" stroke="#000" stroke-width="0.9"/>
<line x1="656.3" y1="137.3" x2="656.3" y2="133.3" stroke="#000" stroke-width="0.9"/>
<text x="564.4" y="146.60000000000002" font-size="8.5" text-anchor="middle" fill="#000" font-weight="normal" font-family='"Liberation Serif", serif' >-40</text>
<text x="610.3499999999999" y="146.60000000000002" font-size="8.5" text-anchor="middle" fill="#000" font-weight="normal" font-family='"Liberation Serif", serif' >-20</text>
<text x="656.3" y="146.60000000000002" font-size="8.5" text-anchor="middle" fill="#000" font-weight="normal" font-family='"Liberation Serif", serif' >0</text>
<text x="610.5" y="158.3" font-size="13" text-anchor="middle" fill="#000" font-weight="normal" font-family='"Liberation Serif", serif' >E - E<tspan font-size="8.5" dy="3">F</tspan><tspan dy="-3"> (meV)</tspan></text>
<line x1="564.4" y1="126.3" x2="656.3" y2="126.3" stroke="#000" stroke-width="1.5" stroke-dasharray="4,3"/>
<g transform="translate(556.3,77.1) rotate(-90)"><text x="0" y="0" font-size="8.9" text-anchor="middle" fill="#000" font-weight="bold" font-family='"Liberation Serif", serif' >Effective ReΣ (meV)</text></g>
<g transform="translate(677.8,77.9) rotate(-90)"><text x="0" y="0" font-size="10.5" text-anchor="middle" fill="#1a1acc" font-weight="bold" font-family='"Liberation Serif", serif' >ImΣ (meV)</text></g>
<rect x="562.5" y="29.0" width="4.0" height="4.0" fill="none" stroke="#2a2ae0" stroke-width="1.0"/>
<rect x="564.0" y="32.1" width="4.0" height="4.0" fill="none" stroke="#2a2ae0" stroke-width="1.0"/>
<rect x="565.4" y="31.3" width="4.0" height="4.0" fill="none" stroke="#2a2ae0" stroke-width="1.0"/>
<rect x="566.9" y="31.3" width="4.0" height="4.0" fill="none" stroke="#2a2ae0" stroke-width="1.0"/>
<rect x="568.3" y="33.4" width="4.0" height="4.0" fill="none" stroke="#2a2ae0" stroke-width="1.0"/>
<rect x="569.8" y="32.8" width="4.0" height="4.0" fill="none" stroke="#2a2ae0" stroke-width="1.0"/>
<rect x="571.2" y="31.1" width="4.0" height="4.0" fill="none" stroke="#2a2ae0" stroke-width="1.0"/>
<rect x="572.7" y="30.7" width="4.0" height="4.0" fill="none" stroke="#2a2ae0" stroke-width="1.0"/>
<rect x="574.1" y="30.4" width="4.0" height="4.0" fill="none" stroke="#2a2ae0" stroke-width="1.0"/>
<rect x="575.6" y="31.5" width="4.0" height="4.0" fill="none" stroke="#2a2ae0" stroke-width="1.0"/>
<rect x="577.0" y="31.2" width="4.0" height="4.0" fill="none" stroke="#2a2ae0" stroke-width="1.0"/>
<rect x="578.5" y="32.5" width="4.0" height="4.0" fill="none" stroke="#2a2ae0" stroke-width="1.0"/>
<rect x="579.9" y="35.8" width="4.0" height="4.0" fill="none" stroke="#2a2ae0" stroke-width="1.0"/>
<rect x="581.4" y="35.9" width="4.0" height="4.0" fill="none" stroke="#2a2ae0" stroke-width="1.0"/>
<rect x="582.8" y="40.9" width="4.0" height="4.0" fill="none" stroke="#2a2ae0" stroke-width="1.0"/>
<rect x="584.3" y="41.6" width="4.0" height="4.0" fill="none" stroke="#2a2ae0" stroke-width="1.0"/>
<rect x="585.7" y="42.1" width="4.0" height="4.0" fill="none" stroke="#2a2ae0" stroke-width="1.0"/>
<rect x="587.2" y="40.5" width="4.0" height="4.0" fill="none" stroke="#2a2ae0" stroke-width="1.0"/>
<rect x="588.6" y="42.7" width="4.0" height="4.0" fill="none" stroke="#2a2ae0" stroke-width="1.0"/>
<rect x="590.1" y="45.1" width="4.0" height="4.0" fill="none" stroke="#2a2ae0" stroke-width="1.0"/>
<rect x="591.5" y="43.3" width="4.0" height="4.0" fill="none" stroke="#2a2ae0" stroke-width="1.0"/>
<rect x="593.0" y="45.8" width="4.0" height="4.0" fill="none" stroke="#2a2ae0" stroke-width="1.0"/>
<rect x="594.4" y="47.7" width="4.0" height="4.0" fill="none" stroke="#2a2ae0" stroke-width="1.0"/>
<rect x="595.9" y="46.1" width="4.0" height="4.0" fill="none" stroke="#2a2ae0" stroke-width="1.0"/>
<rect x="597.3" y="49.8" width="4.0" height="4.0" fill="none" stroke="#2a2ae0" stroke-width="1.0"/>
<rect x="598.8" y="49.4" width="4.0" height="4.0" fill="none" stroke="#2a2ae0" stroke-width="1.0"/>
<rect x="600.2" y="49.4" width="4.0" height="4.0" fill="none" stroke="#2a2ae0" stroke-width="1.0"/>
<rect x="601.7" y="50.5" width="4.0" height="4.0" fill="none" stroke="#2a2ae0" stroke-width="1.0"/>
<rect x="603.1" y="51.5" width="4.0" height="4.0" fill="none" stroke="#2a2ae0" stroke-width="1.0"/>
<rect x="604.6" y="52.1" width="4.0" height="4.0" fill="none" stroke="#2a2ae0" stroke-width="1.0"/>
<rect x="606.0" y="54.2" width="4.0" height="4.0" fill="none" stroke="#2a2ae0" stroke-width="1.0"/>
<rect x="607.5" y="53.4" width="4.0" height="4.0" fill="none" stroke="#2a2ae0" stroke-width="1.0"/>
<rect x="608.9" y="54.9" width="4.0" height="4.0" fill="none" stroke="#2a2ae0" stroke-width="1.0"/>
<rect x="610.4" y="57.7" width="4.0" height="4.0" fill="none" stroke="#2a2ae0" stroke-width="1.0"/>
<rect x="611.8" y="57.9" width="4.0" height="4.0" fill="none" stroke="#2a2ae0" stroke-width="1.0"/>
<rect x="613.3" y="58.3" width="4.0" height="4.0" fill="none" stroke="#2a2ae0" stroke-width="1.0"/>
<rect x="614.7" y="61.3" width="4.0" height="4.0" fill="none" stroke="#2a2ae0" stroke-width="1.0"/>
<rect x="616.2" y="63.0" width="4.0" height="4.0" fill="none" stroke="#2a2ae0" stroke-width="1.0"/>
<rect x="617.6" y="62.2" width="4.0" height="4.0" fill="none" stroke="#2a2ae0" stroke-width="1.0"/>
<rect x="619.1" y="62.1" width="4.0" height="4.0" fill="none" stroke="#2a2ae0" stroke-width="1.0"/>
<rect x="620.5" y="64.1" width="4.0" height="4.0" fill="none" stroke="#2a2ae0" stroke-width="1.0"/>
<rect x="622.0" y="64.8" width="4.0" height="4.0" fill="none" stroke="#2a2ae0" stroke-width="1.0"/>
<rect x="623.4" y="65.4" width="4.0" height="4.0" fill="none" stroke="#2a2ae0" stroke-width="1.0"/>
<rect x="624.9" y="67.8" width="4.0" height="4.0" fill="none" stroke="#2a2ae0" stroke-width="1.0"/>
<rect x="626.3" y="66.1" width="4.0" height="4.0" fill="none" stroke="#2a2ae0" stroke-width="1.0"/>
<rect x="627.8" y="69.1" width="4.0" height="4.0" fill="none" stroke="#2a2ae0" stroke-width="1.0"/>
<rect x="629.2" y="67.3" width="4.0" height="4.0" fill="none" stroke="#2a2ae0" stroke-width="1.0"/>
<rect x="630.7" y="68.4" width="4.0" height="4.0" fill="none" stroke="#2a2ae0" stroke-width="1.0"/>
<rect x="632.1" y="70.5" width="4.0" height="4.0" fill="none" stroke="#2a2ae0" stroke-width="1.0"/>
<rect x="633.6" y="71.7" width="4.0" height="4.0" fill="none" stroke="#2a2ae0" stroke-width="1.0"/>
<rect x="635.0" y="72.2" width="4.0" height="4.0" fill="none" stroke="#2a2ae0" stroke-width="1.0"/>
<rect x="636.5" y="72.5" width="4.0" height="4.0" fill="none" stroke="#2a2ae0" stroke-width="1.0"/>
<rect x="637.9" y="73.1" width="4.0" height="4.0" fill="none" stroke="#2a2ae0" stroke-width="1.0"/>
<rect x="639.4" y="73.7" width="4.0" height="4.0" fill="none" stroke="#2a2ae0" stroke-width="1.0"/>
<rect x="640.8" y="74.8" width="4.0" height="4.0" fill="none" stroke="#2a2ae0" stroke-width="1.0"/>
<rect x="642.3" y="74.7" width="4.0" height="4.0" fill="none" stroke="#2a2ae0" stroke-width="1.0"/>
<rect x="643.7" y="75.8" width="4.0" height="4.0" fill="none" stroke="#2a2ae0" stroke-width="1.0"/>
<rect x="645.2" y="76.8" width="4.0" height="4.0" fill="none" stroke="#2a2ae0" stroke-width="1.0"/>
<rect x="646.6" y="76.9" width="4.0" height="4.0" fill="none" stroke="#2a2ae0" stroke-width="1.0"/>
<rect x="648.1" y="78.3" width="4.0" height="4.0" fill="none" stroke="#2a2ae0" stroke-width="1.0"/>
<rect x="649.5" y="78.8" width="4.0" height="4.0" fill="none" stroke="#2a2ae0" stroke-width="1.0"/>
<rect x="651.0" y="81.0" width="4.0" height="4.0" fill="none" stroke="#2a2ae0" stroke-width="1.0"/>
<rect x="652.4" y="80.0" width="4.0" height="4.0" fill="none" stroke="#2a2ae0" stroke-width="1.0"/>
<rect x="653.9" y="79.6" width="4.0" height="4.0" fill="none" stroke="#2a2ae0" stroke-width="1.0"/>
<circle cx="565.5" cy="114.3" r="1.95" fill="none" stroke="#000" stroke-width="0.7"/>
<circle cx="567.4" cy="113.0" r="1.95" fill="none" stroke="#000" stroke-width="0.7"/>
<circle cx="569.2" cy="113.2" r="1.95" fill="none" stroke="#000" stroke-width="0.7"/>
<circle cx="571.1" cy="114.2" r="1.95" fill="none" stroke="#000" stroke-width="0.7"/>
<circle cx="572.9" cy="113.9" r="1.95" fill="none" stroke="#000" stroke-width="0.7"/>
<circle cx="574.8" cy="113.8" r="1.95" fill="none" stroke="#000" stroke-width="0.7"/>
<circle cx="576.6" cy="114.9" r="1.95" fill="none" stroke="#000" stroke-width="0.7"/>
<circle cx="578.5" cy="127.1" r="1.95" fill="none" stroke="#000" stroke-width="0.7"/>
<circle cx="580.3" cy="127.0" r="1.95" fill="none" stroke="#000" stroke-width="0.7"/>
<circle cx="582.2" cy="123.8" r="1.95" fill="none" stroke="#000" stroke-width="0.7"/>
<circle cx="584.0" cy="123.7" r="1.95" fill="none" stroke="#000" stroke-width="0.7"/>
<circle cx="585.9" cy="128.9" r="1.95" fill="none" stroke="#000" stroke-width="0.7"/>
<circle cx="587.7" cy="129.4" r="1.95" fill="none" stroke="#000" stroke-width="0.7"/>
<circle cx="589.6" cy="128.7" r="1.95" fill="none" stroke="#000" stroke-width="0.7"/>
<circle cx="591.4" cy="130.0" r="1.95" fill="none" stroke="#000" stroke-width="0.7"/>
<circle cx="593.3" cy="131.6" r="1.95" fill="none" stroke="#000" stroke-width="0.7"/>
<circle cx="595.1" cy="127.1" r="1.95" fill="none" stroke="#000" stroke-width="0.7"/>
<circle cx="597.0" cy="128.1" r="1.95" fill="none" stroke="#000" stroke-width="0.7"/>
<circle cx="598.8" cy="125.4" r="1.95" fill="none" stroke="#000" stroke-width="0.7"/>
<circle cx="600.7" cy="131.4" r="1.95" fill="none" stroke="#000" stroke-width="0.7"/>
<circle cx="602.5" cy="133.1" r="1.95" fill="none" stroke="#000" stroke-width="0.7"/>
<circle cx="604.4" cy="131.2" r="1.95" fill="none" stroke="#000" stroke-width="0.7"/>
<circle cx="606.2" cy="131.1" r="1.95" fill="none" stroke="#000" stroke-width="0.7"/>
<circle cx="608.1" cy="128.1" r="1.95" fill="none" stroke="#000" stroke-width="0.7"/>
<circle cx="609.9" cy="125.1" r="1.95" fill="none" stroke="#000" stroke-width="0.7"/>
<circle cx="611.8" cy="126.7" r="1.95" fill="none" stroke="#000" stroke-width="0.7"/>
<circle cx="613.6" cy="126.9" r="1.95" fill="none" stroke="#000" stroke-width="0.7"/>
<circle cx="615.5" cy="124.1" r="1.95" fill="none" stroke="#000" stroke-width="0.7"/>
<circle cx="617.3" cy="126.4" r="1.95" fill="none" stroke="#000" stroke-width="0.7"/>
<circle cx="619.2" cy="128.3" r="1.95" fill="none" stroke="#000" stroke-width="0.7"/>
<circle cx="621.0" cy="119.2" r="1.95" fill="none" stroke="#000" stroke-width="0.7"/>
<circle cx="622.9" cy="118.0" r="1.95" fill="none" stroke="#000" stroke-width="0.7"/>
<circle cx="624.7" cy="118.2" r="1.95" fill="none" stroke="#000" stroke-width="0.7"/>
<circle cx="626.6" cy="118.7" r="1.95" fill="none" stroke="#000" stroke-width="0.7"/>
<circle cx="628.4" cy="119.1" r="1.95" fill="none" stroke="#000" stroke-width="0.7"/>
<circle cx="630.3" cy="119.1" r="1.95" fill="none" stroke="#000" stroke-width="0.7"/>
<circle cx="632.1" cy="117.7" r="1.95" fill="none" stroke="#000" stroke-width="0.7"/>
<circle cx="634.0" cy="119.2" r="1.95" fill="none" stroke="#000" stroke-width="0.7"/>
<circle cx="635.8" cy="125.6" r="1.95" fill="none" stroke="#000" stroke-width="0.7"/>
<circle cx="637.7" cy="124.4" r="1.95" fill="none" stroke="#000" stroke-width="0.7"/>
<circle cx="639.5" cy="124.8" r="1.95" fill="none" stroke="#000" stroke-width="0.7"/>
<circle cx="641.4" cy="125.5" r="1.95" fill="none" stroke="#000" stroke-width="0.7"/>
<circle cx="643.2" cy="128.2" r="1.95" fill="none" stroke="#000" stroke-width="0.7"/>
<circle cx="645.1" cy="123.3" r="1.95" fill="none" stroke="#000" stroke-width="0.7"/>
<circle cx="646.9" cy="124.1" r="1.95" fill="none" stroke="#000" stroke-width="0.7"/>
<circle cx="648.8" cy="126.7" r="1.95" fill="none" stroke="#000" stroke-width="0.7"/>
<circle cx="650.6" cy="128.5" r="1.95" fill="none" stroke="#000" stroke-width="0.7"/>
<circle cx="652.5" cy="127.2" r="1.95" fill="none" stroke="#000" stroke-width="0.7"/>
<circle cx="654.3" cy="123.5" r="1.95" fill="none" stroke="#000" stroke-width="0.7"/>
<circle cx="565.8" cy="121.9" r="1.95" fill="none" stroke="#000" stroke-width="0.7"/>
<circle cx="579.0" cy="119.7" r="1.95" fill="none" stroke="#000" stroke-width="0.7"/>
<circle cx="603.0" cy="128.0" r="1.95" fill="none" stroke="#000" stroke-width="0.7"/>
<circle cx="606.0" cy="134.0" r="1.95" fill="none" stroke="#000" stroke-width="0.7"/>
<circle cx="604.0" cy="123.5" r="1.95" fill="none" stroke="#000" stroke-width="0.7"/>
<circle cx="590.0" cy="124.0" r="1.95" fill="none" stroke="#000" stroke-width="0.7"/>
<circle cx="612.0" cy="124.0" r="1.95" fill="none" stroke="#000" stroke-width="0.7"/>
<rect x="564.4" y="18.5" width="91.89999999999998" height="118.80000000000001" fill="none" stroke="#000" stroke-width="1"/>
<text x="582.4" y="15.7" font-size="9.8" text-anchor="middle" fill="#000" font-weight="normal" font-family='"Liberation Serif", serif' >Γ</text><line x1="579.9499999999999" y1="5.899999999999999" x2="584.85" y2="5.899999999999999" stroke="#000" stroke-width="0.8"/>
<line x1="607" y1="11.5" x2="627.4" y2="11.5" stroke="#000" stroke-width="1.0"/><path d="M631.6,11.5 L624.6,9.6 L626.0,11.5 L624.6,13.4 Z" fill="#000"/>
<text x="645.3" y="16.0" font-size="9.8" text-anchor="middle" fill="#000" font-weight="normal" font-family='"Liberation Serif", serif' >K</text><line x1="642.8499999999999" y1="6.199999999999999" x2="647.75" y2="6.199999999999999" stroke="#000" stroke-width="0.8"/>
<line x1="564.4" y1="283.5" x2="568.4" y2="283.5" stroke="#444" stroke-width="0.9"/>
<line x1="564.4" y1="272.7" x2="566.9" y2="272.7" stroke="#444" stroke-width="0.9"/>
<line x1="564.4" y1="261.9" x2="568.4" y2="261.9" stroke="#444" stroke-width="0.9"/>
<line x1="564.4" y1="251.1" x2="566.9" y2="251.1" stroke="#444" stroke-width="0.9"/>
<line x1="564.4" y1="240.3" x2="568.4" y2="240.3" stroke="#444" stroke-width="0.9"/>
<line x1="564.4" y1="229.5" x2="566.9" y2="229.5" stroke="#444" stroke-width="0.9"/>
<line x1="564.4" y1="218.7" x2="568.4" y2="218.7" stroke="#444" stroke-width="0.9"/>
<line x1="564.4" y1="207.9" x2="566.9" y2="207.9" stroke="#444" stroke-width="0.9"/>
<line x1="564.4" y1="197.1" x2="568.4" y2="197.1" stroke="#444" stroke-width="0.9"/>
<line x1="564.4" y1="186.3" x2="566.9" y2="186.3" stroke="#444" stroke-width="0.9"/>
<line x1="564.4" y1="175.5" x2="568.4" y2="175.5" stroke="#444" stroke-width="0.9"/>
<text x="560.9" y="286.5" font-size="8.5" text-anchor="end" fill="#000" font-weight="normal" font-family='"Liberation Serif", serif' >0</text>
<text x="560.9" y="264.9" font-size="8.5" text-anchor="end" fill="#000" font-weight="normal" font-family='"Liberation Serif", serif' >1</text>
<text x="560.9" y="243.3" font-size="8.5" text-anchor="end" fill="#000" font-weight="normal" font-family='"Liberation Serif", serif' >2</text>
<text x="560.9" y="221.7" font-size="8.5" text-anchor="end" fill="#000" font-weight="normal" font-family='"Liberation Serif", serif' >3</text>
<text x="560.9" y="200.1" font-size="8.5" text-anchor="end" fill="#000" font-weight="normal" font-family='"Liberation Serif", serif' >4</text>
<text x="560.9" y="178.5" font-size="8.5" text-anchor="end" fill="#000" font-weight="normal" font-family='"Liberation Serif", serif' >5</text>
<line x1="652.3" y1="294.3" x2="657.8" y2="294.3" stroke="#444" stroke-width="0.9"/>
<text x="658.8" y="297.3" font-size="8.5" text-anchor="start" fill="#000" font-weight="normal" font-family='"Liberation Serif", serif' >0</text>
<line x1="652.3" y1="246.8" x2="657.8" y2="246.8" stroke="#444" stroke-width="0.9"/>
<text x="658.8" y="249.75" font-size="8.5" text-anchor="start" fill="#000" font-weight="normal" font-family='"Liberation Serif", serif' >10</text>
<line x1="652.3" y1="199.2" x2="657.8" y2="199.2" stroke="#444" stroke-width="0.9"/>
<text x="658.8" y="202.2" font-size="8.5" text-anchor="start" fill="#000" font-weight="normal" font-family='"Liberation Serif", serif' >20</text>
<line x1="564.4" y1="294.3" x2="564.4" y2="290.3" stroke="#444" stroke-width="0.9"/>
<line x1="587.4" y1="294.3" x2="587.4" y2="290.3" stroke="#444" stroke-width="0.9"/>
<line x1="610.3" y1="294.3" x2="610.3" y2="290.3" stroke="#444" stroke-width="0.9"/>
<line x1="633.3" y1="294.3" x2="633.3" y2="290.3" stroke="#444" stroke-width="0.9"/>
<line x1="656.3" y1="294.3" x2="656.3" y2="290.3" stroke="#444" stroke-width="0.9"/>
<text x="564.4" y="303.6" font-size="8.5" text-anchor="middle" fill="#000" font-weight="normal" font-family='"Liberation Serif", serif' >-40</text>
<text x="610.3499999999999" y="303.6" font-size="8.5" text-anchor="middle" fill="#000" font-weight="normal" font-family='"Liberation Serif", serif' >-20</text>
<text x="656.3" y="303.6" font-size="8.5" text-anchor="middle" fill="#000" font-weight="normal" font-family='"Liberation Serif", serif' >0</text>
<text x="610.5" y="315.3" font-size="13" text-anchor="middle" fill="#000" font-weight="normal" font-family='"Liberation Serif", serif' >E - E<tspan font-size="8.5" dy="3">F</tspan><tspan dy="-3"> (meV)</tspan></text>
<line x1="564.4" y1="283.5" x2="656.3" y2="283.5" stroke="#000" stroke-width="1.5" stroke-dasharray="4,3"/>
<g transform="translate(556.3,234.1) rotate(-90)"><text x="0" y="0" font-size="8.9" text-anchor="middle" fill="#000" font-weight="bold" font-family='"Liberation Serif", serif' >Effective ReΣ (meV)</text></g>
<g transform="translate(677.8,234.9) rotate(-90)"><text x="0" y="0" font-size="10.5" text-anchor="middle" fill="#1a1acc" font-weight="bold" font-family='"Liberation Serif", serif' >ImΣ (meV)</text></g>
<rect x="562.5" y="199.0" width="4.0" height="4.0" fill="none" stroke="#2a2ae0" stroke-width="1.0"/>
<rect x="564.0" y="200.4" width="4.0" height="4.0" fill="none" stroke="#2a2ae0" stroke-width="1.0"/>
<rect x="565.4" y="200.0" width="4.0" height="4.0" fill="none" stroke="#2a2ae0" stroke-width="1.0"/>
<rect x="566.9" y="201.2" width="4.0" height="4.0" fill="none" stroke="#2a2ae0" stroke-width="1.0"/>
<rect x="568.3" y="200.0" width="4.0" height="4.0" fill="none" stroke="#2a2ae0" stroke-width="1.0"/>
<rect x="569.8" y="202.1" width="4.0" height="4.0" fill="none" stroke="#2a2ae0" stroke-width="1.0"/>
<rect x="571.2" y="201.5" width="4.0" height="4.0" fill="none" stroke="#2a2ae0" stroke-width="1.0"/>
<rect x="572.7" y="203.4" width="4.0" height="4.0" fill="none" stroke="#2a2ae0" stroke-width="1.0"/>
<rect x="574.1" y="202.7" width="4.0" height="4.0" fill="none" stroke="#2a2ae0" stroke-width="1.0"/>
<rect x="575.6" y="202.0" width="4.0" height="4.0" fill="none" stroke="#2a2ae0" stroke-width="1.0"/>
<rect x="577.0" y="200.9" width="4.0" height="4.0" fill="none" stroke="#2a2ae0" stroke-width="1.0"/>
<rect x="578.5" y="202.2" width="4.0" height="4.0" fill="none" stroke="#2a2ae0" stroke-width="1.0"/>
<rect x="579.9" y="201.8" width="4.0" height="4.0" fill="none" stroke="#2a2ae0" stroke-width="1.0"/>
<rect x="581.4" y="202.8" width="4.0" height="4.0" fill="none" stroke="#2a2ae0" stroke-width="1.0"/>
<rect x="582.8" y="200.6" width="4.0" height="4.0" fill="none" stroke="#2a2ae0" stroke-width="1.0"/>
<rect x="584.3" y="201.9" width="4.0" height="4.0" fill="none" stroke="#2a2ae0" stroke-width="1.0"/>
<rect x="585.7" y="202.2" width="4.0" height="4.0" fill="none" stroke="#2a2ae0" stroke-width="1.0"/>
<rect x="587.2" y="202.4" width="4.0" height="4.0" fill="none" stroke="#2a2ae0" stroke-width="1.0"/>
<rect x="588.6" y="202.5" width="4.0" height="4.0" fill="none" stroke="#2a2ae0" stroke-width="1.0"/>
<rect x="590.1" y="202.6" width="4.0" height="4.0" fill="none" stroke="#2a2ae0" stroke-width="1.0"/>
<rect x="591.5" y="201.8" width="4.0" height="4.0" fill="none" stroke="#2a2ae0" stroke-width="1.0"/>
<rect x="593.0" y="201.5" width="4.0" height="4.0" fill="none" stroke="#2a2ae0" stroke-width="1.0"/>
<rect x="594.4" y="202.2" width="4.0" height="4.0" fill="none" stroke="#2a2ae0" stroke-width="1.0"/>
<rect x="595.9" y="203.3" width="4.0" height="4.0" fill="none" stroke="#2a2ae0" stroke-width="1.0"/>
<rect x="597.3" y="204.3" width="4.0" height="4.0" fill="none" stroke="#2a2ae0" stroke-width="1.0"/>
<rect x="598.8" y="204.0" width="4.0" height="4.0" fill="none" stroke="#2a2ae0" stroke-width="1.0"/>
<rect x="600.2" y="204.4" width="4.0" height="4.0" fill="none" stroke="#2a2ae0" stroke-width="1.0"/>
<rect x="601.7" y="204.5" width="4.0" height="4.0" fill="none" stroke="#2a2ae0" stroke-width="1.0"/>
<rect x="603.1" y="204.7" width="4.0" height="4.0" fill="none" stroke="#2a2ae0" stroke-width="1.0"/>
<rect x="604.6" y="204.8" width="4.0" height="4.0" fill="none" stroke="#2a2ae0" stroke-width="1.0"/>
<rect x="606.0" y="206.0" width="4.0" height="4.0" fill="none" stroke="#2a2ae0" stroke-width="1.0"/>
<rect x="607.5" y="207.6" width="4.0" height="4.0" fill="none" stroke="#2a2ae0" stroke-width="1.0"/>
<rect x="608.9" y="205.9" width="4.0" height="4.0" fill="none" stroke="#2a2ae0" stroke-width="1.0"/>
<rect x="610.4" y="205.8" width="4.0" height="4.0" fill="none" stroke="#2a2ae0" stroke-width="1.0"/>
<rect x="611.8" y="208.7" width="4.0" height="4.0" fill="none" stroke="#2a2ae0" stroke-width="1.0"/>
<rect x="613.3" y="207.3" width="4.0" height="4.0" fill="none" stroke="#2a2ae0" stroke-width="1.0"/>
<rect x="614.7" y="208.3" width="4.0" height="4.0" fill="none" stroke="#2a2ae0" stroke-width="1.0"/>
<rect x="616.2" y="208.5" width="4.0" height="4.0" fill="none" stroke="#2a2ae0" stroke-width="1.0"/>
<rect x="617.6" y="206.8" width="4.0" height="4.0" fill="none" stroke="#2a2ae0" stroke-width="1.0"/>
<rect x="619.1" y="210.6" width="4.0" height="4.0" fill="none" stroke="#2a2ae0" stroke-width="1.0"/>
<rect x="620.5" y="210.3" width="4.0" height="4.0" fill="none" stroke="#2a2ae0" stroke-width="1.0"/>
<rect x="622.0" y="209.0" width="4.0" height="4.0" fill="none" stroke="#2a2ae0" stroke-width="1.0"/>
<rect x="623.4" y="209.9" width="4.0" height="4.0" fill="none" stroke="#2a2ae0" stroke-width="1.0"/>
<rect x="624.9" y="209.9" width="4.0" height="4.0" fill="none" stroke="#2a2ae0" stroke-width="1.0"/>
<rect x="626.3" y="209.4" width="4.0" height="4.0" fill="none" stroke="#2a2ae0" stroke-width="1.0"/>
<rect x="627.8" y="210.8" width="4.0" height="4.0" fill="none" stroke="#2a2ae0" stroke-width="1.0"/>
<rect x="629.2" y="211.7" width="4.0" height="4.0" fill="none" stroke="#2a2ae0" stroke-width="1.0"/>
<rect x="630.7" y="212.9" width="4.0" height="4.0" fill="none" stroke="#2a2ae0" stroke-width="1.0"/>
<rect x="632.1" y="212.9" width="4.0" height="4.0" fill="none" stroke="#2a2ae0" stroke-width="1.0"/>
<rect x="633.6" y="212.7" width="4.0" height="4.0" fill="none" stroke="#2a2ae0" stroke-width="1.0"/>
<rect x="635.0" y="214.5" width="4.0" height="4.0" fill="none" stroke="#2a2ae0" stroke-width="1.0"/>
<rect x="636.5" y="212.8" width="4.0" height="4.0" fill="none" stroke="#2a2ae0" stroke-width="1.0"/>
<rect x="637.9" y="214.8" width="4.0" height="4.0" fill="none" stroke="#2a2ae0" stroke-width="1.0"/>
<rect x="639.4" y="215.5" width="4.0" height="4.0" fill="none" stroke="#2a2ae0" stroke-width="1.0"/>
<rect x="640.8" y="214.5" width="4.0" height="4.0" fill="none" stroke="#2a2ae0" stroke-width="1.0"/>
<rect x="642.3" y="213.5" width="4.0" height="4.0" fill="none" stroke="#2a2ae0" stroke-width="1.0"/>
<rect x="643.7" y="214.7" width="4.0" height="4.0" fill="none" stroke="#2a2ae0" stroke-width="1.0"/>
<rect x="645.2" y="216.2" width="4.0" height="4.0" fill="none" stroke="#2a2ae0" stroke-width="1.0"/>
<rect x="646.6" y="216.7" width="4.0" height="4.0" fill="none" stroke="#2a2ae0" stroke-width="1.0"/>
<rect x="648.1" y="218.1" width="4.0" height="4.0" fill="none" stroke="#2a2ae0" stroke-width="1.0"/>
<rect x="649.5" y="215.8" width="4.0" height="4.0" fill="none" stroke="#2a2ae0" stroke-width="1.0"/>
<rect x="651.0" y="217.0" width="4.0" height="4.0" fill="none" stroke="#2a2ae0" stroke-width="1.0"/>
<rect x="652.4" y="217.9" width="4.0" height="4.0" fill="none" stroke="#2a2ae0" stroke-width="1.0"/>
<rect x="653.9" y="217.2" width="4.0" height="4.0" fill="none" stroke="#2a2ae0" stroke-width="1.0"/>
<circle cx="565.5" cy="281.1" r="1.95" fill="none" stroke="#000" stroke-width="0.7"/>
<circle cx="567.4" cy="284.3" r="1.95" fill="none" stroke="#000" stroke-width="0.7"/>
<circle cx="569.2" cy="285.5" r="1.95" fill="none" stroke="#000" stroke-width="0.7"/>
<circle cx="571.1" cy="282.5" r="1.95" fill="none" stroke="#000" stroke-width="0.7"/>
<circle cx="572.9" cy="280.8" r="1.95" fill="none" stroke="#000" stroke-width="0.7"/>
<circle cx="574.8" cy="283.4" r="1.95" fill="none" stroke="#000" stroke-width="0.7"/>
<circle cx="576.6" cy="284.1" r="1.95" fill="none" stroke="#000" stroke-width="0.7"/>
<circle cx="578.5" cy="284.9" r="1.95" fill="none" stroke="#000" stroke-width="0.7"/>
<circle cx="580.3" cy="279.8" r="1.95" fill="none" stroke="#000" stroke-width="0.7"/>
<circle cx="582.2" cy="279.2" r="1.95" fill="none" stroke="#000" stroke-width="0.7"/>
<circle cx="584.0" cy="282.8" r="1.95" fill="none" stroke="#000" stroke-width="0.7"/>
<circle cx="585.9" cy="281.8" r="1.95" fill="none" stroke="#000" stroke-width="0.7"/>
<circle cx="587.7" cy="283.5" r="1.95" fill="none" stroke="#000" stroke-width="0.7"/>
<circle cx="589.6" cy="282.0" r="1.95" fill="none" stroke="#000" stroke-width="0.7"/>
<circle cx="591.4" cy="279.4" r="1.95" fill="none" stroke="#000" stroke-width="0.7"/>
<circle cx="593.3" cy="278.6" r="1.95" fill="none" stroke="#000" stroke-width="0.7"/>
<circle cx="595.1" cy="283.8" r="1.95" fill="none" stroke="#000" stroke-width="0.7"/>
<circle cx="597.0" cy="277.7" r="1.95" fill="none" stroke="#000" stroke-width="0.7"/>
<circle cx="598.8" cy="276.2" r="1.95" fill="none" stroke="#000" stroke-width="0.7"/>
<circle cx="600.7" cy="275.2" r="1.95" fill="none" stroke="#000" stroke-width="0.7"/>
<circle cx="602.5" cy="277.7" r="1.95" fill="none" stroke="#000" stroke-width="0.7"/>
<circle cx="604.4" cy="277.8" r="1.95" fill="none" stroke="#000" stroke-width="0.7"/>
<circle cx="606.2" cy="276.8" r="1.95" fill="none" stroke="#000" stroke-width="0.7"/>
<circle cx="608.1" cy="277.4" r="1.95" fill="none" stroke="#000" stroke-width="0.7"/>
<circle cx="609.9" cy="278.0" r="1.95" fill="none" stroke="#000" stroke-width="0.7"/>
<circle cx="611.8" cy="278.9" r="1.95" fill="none" stroke="#000" stroke-width="0.7"/>
<circle cx="613.6" cy="279.7" r="1.95" fill="none" stroke="#000" stroke-width="0.7"/>
<circle cx="615.5" cy="277.9" r="1.95" fill="none" stroke="#000" stroke-width="0.7"/>
<circle cx="617.3" cy="273.9" r="1.95" fill="none" stroke="#000" stroke-width="0.7"/>
<circle cx="619.2" cy="278.9" r="1.95" fill="none" stroke="#000" stroke-width="0.7"/>
<circle cx="621.0" cy="274.7" r="1.95" fill="none" stroke="#000" stroke-width="0.7"/>
<circle cx="622.9" cy="277.2" r="1.95" fill="none" stroke="#000" stroke-width="0.7"/>
<circle cx="624.7" cy="274.6" r="1.95" fill="none" stroke="#000" stroke-width="0.7"/>
<circle cx="626.6" cy="277.5" r="1.95" fill="none" stroke="#000" stroke-width="0.7"/>
<circle cx="628.4" cy="275.9" r="1.95" fill="none" stroke="#000" stroke-width="0.7"/>
<circle cx="630.3" cy="277.9" r="1.95" fill="none" stroke="#000" stroke-width="0.7"/>
<circle cx="632.1" cy="284.1" r="1.95" fill="none" stroke="#000" stroke-width="0.7"/>
<circle cx="634.0" cy="277.4" r="1.95" fill="none" stroke="#000" stroke-width="0.7"/>
<circle cx="635.8" cy="279.2" r="1.95" fill="none" stroke="#000" stroke-width="0.7"/>
<circle cx="637.7" cy="274.9" r="1.95" fill="none" stroke="#000" stroke-width="0.7"/>
<circle cx="639.5" cy="276.9" r="1.95" fill="none" stroke="#000" stroke-width="0.7"/>
<circle cx="641.4" cy="278.8" r="1.95" fill="none" stroke="#000" stroke-width="0.7"/>
<circle cx="643.2" cy="277.3" r="1.95" fill="none" stroke="#000" stroke-width="0.7"/>
<circle cx="645.1" cy="278.2" r="1.95" fill="none" stroke="#000" stroke-width="0.7"/>
<circle cx="646.9" cy="277.7" r="1.95" fill="none" stroke="#000" stroke-width="0.7"/>
<circle cx="648.8" cy="278.0" r="1.95" fill="none" stroke="#000" stroke-width="0.7"/>
<circle cx="650.6" cy="281.1" r="1.95" fill="none" stroke="#000" stroke-width="0.7"/>
<circle cx="652.5" cy="278.4" r="1.95" fill="none" stroke="#000" stroke-width="0.7"/>
<circle cx="654.3" cy="283.7" r="1.95" fill="none" stroke="#000" stroke-width="0.7"/>
<circle cx="587.0" cy="272.0" r="1.95" fill="none" stroke="#000" stroke-width="0.7"/>
<circle cx="588.0" cy="275.0" r="1.95" fill="none" stroke="#000" stroke-width="0.7"/>
<circle cx="600.0" cy="269.0" r="1.95" fill="none" stroke="#000" stroke-width="0.7"/>
<circle cx="606.0" cy="271.0" r="1.95" fill="none" stroke="#000" stroke-width="0.7"/>
<circle cx="612.0" cy="270.0" r="1.95" fill="none" stroke="#000" stroke-width="0.7"/>
<circle cx="614.0" cy="267.0" r="1.95" fill="none" stroke="#000" stroke-width="0.7"/>
<circle cx="630.0" cy="273.0" r="1.95" fill="none" stroke="#000" stroke-width="0.7"/>
<circle cx="640.0" cy="272.0" r="1.95" fill="none" stroke="#000" stroke-width="0.7"/>
<rect x="564.4" y="175.5" width="91.89999999999998" height="118.80000000000001" fill="none" stroke="#444" stroke-width="1"/>
<text x="583.6" y="175.5" font-size="9.8" text-anchor="middle" fill="#000" font-weight="normal" font-family='"Liberation Serif", serif' >Γ</text><line x1="581.15" y1="165.7" x2="586.0500000000001" y2="165.7" stroke="#000" stroke-width="0.8"/>
<line x1="607" y1="170.3" x2="627.4" y2="170.3" stroke="#000" stroke-width="1.0"/><path d="M631.6,170.3 L624.6,168.4 L626.0,170.3 L624.6,172.20000000000002 Z" fill="#000"/>
<text x="646.5" y="174.5" font-size="9.8" text-anchor="middle" fill="#000" font-weight="normal" font-family='"Liberation Serif", serif' >M</text><line x1="644.05" y1="164.7" x2="648.95" y2="164.7" stroke="#000" stroke-width="0.8"/>
</svg></body></html>
